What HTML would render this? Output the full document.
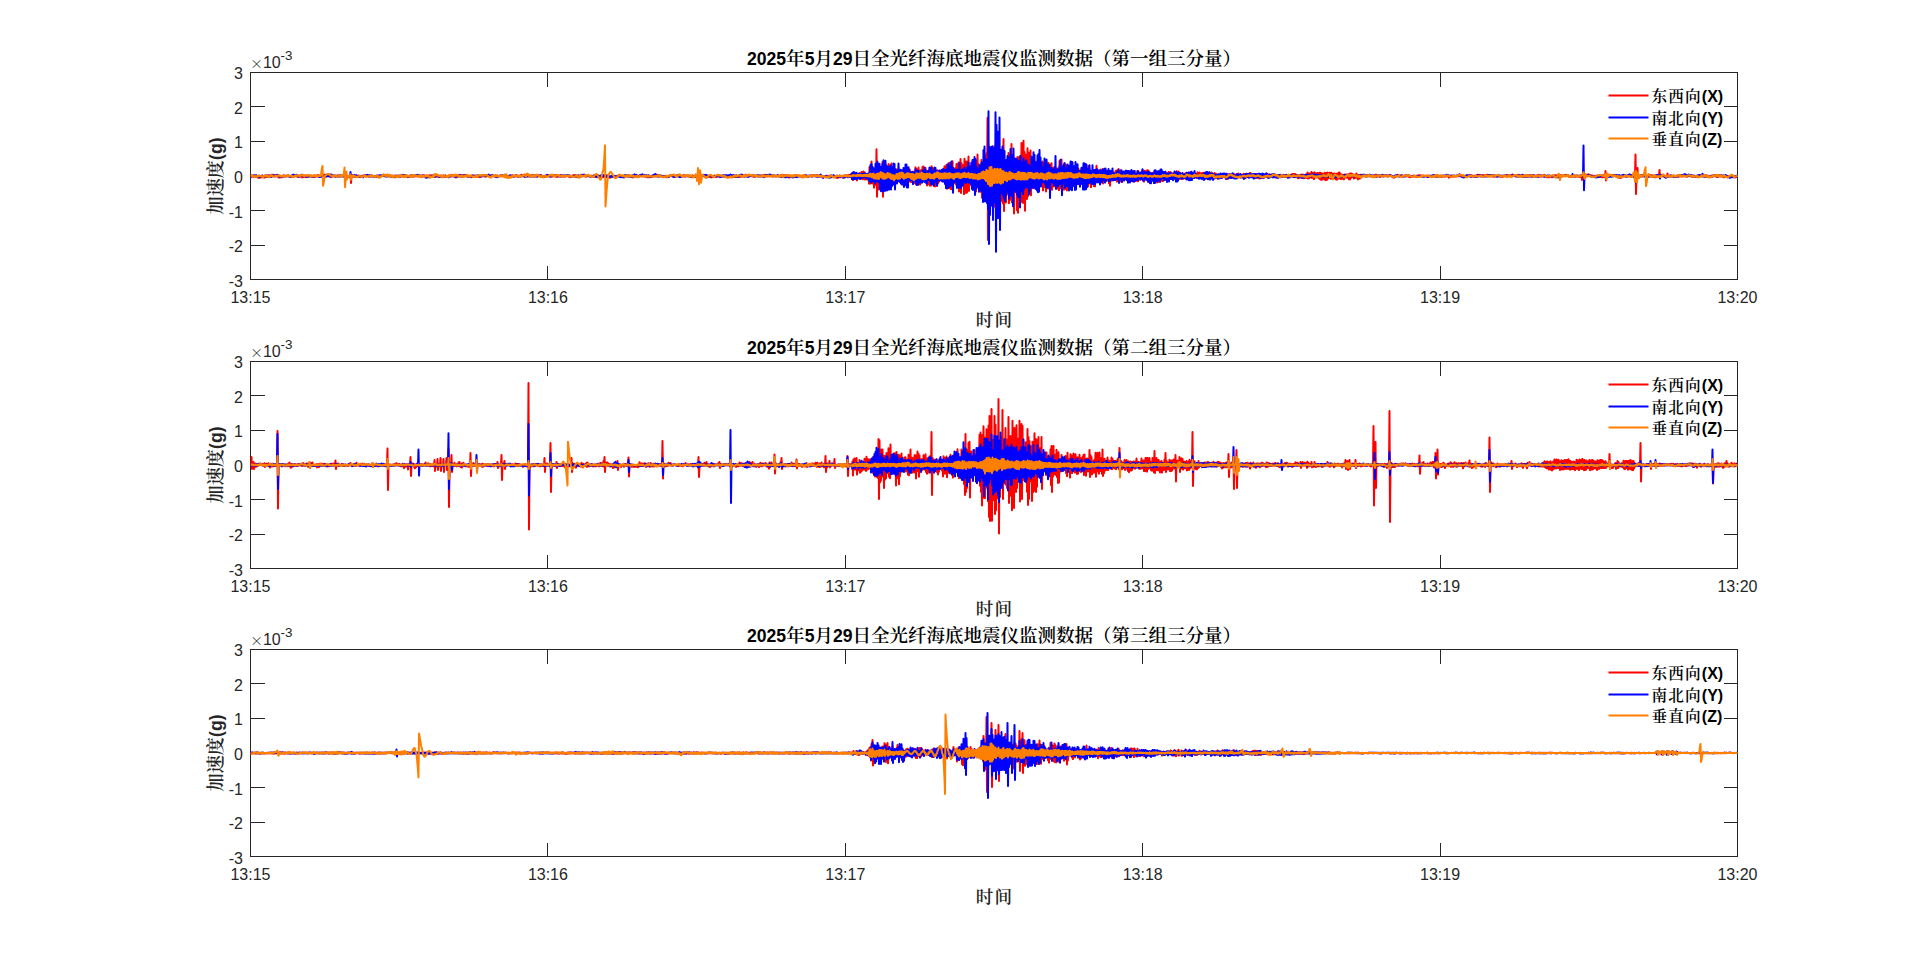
<!DOCTYPE html>
<html lang="zh-CN">
<head>
<meta charset="utf-8">
<title>全光纤海底地震仪监测数据</title>
<style>
html,body{margin:0;padding:0;background:#fff;overflow:hidden}
svg{display:block}
text{font-family:"Liberation Sans","Noto Serif CJK SC",sans-serif;fill:#262626}
.la{font-family:"Liberation Sans",sans-serif}
.cj{font-family:"Noto Serif CJK SC","Noto Sans CJK SC",serif;font-weight:600}
.b .la{font-weight:700}
.k{fill:#000}
.mx{font-family:"Noto Sans CJK SC","Liberation Sans",sans-serif;font-weight:300}
.w{fill:none;stroke-width:2;stroke-linejoin:round;stroke-linecap:butt}
.ax{fill:none;stroke:#262626;stroke-width:1;shape-rendering:crispEdges}
</style>
</head>
<body>
<svg width="1920" height="963" viewBox="0 0 1920 963">
<rect width="1920" height="963" fill="#fff"/>
<defs>
<clipPath id="c0"><rect x="250.5" y="72.5" width="1487.5" height="207.0"/></clipPath>
<clipPath id="c1"><rect x="250.5" y="361.5" width="1487.5" height="207.0"/></clipPath>
<clipPath id="c2"><rect x="250.5" y="649.5" width="1487.5" height="207.0"/></clipPath>
</defs>
<g id="plot1">
<path class="ax" d="M250.5,72.5H1737.5V279.5H250.5ZM547.5,279.5v-14M547.5,72.5v14M845.5,279.5v-14M845.5,72.5v14M1142.5,279.5v-14M1142.5,72.5v14M1440.5,279.5v-14M1440.5,72.5v14M250.5,106.5h14M1737.5,106.5h-14M250.5,141.5h14M1737.5,141.5h-14M250.5,176.5h14M1737.5,176.5h-14M250.5,210.5h14M1737.5,210.5h-14M250.5,245.5h14M1737.5,245.5h-14"/>
<g clip-path="url(#c0)">
<path class="w" stroke="#ff0000" d="M250.5,176.5l.5 .3l.5-.9l.5 .3l.5-.4l.5 .7l.5-.2l.5 .7l.5-.7l.5 .3l.5-.5l.5 .7l.5-.2l.5 .6l.5-.1l.5 .5l.5-.4l.5 .4l.5-.6l.5 .7l.5-1.2l.5 .7l.5-1.1l.5 1.3l.5-1.8l.5 1.3l.5-.5l.5 1.1l.5-1.2l.5 1.1l.5-1.4l.5 .7l.5-1.5l.5 1.1l.5-.5l.5 1.3l.5-1.5l.5 .7l.5-.9l.5 1.1l.5-.6l.5 1.1l.5-2.2l.5 1.3l.5-1.4l.5 1.4l.5-1.2l.5 1.2l.5-.8l.5 .7l.5-.6l.5 .3l.5-.4l.5 .8l.5-.3l.5 1l.5 .2l.5 .6l.5-.6l.5 .3l.5-.5l.5 .6l.5-.6l.5 .3l.5-.5l.5 0l.5-.8l.5 .2l.5-.5l.5 .3l.5-.1l.5 .6l.5-.3l.5 .2l.5-.2l.5 0l.5-.5l.5 .6l.5-.1l.5 .5l.5 .1l.5 .6l.5-.4l.5 .1l.5-.6l.5 .2l.5-.8l.5 .1l.5-.6l.5 .1l.5-.2l.5 .5l.5 .1l.5 .9l.5-.2l.5 .3l.5-.5l.5 0l.5-.5l.5 .4l.5 .1l.5 .5l.5-.3l.5 1l.5-.7l.5 .5l.5-.8l.5 .1l.5-.6l.5 .8l.5-.4l.5 .8l.5-.3l.5 .2l.5-.9l.5 .5l.5-1.1l.5 .7l.5-.4l.5 .3l.5-.4l.5 .9l.5-.6l.5 1l.5-.8l.5 .6l.5-.5l.5 .6l.5-.7l.5 .6l.5-1l.5 .7l.5-1l.5 .6l.5-.7l.5 .9l.5-1.1l.5 .9l.5-.5l.5 .6l.5-.6l.5 .6l.5-.3l.5 .2l.5-.5l.5-.1l.5-.7l.5 .3l.5-.5l.5 .9l.5-.4l.5 .8l.5-.9l.5 .8l.5-.3l.5 .6l.5-.4l.5 .5l.5-.1l.5 .5l.5-.1l.5 .5l.5-.3l.5 .2l.5-.7l.5 0l.5-.5l.5 .2l.5-.4l.5 .5l.5-.5l.5 .4l.5-.4l.5 .4l.5-.4l.5 .4l.5-.4l.5 .7l.5-.2l.5 .4l.5-.9l.5 .8l.5-.6l.5 .3l.5-.2l.5 .4l.5-.8l.5 1l.5-.3l.5 .4l.5-.5l.5 .9l.5-1.2l.5 1.3l.5-.8l.5 .7l.5-.6l.5 .6l.5-.6l.5 .8l.5-2.1l.5 8l.5-7.3l.5 .5l.5-.9l.5 .7l.5-.5l.5 .7l.5-.4l.5 1.2l.5-1.2l.5 .9l.5-.2l.5 .5l.5-.8l.5 .4l.5-1.1l.5 .8l.5-.6l.5 .6l.5-.5l.5 .7l.5-.7l.5 .7l.5-.7l.5 .7l.5-.9l.5 .4l.5-.3l.5 .7l.5-1.1l.5 .7l.5-.8l.5 .7l.5-.7l.5 .7l.5-.4l.5 .7l.5-.2l.5 .6l.5-.6l.5 .6l.5-1.1l.5 .4l.5-.3l.5 .6l.5-.1l.5 .9l.5-.5l.5 .6l.5-.9l.5 .8l.5-1l.5 .3l.5-.4l.5 .6l.5-.5l.5 .7l.5-.4l.5 .4l.5-.6l.5 .5l.5-.9l.5 .3l.5-.8l.5 .6l.5-.6l.5 .6l.5-.6l.5 .4l.5-.6l.5 .7l.5-.5l.5 1l.5-.6l.5 .6l.5-.3l.5 .4l.5-.6l.5 .8l.5-.6l.5 .6l.5-.7l.5 .6l.5-.6l.5 1.2l.5-1.2l.5 1.1l.5-.6l.5 .6l.5-1.3l.5 .8l.5-.9l.5 .6l.5-.2l.5 .4l.5-.3l.5 .2l.5-.4l.5 .6l.5-.4l.5 .5l.5-.8l.5 .6l.5-.8l.5 .9l.5-1.1l.5 .8l.5-.1l.5 .6l.5-.6l.5 .8l.5-.9l.5 .5l.5-.7l.5 .5l.5-.1l.5 .7l.5-.5l.5 .1l.5-.9l.5 .5l.5-.2l.5 .4l.5-.1l.5 .4l.5-.4l.5 .4l.5-.6l.5 .4l.5-.6l.5 .5l.5-1l.5 .5l.5-.4l.5 .7l.5-.2l.5 .5l.5-.2l.5 .4l.5-.4l.5 .3l.5-.4l.5 .1l.5-.4l.5 0l.5-.5l.5 .5l.5-.3l.5 .7l.5-.2l.5 .5l.5-.3l.5 .2l.5-.6l.5 .3l.5-.4l.5 .2l.5-.4l.5 .4l.5-.5l.5 .5l.5-.4l.5 .6l.5-.4l.5 .6l.5-.2l.5 1l.5-.6l.5 .4l.5-.8l.5 .5l.5-1l.5 .8l.5-.4l.5 .8l.5-.2l.5 .5l.5-.8l.5 .7l.5-1.1l.5 .4l.5-.6l.5 .7l.5-.6l.5 .4l.5-.3l.5 .4l.5-.5l.5 .6l.5-.9l.5 1.1l.5-.5l.5 .5l.5-.4l.5 .3l.5-.6l.5 .2l.5-.3l.5 .5l.5-.2l.5 .5l.5-.8l.5 .3l.5-.4l.5 .9l.5-1l.5 .7l.5-.4l.5 .7l.5-.2l.5 1.2l.5-1.1l.5 .2l.5-.9l.5 .7l.5-.9l.5 .6l.5-.4l.5 .5l.5-.7l.5 .8l.5-1.1l.5 .7l.5-.8l.5 .8l.5-.3l.5 .4l.5-.7l.5 .6l.5-1l.5 .9l.5-.7l.5 1.2l.5-.4l.5 .7l.5-.8l.5 .6l.5-.5l.5 .5l.5-.3l.5 .7l.5-.5l.5 .6l.5-1.1l.5 .6l.5-.8l.5 .2l.5-.3l.5 .4l.5-.3l.5 .8l.5-.7l.5 .8l.5-.6l.5 .7l.5-.5l.5 .9l.5-.5l.5 .4l.5-.4l.5 0l.5-.6l.5 .1l.5-.4l.5 .4l.5-.1l.5 .6l.5-.2l.5 .3l.5-.3l.5 .3l.5-.8l.5 .2l.5-.5l.5 .5l.5-.3l.5 .4l.5-.5l.5 .6l.5-.5l.5 .4l.5-.6l.5 .5l.5-1l.5 .8l.5 0l.5 .4l.5-.3l.5 .4l.5-.9l.5 .7l.5-.6l.5 .8l.5-.7l.5 .8l.5-.4l.5 .3l.5-.3l.5 .3l.5-.5l.5 .1l.5-.6l.5 .4l.5-.3l.5 .4l.5-.3l.5 .9l.5-.5l.5 .8l.5-.4l.5 .7l.5-.1l.5 .2l.5-.3l.5 .3l.5-.7l.5 .1l.5-.6l.5 .2l.5-.4l.5 .4l.5-.2l.5 .3l.5-.9l.5 1l.5-.8l.5 .7l.5-.6l.5 .4l.5-.7l.5 .4l.5-.6l.5 .9l.5-.2l.5 .6l.5-.5l.5 .5l.5-.6l.5 0l.5-.6l.5 .9l.5-1.2l.5 1.3l.5-.7l.5 .4l.5-.6l.5 .4l.5-1.1l.5 .8l.5-.6l.5 .7l.5-1l.5 1.4l.5-.6l.5 .8l.5-.7l.5 .7l.5-.6l.5 1.1l.5-1.5l.5 .9l.5-.8l.5 1.4l.5-1.3l.5 .5l.5-.4l.5 .8l.5-.5l.5 .4l.5-.9l.5 1l.5-.7l.5 .5l.5-.5l.5 .8l.5-.5l.5 .3l.5-.9l.5 .5l.5-.7l.5 1l.5-.6l.5 1.1l.5-.2l.5 .7l.5-.3l.5 .4l.5-1l.5 .2l.5-.6l.5 .3l.5-.5l.5 .3l.5-.4l.5 .3l.5-.4l.5 .6l.5-.4l.5 1l.5-.6l.5 .5l.5-.3l.5 .4l.5-.6l.5 .3l.5-.4l.5 .4l.5-.3l.5 .5l.5-.1l.5 .5l.5-.2l.5 .3l.5-.6l.5 .1l.5-.4l.5 0l.5-.4l.5 .2l.5-.7l.5 .8l.5-.3l.5 .5l.5-.6l.5 .9l.5-.3l.5 .5l.5-.4l.5 .4l.5-.3l.5 .1l.5-.7l.5 .2l.5-.9l.5 .8l.5-.1l.5 1l.5-.5l.5 1l.5-.8l.5 .3l.5-.6l.5 .2l.5-.8l.5 .7l.5-1.1l.5 .8l.5-.7l.5 .9l.5-1l.5 1.2l.5-1l.5 1.5l.5-.9l.5 .9l.5-1.1l.5 1l.5-.7l.5 .5l.5-1.1l.5 .7l.5-.9l.5 1l.5-1.1l.5 .8l.5-.8l.5 .7l.5-.5l.5 .9l.5-.7l.5 1.1l.5-.6l.5 .2l.5-.5l.5 .3l.5-.4l.5 .5l.5-.3l.5 .7l.5-.7l.5 .2l.5-.3l.5 .3l.5-.3l.5 .9l.5-.6l.5 .5l.5-.2l.5 .6l.5-.8l.5 .3l.5-.8l.5 .2l.5-.5l.5 .5l.5-.4l.5 .7l.5-.2l.5 .8l.5-.7l.5 .7l.5-.5l.5 1l.5-1l.5 1.1l.5-1.4l.5 .4l.5-.8l.5 .9l.5-.7l.5 .7l.5-1l.5 1.3l.5-1.3l.5 1l.5-.4l.5 .7l.5-.2l.5 1.3l.5-1l.5 .4l.5-.7l.5 .2l.5-.5l.5 .2l.5-.4l.5 .6l.5-.3l.5 .8l.5-.8l.5 .9l.5-1.1l.5 .7l.5-1l.5 .2l.5-.8l.5 .1l.5-.2l.5 .8l.5-.2l.5 .6l.5 0l.5 .4l.5-.1l.5 .2l.5-.5l.5 .3l.5-.8l.5 .3l.5-.3l.5 .2l.5-.3l.5 .1l.5-.4l.5 .7l.5-.6l.5 .4l.5-.4l.5 .7l.5-.5l.5 .8l.5-.7l.5 1.1l.5-.2l.5 .8l.5-.4l.5 0l.5-.6l.5 .3l.5-1l.5 .3l.5-.3l.5 .9l.5-.7l.5 .5l.5-.6l.5 .5l.5-1.1l.5 .1l.5-.5l.5 .5l.5-.4l.5 1.1l.5-.7l.5 .9l.5-1.1l.5 .9l.5-.4l.5 .6l.5-.6l.5 .8l.5-1.4l.5 1.6l.5-1l.5 1.7l.5-1l.5 .9l.5-.4l.5 .2l.5-.8l.5 .2l.5-.7l.5 .6l.5-.8l.5 .6l.5-.7l.5 .4l.5-.4l.5 .5l.5-.6l.5 .7l.5-.5l.5 .5l.5-.9l.5 .7l.5-.8l.5 .5l.5-.4l.5 .7l.5-.4l.5 .7l.5-.5l.5 .9l.5-.4l.5 .6l.5-.4l.5 .4l.5-.5l.5 .3l.5-.5l.5 .6l.5-.6l.5 1.2l.5-1.3l.5 1l.5-.8l.5 .7l.5-.8l.5 .1l.5-1.2l.5 .4l.5-.4l.5 .7l.5-.4l.5 .8l.5-.2l.5 .8l.5-.3l.5 .5l.5-.6l.5 .2l.5-.8l.5-.2l.5-.5l.5 .6l.5-.2l.5 .6l.5 0l.5 .4l.5-.4l.5 .5l.5-.5l.5 .4l.5-.3l.5 .2l.5-.4l.5 .4l.5-.2l.5 .1l.5-.1l.5 .2l.5-.4l.5 0l.5-.3l.5 .4l.5-.1l.5 .6l.5-.3l.5 .6l.5-.6l.5 .5l.5-.6l.5 .3l.5-1.1l.5 .9l.5-.4l.5 .6l.5-.4l.5 .7l.5-.7l.5 .4l.5-.4l.5 .5l.5-.5l.5 .4l.5-.7l.5 .4l.5-.6l.5 .3l.5-.4l.5 .4l.5-.5l.5 .4l.5-.7l.5 .8l.5-.9l.5 .5l.5-.1l.5 1l.5-.5l.5 1.3l.5-.7l.5 1l.5-.8l.5 .4l.5-1.1l.5 .8l.5-.4l.5 .7l.5-.8l.5 1.1l.5-1.1l.5 1.2l.5-1.1l.5 .3l.5-.3l.5 .2l.5-1l.5 1.2l.5-.4l.5 .6l.5-.6l.5 .4l.5-.5l.5 .2l.5-.7l.5 .4l.5-.5l.5 1.1l.5-1.2l.5 .8l.5-.5l.5 .7l.5-.3l.5 .3l.5-.5l.5 .5l.5-.3l.5 .4l.5-.5l.5 .4l.5-.4l.5 .6l.5-.2l.5 .4l.5-.7l.5 .8l.5-.6l.5 .3l.5-.9l.5 0l.5-.7l.5 .5l.5-.3l.5 .8l.5 0l.5 .7l.5-.2l.5 .4l.5-.3l.5 .3l.5-.5l.5 .4l.5-.9l.5 .6l.5-.3l.5 .6l.5-.5l.5 .4l.5-.6l.5 .5l.5-1.1l.5 .7l.5-.4l.5 .4l.5-.8l.5 .5l.5-.6l.5 .2l.5-1l.5 .9l.5-.2l.5 .8l.5-.5l.5 .8l.5-.3l.5 .3l.5-.4l.5 .2l.5-.5l.5 .2l.5-.3l.5 .6l.5-.5l.5 .7l.5-.1l.5 .4l.5-.4l.5 .6l.5-.6l.5 0l.5-.8l.5 .2l.5-.4l.5 .4l.5-.3l.5 .8l.5-.2l.5 .4l.5-.3l.5 .4l.5-.7l.5 .4l.5-.5l.5 .3l.5-.8l.5 .1l.5-.5l.5 .5l.5-.2l.5 .8l.5 .1l.5 .4l.5-.2l.5 .2l.5-.6l.5 .2l.5-.5l.5 .2l.5-.4l.5 .3l.5 0l.5 .6l.5-.1l.5 .6l.5-.6l.5 .1l.5-.2l.5 .3l.5-.4l.5 .3l.5-.4l.5 .2l.5-.6l.5 .8l.5-.7l.5 .5l.5-.3l.5 .4l.5-.4l.5 .5l.5-1.1l.5 1.1l.5-1.4l.5 1.2l.5-.8l.5 .6l.5-.6l.5 .7l.5-.8l.5 .3l.5-.3l.5 1.1l.5-.6l.5 1.4l.5-.4l.5 1.1l.5-1.1l.5 .5l.5-.9l.5 .8l.5-1.2l.5 1.1l.5-.4l.5 .6l.5-.9l.5 .8l.5-1.4l.5 .4l.5-.8l.5 1.4l.5-1.5l.5 1l.5-.4l.5 .6l.5-.8l.5 .7l.5-.4l.5 .4l.5-.3l.5 .4l.5-.5l.5 .8l.5-.9l.5 .5l.5-.7l.5 .3l.5-.5l.5 .6l.5-.9l.5 1.4l.5-.3l.5 .7l.5 0l.5 .4l.5-.6l.5 .1l.5-.7l.5 .3l.5-.8l.5 .3l.5-.4l.5 .5l.5-.7l.5 .8l.5-.8l.5 .6l.5-.5l.5 .8l.5-.4l.5 .3l.5-.9l.5 .8l.5-.9l.5 1l.5-.3l.5 .8l.5-.7l.5 .7l.5-.5l.5 .8l.5-.5l.5 .5l.5-.5l.5 .3l.5-.4l.5 .8l.5-.5l.5 .3l.5-.4l.5 .2l.5-.8l.5 .6l.5-.4l.5 .5l.5-.5l.5 .2l.5-.4l.5 .1l.5-.3l.5 .3l.5-.2l.5 .4l.5-.1l.5 .5l.5-.7l.5 .3l.5-.2l.5 .6l.5 .1l.5 .9l.5-.3l.5 .7l.5-.9l.5 .8l.5-.9l.5 .2l.5-.4l.5 .5l.5-.7l.5 .6l.5-.8l.5 .6l.5-.5l.5 .8l.5-.4l.5 .9l.5-1.2l.5 .7l.5-.8l.5 .3l.5-1.1l.5 .6l.5-.8l.5 .2l.5-.7l.5 .5l.5-.5l.5 .6l.5-.7l.5 1.2l.5-2.6l.5 5.6l.5-5.3l.5 6.4l.5-6.7l.5 5.7l.5-4.8l.5 3.8l.5-4l.5 4.8l.5-3.5l.5 5l.5-6l.5 3.4l.5-4.1l.5 3.1l.5-3.5l.5 3.7l.5-2.3l.5 4.2l.5-6.8l.5 6.3l.5-5.8l.5 6.6l.5-7.8l.5 7.3l.5-6.3l.5 7.2l.5-5.6l.5 4.4l.5-4.1l.5 5.2l.5-5.6l.5 4.7l.5-4.4l.5 9.4l.5-16.5l.5 16.7l.5-16.6l.5 15.8l.5-21.4l.5 21.7l.5-14.9l.5 15l.5-14.5l.5 18.8l.5-16.1l.5 12.9l.5-15.8l.5 16.4l.5-35.8l.5 47.4l.5-30l.5 23l.5-21l.5 13.2l.5-12.2l.5 11.9l.5-13.8l.5 15.2l.5-12.3l.5 14.6l.5-23.3l.5 34.7l.5-27.8l.5 15.9l.5-12l.5 9.7l.5-18.5l.5 20.3l.5-12.9l.5 8.2l.5-13.3l.5 14.4l.5-16.6l.5 17.5l.5-13.4l.5 13.5l.5-15.9l.5 15.4l.5-17.7l.5 21.9l.5-17.1l.5 15.5l.5-12.4l.5 12.3l.5-12.8l.5 14.2l.5-13.3l.5 10.4l.5-12.6l.5 13.2l.5-11.4l.5 8.7l.5-11.1l.5 10.4l.5-9.1l.5 9.5l.5-9l.5 10.2l.5-9.1l.5 12.7l.5-14.1l.5 9.1l.5-8l.5 8.1l.5-9.3l.5 12.9l.5-15.4l.5 11.8l.5-11.8l.5 11.4l.5-6.7l.5 7.6l.5-8.3l.5 8.9l.5-11.5l.5 12.1l.5-9.7l.5 10.4l.5-8.6l.5 7.7l.5-9.1l.5 6.9l.5-7.3l.5 8l.5-8.2l.5 11.8l.5-16l.5 17.2l.5-15.4l.5 15.4l.5-13.5l.5 13.6l.5-17l.5 16.3l.5-12l.5 12.7l.5-14.2l.5 12.1l.5-12.5l.5 10.5l.5-13.6l.5 12.2l.5-12.5l.5 14.7l.5-9.8l.5 6.7l.5-10.4l.5 15.2l.5-11.4l.5 13.9l.5-14.2l.5 13.1l.5-13.7l.5 12l.5-13.7l.5 16.7l.5-17.8l.5 17.6l.5-19.3l.5 16.5l.5-15l.5 14.2l.5-13.2l.5 17.4l.5-16.7l.5 17l.5-14l.5 8.9l.5-9.6l.5 14.2l.5-15.7l.5 13.3l.5-12.1l.5 10.3l.5-10.2l.5 7.6l.5-5.9l.5 7.1l.5-10.4l.5 9.1l.5-6.4l.5 7.2l.5-8.5l.5 8.6l.5-13.6l.5 16l.5-13.7l.5 17.3l.5-21.2l.5 24.1l.5-16.6l.5 14.2l.5-22.6l.5 24.5l.5-25.2l.5 21l.5-21.7l.5 26.8l.5-21.6l.5 21.5l.5-27.8l.5 19.6l.5-8.3l.5 7.8l.5-11.2l.5 13.1l.5-14.3l.5 16.5l.5-20.6l.5 17.7l.5-13.9l.5 12.7l.5-17.8l.5 28.8l.5-29l.5 21.4l.5-24.8l.5 34.1l.5-30.2l.5 23l.5-17.6l.5 14.1l.5-17.6l.5 29.4l.5-35.4l.5 23.9l.5-13.6l.5 23.8l.5-31.4l.5 31l.5-27.4l.5 21.3l.5-30l.5 34.6l.5-24.8l.5 18.3l.5-18.6l.5 18.4l.5-21.9l.5 21l.5-20.5l.5 19l.5-10.8l.5 16.1l.5-22.3l.5 20.7l.5-21.4l.5 27.2l.5-31l.5 21.9l.5-27.9l.5 33.4l.5-23.8l.5 27l.5-21.5l.5 19l.5-19.7l.5 23.3l.5-32l.5 37.7l.5-30.1l.5 32.1l.5-34.4l.5 24.1l.5-28.2l.5 33.7l.5-39.4l.5 38.5l.5-41.1l.5 39.9l.5-74.9l.5 122l.5-93.5l.5 41.9l.5-29.6l.5 54.1l.5-50.8l.5 22.5l.5-22.3l.5 34.5l.5-45.8l.5 43.7l.5-47.3l.5 48.2l.5-49l.5 60.1l.5-60.5l.5 54.3l.5-66.6l.5 81.3l.5-68.5l.5 50.4l.5-36.3l.5 31.3l.5-40l.5 54.4l.5-48.5l.5 42.9l.5-42.2l.5 42l.5-37l.5 39.9l.5-64.6l.5 72l.5-46.8l.5 22.4l.5-23.1l.5 38.9l.5-42.7l.5 34.7l.5-31.5l.5 27.9l.5-37.9l.5 50.4l.5-45.3l.5 42l.5-45.7l.5 40.3l.5-50.5l.5 58.5l.5-47.3l.5 43.5l.5-37.1l.5 51.9l.5-55.4l.5 29l.5-27.3l.5 28l.5-28.8l.5 51.1l.5-53.1l.5 55.6l.5-54.7l.5 33.4l.5-34.7l.5 46.2l.5-47.1l.5 43.2l.5-56l.5 59l.5-43l.5 44.1l.5-62.4l.5 49.2l.5-37.9l.5 58.7l.5-56.1l.5 34.8l.5-32.1l.5 41.6l.5-50.7l.5 47.7l.5-43.5l.5 34.5l.5-20l.5 19.6l.5-35.9l.5 44.7l.5-26.8l.5 17.6l.5-17.5l.5 19.3l.5-22.1l.5 15.3l.5-18.7l.5 26.1l.5-23.1l.5 21.8l.5-25l.5 23.2l.5-24.3l.5 24.9l.5-18.4l.5 18.9l.5-27.1l.5 22.4l.5-16.6l.5 16.1l.5-18.5l.5 22.4l.5-23.7l.5 29l.5-27.1l.5 23.9l.5-22.2l.5 19.1l.5-13.6l.5 20.8l.5-30l.5 20.9l.5-14.2l.5 20.4l.5-25.6l.5 23.8l.5-22.1l.5 25.4l.5-22.8l.5 19.9l.5-23.9l.5 26.5l.5-21.6l.5 18.1l.5-15.6l.5 15.8l.5-19.4l.5 16.2l.5-14.9l.5 11.8l.5-11.4l.5 11.3l.5-11.4l.5 20.1l.5-17.8l.5 19.4l.5-29.4l.5 23.4l.5-19.1l.5 23.2l.5-29l.5 31l.5-21l.5 13.7l.5-17l.5 23.7l.5-26l.5 25.1l.5-24.4l.5 21.4l.5-16.7l.5 21.3l.5-25.3l.5 23.6l.5-20.2l.5 12.5l.5-10.6l.5 9.9l.5-10.4l.5 9.7l.5-7.1l.5 12.3l.5-13.1l.5 6.9l.5-7.4l.5 11.3l.5-10.8l.5 9.6l.5-11.4l.5 11l.5-15.3l.5 17.6l.5-13.3l.5 14.3l.5-15.5l.5 14.2l.5-9.6l.5 7l.5-9.7l.5 12.3l.5-14.1l.5 13.1l.5-9.2l.5 10.7l.5-17l.5 14.4l.5-8.7l.5 12.1l.5-17.8l.5 17.6l.5-12.8l.5 9.1l.5-10l.5 16l.5-20.5l.5 15l.5-11.8l.5 14.6l.5-13.2l.5 16.8l.5-15.4l.5 10l.5-10.6l.5 12.5l.5-13l.5 15.3l.5-15.7l.5 16l.5-16.7l.5 10.6l.5-14.5l.5 13.9l.5-8.4l.5 7.3l.5-6.1l.5 6.8l.5-6.6l.5 7.5l.5-10.7l.5 9.3l.5-8.4l.5 11.1l.5-10.1l.5 12.1l.5-14.2l.5 9.9l.5-10.5l.5 12.3l.5-10.4l.5 9.8l.5-7.6l.5 7.8l.5-9l.5 9.1l.5-7.5l.5 9.9l.5-10.8l.5 13.3l.5-12.4l.5 7.6l.5-6.9l.5 6.2l.5-8.3l.5 8.6l.5-7.4l.5 6.8l.5-6l.5 6l.5-8.5l.5 8.4l.5-9.1l.5 11l.5-8.9l.5 6.3l.5-10l.5 11.4l.5-7.6l.5 8.7l.5-11.2l.5 10.9l.5-6.7l.5 7.5l.5-9.8l.5 7l.5-6.4l.5 7.6l.5-7.6l.5 6.5l.5-5.7l.5 4.4l.5-5.1l.5 7.2l.5-6.6l.5 4.9l.5-7.4l.5 8.9l.5-8.1l.5 5.1l.5-4.1l.5 6.9l.5-8.4l.5 9.8l.5-8.6l.5 5.2l.5-5l.5 9l.5-10.8l.5 8.5l.5-6.1l.5 5.6l.5-4.8l.5 6.9l.5-8.7l.5 9l.5-10l.5 7.4l.5-5.2l.5 6.3l.5-5.9l.5 4.4l.5-5.8l.5 6.4l.5-9l.5 10.2l.5-7.1l.5 8.6l.5-10.8l.5 6.2l.5-5.1l.5 6.1l.5-7.2l.5 7.7l.5-8.3l.5 9.6l.5-9.1l.5 11.2l.5-9.2l.5 7.7l.5-7.4l.5 5.6l.5-5.1l.5 6.4l.5-6.8l.5 7.4l.5-5.3l.5 4.5l.5-8.1l.5 9.9l.5-7.6l.5 5.7l.5-5.5l.5 8.3l.5-9.9l.5 9.6l.5-10.7l.5 9.5l.5-8l.5 6.2l.5-8.4l.5 9.1l.5-8.8l.5 9.9l.5-8.7l.5 8.9l.5-8.4l.5 7.4l.5-6.8l.5 6.6l.5-6.7l.5 4.4l.5-4.2l.5 3.7l.5-3.9l.5 5.2l.5-6.3l.5 6.7l.5-6l.5 5.3l.5-5.9l.5 6.2l.5-4.8l.5 4l.5-4.1l.5 3.7l.5-3.9l.5 5.4l.5-4.6l.5 3.2l.5-4.2l.5 5.1l.5-7l.5 8.5l.5-6.8l.5 7.3l.5-8.7l.5 6.3l.5-3.5l.5 4.6l.5-5.8l.5 5.6l.5-3.4l.5 3.6l.5-4l.5 3.9l.5-3.7l.5 3.2l.5-4.5l.5 4l.5-4.4l.5 5.8l.5-5l.5 3.9l.5-3.5l.5 2.6l.5-3.8l.5 3.7l.5-2.3l.5 4.1l.5-6.9l.5 7l.5-6.4l.5 6.4l.5-4.1l.5 2.5l.5-1.6l.5 2l.5-3.3l.5 2.7l.5-1.8l.5 2.2l.5-3.6l.5 3.9l.5-5.6l.5 5.8l.5-4.3l.5 2.5l.5-3.8l.5 5.4l.5-4.3l.5 3.5l.5-3.9l.5 3.9l.5-3.9l.5 3.4l.5-3.8l.5 5.3l.5-4.8l.5 3.6l.5-2.3l.5 2.5l.5-3.4l.5 3.7l.5-3.8l.5 5.2l.5-5l.5 4.8l.5-4.8l.5 3.4l.5-3.8l.5 5.2l.5-6.1l.5 5.5l.5-3.7l.5 3.8l.5-3l.5 2.5l.5-4.7l.5 5.3l.5-4.2l.5 2.9l.5-2.7l.5 3.7l.5-3l.5 3.9l.5-3.1l.5 2.4l.5-2.6l.5 2.3l.5-4.1l.5 3.7l.5-2.4l.5 2.3l.5-3l.5 2.6l.5-3l.5 3.1l.5-1.7l.5 2.2l.5-3.6l.5 5.2l.5-4.2l.5 3.1l.5-3.7l.5 4.6l.5-4.4l.5 3.3l.5-2.9l.5 2.5l.5-1.8l.5 2.4l.5-2.2l.5 1.5l.5-2.3l.5 1.6l.5-2.8l.5 2.7l.5-1.8l.5 1.9l.5-1.7l.5 2.4l.5-3.3l.5 3.1l.5-2.5l.5 1.6l.5-2.6l.5 3.1l.5-1.5l.5 1.5l.5-1.5l.5 2.6l.5-2.6l.5 2.1l.5-2.5l.5 2.4l.5-3.4l.5 4.2l.5-3.7l.5 3.6l.5-3l.5 2.9l.5-3.1l.5 2.3l.5-2.6l.5 2.7l.5-3.2l.5 2.4l.5-3l.5 2.9l.5-3.2l.5 4l.5-2.4l.5 2.3l.5-2.4l.5 1.7l.5-2.2l.5 2.8l.5-2l.5 2.5l.5-3.1l.5 3.8l.5-3.4l.5 2.8l.5-3.3l.5 3.3l.5-3.3l.5 4.2l.5-3.2l.5 3.5l.5-3.1l.5 2.4l.5-2.8l.5 2.6l.5-2.4l.5 2.1l.5-2.3l.5 1.9l.5-2l.5 1.3l.5-1.4l.5 1.8l.5-2.2l.5 1.8l.5-2.4l.5 2.9l.5-1.9l.5 1.2l.5-1.8l.5 2.2l.5-1.1l.5 1.5l.5-1.6l.5 1.5l.5-2.2l.5 2.6l.5-2.4l.5 1.5l.5-1.5l.5 1.7l.5-.9l.5 1.8l.5-1.2l.5 1.4l.5-2.4l.5 2.3l.5-2.5l.5 1.6l.5-1.7l.5 2l.5-1.9l.5 1.3l.5-1.4l.5 1.4l.5-1.3l.5 .9l.5-1.1l.5 2.1l.5-1.2l.5 1.3l.5-1.9l.5 1.6l.5-1.4l.5 1.4l.5-1.1l.5 1.2l.5-1.2l.5 1.3l.5-1.6l.5 1.2l.5-1.5l.5 1.5l.5-1.9l.5 1.7l.5-2.3l.5 2.1l.5-2.2l.5 2.3l.5-2.2l.5 3l.5-2.8l.5 2l.5-1l.5 2.2l.5-1.9l.5 2.8l.5-2.8l.5 2.4l.5-2.5l.5 2l.5-2.4l.5 2.5l.5-3.1l.5 3.4l.5-3.1l.5 2.5l.5-2.5l.5 3.5l.5-2.5l.5 2.4l.5-3.1l.5 2.8l.5-3.6l.5 3.9l.5-5.5l.5 5.8l.5-4.6l.5 4.5l.5-4.9l.5 4l.5-3.8l.5 3.1l.5-4.6l.5 5.9l.5-4.5l.5 3.3l.5-3.9l.5 6.2l.5-6.9l.5 4.8l.5-3.2l.5 3.5l.5-3.7l.5 3.9l.5-4.5l.5 3.6l.5-3.2l.5 5.1l.5-5.8l.5 6.3l.5-6.3l.5 7.1l.5-6.6l.5 6.5l.5-6l.5 4.1l.5-3.3l.5 4.7l.5-6.4l.5 6.9l.5-6.5l.5 7l.5-7l.5 6.5l.5-7.2l.5 5.9l.5-4l.5 3.8l.5-5.5l.5 4.7l.5-4.3l.5 5.7l.5-6l.5 3.5l.5-2.5l.5 3.7l.5-3.7l.5 4.4l.5-4.6l.5 4.8l.5-4.5l.5 5.4l.5-5.5l.5 5.9l.5-5.9l.5 4.9l.5-5.9l.5 5.5l.5-5.9l.5 6l.5-3.8l.5 4.5l.5-4.8l.5 4.3l.5-3.6l.5 3.7l.5-3.8l.5 4.5l.5-4.9l.5 3.1l.5-2.3l.5 2l.5-2.7l.5 3.2l.5-3.4l.5 3.4l.5-2.6l.5 4.1l.5-5.6l.5 5.8l.5-5.9l.5 4.3l.5-4.4l.5 3.7l.5-2.9l.5 2.4l.5-2.1l.5 4l.5-3.7l.5 2.9l.5-3.4l.5 3.3l.5-4.1l.5 4.1l.5-2.5l.5 4.2l.5-4.3l.5 2.5l.5-2.3l.5 3.4l.5-3.9l.5 1.8l.5-1.9l.5 1.8l.5-1.1l.5 .6l.5-.7l.5 .5l.5-.4l.5 .7l.5-.7l.5 .8l.5-.8l.5 .5l.5-.7l.5 .5l.5-.4l.5 .6l.5-.6l.5 .8l.5-.3l.5 .4l.5-.4l.5 .5l.5-.5l.5 .5l.5-.5l.5 .8l.5-1l.5 .1l.5-1l.5 .7l.5-.7l.5 .9l.5-.2l.5 .7l.5-.5l.5 .9l.5-.4l.5 .9l.5-.9l.5 .4l.5-.9l.5 .6l.5-.4l.5 .7l.5-.8l.5 .4l.5-.8l.5 .3l.5-.3l.5 .5l.5-.6l.5 .9l.5-.3l.5 .6l.5-.7l.5 .4l.5-.9l.5 .2l.5-.4l.5 .8l.5-.3l.5 .8l.5 .1l.5 1l.5-.4l.5 .7l.5-.6l.5 .1l.5-.8l.5 .1l.5-.8l.5 .2l.5-1.1l.5 .6l.5-.2l.5 .7l.5-.4l.5 .6l.5-.8l.5 .6l.5-.4l.5 1.1l.5-.5l.5 .7l.5-.5l.5 .1l.5-1l.5 .5l.5-.5l.5 .5l.5-.6l.5 1l.5-.6l.5 .6l.5-.8l.5 1.4l.5-.5l.5 .8l.5-.9l.5 .7l.5-.7l.5 .5l.5-.7l.5 .4l.5-1l.5 .8l.5-.4l.5 .7l.5-.4l.5 .3l.5-.5l.5 .1l.5-.6l.5 .3l.5-.5l.5 .4l.5-.4l.5 .5l.5-.5l.5 .7l.5-.5l.5 .4l.5-.2l.5 .4l.5-.5l.5 .7l.5-.4l.5 .2l.5-.3l.5 .3l.5-.4l.5 .8l.5-.3l.5 .3l.5-.5l.5 .4l.5-.7l.5 .5l.5-.3l.5 .6l.5-.1l.5 .5l.5-.6l.5 .2l.5-1.1l.5 .8l.5-.5l.5 .4l.5-.5l.5 .7l.5-.8l.5 .8l.5-.9l.5 .7l.5-.4l.5 .5l.5-.7l.5 1.3l.5-1.2l.5 .6l.5-.4l.5 1l.5-1.1l.5 .7l.5-.7l.5 .8l.5-.4l.5 .4l.5-.6l.5 .3l.5-.8l.5 .9l.5-1.1l.5 1.3l.5-.1l.5 1.3l.5-1l.5 .3l.5-.4l.5 .3l.5-.5l.5 .2l.5-.7l.5 .3l.5-.4l.5 .9l.5-.7l.5 .3l.5-.4l.5 .3l.5-.5l.5 .6l.5-.6l.5 .6l.5-.6l.5 .4l.5-.6l.5 .7l.5-.3l.5 .3l.5-.5l.5 .3l.5-.5l.5 .4l.5-.4l.5 .7l.5-.5l.5 .5l.5-.4l.5 .1l.5-.4l.5 .5l.5-.7l.5 .7l.5-.2l.5 .5l.5-.4l.5 .5l.5-1l.5 1.3l.5-1.5l.5 1l.5-.5l.5 1.3l.5-1.2l.5 .6l.5-.7l.5 .6l.5-.7l.5 .5l.5-.7l.5 .9l.5-1.5l.5 1l.5-.8l.5 .6l.5-.7l.5 1l.5-.8l.5 .8l.5-.6l.5 1l.5-1l.5 .6l.5-.6l.5 .1l.5-.4l.5 .7l.5-.5l.5 .6l.5-.9l.5 .9l.5-1.1l.5 1.3l.5-.7l.5 .7l.5-.4l.5 .5l.5-.5l.5 .4l.5-.6l.5 .8l.5-.6l.5 .9l.5-.5l.5 .8l.5-.7l.5 .2l.5-.6l.5 .5l.5-.5l.5 .2l.5-.2l.5 .2l.5-.4l.5 .5l.5-.3l.5 .9l.5-.3l.5 .5l.5-.3l.5 .5l.5-.4l.5 .2l.5-.3l.5 0l.5-.7l.5 .4l.5-.9l.5 .4l.5-.2l.5 .3l.5-.5l.5 .2l.5-.4l.5 .2l.5-.2l.5 .8l.5-.2l.5 .4l.5-.6l.5 .1l.5-1.1l.5 .8l.5-.4l.5 .3l.5-.1l.5 .7l.5-.5l.5 .5l.5-.5l.5 .6l.5-1l.5 1.1l.5-1.1l.5 1.2l.5-.7l.5 1.1l.5-1.1l.5 1l.5-.7l.5 .9l.5-.9l.5 1.3l.5-.7l.5 .5l.5-.8l.5 .3l.5-.6l.5 .4l.5-.9l.5 1.1l.5-.4l.5 .4l.5-.9l.5 .6l.5-.8l.5 .6l.5-.7l.5 .9l.5-.5l.5 .3l.5-.8l.5 .7l.5-.6l.5 .8l.5-.4l.5 .7l.5-.3l.5 .4l.5-.5l.5 .6l.5-.9l.5 .7l.5-1.4l.5 1.2l.5-.5l.5 1l.5-.9l.5 1l.5-.6l.5 .6l.5-.8l.5 .1l.5-.9l.5 .3l.5-.4l.5 .6l.5-.3l.5 1.3l.5-.6l.5 1.4l.5-.7l.5 .7l.5-.6l.5 .4l.5-.7l.5 .4l.5-.5l.5 .3l.5-.2l.5 .8l.5-.8l.5 .2l.5-.9l.5 .4l.5-.9l.5 .6l.5-.4l.5 .4l.5-.4l.5 .8l.5-.3l.5 .5l.5-.9l.5 .8l.5-.7l.5 .3l.5-.6l.5 .4l.5-.2l.5 .5l.5-.5l.5 .7l.5-.6l.5 0l.5-.6l.5 .4l.5-.4l.5 .3l.5-.4l.5 .8l.5-.5l.5 .9l.5-.2l.5 .9l.5-.6l.5 .7l.5-.5l.5 .1l.5-.5l.5 .5l.5-.6l.5 .4l.5-.4l.5 .6l.5-.5l.5 .5l.5-.6l.5 .3l.5-.6l.5 .5l.5-.6l.5 .5l.5-.3l.5 .7l.5-.4l.5 .9l.5-.6l.5 .1l.5-1.4l.5 5l.5-4.5l.5 .6l.5-.5l.5 .9l.5-.3l.5 .4l.5-.6l.5 .1l.5-.7l.5 .1l.5-.9l.5 .5l.5-.8l.5 .7l.5-.2l.5 .7l.5-.3l.5 .7l.5-.5l.5 .7l.5-.3l.5 .4l.5-.4l.5 .9l.5-.8l.5 .5l.5-.6l.5 .3l.5-.5l.5 .5l.5-.3l.5 .6l.5-.1l.5 .7l.5-.2l.5 .3l.5-.4l.5 .4l.5-.3l.5 .6l.5-.6l.5 .2l.5-.2l.5 .3l.5-.6l.5 .3l.5-5.8l.5 9.5l.5-4.4l.5 .2l.5-.5l.5 .3l.5-1l.5 .1l.5-.4l.5 .4l.5-.1l.5 .6l.5-.4l.5 .3l.5-.4l.5 .3l.5-.5l.5 .5l.5-.5l.5 .6l.5-.4l.5 .5l.5-.4l.5 1.2l.5-.5l.5 1.4l.5-.3l.5 .7l.5-.1l.5 .2l.5-1.1l.5 .9l.5-.9l.5 .1l.5-1l.5 .1l.5-.9l.5 1.2l.5-1l.5 .5l.5-.7l.5 .9l.5-.2l.5 .6l.5-.6l.5 .2l.5-1.1l.5 .7l.5-.5l.5 1l.5-.6l.5 .6l.5-.3l.5 .3l.5-.3l.5 .3l.5-.2l.5 .4l.5-.3l.5 .2l.5-21.7l.5 39.5l.5-18.2l.5 .3l.5-8.1l.5 10l.5-2l.5 .2l.5-.4l.5 .4l.5-.5l.5 .6l.5-.5l.5 .5l.5-1.1l.5 1l.5-.8l.5 .3l.5-1.2l.5 1.1l.5-.4l.5 1.8l.5-.7l.5 .7l.5-1l.5 .7l.5-1l.5 .3l.5-1l.5 .8l.5-.6l.5 .4l.5-.4l.5 .8l.5-.7l.5 1.2l.5-.5l.5 1l.5-.9l.5 1.3l.5-1.1l.5 .8l.5-.8l.5 .2l.5-.7l.5 .2l.5-.5l.5 .4l.5-5.9l.5 7l.5-1.5l.5 .6l.5-.2l.5 .4l.5-.4l.5 .4l.5-.6l.5 .8l.5-.2l.5 .5l.5-.5l.5 .4l.5-.6l.5 .6l.5-3.2l.5 3.5l.5-1l.5 .5l.5-.8l.5 .4l.5-.3l.5 .3l.5-.4l.5 .5l.5-.1l.5 .5l.5-.1l.5 .4l.5-.5l.5 .5l.5-.6l.5 .2l.5-.5l.5 .6l.5-.6l.5 .6l.5-.7l.5 .7l.5-.7l.5 .1l.5-.5l.5 .7l.5-.6l.5 .6l.5-.6l.5 .5l.5-.7l.5 .3l.5-.4l.5 .5l.5-.2l.5 .5l.5-.3l.5 1.1l.5-1.1l.5 .4l.5-.6l.5 .2l.5-.6l.5 .5l.5-.2l.5 1l.5-.6l.5 .9l.5-.8l.5 .8l.5-.7l.5 .6l.5-.9l.5 .8l.5-.3l.5 .5l.5-.8l.5 .3l.5-.3l.5 .6l.5-.6l.5 .4l.5-.9l.5 .2l.5-.6l.5 .2l.5-.4l.5 .3l.5-.2l.5 .7l.5-.4l.5 .4l.5-.3l.5 .2l.5-.3l.5 .5l.5-.5l.5 .9l.5-.3l.5 .7l.5-.7l.5 .6l.5-.6l.5 .6l.5-.5l.5 .9l.5-1.3l.5 1l.5-.9l.5 .2l.5-.6l.5 .7l.5-.9l.5 .7l.5-.3l.5 1.2l.5-.5l.5 .4l.5-1.2l.5 1.4l.5-1.7l.5 .6l.5-.4l.5 1l.5-.6l.5 .7l.5-.6l.5 .7l.5-.5l.5 .8l.5-.4l.5 1l.5-1.4l.5 .6l.5-.6l.5 .6l.5-.4l.5 .6l.5-.3l.5 .1l.5-.4l.5 .5l.5-.7l.5 .4l.5-.3l.5 .4l.5-.3l.5 .4l.5-.1l.5 .8l.5-.5l.5 .4l.5-.3l.5 .5l.5-.6l.5 .2l.5-.6l.5 0l.5-.7"/>
<path class="w" stroke="#0000ff" d="M250.5,176.5l.5 .3l.5-.5l.5 .1l.5-.6l.5 .3l.5-.9l.5 .7l.5-.7l.5 .7l.5-.6l.5 .4l.5-.5l.5 1.2l.5 0l.5 .5l.5-.2l.5 .5l.5-.8l.5 .6l.5-.8l.5 .1l.5-.6l.5 .6l.5-.7l.5 .5l.5-.2l.5 .2l.5-.3l.5 .4l.5-.6l.5 .8l.5-.4l.5 .5l.5-.7l.5 .1l.5-.6l.5 .6l.5-.2l.5 1.4l.5-.3l.5 .2l.5-.9l.5 .3l.5-.9l.5 .4l.5-.5l.5 .7l.5-.6l.5 .9l.5-.9l.5 .3l.5-.5l.5 0l.5-.5l.5 .9l.5-.1l.5 .9l.5-.7l.5 .7l.5-.2l.5 .4l.5-.7l.5 .7l.5-.7l.5 .5l.5-1l.5 .7l.5-.2l.5 .6l.5-.6l.5 .5l.5-.7l.5 .2l.5-.3l.5 .4l.5-.5l.5 .9l.5-.5l.5 .9l.5-.8l.5 .3l.5-.8l.5 .3l.5-.8l.5 .3l.5-.9l.5 .8l.5-.1l.5 .5l.5-.5l.5 .8l.5-1.2l.5 1l.5-.8l.5 1.5l.5-.4l.5 .8l.5-.9l.5 .2l.5-.8l.5 .2l.5-.9l.5 1l.5-.8l.5 .8l.5-.3l.5 .8l.5-.5l.5 .4l.5-.4l.5 .5l.5-.4l.5 .7l.5-.3l.5 .5l.5-.3l.5 .2l.5-.5l.5 .3l.5-.5l.5 .2l.5-.4l.5 .4l.5-.2l.5 .5l.5-.4l.5 .4l.5-.3l.5 .1l.5-.3l.5 .3l.5-.3l.5 .4l.5-.5l.5 .5l.5 0l.5 .6l.5-.3l.5 .3l.5-.8l.5 .6l.5-.7l.5 .3l.5-.5l.5 .4l.5-.7l.5 1.1l.5-1l.5 1.2l.5-.8l.5 .5l.5-.8l.5 .8l.5-1l.5 .5l.5-.7l.5 .9l.5-.8l.5 1l.5-2l.5 .8l.5-.6l.5 .9l.5-.3l.5 .7l.5-.5l.5 .8l.5-.4l.5 .9l.5-.9l.5 1.2l.5-1l.5 .6l.5-.8l.5 .8l.5-.8l.5 .6l.5-1.4l.5 1l.5-.5l.5 .8l.5-.5l.5 .6l.5-.5l.5 .6l.5-.8l.5 .3l.5-.7l.5 .4l.5-.4l.5 .8l.5-.4l.5 .9l.5-.4l.5 .6l.5-.6l.5 .3l.5-.4l.5 .5l.5-4.6l.5 5l.5-1.5l.5 .4l.5-.2l.5 .7l.5-.6l.5 .6l.5-1.4l.5 1.3l.5-.9l.5 .8l.5-.9l.5 1.3l.5-.7l.5 1l.5-.6l.5 .6l.5-.9l.5 .6l.5-.6l.5 .9l.5-.6l.5 .7l.5-.5l.5 .8l.5-1.6l.5 .3l.5-.8l.5 .7l.5-.6l.5 .8l.5-.7l.5 .6l.5-1.1l.5 1.1l.5-.5l.5 1.1l.5-1.3l.5 .5l.5-.3l.5 .6l.5-.3l.5 .5l.5-.2l.5 .6l.5-.5l.5 .3l.5-.8l.5 1l.5-.4l.5 .4l.5-1l.5 .6l.5-1l.5 .8l.5-.6l.5 .6l.5-.7l.5 .5l.5-.6l.5 .5l.5-.6l.5 .4l.5-.2l.5 .3l.5-.6l.5 .7l.5-.4l.5 1l.5-.5l.5 .6l.5-.7l.5 .6l.5-.7l.5 .5l.5-1.1l.5 .7l.5-.6l.5 .8l.5-.4l.5 1.1l.5-.7l.5 .5l.5-.8l.5 .7l.5-.3l.5 .7l.5-1.1l.5 1.5l.5-1.2l.5 1.1l.5-1l.5 .5l.5-.9l.5 .9l.5-1.1l.5 1.1l.5-.6l.5 .6l.5-.9l.5 .4l.5-.9l.5 .6l.5-1.1l.5 1.1l.5-.6l.5 .6l.5-.8l.5 .6l.5-.5l.5 1l.5-.4l.5 1.3l.5-.4l.5 .5l.5-.8l.5 .6l.5-.9l.5 .2l.5-.8l.5 .2l.5-.4l.5 .7l.5-.5l.5 .9l.5-.9l.5 .5l.5-.8l.5 .9l.5-.5l.5 .2l.5-.6l.5 .4l.5-.6l.5 .3l.5-.4l.5 .6l.5-.4l.5 .9l.5-.4l.5 1l.5-.7l.5 .4l.5-.8l.5 .6l.5-.2l.5 .7l.5-.3l.5 .6l.5 0l.5 .8l.5-.5l.5 .5l.5-1l.5 .7l.5-.8l.5 .8l.5-.6l.5 .5l.5-.9l.5 .3l.5-.8l.5 .4l.5-.6l.5 .5l.5-.8l.5 1.3l.5-.8l.5 .8l.5-1.4l.5 1.1l.5-1l.5 .9l.5-.4l.5 .6l.5-.5l.5 .7l.5-.4l.5 .7l.5-.7l.5 .6l.5-.7l.5 .5l.5-.4l.5 .6l.5-1.2l.5 1l.5-.8l.5 .8l.5-.3l.5 .5l.5-.3l.5 .5l.5-.4l.5 .6l.5-.4l.5 .3l.5-.6l.5 .1l.5-.7l.5 .4l.5-1.2l.5 .4l.5-.3l.5 .7l.5-.2l.5 .7l.5-.6l.5 .9l.5-.8l.5 .7l.5-1.1l.5 1l.5-1.1l.5 .7l.5-1.1l.5 1.1l.5-1.2l.5 .8l.5-.5l.5 1.1l.5-.2l.5 .7l.5-.6l.5 .3l.5-1.2l.5 .9l.5-1l.5 .8l.5-.5l.5 .8l.5-.6l.5 .7l.5-.3l.5 .5l.5-.3l.5 .6l.5-.3l.5 .4l.5-.2l.5 .3l.5-.8l.5 0l.5-.9l.5 .7l.5-.4l.5 .6l.5-.3l.5 .4l.5-.6l.5 .3l.5-.5l.5 .5l.5-.5l.5 .2l.5-.5l.5 .6l.5-.4l.5 .7l.5-.4l.5 .6l.5-.7l.5 .7l.5-1.2l.5 .6l.5-.4l.5 .3l.5-.5l.5 .7l.5-.7l.5 .6l.5-.4l.5 .3l.5-.5l.5 .6l.5-1.2l.5 1.1l.5-.3l.5 .8l.5-.6l.5 .6l.5-.7l.5 .7l.5-1.1l.5 .9l.5-.4l.5 .6l.5-.2l.5 .6l.5-.2l.5 .7l.5-.2l.5 .3l.5-.8l.5 .3l.5-.6l.5 0l.5-.4l.5 .3l.5-.8l.5 .7l.5-.4l.5 .2l.5-.4l.5 .1l.5-.4l.5 .2l.5-.5l.5 .3l.5 0l.5 .5l.5 0l.5 .7l.5-.1l.5 .4l.5-.5l.5 .1l.5-.6l.5 .2l.5-.4l.5 .6l.5-.4l.5 .6l.5-.3l.5 .7l.5-.4l.5 .7l.5-.7l.5 .3l.5-.7l.5 .6l.5-.7l.5 .6l.5-.2l.5 .8l.5-.9l.5 .5l.5-.4l.5 .5l.5-.7l.5 .3l.5-.5l.5 .5l.5-.4l.5 .5l.5-.4l.5 .6l.5-.2l.5 .8l.5-.6l.5 .6l.5-.7l.5 .2l.5-.9l.5 .5l.5-.4l.5 .5l.5-.3l.5 .5l.5-.8l.5 .7l.5-.7l.5 .2l.5-.6l.5 1.3l.5-.9l.5 .8l.5-.9l.5 .7l.5-.1l.5 .5l.5-.7l.5 .7l.5-.9l.5 .4l.5-.5l.5 .3l.5-.6l.5 .3l.5-.4l.5 .5l.5-.2l.5 .7l.5-.2l.5 .3l.5-.3l.5 .3l.5-.4l.5 .4l.5-.6l.5 .4l.5-.8l.5 .1l.5-.5l.5 .5l.5 0l.5 .8l.5-.1l.5 .5l.5-.7l.5 .3l.5-.3l.5 .4l.5-.5l.5 .2l.5-.4l.5 .1l.5-.4l.5 .5l.5-.8l.5 .3l.5-.4l.5 .3l.5 0l.5 .5l.5-.3l.5 1.1l.5-.4l.5 .4l.5-.9l.5 1l.5-1.1l.5 .6l.5-.3l.5 .4l.5-.8l.5 .5l.5-.6l.5 .4l.5-.3l.5 .3l.5-.5l.5 .5l.5-.5l.5 .4l.5-.3l.5 .7l.5-.7l.5 .5l.5 0l.5 .6l.5-.1l.5 .3l.5-.6l.5 .3l.5-.6l.5 .9l.5-.4l.5 .6l.5-.3l.5 .3l.5-.5l.5 .5l.5-.9l.5 .6l.5-1.2l.5 1.1l.5-.7l.5 .9l.5-.8l.5 .3l.5-1.2l.5 .8l.5-.8l.5 .6l.5-.8l.5 .9l.5-1l.5 1.4l.5-.3l.5 .6l.5-.6l.5 .6l.5-1l.5 .6l.5-.2l.5 .6l.5-.3l.5 .6l.5-.5l.5 .8l.5-.8l.5 .5l.5-.5l.5 .2l.5-.7l.5 .1l.5-.4l.5 .5l.5-.2l.5 .9l.5-.3l.5 .9l.5-1l.5 .6l.5-1l.5 .7l.5-.4l.5 .9l.5-1.4l.5 .8l.5-.9l.5 .4l.5-1.1l.5 1l.5-.3l.5 .6l.5-.4l.5 .9l.5-.7l.5 .6l.5-.3l.5 1l.5-.7l.5 .4l.5-.8l.5 .5l.5-.2l.5 .6l.5-.6l.5 .5l.5-.7l.5 .6l.5-.6l.5 .4l.5-.4l.5 .7l.5-.9l.5 1l.5-.6l.5 .6l.5-.7l.5 .7l.5-.6l.5 .2l.5-.1l.5 .3l.5-.1l.5 .4l.5-.3l.5 .6l.5-.8l.5 .4l.5-.2l.5 .6l.5-.8l.5 .9l.5-2.1l.5 1.1l.5-1.1l.5 .9l.5-1l.5 .6l.5-.5l.5 1.3l.5-1.3l.5 1.1l.5-.7l.5 1l.5-.4l.5 .6l.5-.8l.5 .7l.5-1.4l.5 1.5l.5-1.8l.5 .6l.5-1.3l.5 1.3l.5-.7l.5 1l.5-1.1l.5 1.2l.5-.4l.5 .6l.5-.3l.5 .4l.5-.6l.5 .4l.5-.8l.5 .3l.5-.8l.5 .4l.5-1l.5 1.2l.5-.6l.5 .6l.5-.3l.5 1.3l.5-.9l.5 .6l.5-.5l.5 .5l.5-.5l.5 .2l.5-.7l.5 .7l.5-.2l.5 .9l.5-.6l.5 1.2l.5-.8l.5 .3l.5-.8l.5 .2l.5-1.2l.5 .1l.5-.6l.5 .3l.5-.6l.5 .7l.5-.1l.5 .8l.5-.1l.5 1.1l.5-.3l.5 .6l.5-.8l.5 .2l.5-.5l.5 .3l.5-.2l.5 .5l.5-.3l.5 .5l.5-.5l.5 .2l.5-.3l.5 .4l.5-.4l.5 .5l.5-.4l.5 .8l.5-.3l.5 .4l.5-.5l.5 .2l.5-.9l.5 .3l.5-.6l.5 .5l.5-.7l.5 1.1l.5-.1l.5 .4l.5-.4l.5 .7l.5-1.1l.5 .4l.5-.5l.5 .4l.5-.4l.5 .4l.5-.2l.5 .6l.5-.2l.5 .6l.5-.4l.5 .6l.5-.8l.5 .6l.5-.6l.5 .2l.5-.6l.5 .1l.5-1l.5 .9l.5-.4l.5 .9l.5-.6l.5 .4l.5-.4l.5 .5l.5-.5l.5 .5l.5-.4l.5 .2l.5-.4l.5 .3l.5-.3l.5 1.2l.5-.6l.5 .9l.5-.6l.5 .6l.5-.7l.5 .5l.5-.6l.5 .3l.5-.8l.5 .3l.5-.9l.5 .3l.5-.2l.5 .3l.5 0l.5 .6l.5-.4l.5 .1l.5-.5l.5 0l.5-.3l.5 .7l.5-.2l.5 .4l.5-.4l.5 .3l.5-.9l.5 0l.5-.3l.5 .3l.5 0l.5 .6l.5-.1l.5 .5l.5-.2l.5 .2l.5-.5l.5 0l.5-.4l.5 .7l.5 .1l.5 .8l.5-.3l.5 .3l.5-.5l.5 .4l.5-.6l.5 .4l.5-.4l.5 .3l.5-.4l.5 .2l.5-.7l.5 .7l.5-.5l.5 .6l.5-.5l.5 1.2l.5-.6l.5 .6l.5-.7l.5 0l.5-.6l.5 .4l.5-1.1l.5 1.2l.5-.9l.5 .6l.5-.5l.5 .3l.5-.6l.5 .9l.5-.5l.5 .5l.5-.7l.5 .4l.5-.7l.5 .5l.5-1l.5 1.5l.5-.4l.5 .6l.5-.7l.5 1l.5-1.4l.5 .8l.5-.4l.5 1.1l.5-1.1l.5 .7l.5-1l.5 1.7l.5-.6l.5 .6l.5-1l.5 .3l.5-1.2l.5 1.2l.5-1.4l.5 1.2l.5-1.4l.5 1l.5-.7l.5 .9l.5 0l.5 .5l.5 0l.5 .4l.5-.6l.5 .2l.5-.2l.5 .6l.5-.4l.5 .5l.5-.5l.5 .1l.5-.8l.5 .2l.5-.5l.5 .4l.5 0l.5 .5l.5-.5l.5 .1l.5-.6l.5 .5l.5-.2l.5 .5l.5-.2l.5 .2l.5-.4l.5 .5l.5-.5l.5 1l.5-1.4l.5 1.1l.5-.8l.5 .4l.5-.3l.5 .7l.5-1l.5 .9l.5-.6l.5 1l.5-.5l.5 1.1l.5-.6l.5 0l.5-.9l.5 .1l.5-.9l.5 .6l.5-.5l.5 .4l.5-.6l.5 .5l.5-.8l.5 .4l.5-.1l.5 .6l.5-.2l.5 .3l.5-.2l.5 .4l.5-.4l.5 .2l.5-.1l.5 .4l.5-.1l.5 .8l.5-.8l.5 .1l.5-.6l.5 .3l.5-.2l.5 .7l.5 0l.5 .5l.5-.2l.5 .7l.5-.5l.5 .4l.5-.3l.5 .6l.5-.6l.5 .3l.5-1.1l.5 1.3l.5-.6l.5 .8l.5-1.5l.5 .8l.5-.8l.5 1l.5-1l.5 .7l.5-1.2l.5 1.8l.5-.8l.5 .8l.5-.8l.5 .7l.5-1l.5 1.5l.5-1.1l.5 .8l.5-1.3l.5 .6l.5-.5l.5 1l.5-.7l.5 .8l.5-.9l.5 .2l.5-.4l.5 .4l.5-.5l.5 .4l.5-.2l.5 .2l.5-.3l.5 .6l.5-.5l.5 .3l.5-.4l.5 .3l.5-.4l.5 .3l.5-.5l.5 .1l.5-.4l.5 .5l.5-.2l.5 .4l.5-.4l.5 .1l.5-.3l.5 .4l.5-.2l.5 .6l.5-.1l.5 .5l.5-.5l.5 0l.5-.4l.5 .2l.5-.4l.5 .7l.5-.3l.5 .5l.5-.6l.5 .9l.5-.7l.5 .6l.5-.7l.5 .5l.5-1.3l.5 .3l.5-.9l.5 1.8l.5-1l.5 1.4l.5-.6l.5 1.8l.5-1.4l.5 .4l.5-.5l.5 .3l.5-.7l.5 .5l.5-.7l.5 .7l.5-.9l.5 1.4l.5-.8l.5 1.3l.5-.9l.5 .7l.5-1.1l.5 1.1l.5-1.9l.5 1.4l.5-.9l.5 .5l.5-1.4l.5 1.6l.5-.5l.5 .8l.5-.9l.5 .5l.5-.7l.5 .5l.5-.7l.5 .9l.5-.6l.5 .5l.5-.9l.5 .9l.5-.7l.5 1.2l.5-.7l.5 .5l.5-.6l.5 1.4l.5-1.2l.5 1l.5-1.2l.5 1.1l.5-1.8l.5 .8l.5-.4l.5 .4l.5-.2l.5 1.2l.5-1.1l.5 .8l.5-.9l.5 .9l.5-1.4l.5 .5l.5-2.2l.5 5.2l.5-6.1l.5 4.4l.5-5.4l.5 7.3l.5-6.8l.5 6.4l.5-5.3l.5 4.9l.5-5.8l.5 6.3l.5-4.8l.5 3.7l.5-4l.5 4.5l.5-4.8l.5 5.4l.5-4.9l.5 3.5l.5-3.4l.5 3.9l.5-4l.5 2.6l.5-2.4l.5 2.6l.5-3.7l.5 3.4l.5-3.2l.5 5.2l.5-4l.5 2.8l.5-3.7l.5 4.9l.5-4.8l.5 6.8l.5-7.7l.5 8.5l.5-16.3l.5 17.3l.5-18.3l.5 17.4l.5-14.7l.5 14.4l.5-13l.5 12.6l.5-10.5l.5 13.1l.5-19.7l.5 17.1l.5-10.8l.5 10.9l.5-19.2l.5 20.4l.5-13.4l.5 9.2l.5-14.1l.5 25.7l.5-21.8l.5 23.6l.5-24.9l.5 23.3l.5-25.7l.5 27.5l.5-31.2l.5 25.1l.5-22.2l.5 27.9l.5-30.4l.5 27.1l.5-22.1l.5 24.8l.5-23.4l.5 18.7l.5-19.1l.5 23.1l.5-22.5l.5 19.5l.5-21.5l.5 24.3l.5-22.5l.5 18.9l.5-18.4l.5 15.2l.5-19.4l.5 21.4l.5-20.8l.5 25.5l.5-20.5l.5 13.3l.5-10.4l.5 11.6l.5-12.7l.5 10.7l.5-18l.5 15.9l.5-8.5l.5 11.3l.5-12.4l.5 13.9l.5-13.4l.5 11.4l.5-11.2l.5 14.1l.5-16.7l.5 19l.5-16.9l.5 15.6l.5-21.2l.5 18.8l.5-18.6l.5 23l.5-17.6l.5 17.4l.5-20.2l.5 13.3l.5-9.9l.5 9l.5-7.1l.5 7.7l.5-7.8l.5 6.9l.5-7.6l.5 12.4l.5-11l.5 4.8l.5-5.2l.5 8l.5-11.4l.5 13.7l.5-9.1l.5 11l.5-14.1l.5 13.9l.5-14l.5 10.3l.5-8.1l.5 9.7l.5-9.8l.5 9.3l.5-8.8l.5 9.4l.5-12.1l.5 8.9l.5-7.1l.5 9l.5-13.6l.5 14.5l.5-12.3l.5 10.9l.5-9.1l.5 11.9l.5-12.3l.5 8.8l.5-9.3l.5 8.8l.5-12.3l.5 13.7l.5-13.2l.5 16.1l.5-16l.5 13.3l.5-10.6l.5 14.1l.5-11.8l.5 12.2l.5-17.7l.5 14.1l.5-13.6l.5 14.3l.5-11.8l.5 15l.5-11.4l.5 6.7l.5-9.2l.5 7.5l.5-8.5l.5 9.8l.5-9.3l.5 8.3l.5-9l.5 10.9l.5-11.8l.5 12.2l.5-12.7l.5 11.3l.5-10.2l.5 13.8l.5-13.9l.5 18.1l.5-18.3l.5 18.3l.5-23l.5 22.8l.5-24.3l.5 20.2l.5-14.4l.5 17.2l.5-20.7l.5 19.6l.5-24l.5 20.6l.5-13l.5 23.6l.5-24.7l.5 14.9l.5-12.3l.5 11.2l.5-12.1l.5 10.2l.5-9.3l.5 17.4l.5-18.6l.5 12.2l.5-11.8l.5 17.9l.5-24.7l.5 23.3l.5-14.9l.5 16.6l.5-17.8l.5 12.5l.5-13.4l.5 16.2l.5-15.7l.5 12.4l.5-14.6l.5 14.7l.5-12.5l.5 13.1l.5-13.5l.5 12.5l.5-15l.5 13.1l.5-17.4l.5 20.1l.5-15.7l.5 15l.5-13.1l.5 15.7l.5-21.9l.5 26.3l.5-29l.5 30l.5-30.2l.5 26.4l.5-29.1l.5 37.9l.5-36l.5 30l.5-22.7l.5 20.6l.5-18.4l.5 17.7l.5-16.4l.5 22l.5-26.8l.5 21.9l.5-20.6l.5 24.4l.5-28.2l.5 22l.5-19.9l.5 37.4l.5-52l.5 49l.5-52.4l.5 54.8l.5-42.5l.5 33l.5-32.1l.5 43.1l.5-41.3l.5 47.3l.5-97.6l.5 132.7l.5-97.4l.5 68.4l.5-62.9l.5 51.3l.5-56.3l.5 58.7l.5-59.5l.5 73.6l.5-72l.5 45.1l.5-33.6l.5 43l.5-90.2l.5 139.6l.5-127.1l.5 61.8l.5-54.9l.5 86.7l.5-64.6l.5 41.6l.5-77.8l.5 112.5l.5-80.6l.5 39.7l.5-39.2l.5 43l.5-46.4l.5 48.7l.5-44.7l.5 48.1l.5-47.6l.5 50.1l.5-32.9l.5 27.2l.5-35.4l.5 32.2l.5-36.2l.5 34.9l.5-33.5l.5 41.4l.5-35.7l.5 31l.5-45.1l.5 46.8l.5-40.7l.5 37l.5-26.4l.5 40.5l.5-57.8l.5 42.4l.5-27.5l.5 19.7l.5-24.2l.5 33.5l.5-33.5l.5 35.7l.5-34l.5 36.7l.5-36.4l.5 31.8l.5-31.9l.5 46.9l.5-51.7l.5 30.4l.5-24l.5 28.5l.5-26.8l.5 30.3l.5-36.1l.5 31.1l.5-25.6l.5 20.4l.5-22.6l.5 26.1l.5-27.3l.5 25.7l.5-21l.5 22.8l.5-23.2l.5 30l.5-28.3l.5 24.5l.5-24.6l.5 21.2l.5-30.6l.5 31l.5-25.2l.5 22.7l.5-33l.5 35.6l.5-33.1l.5 31.3l.5-20.4l.5 23.4l.5-27l.5 28.3l.5-34.9l.5 36.8l.5-38.4l.5 37.8l.5-41.6l.5 36.2l.5-28.7l.5 28.8l.5-23.8l.5 20.1l.5-15.3l.5 12.7l.5-12.2l.5 14.1l.5-23.4l.5 25.2l.5-14.1l.5 17.5l.5-27.8l.5 27.8l.5-23.3l.5 23.5l.5-19.7l.5 14.8l.5-17.5l.5 33l.5-27.1l.5 10.7l.5-13.7l.5 13.8l.5-11.4l.5 12.7l.5-13.6l.5 15.7l.5-17.9l.5 18l.5-29.2l.5 33l.5-19l.5 12.4l.5-12.8l.5 16.6l.5-15.2l.5 10.6l.5-15.2l.5 17.9l.5-24.6l.5 22.9l.5-13.8l.5 26.5l.5-28.3l.5 13.6l.5-15.5l.5 18.6l.5-20.7l.5 24.7l.5-19.8l.5 17.8l.5-17.8l.5 17.8l.5-21.1l.5 21.6l.5-18.7l.5 23l.5-24.9l.5 20.3l.5-24.5l.5 28l.5-27.6l.5 28.4l.5-28l.5 24.1l.5-17.5l.5 15.9l.5-18.8l.5 24l.5-27.9l.5 27.6l.5-21.5l.5 15.5l.5-19.4l.5 19.8l.5-13.6l.5 11.9l.5-10.2l.5 14.7l.5-15.9l.5 13.1l.5-16.2l.5 15.7l.5-15.4l.5 21.3l.5-26.2l.5 26.3l.5-25.9l.5 25.8l.5-25.5l.5 25.4l.5-24.6l.5 22.5l.5-18.6l.5 14.5l.5-14.2l.5 14.1l.5-17.8l.5 15.6l.5-10l.5 11.7l.5-11.7l.5 13.4l.5-19l.5 16.7l.5-10.3l.5 12.6l.5-14.3l.5 14.2l.5-13.5l.5 8.9l.5-10.2l.5 13.2l.5-13.1l.5 9.9l.5-7.8l.5 10.9l.5-11.9l.5 14l.5-13.7l.5 10.1l.5-7.6l.5 9.1l.5-13.2l.5 10.7l.5-9l.5 7.5l.5-9.1l.5 13.3l.5-14.1l.5 12.5l.5-10.1l.5 8.1l.5-8.2l.5 8.3l.5-10l.5 12.1l.5-8.4l.5 8.1l.5-10.1l.5 8.3l.5-6.5l.5 7.2l.5-11.2l.5 11.6l.5-6.6l.5 6.2l.5-6.3l.5 6.6l.5-6.5l.5 5.3l.5-6.5l.5 6.8l.5-7.4l.5 7.7l.5-9.7l.5 13.2l.5-10.3l.5 6.5l.5-5.9l.5 4.7l.5-7.8l.5 11.6l.5-9l.5 5.2l.5-6.4l.5 8.9l.5-7.3l.5 6.1l.5-8.5l.5 8.4l.5-8.5l.5 9.6l.5-9.2l.5 11.6l.5-11.6l.5 10.1l.5-9.9l.5 11.1l.5-11.1l.5 8.3l.5-9.6l.5 10.8l.5-9l.5 9.6l.5-10.1l.5 9.9l.5-10.1l.5 10l.5-6.8l.5 5.7l.5-5.9l.5 5.9l.5-8.9l.5 8.9l.5-7.7l.5 6.5l.5-4.9l.5 4.5l.5-5.6l.5 6.6l.5-7.3l.5 6.1l.5-8.9l.5 11.5l.5-7.3l.5 5.3l.5-6.7l.5 7.7l.5-7.2l.5 6.6l.5-4.9l.5 5.9l.5-8.1l.5 9.7l.5-9.8l.5 8.2l.5-8l.5 11.1l.5-9.5l.5 9.4l.5-9.7l.5 5.8l.5-6.1l.5 7.6l.5-6.6l.5 8.9l.5-12.5l.5 12.3l.5-12.6l.5 9.8l.5-8.5l.5 9.7l.5-9.8l.5 9.1l.5-9.4l.5 8.4l.5-7.6l.5 9.9l.5-12.5l.5 9.9l.5-9.7l.5 8.2l.5-6.3l.5 6.4l.5-5.9l.5 8.1l.5-8.1l.5 6.9l.5-7.1l.5 8l.5-5.8l.5 8l.5-8.2l.5 6l.5-6.3l.5 7.9l.5-8.1l.5 5.2l.5-5.9l.5 6.5l.5-5.6l.5 5.5l.5-4.1l.5 5.3l.5-5.6l.5 4.1l.5-7.1l.5 6.7l.5-4.5l.5 7.8l.5-9.5l.5 9.5l.5-8.3l.5 7.5l.5-7.8l.5 5.6l.5-5.8l.5 4.9l.5-3.6l.5 3.1l.5-2.8l.5 4.1l.5-5.5l.5 5.5l.5-3.8l.5 3.3l.5-3.1l.5 3l.5-3.4l.5 2.7l.5-4.5l.5 6.9l.5-6.7l.5 5l.5-5.5l.5 7.9l.5-6.7l.5 6.6l.5-7.7l.5 7.4l.5-8.2l.5 8.2l.5-7l.5 4.4l.5-2.8l.5 3.6l.5-7l.5 6.2l.5-3.7l.5 3.7l.5-2.2l.5 2.8l.5-2.7l.5 1.9l.5-1.8l.5 3.5l.5-2.8l.5 2.5l.5-2.8l.5 2.2l.5-3.1l.5 4.4l.5-3.6l.5 3.2l.5-4.5l.5 5.6l.5-7l.5 5.9l.5-6.3l.5 5.5l.5-5.9l.5 6.5l.5-6.6l.5 7.3l.5-6.2l.5 5.7l.5-6.5l.5 7.3l.5-4.8l.5 3.5l.5-4.3l.5 4.3l.5-4.7l.5 6.3l.5-6l.5 4.9l.5-3.4l.5 2.8l.5-3.1l.5 2.9l.5-2.3l.5 2.6l.5-3.8l.5 3.1l.5-3.3l.5 4.1l.5-3.4l.5 3.2l.5-4.8l.5 4.1l.5-2.6l.5 3.2l.5-4.3l.5 3.1l.5-3.5l.5 3l.5-2.8l.5 3.3l.5-2.6l.5 4.3l.5-4.9l.5 5l.5-3.8l.5 2.4l.5-2.5l.5 3.2l.5-4l.5 3.2l.5-2.8l.5 3.4l.5-3.6l.5 3.8l.5-4.7l.5 4.3l.5-3.4l.5 4.1l.5-3.1l.5 3.2l.5-2.4l.5 2.6l.5-3.1l.5 2.8l.5-4.3l.5 3.2l.5-2.2l.5 2.1l.5-2.4l.5 2.7l.5-3.5l.5 3.2l.5-2.1l.5 1.8l.5-1.6l.5 2.5l.5-2.1l.5 3.4l.5-4.1l.5 3.3l.5-4.1l.5 2.6l.5-3l.5 2.9l.5-2.5l.5 2.5l.5-2.5l.5 3.7l.5-4.1l.5 3.7l.5-2.8l.5 1.7l.5-1.9l.5 2.9l.5-3l.5 3.4l.5-3.2l.5 4.2l.5-4.6l.5 3.5l.5-3.5l.5 3.5l.5-3l.5 2.7l.5-3.1l.5 3.1l.5-3.5l.5 3.6l.5-3.7l.5 3.8l.5-3.5l.5 3.5l.5-3.1l.5 3l.5-3.8l.5 4.3l.5-3.8l.5 3.8l.5-2.8l.5 1.7l.5-3.1l.5 3.2l.5-3.7l.5 2.9l.5-1.3l.5 3l.5-3.1l.5 3.2l.5-2.5l.5 1.8l.5-2.2l.5 1.8l.5-2.4l.5 1.9l.5-1.9l.5 3l.5-3.2l.5 2.6l.5-2.6l.5 3.1l.5-2.6l.5 2.6l.5-1.9l.5 2l.5-1.9l.5 2.4l.5-2.6l.5 2l.5-2.3l.5 1.5l.5-1.6l.5 2.3l.5-1.8l.5 1.4l.5-1.6l.5 1.4l.5-1.3l.5 .8l.5-.8l.5 1l.5-1.3l.5 1.5l.5-1.7l.5 2.1l.5-1.1l.5 2.1l.5-1.8l.5 1.1l.5-1.4l.5 1.6l.5-2.3l.5 2.2l.5-1.5l.5 1.2l.5-2l.5 2l.5-1l.5 1l.5-1.2l.5 1.5l.5-1.6l.5 1.3l.5-1.5l.5 1.4l.5-1.7l.5 1.4l.5-.9l.5 .8l.5-1l.5 1.5l.5-1.5l.5 2.1l.5-1.5l.5 1.6l.5-2.2l.5 2.3l.5-2.1l.5 1.9l.5-2.1l.5 1.5l.5-2.2l.5 2l.5-1.8l.5 1.5l.5-1.7l.5 1.5l.5-1.2l.5 1.3l.5-1.2l.5 1l.5-.8l.5 1l.5-1.7l.5 1.1l.5-1.6l.5 1.6l.5-1.2l.5 1.5l.5-1.4l.5 1.6l.5-1.1l.5 .9l.5-1.4l.5 1.8l.5-1.4l.5 1.2l.5-1.2l.5 1.4l.5-1.1l.5 1.3l.5-1l.5 1l.5-1.2l.5 1.1l.5-1.3l.5 1.2l.5-.9l.5 .7l.5-.7l.5 .7l.5-.9l.5 .9l.5-.6l.5 1l.5-.6l.5 .6l.5-1.1l.5 .6l.5-.9l.5 .8l.5-.7l.5 1l.5-1.4l.5 1l.5-.5l.5 1.1l.5-1l.5 1.7l.5-1l.5 .8l.5-1l.5 1l.5-1.2l.5 .6l.5-.4l.5 .7l.5-.5l.5 .8l.5-.7l.5 .7l.5-.7l.5 .6l.5-.6l.5 .2l.5-.8l.5 .3l.5-.6l.5 .4l.5-.4l.5 .3l.5-1.1l.5 .6l.5-.5l.5 .7l.5-.5l.5 .5l.5-.7l.5 1l.5-.6l.5 .7l.5-.7l.5 .8l.5-.1l.5 .2l.5-.4l.5 .5l.5-.8l.5 .7l.5-.4l.5 .4l.5-.4l.5 .6l.5-.6l.5 .4l.5-.1l.5 .2l.5-.5l.5 .3l.5-.5l.5 .4l.5-.6l.5 .7l.5-.7l.5 .4l.5-.5l.5 .1l.5-.8l.5 .8l.5-.5l.5 1.4l.5-.7l.5 1.2l.5-1.2l.5 1l.5-1l.5 .7l.5-1l.5 .6l.5-1.2l.5 1.5l.5-1l.5 1.2l.5-.9l.5 .7l.5-.6l.5 .5l.5-.6l.5 .7l.5-.5l.5 1.1l.5-.4l.5 .5l.5-.6l.5 .5l.5-.8l.5 .1l.5-.6l.5 .4l.5-.4l.5 .4l.5-.6l.5 .5l.5-.7l.5 .8l.5-.9l.5 1.4l.5-1.1l.5 .9l.5-.5l.5 .6l.5-1l.5 1.1l.5-.7l.5 .4l.5-.5l.5 .4l.5-.4l.5 .4l.5-.4l.5 .3l.5-.4l.5 .6l.5 0l.5 .5l.5-.1l.5 .6l.5-.6l.5 .1l.5-.6l.5-.1l.5-.4l.5 .4l.5-.6l.5 .5l.5 0l.5 .6l.5-.1l.5 .4l.5-.4l.5 .3l.5-.5l.5 .1l.5-.6l.5 .2l.5-.4l.5 .6l.5 0l.5 .5l.5-.1l.5 .2l.5-.6l.5 .3l.5-.6l.5 .3l.5-.3l.5 .3l.5-.5l.5 .5l.5-.4l.5 .6l.5-.2l.5 .4l.5-.3l.5 .5l.5-.5l.5 .3l.5-.3l.5 .1l.5-.4l.5 .2l.5 0l.5 .5l.5 0l.5 .4l.5-.6l.5 .4l.5-.4l.5 .2l.5-.3l.5 .1l.5-.3l.5 .4l.5-.1l.5 .4l.5-.2l.5 .4l.5-.6l.5 .5l.5-.4l.5 .1l.5-.5l.5 .6l.5-.3l.5 .4l.5-.5l.5 .8l.5-.9l.5 .3l.5-.5l.5 .3l.5-.3l.5 .4l.5-.4l.5 .7l.5-1.2l.5 .7l.5-.9l.5 .4l.5-.2l.5 .6l.5-.1l.5 .9l.5-.4l.5 .3l.5-.4l.5 .7l.5-.7l.5 .5l.5-.7l.5 .4l.5-.4l.5 .4l.5-.4l.5 .1l.5-.3l.5 .2l.5-.5l.5 .7l.5-.6l.5 .5l.5-.6l.5 .5l.5-1.1l.5 .3l.5-.4l.5 .6l.5-.3l.5 .9l.5-.2l.5 .2l.5-.3l.5 .3l.5-.4l.5 .3l.5-.3l.5 .2l.5-.1l.5 .2l.5-.2l.5 .3l.5-.3l.5 .5l.5-.7l.5 .5l.5-.6l.5 .1l.5-.6l.5 .2l.5-1l.5 1.2l.5-.3l.5 1.1l.5-.1l.5 1l.5-.3l.5 .6l.5-.7l.5 .9l.5-.5l.5 .1l.5-1l.5-.1l.5-.7l.5 .7l.5-.4l.5 .3l.5-.5l.5 .7l.5-1l.5 .9l.5-.3l.5 1l.5-.8l.5 .6l.5-.7l.5 .8l.5-.6l.5 .4l.5-.6l.5 1l.5-.7l.5 .9l.5-.7l.5 .3l.5-1.4l.5 1.5l.5-1.3l.5 .7l.5-.5l.5 .6l.5-.6l.5 .9l.5-.6l.5 .3l.5-.7l.5 .8l.5-.6l.5 .7l.5-.4l.5 .6l.5-.6l.5 .5l.5-.5l.5 .6l.5-.9l.5 .2l.5-.6l.5 .2l.5-.5l.5 .5l.5-.5l.5 .6l.5-.4l.5 .4l.5-.6l.5 .3l.5-.3l.5 .9l.5-.4l.5 .6l.5-.3l.5 .7l.5-.5l.5 .8l.5-.8l.5 .5l.5-1.1l.5 .8l.5-.9l.5 1l.5-.7l.5 .5l.5-.4l.5 .4l.5-.5l.5 .2l.5-.3l.5 .3l.5-.3l.5 .3l.5-.4l.5 .2l.5-.3l.5 .5l.5-.2l.5 .5l.5-.2l.5 .4l.5-.5l.5 .3l.5-.4l.5 .2l.5-.5l.5 .6l.5-.8l.5 .8l.5-.5l.5 .4l.5-.5l.5 .8l.5-.3l.5 .6l.5-.2l.5 .3l.5-.4l.5 .4l.5-1.2l.5 1l.5-1.3l.5 .7l.5-.8l.5 .9l.5-.4l.5 .5l.5-1.3l.5 1.6l.5-1.2l.5 1l.5-.3l.5 .9l.5-.7l.5 .6l.5-.9l.5 .9l.5-1.3l.5 1.4l.5-.8l.5 1l.5-1l.5 .7l.5-.9l.5 .9l.5-1.2l.5 1.4l.5-1.4l.5 1.2l.5-.7l.5 .3l.5-.6l.5 .8l.5-.5l.5 .7l.5-.9l.5 .7l.5-.5l.5 1.1l.5-.8l.5 .2l.5-.7l.5 .1l.5-.5l.5 .7l.5-.5l.5 .6l.5-.1l.5 .3l.5 .1l.5 .4l.5-.2l.5 .2l.5-.4l.5 .1l.5-.6l.5 .2l.5-.5l.5 .1l.5-.3l.5 .4l.5-.3l.5 .5l.5-.1l.5 .4l.5-.5l.5 .4l.5-.4l.5 .5l.5-.5l.5 .7l.5-.3l.5 .5l.5-.4l.5 .7l.5-.1l.5 .4l.5-.2l.5 .3l.5-.4l.5 0l.5-.8l.5 .1l.5-.6l.5 .6l.5-.6l.5 .5l.5-.4l.5 .1l.5-.5l.5 .5l.5-.4l.5 .4l.5-.8l.5 .8l.5-.6l.5 .4l.5-.3l.5 .3l.5-.1l.5 .5l.5-.2l.5 .7l.5-.4l.5 .7l.5-.8l.5 .2l.5-2.3l.5 2.5l.5-.6l.5 .7l.5-.6l.5 .6l.5-.7l.5 .6l.5-.8l.5 .6l.5-.3l.5 .5l.5-.7l.5 .6l.5-.6l.5 .3l.5-.7l.5 .6l.5-.5l.5 .3l.5-.5l.5 .7l.5-30.6l.5 44.9l.5-14.6l.5 .4l.5-.1l.5 .2l.5-.7l.5 .5l.5-.8l.5 .1l.5-.3l.5 .6l.5 0l.5 .6l.5-.1l.5 .5l.5-.5l.5 .5l.5-.7l.5 .7l.5-.4l.5 .8l.5-.3l.5 .5l.5-.4l.5 .6l.5-.6l.5 .3l.5-1.3l.5 1.3l.5-.9l.5 .7l.5-1.6l.5 .9l.5-.7l.5 .5l.5-.8l.5 .8l.5-.6l.5 .5l.5-.7l.5 .6l.5-.8l.5 1.2l.5-.5l.5 .6l.5-.7l.5 .5l.5-.4l.5 .5l.5-.5l.5 1.3l.5-1.1l.5 .6l.5-.5l.5 .8l.5-.7l.5 .6l.5-.9l.5 .6l.5-.9l.5 .4l.5-.9l.5 .9l.5-.5l.5 .7l.5-.9l.5 1.2l.5-1.3l.5 1.9l.5-1.6l.5 1.2l.5-1.5l.5 1.3l.5-.5l.5 1.4l.5-1.8l.5 .8l.5-1.2l.5 .9l.5-1.1l.5 1.3l.5-.9l.5 .8l.5-.4l.5 1.1l.5-.9l.5 .8l.5-1.2l.5 .7l.5-.9l.5 .3l.5-1.2l.5 1l.5-.5l.5 .9l.5-.7l.5 .9l.5-.6l.5 1.2l.5-.7l.5 1.2l.5-1l.5 1.1l.5-3.2l.5 9l.5-7l.5 .7l.5-.6l.5 .9l.5-.8l.5 .4l.5-.7l.5 .6l.5-1l.5 .8l.5-1l.5 1l.5-.5l.5 .6l.5-.6l.5 .5l.5-.4l.5 .6l.5-1l.5 1.2l.5-.4l.5 .7l.5-.9l.5 .9l.5-.9l.5 .6l.5-.8l.5 .4l.5-.4l.5 .6l.5-.1l.5 .3l.5-.4l.5 .2l.5-.8l.5 .2l.5-.6l.5 .3l.5-.3l.5 .2l.5-.4l.5 .2l.5-.2l.5 .2l.5-.2l.5 .3l.5 .1l.5 3l.5-3.2l.5 .7l.5-.8l.5 0l.5-.4l.5 .8l.5-.4l.5 1.2l.5-.2l.5 1.1l.5-.4l.5 .9l.5-1l.5 .3l.5-.4l.5 .3l.5-.8l.5 .5l.5-.8l.5 .3l.5-.8l.5 1.3l.5-1.1l.5 .8l.5-.6l.5 .6l.5-.3l.5 1.1l.5-1l.5 .5l.5-.7l.5 .7l.5-.8l.5 .5l.5-.6l.5 .6l.5-1.1l.5 .6l.5-.9l.5 1l.5-.9l.5 .5l.5-.4l.5 .3l.5-.4l.5 1l.5-1.3l.5 .6l.5-1.3l.5 1.1l.5-.8l.5 .8l.5-.2l.5 .9l.5-.9l.5 .7l.5-1.2l.5 1.2l.5-.4l.5 .6l.5-1.1l.5 .9l.5-.5l.5 .8l.5-.6l.5 .8l.5-.7l.5 1l.5-.6l.5 .6l.5-.6l.5 .6l.5-.8l.5 .5l.5-.7l.5 .3l.5-.7l.5 .5l.5-.5l.5 .4l.5-.3l.5 .7l.5-.1l.5 .6l.5-2.6l.5 2.7l.5-.5l.5 .5l.5-.2l.5 .7l.5-.2l.5 .2l.5-.5l.5 .2l.5-.6l.5 .4l.5-.4l.5 .4l.5-.5l.5 .4l.5-.5l.5 .5l.5-.4l.5 .4l.5-.8l.5 .8l.5-1.1l.5 .4l.5-.7l.5 .5l.5-.4l.5 .8l.5-.5l.5 1.2l.5-.8l.5 .6l.5-.6l.5 .3l.5-.6l.5 .3l.5-.6l.5 .5l.5-.7l.5 .7l.5-.2l.5 .8l.5-.9l.5 1.1l.5-.8l.5 .6l.5-1.3l.5 1l.5-.5l.5 1l.5-.5l.5 1.4l.5-.9l.5 .7l.5-.6l.5 1.3l.5-1.4l.5 .8l.5-1.1l.5 1l.5-.9l.5 .6l.5-.5l.5 .5l.5-.9l.5 1.3l.5-1.1l.5 .8l.5-1.3l.5 .6l.5-.8"/>
<path class="w" stroke="#ff8000" d="M250.5,175.8l.5 .2l.5-1.1l.5 1.1l.5-.4l.5 .8l.5-.7l.5 1.3l.5-.6l.5 .4l.5-.7l.5 .6l.5-.4l.5 .4l.5-1l.5 1l.5-1.3l.5 .6l.5-.5l.5 .7l.5-.4l.5 .6l.5-.3l.5 .7l.5-.6l.5 1.1l.5-1.3l.5 .3l.5-.8l.5 .7l.5-.7l.5 .8l.5-.7l.5 .6l.5-.4l.5 .8l.5-1.1l.5 1.5l.5-.5l.5 .3l.5-.9l.5 .2l.5-.9l.5 .7l.5-.3l.5 .7l.5 0l.5 .6l.5-.7l.5 .1l.5-.6l.5 .6l.5-.3l.5 .6l.5-.8l.5 .4l.5-.9l.5 .2l.5-.4l.5 1l.5-.4l.5 .7l.5-.5l.5 .6l.5-.9l.5 .7l.5-.6l.5 .6l.5-.3l.5 .5l.5-.2l.5 .3l.5-1.1l.5 .4l.5-.9l.5 .9l.5-.7l.5 .9l.5-.3l.5 .5l.5-.6l.5 .8l.5-.5l.5 .7l.5-.7l.5 1l.5-.6l.5 .7l.5-1l.5 .4l.5-1.2l.5 1l.5-.9l.5 .3l.5-.5l.5 .6l.5-.1l.5 .5l.5-.8l.5 .8l.5-1.1l.5 .4l.5-.5l.5 .5l.5-.5l.5 .6l.5-.6l.5 1.1l.5-1l.5 .6l.5-.4l.5 .7l.5-.8l.5 .6l.5-.9l.5 .7l.5-.3l.5 .4l.5-.6l.5 .7l.5-.4l.5 1l.5-.8l.5 .7l.5-.6l.5 .3l.5-.6l.5 .5l.5-.8l.5 1l.5-.6l.5 .8l.5-.5l.5 .5l.5-.3l.5 .3l.5-.6l.5 .3l.5-.4l.5 .4l.5-.1l.5-.9l.5-3.8l.5-3.2l.5-2l.5 19.8l.5-1.9l.5-2.9l.5-3.6l.5-1.3l.5-.9l.5 0l.5-1l.5 .3l.5-.5l.5 .2l.5-.2l.5 .6l.5-.2l.5 .9l.5 .1l.5 .5l.5-.3l.5 .6l.5-.5l.5 .5l.5-.8l.5 .5l.5-.3l.5 .8l.5-.3l.5 .3l.5-.3l.5 .8l.5-.7l.5 .4l.5-.8l.5 .1l.5-.8l.5 .6l.5-.4l.5 .8l.5-.4l.5 .8l.5-1l.5 .3l.5-.4l.5-3.1l.5-4.8l.5 19.6l.5-5.8l.5-4.8l.5-4.8l.5 7.8l.5-2.1l.5-1.3l.5-.4l.5 .9l.5-.2l.5-.5l.5-1.5l.5 5.4l.5-1.9l.5-.7l.5-1.3l.5 .6l.5-.9l.5 1l.5-.8l.5 .9l.5-.4l.5 1l.5-.4l.5 .4l.5-.5l.5 .2l.5-1.1l.5 .3l.5-.5l.5 .5l.5-.2l.5 .8l.5-.5l.5 .8l.5-.6l.5 0l.5-.7l.5 .2l.5-.8l.5 1.1l.5-.4l.5 .7l.5-.3l.5 .4l.5-.5l.5 .4l.5-.5l.5 .3l.5-.6l.5 .2l.5-.5l.5 .4l.5-.4l.5 .5l.5-.4l.5 .5l.5-.1l.5 .5l.5-.5l.5 1.1l.5-.8l.5 .3l.5-.7l.5 .4l.5-.7l.5 1.1l.5-.3l.5 1.4l.5-1.2l.5 1.1l.5-1.1l.5 .1l.5-1l.5 .6l.5-1.3l.5 .8l.5-1.5l.5 1l.5-.4l.5 .8l.5-.4l.5 1.1l.5-1.3l.5 .9l.5-1.6l.5 1.3l.5-.7l.5 1.5l.5-1.8l.5 2l.5-1.5l.5 1l.5-.6l.5 1.1l.5-.9l.5 1.6l.5-1.6l.5 .8l.5-.8l.5 .9l.5-.5l.5 .7l.5-.8l.5 .8l.5-.9l.5 1.3l.5-1.2l.5 .7l.5-1.5l.5 .7l.5-1.1l.5 1.1l.5-.8l.5 .7l.5-.4l.5 1.4l.5-1l.5 1.2l.5-1.5l.5 .5l.5-.9l.5 1.9l.5-1.7l.5 .8l.5-.7l.5 1l.5-.8l.5 .8l.5-.3l.5 .5l.5-1.5l.5 2.1l.5-1.7l.5 1.1l.5-1.5l.5 .9l.5-1.1l.5 .7l.5-.7l.5 .9l.5-.7l.5 1.3l.5-.6l.5 .4l.5-.7l.5 1.4l.5-1.5l.5 .8l.5-.9l.5 .6l.5-.6l.5 1.3l.5-.7l.5 1.1l.5-1.2l.5 1l.5-1.1l.5 .6l.5-.6l.5 .7l.5-.7l.5 .6l.5-1.3l.5 1.1l.5-.7l.5 1l.5-.6l.5 .9l.5-.5l.5 1.4l.5-1.2l.5 .8l.5-.7l.5 .4l.5-1l.5 1.2l.5-1.9l.5 1.2l.5-2.2l.5 1.3l.5-1.6l.5 1.3l.5-1.1l.5 1.2l.5-.6l.5 1l.5-.6l.5 .8l.5-.5l.5 .8l.5-1l.5 1.4l.5-.9l.5 1.7l.5-1.7l.5 .7l.5-1l.5 1.1l.5-.6l.5 .6l.5-.4l.5 .6l.5-.7l.5 .8l.5-1l.5 1l.5-1.1l.5 1l.5-2l.5 .9l.5-.8l.5 .9l.5-.4l.5 .5l.5-.7l.5 .8l.5-1.3l.5 1.3l.5-1.1l.5 .9l.5-1.2l.5 1.3l.5-1l.5 .7l.5-.8l.5 1l.5-.5l.5 1.1l.5-.7l.5 1.1l.5-.7l.5 .4l.5-.6l.5 1l.5-1.1l.5 1l.5-.8l.5 .9l.5-.9l.5 .4l.5-1l.5 .8l.5-.9l.5 .8l.5-1.3l.5 1.5l.5-.8l.5 1.2l.5-1l.5 1l.5-1.4l.5 1l.5-1.1l.5 1.3l.5-.3l.5 1l.5-.6l.5 .6l.5-.8l.5 .4l.5-.8l.5 1.1l.5-1.2l.5 .7l.5-.7l.5 .6l.5-1.1l.5 .4l.5-.5l.5 .3l.5-.4l.5 .6l.5-.6l.5 .5l.5-.4l.5 .4l.5-.9l.5 .9l.5-.6l.5 .4l.5-.4l.5 .4l.5-.6l.5 .8l.5-.4l.5 .9l.5-.1l.5 .8l.5-.2l.5 .5l.5-.4l.5 .8l.5-1.2l.5 .3l.5-.9l.5 .2l.5-.9l.5 1l.5-.8l.5 1l.5-.8l.5 .8l.5-.5l.5 .6l.5-1l.5 .9l.5-.6l.5 .6l.5-.3l.5 .5l.5-.6l.5 .6l.5-1.5l.5 1.7l.5-1l.5 .5l.5-1.1l.5 .6l.5-1l.5 1.9l.5 .8l.5-1l.5-2.1l.5 2.3l.5 1.5l.5 0l.5-1.9l.5 .6l.5-.1l.5 1.2l.5-1.3l.5 1l.5-1.2l.5 .2l.5-.9l.5 .7l.5-.9l.5 .6l.5-.6l.5 1.2l.5-1.2l.5 .7l.5-.7l.5 1l.5-.9l.5 .9l.5-.5l.5 .5l.5-.4l.5 1l.5-1.4l.5 .7l.5-.4l.5 .1l.5-.9l.5 .5l.5-.7l.5 .5l.5-1.1l.5 1.4l.5-.8l.5 1.7l.5-1.8l.5 .6l.5-1.9l.5 1.3l.5-.6l.5 1.8l.5-1.1l.5 1.1l.5-1l.5 1.6l.5-1.3l.5 .9l.5-1.2l.5 .8l.5-.5l.5 .6l.5-.6l.5 1.4l.5-1.8l.5 1.1l.5-1.5l.5 .6l.5-.3l.5 .6l.5-.3l.5 1l.5-.9l.5 1.8l.5-1.2l.5 1.3l.5-1l.5 .7l.5-.8l.5 1.3l.5-1.7l.5 .9l.5-.7l.5 .7l.5-.9l.5 1.3l.5-.6l.5 .5l.5-.5l.5 .2l.5-1.1l.5 .3l.5-.7l.5 .5l.5-.5l.5 .5l.5-1l.5 .8l.5-.8l.5 1.3l.5-.8l.5 1.2l.5-.6l.5 .5l.5-.9l.5 .6l.5-.8l.5 .4l.5-.7l.5 .5l.5-.2l.5 1.1l.5-.7l.5 .5l.5-.2l.5 .6l.5-.6l.5 .6l.5-.8l.5 .8l.5-.7l.5 .5l.5-.5l.5 .3l.5-.4l.5 .3l.5-.3l.5 .6l.5-.6l.5 .3l.5-.4l.5 .6l.5-.5l.5 .7l.5-.5l.5 .6l.5-.6l.5 .9l.5-.6l.5 .5l.5-.2l.5 .5l.5-.4l.5 .3l.5-.8l.5 .2l.5-.6l.5 .9l.5-.7l.5 1.6l.5-1.2l.5 1.7l.5-2l.5 1l.5-2.4l.5 2.1l.5-.9l.5 .8l.5-.7l.5 .7l.5-.5l.5 .2l.5-1l.5 1l.5-.7l.5 .7l.5-.8l.5 .5l.5-.8l.5 .4l.5-.9l.5 1.3l.5-.1l.5 .5l.5-.4l.5 .9l.5-.7l.5 .7l.5-.5l.5 .4l.5-.3l.5 0l.5-1l.5-.4l.5-.7l.5 .1l.5-.5l.5 .9l.5-.1l.5 1.5l.5 .4l.5 1.5l.5 .2l.5 1.5l.5-.7l.5 .4l.5-2.8l.5-1.9l.5-3l.5-.1l.5-3.9l.5-5.2l.5-8.8l.5-8.5l.5 61.1l.5-6.9l.5-7.5l.5-5.4l.5-6.1l.5-2.9l.5-3l.5-.1l.5-1.5l.5-.5l.5-.8l.5 .7l.5 .2l.5 1l.5 .5l.5 1l.5 .6l.5 1.1l.5 .2l.5 1.2l.5-.7l.5 .4l.5-.4l.5-.2l.5-1.1l.5-.1l.5-.8l.5 .2l.5-1l.5 1l.5-.3l.5 .5l.5-.4l.5 .3l.5-.5l.5 1.3l.5-.8l.5 .6l.5-.4l.5 .9l.5-.4l.5 .7l.5-1.6l.5 .7l.5-1l.5 1.4l.5-1.2l.5 1.2l.5-.7l.5 .7l.5-1.1l.5 1l.5-.8l.5 .6l.5-.3l.5 .9l.5-1.3l.5 1.4l.5-.7l.5 .6l.5-.6l.5 .2l.5-.7l.5 .7l.5-.4l.5 .7l.5-.4l.5 1l.5-1.3l.5 .3l.5-.3l.5 .7l.5-.5l.5 .3l.5-.4l.5 .4l.5-1l.5 .8l.5-.6l.5 .7l.5-.5l.5 .3l.5-.3l.5 .4l.5-.4l.5 .5l.5-.3l.5 .3l.5-.4l.5 .2l.5-.2l.5 .6l.5-.1l.5 .3l.5-.5l.5 .3l.5-.4l.5 .6l.5-.8l.5 .7l.5-.7l.5 .6l.5-.9l.5 1l.5-1.2l.5 .8l.5-1l.5 .5l.5-.1l.5 .9l.5-.6l.5 .7l.5-.4l.5 .5l.5-.3l.5 .8l.5-.7l.5 .5l.5-.8l.5 .6l.5-.8l.5 .6l.5-.8l.5 .9l.5-1.2l.5 1l.5-.8l.5 .3l.5-.6l.5 .3l.5-.6l.5 .8l.5-1.2l.5 .7l.5-.4l.5 .2l.5-.9l.5 .7l.5-.3l.5 .8l.5-.1l.5 1l.5-.4l.5 .5l.5-.6l.5 0l.5-1.4l.5 .5l.5-.7l.5 .9l.5-.7l.5 1.1l.5-.2l.5 1.3l.5-.8l.5 .6l.5-1.3l.5 1.2l.5-1.1l.5 .6l.5-1l.5 1.1l.5-1l.5 .9l.5-.8l.5 1.1l.5-1.3l.5 2.1l.5-1.3l.5 .4l.5-.9l.5 1l.5-.8l.5 1.3l.5-1.1l.5 1.4l.5-.8l.5 .9l.5-1.3l.5-.1l.5-1.5l.5 .9l.5 2l.5 3.7l.5-4.8l.5-8l.5 9.9l.5 6.3l.5-9.4l.5-4.6l.5 4l.5 8.5l.5-2.9l.5-3l.5-2.2l.5 .7l.5-.1l.5 .7l.5 .2l.5 1.2l.5-.3l.5 .7l.5-.7l.5 0l.5-.7l.5-.1l.5-.7l.5-.1l.5-.4l.5 .1l.5-.5l.5 .7l.5 0l.5 .7l.5-.4l.5 1.1l.5-.3l.5 .5l.5-.6l.5 .2l.5-.9l.5 0l.5-.7l.5 .1l.5-.4l.5 .9l.5-.7l.5 .7l.5-.2l.5 .3l.5-.4l.5 .6l.5-.4l.5 .5l.5-.6l.5 .4l.5-.2l.5 .4l.5-.1l.5 .8l.5-.2l.5 .8l.5-.8l.5 1.1l.5-.2l.5 .4l.5-.5l.5 .1l.5-.7l.5 .4l.5-.7l.5 .8l.5-.4l.5 .8l.5-1.2l.5 .4l.5-.7l.5 .6l.5-.8l.5 .6l.5-1.1l.5 .6l.5-.6l.5 1.2l.5-1.1l.5 .4l.5-.8l.5 .5l.5-.4l.5 .6l.5-.4l.5 .7l.5-.1l.5 .7l.5-1l.5 1.5l.5-1.5l.5 .4l.5-.6l.5 .5l.5-.9l.5 1.1l.5-.5l.5 .5l.5-1l.5 .6l.5-1.2l.5 .6l.5-.6l.5 .8l.5-.3l.5 .6l.5-.5l.5 .6l.5-1l.5 1.1l.5-.7l.5 .5l.5-.3l.5 .6l.5-.4l.5 .6l.5-.7l.5 .6l.5-.6l.5 .7l.5-.4l.5 .7l.5-.3l.5 .6l.5-.5l.5 .2l.5-1.1l.5 .8l.5-.8l.5 .5l.5-.3l.5 .8l.5-.6l.5 .6l.5-.4l.5 .6l.5-.9l.5 .6l.5-.8l.5 .7l.5-.9l.5 1.1l.5-.3l.5 .4l.5-.5l.5 .7l.5-1.1l.5 .5l.5-.8l.5 .4l.5-.7l.5 1l.5-.8l.5 1.1l.5-.7l.5 1.1l.5-.5l.5 .2l.5-.4l.5 .4l.5-1l.5 1.7l.5-1.8l.5 .9l.5-.9l.5 1.1l.5-.8l.5 .7l.5-1.4l.5 2.2l.5-1.6l.5 .8l.5-.8l.5 .7l.5-1l.5 .6l.5-.8l.5 .8l.5-.7l.5 .9l.5-1.1l.5 1l.5-.6l.5 .9l.5-.4l.5 .8l.5-1l.5 .9l.5-1l.5 1.1l.5-1.6l.5 1.4l.5-.6l.5 .4l.5-.9l.5 .4l.5-.6l.5 .6l.5-.5l.5 .8l.5-.7l.5 .9l.5-.6l.5 .6l.5-.8l.5 1.2l.5-.5l.5 .7l.5-.7l.5 1.6l.5-2.7l.5 2l.5-1.5l.5 1.1l.5-.8l.5 .8l.5-.1l.5 .5l.5-.9l.5 .4l.5-.6l.5 .4l.5-.5l.5 .3l.5-.5l.5 .4l.5-.4l.5 .6l.5-.5l.5 .2l.5-.5l.5 .8l.5-.8l.5 .9l.5-.9l.5 .8l.5-.9l.5 .9l.5-.6l.5 .4l.5-.6l.5 .7l.5-.4l.5 .7l.5-.5l.5 .6l.5-.6l.5 .8l.5-.6l.5 .7l.5-.7l.5 .7l.5-.6l.5 1.1l.5-.5l.5 .8l.5-.9l.5 .8l.5-1l.5 .8l.5-.9l.5 .7l.5-.7l.5 .3l.5-.8l.5 .5l.5-.9l.5 .7l.5 .1l.5 .9l.5-.5l.5 1l.5-.9l.5 .5l.5-1.2l.5 .4l.5-.8l.5 .5l.5-.6l.5 .5l.5-.2l.5 .3l.5-.6l.5 .6l.5-.4l.5 .7l.5-.7l.5 .6l.5-.7l.5 .8l.5-1l.5 .4l.5-.9l.5 1.1l.5-.4l.5 .6l.5-1.1l.5 .7l.5-.5l.5 1l.5-.8l.5 .8l.5-.5l.5 .3l.5-.2l.5 .3l.5-.6l.5 .5l.5-.9l.5 .4l.5-.7l.5 .8l.5-.4l.5 .4l.5-.3l.5 .4l.5-.7l.5 .9l.5-1l.5 .6l.5-.9l.5 .9l.5-.8l.5 1l.5-1l.5 1l.5-.9l.5 1l.5-.9l.5 .9l.5-.9l.5 .8l.5-1l.5 .9l.5-1l.5 1.3l.5-1.2l.5 1.3l.5-1.4l.5 1.6l.5-1.2l.5 1.3l.5-2.5l.5 2.5l.5-2.7l.5 2.8l.5-2.7l.5 3.5l.5-3.3l.5 3.1l.5-3.6l.5 4.9l.5-3.8l.5 3.6l.5-3.6l.5 4l.5-4.4l.5 4.2l.5-4.8l.5 5l.5-5.2l.5 5.4l.5-5.4l.5 3.9l.5-5.1l.5 4.5l.5-4.3l.5 5.3l.5-4.6l.5 5.4l.5-5.2l.5 5.3l.5-4.8l.5 4.7l.5-3.6l.5 3.4l.5-4.2l.5 3.5l.5-4.7l.5 3.5l.5-3.1l.5 3.8l.5-3.4l.5 4.1l.5-3.7l.5 4.5l.5-3.3l.5 3.7l.5-4.1l.5 3.8l.5-3.5l.5 5.2l.5-4.3l.5 2.8l.5-3.6l.5 3l.5-4.4l.5 4l.5-3.7l.5 4.6l.5-4.8l.5 4.3l.5-5.3l.5 5.3l.5-5.1l.5 3.8l.5-4.5l.5 4.6l.5-4.2l.5 4.8l.5-4.3l.5 5.3l.5-3.9l.5 3.2l.5-3.3l.5 3l.5-4.1l.5 3.7l.5-4.1l.5 3.8l.5-3.5l.5 3.6l.5-3.5l.5 3.7l.5-2.8l.5 3.8l.5-4.4l.5 5.1l.5-5l.5 5.3l.5-5l.5 5.8l.5-5.3l.5 4.1l.5-4.6l.5 4.3l.5-5.4l.5 4.8l.5-4.4l.5 3.8l.5-3.6l.5 3.9l.5-4.3l.5 4.2l.5-4.3l.5 4.3l.5-4.9l.5 5.9l.5-5.1l.5 5.5l.5-5.3l.5 5.7l.5-5.2l.5 4.5l.5-4.3l.5 4.5l.5-5.3l.5 4.2l.5-4.2l.5 3.6l.5-2.8l.5 2.6l.5-3.5l.5 4.5l.5-3.5l.5 3.6l.5-3.3l.5 3.4l.5-3.2l.5 2.7l.5-3.6l.5 4.5l.5-5.3l.5 4.4l.5-3.9l.5 3.4l.5-4.8l.5 4.3l.5-4.3l.5 4.4l.5-4.2l.5 5.7l.5-4.6l.5 4.4l.5-4.6l.5 4.8l.5-4.2l.5 4l.5-4.4l.5 4.6l.5-4.7l.5 4.6l.5-5.1l.5 4.7l.5-4.3l.5 4.8l.5-5l.5 4.1l.5-3.7l.5 4.2l.5-4.1l.5 4.4l.5-5.4l.5 4.4l.5-3.5l.5 3.6l.5-3.1l.5 3.3l.5-3.3l.5 4l.5-3.7l.5 4.3l.5-4.7l.5 3.4l.5-3.8l.5 3.2l.5-3.6l.5 3.8l.5-3.8l.5 3l.5-3.1l.5 4.3l.5-3.9l.5 4.3l.5-3.7l.5 3.6l.5-3.7l.5 3l.5-3.6l.5 3.6l.5-3.5l.5 2.9l.5-3.9l.5 4.2l.5-3.2l.5 3.6l.5-3.4l.5 2.8l.5-3.3l.5 3.5l.5-3.9l.5 4.3l.5-3.3l.5 4.1l.5-3.9l.5 3.5l.5-3.9l.5 3.6l.5-3.1l.5 4.3l.5-4l.5 2.7l.5-3.1l.5 4.4l.5-3.8l.5 3.8l.5-3.7l.5 3.7l.5-3.3l.5 4.2l.5-5.6l.5 4.7l.5-4.8l.5 5.1l.5-4.6l.5 3.3l.5-5l.5 5.3l.5-6l.5 6.3l.5-6.7l.5 6.5l.5-6l.5 7.5l.5-7.4l.5 8.9l.5-11.2l.5 11.5l.5-10.4l.5 13.1l.5-13.3l.5 13.5l.5-16.6l.5 18.3l.5-18.6l.5 18.5l.5-18.8l.5 18.6l.5-14.7l.5 10.7l.5-11.9l.5 13.6l.5-14.5l.5 13.9l.5-13.1l.5 11.9l.5-11.9l.5 13.3l.5-14.2l.5 13.5l.5-11.6l.5 11.8l.5-12.9l.5 13.5l.5-14l.5 14.8l.5-13.3l.5 11.9l.5-10.8l.5 11.1l.5-11.5l.5 7.7l.5-6.5l.5 7.5l.5-6.9l.5 7.1l.5-7.6l.5 8.7l.5-7.8l.5 6.1l.5-6.1l.5 5.7l.5-7.1l.5 7.6l.5-6.9l.5 6l.5-5.8l.5 5.4l.5-4.3l.5 3.4l.5-3.7l.5 4.3l.5-3.6l.5 3.9l.5-4.4l.5 5l.5-5l.5 5.6l.5-6.5l.5 5.5l.5-6.6l.5 7.2l.5-6.8l.5 5.7l.5-4l.5 5.8l.5-6.9l.5 6.1l.5-6.2l.5 6.4l.5-6.3l.5 6.7l.5-6.6l.5 5.3l.5-4.8l.5 5.8l.5-5.4l.5 5.6l.5-6l.5 4.9l.5-5.6l.5 4.7l.5-4.4l.5 4.3l.5-4.6l.5 4.5l.5-4.3l.5 4.8l.5-4.2l.5 4.7l.5-3.8l.5 4l.5-4.6l.5 4.6l.5-5.2l.5 4.4l.5-4l.5 3.7l.5-4.3l.5 4.8l.5-3.3l.5 4l.5-4.3l.5 3.2l.5-4.1l.5 4.6l.5-4.5l.5 4.3l.5-4.1l.5 4.9l.5-4.7l.5 5.5l.5-4.7l.5 4.2l.5-4.1l.5 3.5l.5-4.9l.5 6l.5-5.8l.5 4.3l.5-5.3l.5 5.7l.5-5.4l.5 5.5l.5-4.8l.5 3.9l.5-3.7l.5 4.2l.5-3.2l.5 3.6l.5-4.2l.5 4.5l.5-4l.5 3.4l.5-3.8l.5 3.8l.5-3.5l.5 4.1l.5-4.4l.5 4.7l.5-5.7l.5 5.5l.5-4.9l.5 4.8l.5-5.7l.5 5.6l.5-5.7l.5 5.2l.5-5l.5 4.5l.5-4l.5 4.6l.5-4.5l.5 4.1l.5-4.5l.5 4.1l.5-3.9l.5 4.3l.5-5.1l.5 4.4l.5-4.1l.5 3.7l.5-3.4l.5 3.5l.5-3.8l.5 3.7l.5-3.1l.5 3.6l.5-2.9l.5 3.1l.5-2.8l.5 3.3l.5-3.5l.5 2.6l.5-2.6l.5 3.2l.5-3.4l.5 3.4l.5-3.4l.5 3.1l.5-3.9l.5 2.8l.5-3l.5 3.1l.5-1.8l.5 2.2l.5-2.1l.5 2.4l.5-2.4l.5 2.6l.5-2.7l.5 3.2l.5-3l.5 3.4l.5-3.5l.5 3.4l.5-3.6l.5 3.3l.5-2.9l.5 2.9l.5-3l.5 3.1l.5-2.7l.5 2.5l.5-2.1l.5 1.6l.5-1.9l.5 1.8l.5-2.4l.5 1.8l.5-2l.5 2l.5-1.8l.5 1.9l.5-1.3l.5 2l.5-1.9l.5 1.7l.5-2.1l.5 1.9l.5-1.8l.5 1.7l.5-2.1l.5 2.3l.5-2l.5 2l.5-1.7l.5 1.9l.5-2.1l.5 2.2l.5-2.1l.5 1.8l.5-1.8l.5 2.4l.5-2l.5 2.3l.5-2l.5 2.3l.5-1.9l.5 1.4l.5-1.7l.5 1.5l.5-1.7l.5 1.8l.5-1.7l.5 1.2l.5-1.5l.5 1.5l.5-2l.5 1.4l.5-1.2l.5 1.4l.5-1.3l.5 1.6l.5-2.3l.5 2.1l.5-1.6l.5 1.1l.5-2.3l.5 1.9l.5-1.2l.5 1.5l.5-1.5l.5 1.9l.5-1.2l.5 1.3l.5-1l.5 1l.5-.9l.5 .9l.5-1.2l.5 1l.5-.9l.5 .9l.5-.9l.5 .9l.5-1l.5 .9l.5-1.2l.5 1.4l.5-1.2l.5 1.2l.5-.8l.5 1l.5-1.1l.5 1.1l.5-1l.5 .9l.5-.9l.5 .9l.5-1l.5 .7l.5-.7l.5 1.3l.5-1l.5 .9l.5-.9l.5 .5l.5-.9l.5 .6l.5-.7l.5 .9l.5-.6l.5 .8l.5-.9l.5 .5l.5-.9l.5 .9l.5-.4l.5 .9l.5-.8l.5 .5l.5-.9l.5 .3l.5-.5l.5 .8l.5-.6l.5 1l.5-.2l.5 .7l.5-.6l.5 .4l.5-1l.5 .3l.5-.3l.5 .7l.5-.1l.5 .7l.5-.6l.5 .3l.5-1l.5 .5l.5-1l.5 .8l.5-.3l.5 1l.5-.8l.5 .5l.5-.6l.5 .9l.5-.7l.5 .7l.5-.4l.5 .6l.5-.9l.5 .7l.5-.7l.5 .4l.5-1.3l.5 1l.5-.6l.5 .5l.5-1l.5 1.2l.5-.6l.5 .9l.5-.7l.5 .9l.5-1.1l.5 .9l.5-.8l.5 .3l.5-.6l.5 .6l.5-1.1l.5 .3l.5-.6l.5 .8l.5-.4l.5 .6l.5-.6l.5 .5l.5-.9l.5 1l.5-.6l.5 1.3l.5-.7l.5 .8l.5-.4l.5 .5l.5-.5l.5 1l.5-1.5l.5 .9l.5-.9l.5 1l.5-1.5l.5 1l.5-.3l.5 .7l.5-.2l.5 .9l.5-.9l.5 .5l.5-.9l.5 .4l.5-1.6l.5 .6l.5-.7l.5 .8l.5-.1l.5 1.3l.5-1.4l.5 1.5l.5-1l.5 .7l.5-.6l.5 .5l.5-.3l.5 1.1l.5-1.4l.5 .7l.5-1.8l.5 1.6l.5-.9l.5 1l.5-.9l.5 .8l.5-.7l.5 .8l.5-.7l.5 .4l.5-.8l.5 .6l.5-1l.5 1.3l.5-.8l.5 .7l.5-.8l.5 .5l.5-.8l.5 1.1l.5-.6l.5 1.8l.5-1.6l.5 1.5l.5-1.1l.5 .9l.5-.9l.5 1l.5-1.2l.5 .6l.5-1.3l.5 1.3l.5-1.2l.5 .5l.5-.8l.5 .8l.5-.6l.5 1l.5-1.1l.5 2.6l.5-1.3l.5 1.2l.5-.6l.5 1l.5-1.4l.5 .8l.5-.9l.5 .4l.5-.5l.5 1l.5-1l.5 1l.5-1.1l.5 .7l.5-.7l.5 .7l.5-.8l.5 .9l.5-.9l.5 .5l.5-.5l.5 .9l.5-.3l.5 .9l.5-.6l.5 .3l.5-1l.5 0l.5-1.5l.5 .9l.5-1l.5 .6l.5-.5l.5 .5l.5-.6l.5 .9l.5-.3l.5 1l.5-.5l.5 .8l.5-.4l.5 1l.5-.4l.5 .3l.5-.3l.5 .5l.5-.3l.5 .6l.5-.7l.5 .6l.5-.8l.5 .6l.5-.9l.5 .7l.5-.4l.5 .2l.5-.8l.5 .2l.5-.3l.5 .3l.5-.3l.5 .7l.5-.5l.5 .5l.5-.8l.5 .4l.5-.7l.5 .3l.5-.5l.5 .6l.5-.5l.5 1l.5-.9l.5 .4l.5-.6l.5 .6l.5-.5l.5 .2l.5-.4l.5 1.1l.5-.7l.5 .8l.5-.4l.5 .5l.5-.5l.5 .1l.5-.6l.5 .2l.5-.3l.5 .6l.5-.2l.5 .9l.5-.4l.5 .6l.5-.3l.5 .6l.5-.5l.5 .5l.5-.6l.5 .7l.5-1l.5 .8l.5-1.2l.5 .7l.5-.7l.5 .2l.5-.6l.5 1l.5-.8l.5 .9l.5-.3l.5 .4l.5-.6l.5 .4l.5-.7l.5 .1l.5-.8l.5 0l.5-.5l.5 .4l.5-.4l.5 .7l.5-.5l.5 .9l.5-.6l.5 .7l.5-.4l.5 1.2l.5-.6l.5 1.2l.5-.7l.5 .8l.5-.9l.5 .4l.5-2l.5 1.8l.5-1.1l.5 .7l.5-.7l.5 1.1l.5-1.1l.5 1.2l.5-.9l.5 .7l.5-.7l.5 .7l.5-1.2l.5 .8l.5-1.5l.5 1.2l.5-.8l.5 1.3l.5-.6l.5 1.2l.5-.4l.5 .4l.5-1.4l.5 .5l.5-.6l.5 .6l.5-.4l.5 .6l.5-.1l.5 .4l.5-.6l.5 .6l.5-1l.5 .3l.5-.5l.5 .7l.5-.5l.5 .8l.5-.3l.5 .5l.5-.4l.5 .2l.5-.3l.5 .4l.5-.5l.5 .8l.5-.4l.5 .5l.5-.4l.5 .8l.5-.4l.5 .4l.5-1.1l.5 .7l.5-.9l.5 .4l.5-.4l.5 .3l.5-.7l.5 .4l.5-.5l.5 .3l.5-.4l.5 .9l.5-.4l.5 .9l.5-.4l.5 .6l.5-.6l.5 1.1l.5-1.1l.5 .8l.5-.7l.5 .3l.5-.7l.5 .8l.5-.8l.5 .9l.5-.9l.5 .6l.5-.6l.5 .1l.5-.7l.5 .1l.5-.5l.5 1l.5-.7l.5 .7l.5-.7l.5 1.1l.5-.5l.5 .5l.5-1.1l.5 .2l.5-1.5l.5 .6l.5 .3l.5 2.4l.5-.3l.5-.5l.5-1.8l.5 3l.5 .8l.5 .9l.5-2.5l.5-.8l.5-1.5l.5 .5l.5-.6l.5 .9l.5-.2l.5 .9l.5-.1l.5 1.4l.5-1.1l.5 .8l.5-.8l.5 .4l.5-.9l.5 .6l.5-1.2l.5 1.2l.5-.6l.5 .7l.5-.3l.5 1.1l.5-.6l.5 .4l.5-.8l.5 .3l.5-1.3l.5 .4l.5-.9l.5 .9l.5-.5l.5 .9l.5-1l.5 .8l.5-.9l.5 .9l.5-1l.5 .9l.5-.9l.5 1l.5-.7l.5 .6l.5-1l.5 1.2l.5-.7l.5 1l.5-.9l.5 1.3l.5-1.1l.5 1.1l.5-.8l.5 1.1l.5-1.2l.5 1.2l.5-.8l.5 1.7l.5-1.6l.5 .7l.5-.9l.5 .2l.5-.9l.5 .9l.5-1l.5 1l.5-.8l.5 1.3l.5-1.3l.5 1.1l.5-.7l.5 .5l.5-1.3l.5 1l.5-1.4l.5 1.5l.5-.4l.5 .5l.5-.5l.5 1l.5-1l.5 1.6l.5-1.3l.5 .6l.5-.7l.5 1.1l.5-1.2l.5 .6l.5-.6l.5 .4l.5-.4l.5 .4l.5-.5l.5 .4l.5-.8l.5 .3l.5-.6l.5 .6l.5 0l.5 .6l.5-.4l.5 .5l.5-.9l.5 .6l.5-.6l.5 .6l.5-.7l.5 .6l.5-.2l.5 .5l.5-.4l.5 1l.5-1l.5 .4l.5-.4l.5 .3l.5-.3l.5 .4l.5-.3l.5 .7l.5 .1l.5 .4l.5-.4l.5 .2l.5-.6l.5 0l.5-.3l.5 .4l.5-.4l.5 .3l.5-.4l.5 .3l.5-.5l.5 .4l.5-.2l.5 .5l.5 0l.5 .4l.5-.3l.5 .1l.5-.8l.5 .5l.5-.4l.5 .1l.5-.5l.5 .2l.5-.5l.5 .5l.5-.4l.5 .6l.5-.4l.5 .4l.5-.6l.5 .4l.5-.6l.5 .9l.5-.2l.5 .8l.5-.1l.5 .4l.5-.6l.5 .2l.5-.6l.5 .2l.5-.3l.5 .4l.5-.5l.5 .7l.5 0l.5 .6l.5-.4l.5 .3l.5-.2l.5 .2l.5-.3l.5 .3l.5-.7l.5 .4l.5-1l.5 .5l.5-.4l.5 .5l.5-.8l.5 .2l.5-.1l.5 .6l.5-.4l.5 .4l.5-.5l.5 .3l.5-.7l.5 .4l.5-.4l.5 .8l.5-.3l.5 1.1l.5-.3l.5 .5l.5-.8l.5 1l.5-1.1l.5 .7l.5-.8l.5 .8l.5-1.3l.5 1l.5-1.4l.5 .9l.5-1.3l.5 1.2l.5-.8l.5 1.6l.5-.9l.5 1.2l.5-1l.5 1l.5-1.4l.5 .8l.5-1l.5 .7l.5-.6l.5 .8l.5-.4l.5 .3l.5-.4l.5 .2l.5-.3l.5 .5l.5-.8l.5 .4l.5-.6l.5 .4l.5-.1l.5 .6l.5-.1l.5 .7l.5-.3l.5 .7l.5-.7l.5 .3l.5-.9l.5 .2l.5-.8l.5 .7l.5-.2l.5 .4l.5-.3l.5 .6l.5-.7l.5 .4l.5-.6l.5 .4l.5-.9l.5 .4l.5-1l.5 .9l.5-.4l.5 .3l.5-.1l.5 .4l.5-.4l.5 1l.5-.8l.5 .6l.5-.2l.5 .7l.5 .1l.5 .7l.5-.3l.5 .4l.5-.7l.5-.1l.5-.5l.5 0l.5-.4l.5 .4l.5-.3l.5 .3l.5-.3l.5 .6l.5-.3l.5 .8l.5-.9l.5 .4l.5-.4l.5 .3l.5-.3l.5 .3l.5-.5l.5 .7l.5-.4l.5 .5l.5-.4l.5 .1l.5-.5l.5 .5l.5-.6l.5 .6l.5-.3l.5 .8l.5-.3l.5 .5l.5-.8l.5 0l.5-.8l.5 .4l.5-.6l.5 1.1l.5-.7l.5 .7l.5-.4l.5 .6l.5-.8l.5 1.1l.5-1.1l.5 1.2l.5-1.1l.5 .4l.5-.8l.5 1.1l.5-.9l.5 .2l.5-.5l.5 .6l.5-.5l.5 .8l.5-.6l.5 .2l.5-.5l.5 .1l.5-.7l.5 .6l.5-.4l.5 .9l.5-.4l.5 .8l.5-.2l.5 .8l.5-.5l.5 .3l.5-.7l.5 .4l.5-.4l.5 .1l.5-.5l.5 .6l.5-.8l.5 1.4l.5-.4l.5 .8l.5-.9l.5 .3l.5-1.1l.5 1.1l.5-.9l.5 1l.5-.6l.5 1.1l.5-.9l.5 .8l.5-.7l.5-.1l.5-.7l.5 .4l.5-1l.5 .6l.5-.2l.5 .5l.5-.5l.5 .7l.5-.8l.5 1.2l.5-.5l.5 .7l.5-.8l.5 .8l.5-1.2l.5 1l.5-.4l.5 .5l.5-.7l.5 .9l.5-1.1l.5 .7l.5-.6l.5 .4l.5-1.2l.5 1.2l.5-.9l.5 .7l.5-.9l.5 1.7l.5-1.2l.5 1.3l.5-.9l.5 .9l.5-1.3l.5 .3l.5-.6l.5 .7l.5-.3l.5 1.1l.5-1l.5 1.3l.5-.8l.5 .4l.5-.9l.5 .6l.5-.9l.5 1.2l.5-.8l.5 .4l.5-.6l.5 .4l.5-.6l.5 .8l.5-.5l.5 .4l.5-.2l.5 .5l.5-.4l.5 .1l.5-.6l.5 0l.5-.3l.5 .5l.5 .1l.5 .6l.5 0l.5 .3l.5-.7l.5 .2l.5-.4l.5 .3l.5-.4l.5 .5l.5-.4l.5 .1l.5-.2l.5 .1l.5-.6l.5 .5l.5-.5l.5 .7l.5 0l.5 1l.5 .1l.5 .8l.5-.9l.5 .2l.5-1.1l.5-.9l.5-1.4l.5 .4l.5 2.5l.5 3.5l.5-2.9l.5-1.8l.5 .1l.5 1.3l.5-1l.5 .5l.5-1.4l.5 1.2l.5-.9l.5 1.3l.5-.7l.5 .7l.5-.9l.5 .7l.5-1.4l.5 .9l.5-.5l.5 1.1l.5-.8l.5 1.7l.5-.8l.5 .4l.5-.9l.5 .7l.5-1l.5 .8l.5-.7l.5 1.3l.5-2.1l.5 1l.5-.8l.5 1l.5-.5l.5 .9l.5-.2l.5 .6l.5-.9l.5 .6l.5-.9l.5 .3l.5-.6l.5 .5l.5-.4l.5 0l.5-1.5l.5-.7l.5-1.1l.5 3.8l.5 2.6l.5-2l.5-2.8l.5 1.9l.5 1l.5-.2l.5-.7l.5 .2l.5-.4l.5 .5l.5-.1l.5 .3l.5-.2l.5 .5l.5-.2l.5 .4l.5-.4l.5 .6l.5-.7l.5 .4l.5-.2l.5 .3l.5-.4l.5 .2l.5-.8l.5 0l.5-.5l.5 .2l.5-.4l.5 .3l.5-.2l.5 .1l.5-.6l.5 .3l.5-.2l.5 .8l.5-.4l.5 .7l.5 0l.5 .2l.5-1.2l.5-.5l.5-.6l.5 3.3l.5 2.3l.5-2.4l.5-3.5l.5 1.8l.5 .5l.5 0l.5-1.1l.5 .2l.5-.3l.5 .6l.5 .1l.5 .6l.5-.2l.5 .6l.5-1l.5 .9l.5-.9l.5 .6l.5-.3l.5 1.2l.5-.6l.5 .6l.5-1.1l.5 1.6l.5-1.1l.5 .8l.5-.8l.5 .8l.5-.8l.5 .4l.5-.5l.5 .8l.5-.5l.5 .2l.5-.2l.5 .2l.5-.8l.5 .3l.5-.8l.5 .8l.5-.3l.5 .7l.5-.4l.5 .4l.5-.6l.5 .3l.5-.4l.5 1l.5-.4l.5 .4l.5-.3l.5 .3l.5-1.6l.5-.4l.5-2.3l.5 0l.5 4.1l.5 5.2l.5-6.1l.5-4.9l.5 5.4l.5 6.3l.5-5.5l.5-4.7l.5 2.3l.5 3.6l.5-1.2l.5-.7l.5-1l.5 1l.5-.9l.5 .8l.5-.4l.5 .2l.5-.7l.5-.7l.5-3.3l.5-2.2l.5-1.9l.5 18.8l.5-2.3l.5-3.3l.5-4.5l.5-.9l.5-1.1l.5 1.2l.5-.1l.5 1.1l.5-.4l.5 1.1l.5-.3l.5 .5l.5-1l.5 .4l.5-.5l.5 .8l.5-1.5l.5 1.3l.5-1.2l.5 1.5l.5-.5l.5 .3l.5-.5l.5 .4l.5-.6l.5 1.1l.5-.9l.5 .8l.5-.7l.5 .3l.5-1l.5 .2l.5-.7l.5 .5l.5-1.2l.5 1l.5 0l.5 .8l.5-.1l.5 .7l.5-.6l.5 .4l.5-.7l.5 .5l.5-.9l.5 1.3l.5-1l.5 .6l.5-.2l.5 .8l.5-1.2l.5 .7l.5-.7l.5 .3l.5-1l.5 1l.5-.4l.5 1.1l.5-.8l.5 .2l.5-.7l.5 .5l.5-.8l.5 .4l.5-.4l.5 .5l.5-.9l.5 1.4l.5-.9l.5 1.3l.5-.7l.5 .9l.5-.9l.5 .6l.5-1l.5 .8l.5-.6l.5 .9l.5-.3l.5 .3l.5-.5l.5 0l.5-.7l.5 .1l.5-.2l.5 .5l.5-.5l.5 .5l.5-.3l.5 .5l.5-.2l.5 .5l.5-.4l.5 .6l.5-.4l.5 .8l.5-.6l.5 .2l.5-.7l.5 .5l.5-.5l.5 1l.5-.5l.5 .8l.5-.8l.5 1.1l.5-.6l.5 .2l.5-.8l.5 .6l.5-1.6l.5 1.1l.5-.7l.5 .5l.5-.4l.5 .4l.5-1.3l.5 1.3l.5-.6l.5 1.3l.5-.9l.5 .7l.5-.6l.5 .9l.5-.8l.5 1.7l.5-1.6l.5 1.1l.5-.7l.5 .5l.5-.8l.5 .3l.5-.8l.5 .6l.5-1.3l.5 1.3l.5-.8l.5 .3l.5-.9l.5 .6l.5-.9l.5 1.4l.5-1.2l.5 1.2l.5-1.1l.5 1.6l.5-1.2l.5 1.3l.5-1.2l.5 .6l.5-.8l.5 1.1l.5-.5l.5 .8l.5-1.1l.5 1.1l.5-1.2l.5 1l.5-.5l.5 1l.5-.2l.5 .6l.5-.5l.5 .3l.5-.9l.5 .4l.5-.8l.5 .3l.5-.7l.5-.1l.5-.9l.5 .9l.5-.4l.5 .9l.5-.1l.5 1.2l.5-.5l.5 .4l.5-.5l.5 .1l.5-.6l.5 0l.5-.5"/>
</g>
<g font-size="16">
<text x="242.9" y="78.9" text-anchor="end">3</text>
<text x="242.9" y="113.6" text-anchor="end">2</text>
<text x="242.9" y="148.2" text-anchor="end">1</text>
<text x="242.9" y="182.9" text-anchor="end">0</text>
<text x="242.9" y="217.6" text-anchor="end">-1</text>
<text x="242.9" y="252.2" text-anchor="end">-2</text>
<text x="242.9" y="286.9" text-anchor="end">-3</text>
<text x="250.5" y="303.2" text-anchor="middle">13:15</text>
<text x="547.9" y="303.2" text-anchor="middle">13:16</text>
<text x="845.3" y="303.2" text-anchor="middle">13:17</text>
<text x="1142.7" y="303.2" text-anchor="middle">13:18</text>
<text x="1440.1" y="303.2" text-anchor="middle">13:19</text>
<text x="1737.5" y="303.2" text-anchor="middle">13:20</text>
<text class="mx" x="250.2" y="67.8" font-size="12.6">×</text><text x="262.9" y="68">10</text><text x="280.6" y="60.1" font-size="13.4">-3</text>
</g>
<text class="b k" x="994" y="65" text-anchor="middle"><tspan class="la" font-size="17.6">2025</tspan><tspan class="cj" font-size="18.5">年</tspan><tspan class="la" font-size="17.6">5</tspan><tspan class="cj" font-size="18.5">月</tspan><tspan class="la" font-size="17.6">29</tspan><tspan class="cj" font-size="18.5">日全光纤海底地震仪监测数据（第一组三分量）</tspan></text>
<text class="b" x="994.6" y="325.7" text-anchor="middle"><tspan class="cj" font-size="17.6" letter-spacing="1.2">时间</tspan></text>
<text class="b" transform="translate(221.5,176) rotate(-90)" text-anchor="middle"><tspan class="cj" font-size="18.2">加速度</tspan><tspan class="la" font-size="17.6">(g)</tspan></text>
<path d="M1608.5,95.5h40" stroke="#ff0000" stroke-width="2" fill="none"/>
<text class="b k" x="1651.6" y="101.5"><tspan class="cj" font-size="15.6" letter-spacing="1.15">东西向</tspan><tspan class="la" font-size="16">(X)</tspan></text>
<path d="M1608.5,117.5h40" stroke="#0000ff" stroke-width="2" fill="none"/>
<text class="b k" x="1651.6" y="123.5"><tspan class="cj" font-size="15.6" letter-spacing="1.15">南北向</tspan><tspan class="la" font-size="16">(Y)</tspan></text>
<path d="M1608.5,138.5h40" stroke="#ff8000" stroke-width="2" fill="none"/>
<text class="b k" x="1651.6" y="144.5"><tspan class="cj" font-size="15.6" letter-spacing="1.15">垂直向</tspan><tspan class="la" font-size="16">(Z)</tspan></text>
</g>
<g id="plot2">
<path class="ax" d="M250.5,361.5H1737.5V568.5H250.5ZM547.5,568.5v-14M547.5,361.5v14M845.5,568.5v-14M845.5,361.5v14M1142.5,568.5v-14M1142.5,361.5v14M1440.5,568.5v-14M1440.5,361.5v14M250.5,395.5h14M1737.5,395.5h-14M250.5,430.5h14M1737.5,430.5h-14M250.5,465.5h14M1737.5,465.5h-14M250.5,499.5h14M1737.5,499.5h-14M250.5,534.5h14M1737.5,534.5h-14"/>
<g clip-path="url(#c1)">
<path class="w" stroke="#ff0000" d="M250.5,463.8l.5 .8l.5-7.6l.5 12l.5-5.3l.5 2l.5-3.7l.5 7l.5-4.6l.5 1.3l.5-2.3l.5 3.4l.5-1.9l.5 1.3l.5-.8l.5 .3l.5-2.1l.5 1.5l.5-1.4l.5 1.2l.5-1.4l.5 1.6l.5-.8l.5 .7l.5-1l.5 1.4l.5-1.2l.5 1.1l.5-2.1l.5 3.8l.5-2.9l.5 1.3l.5-1.6l.5 1.7l.5-1.6l.5 .9l.5-1.5l.5 2.8l.5-1.3l.5 2.8l.5-2.4l.5 1.3l.5-2l.5 1.8l.5-1.9l.5 2l.5-1.8l.5 1.3l.5-1.4l.5 1.4l.5-1.2l.5 1.2l.5-1.3l.5 .9l.5-34.5l.5 77.6l.5-44.3l.5 1.6l.5-1.1l.5 .9l.5-1.4l.5 1l.5-1l.5 2.1l.5-2.3l.5 1.1l.5-.9l.5 1.2l.5-1.2l.5 1.3l.5-.9l.5 1.4l.5-1.6l.5 1.8l.5-1.7l.5 1l.5-2l.5 2.1l.5-3.3l.5 4.3l.5-1.8l.5 2.8l.5-3.8l.5 2l.5-.9l.5 1.6l.5-2.1l.5 1l.5-1.3l.5 1.3l.5-1.1l.5 1.5l.5-1.1l.5 1.1l.5-1.7l.5 1.6l.5-1.5l.5 .9l.5-1.2l.5 1.5l.5-1.6l.5 1.6l.5-.5l.5 1l.5-2.7l.5 2.2l.5-2.2l.5 2l.5-.7l.5 1l.5-1l.5 1.1l.5-2.3l.5 2.2l.5-1.9l.5 3.1l.5-2.7l.5 1l.5-3.1l.5 6l.5-3.3l.5 1.2l.5-2.8l.5 2.8l.5-3.3l.5 3.4l.5-1.2l.5 .9l.5-.5l.5 .7l.5-.9l.5 .9l.5-1.6l.5 3.1l.5-3.2l.5 2.4l.5-2.4l.5 3l.5-3.5l.5 .8l.5-.7l.5 2l.5-2.4l.5 1.7l.5-1.1l.5 2.1l.5-1.6l.5 1.1l.5-1.9l.5 2.3l.5-1.6l.5 1.5l.5-1.5l.5 2.1l.5-2l.5 1.9l.5-1.6l.5 1.4l.5-1.5l.5 1l.5-.8l.5 .7l.5-1.8l.5 1.5l.5-.9l.5 .7l.5-1.7l.5 1.8l.5-1.2l.5 1.8l.5-5.3l.5 8.5l.5-4.9l.5 .5l.5-.7l.5 2.2l.5-2.7l.5 1.7l.5-.2l.5 1l.5-.8l.5 .6l.5-1.3l.5 .9l.5-1.2l.5 1.7l.5-1.2l.5 1l.5-.3l.5 .7l.5-1l.5 .5l.5-.7l.5 .7l.5-.6l.5 .9l.5-1.2l.5 .7l.5-1.4l.5 1.3l.5-2.3l.5 2.4l.5-1l.5 .6l.5-.7l.5 1.2l.5-1l.5 .9l.5-.7l.5 1.1l.5-1.9l.5 1.5l.5-2.6l.5 2.5l.5-1.2l.5 1.1l.5-1.1l.5 1.9l.5-1.5l.5 .7l.5-1.3l.5 2l.5-1.5l.5 .9l.5-1.7l.5 1.5l.5-.8l.5 1.1l.5-1.3l.5 1.9l.5-.5l.5 .9l.5-1.5l.5 1.2l.5-1.5l.5 .4l.5-.4l.5 1.1l.5-.6l.5 1l.5-.7l.5 .6l.5-.7l.5 .2l.5-2.4l.5 4l.5-1.9l.5 .7l.5-1l.5 1.3l.5-.6l.5 .1l.5-1.3l.5 1.5l.5-1l.5 1.7l.5-1.5l.5 .5l.5-.7l.5 .7l.5-.7l.5 .8l.5-.5l.5 .5l.5-.9l.5 1l.5-1.5l.5 1.4l.5-1.4l.5 .7l.5-.6l.5 .7l.5-1l.5 1.4l.5-16.8l.5 41.4l.5-26l.5 1.8l.5-.9l.5 .9l.5-1.2l.5 1l.5-.8l.5 .4l.5-.5l.5 .8l.5-.6l.5 .8l.5-1.1l.5 .9l.5-1.6l.5 .9l.5-1.7l.5 1.5l.5-.5l.5 .6l.5-.6l.5 .9l.5-1l.5 1.8l.5-.4l.5 1l.5-1.3l.5 1l.5-2.4l.5 2.4l.5-1.3l.5 3.4l.5-3l.5 1.5l.5-1.8l.5 1.2l.5-1.4l.5 1.9l.5-2.7l.5 5.6l.5-5.3l.5 .9l.5-1.2l.5 2.4l.5-9.3l.5 19l.5-12.3l.5 1.5l.5-1.8l.5 1.9l.5-1.6l.5 3.1l.5-1.8l.5 3.3l.5-3.4l.5 2.3l.5-2.8l.5 1.7l.5-3.2l.5 3.2l.5-2.1l.5 2.1l.5-1.6l.5 1l.5-1.1l.5 .8l.5-1l.5 1.4l.5-.9l.5 1.2l.5-1.3l.5 .7l.5-1l.5 1l.5-2.7l.5 3l.5-1.3l.5 .9l.5-1.8l.5 2.2l.5-2.1l.5 1.9l.5-1.4l.5 2.4l.5-1.6l.5 .9l.5-.7l.5 .9l.5-1.2l.5 1.2l.5-.7l.5 1l.5-6.2l.5 11l.5-6.6l.5 2.2l.5-2.5l.5 1.4l.5-6.5l.5 11l.5-4.9l.5 1.3l.5-2.5l.5 1.4l.5-7.3l.5 13l.5-7.3l.5 1.3l.5-1.2l.5 1.6l.5-6.4l.5 13l.5-8l.5 1.2l.5-1.1l.5 .8l.5-6.9l.5 12l.5-6l.5 1.5l.5-16.5l.5 58l.5-44.3l.5 2.8l.5-2.2l.5 2.5l.5-10.8l.5 17l.5-8.1l.5 2.1l.5-1.4l.5 1.2l.5-3l.5 3.1l.5-1.3l.5 .9l.5-1.2l.5 2.1l.5-2.2l.5 1.9l.5-3.5l.5 3.4l.5-4l.5 4l.5-1.7l.5 2.9l.5-3.8l.5 4.2l.5-3.9l.5 2.4l.5-3.4l.5 3l.5-.9l.5 .7l.5-.8l.5 1.7l.5-1.6l.5 1.2l.5-.9l.5 1.7l.5-1.4l.5 1l.5-1.4l.5 1.8l.5-13.8l.5 23l.5-12.1l.5 .9l.5-.9l.5 1l.5-1.8l.5 2.8l.5-1.3l.5 .7l.5-1.2l.5 1.5l.5-2.1l.5 2.1l.5-.9l.5 .7l.5-.8l.5 .7l.5-1.2l.5 1.5l.5-1.1l.5 .9l.5-1.1l.5 2.4l.5-3l.5 3l.5-2.4l.5 1.2l.5-.8l.5 1l.5-1.3l.5 1.1l.5-.6l.5 1l.5-1.4l.5 1.7l.5-1.5l.5 .7l.5-1.1l.5 1l.5-1l.5 2l.5-1.8l.5 1.4l.5-1.1l.5 1.3l.5-1.3l.5 1.6l.5-2.3l.5 1.2l.5-1.3l.5 1.3l.5-1.1l.5 1.4l.5-3.6l.5 6l.5-3.6l.5 1.3l.5-.6l.5 .3l.5-.9l.5 .9l.5-10.4l.5 25l.5-15.1l.5 .7l.5-2.4l.5 2.5l.5-4.7l.5 8l.5-4.3l.5 .8l.5-1l.5 .7l.5-1.4l.5 1.1l.5-.5l.5 .9l.5-1.1l.5 1.9l.5-1.1l.5 .9l.5-.9l.5 .8l.5-1.3l.5 1l.5-1.1l.5 1.1l.5-1l.5 .6l.5-1.7l.5 2.3l.5-1.8l.5 1.5l.5-1.4l.5 2l.5-1.6l.5 1l.5-1.2l.5 1.2l.5-.5l.5 .7l.5-.3l.5 .3l.5-.3l.5 1.6l.5-1.8l.5 .6l.5-1.1l.5 1.1l.5-1.4l.5 1.5l.5-1.2l.5 1.9l.5-1.9l.5 1.1l.5-82.7l.5 146.5l.5-65.4l.5 1.9l.5-.9l.5 1.3l.5-1.1l.5 1.1l.5-1.7l.5 1.3l.5-2l.5 1.7l.5-1.1l.5 1.2l.5-1.7l.5 1l.5-.9l.5 1l.5-1.5l.5 2.3l.5-1.5l.5 .8l.5-.4l.5 1.5l.5-1.9l.5 1l.5-1l.5 1.2l.5-1l.5 1.3l.5-1.4l.5 1.1l.5-7.7l.5 14l.5-8.3l.5 1.5l.5-1.8l.5 1.8l.5-1.4l.5 1.7l.5-.9l.5 .5l.5-.6l.5 1l.5-22.5l.5 49l.5-27.7l.5 2.5l.5-1.7l.5 .9l.5-1.2l.5 .7l.5-.9l.5 1.6l.5-1.8l.5 1.2l.5-3.6l.5 6l.5-4.3l.5 2.2l.5-1.6l.5 1.4l.5-1.1l.5 1.7l.5-2l.5 1.8l.5-1.3l.5 .9l.5-1.3l.5 1.8l.5-2.6l.5 2.2l.5-1.5l.5 3l.5-3l.5 1.8l.5-1.3l.5 1.1l.5-1.6l.5 2.2l.5-1.7l.5 1.6l.5-1.7l.5 1l.5-1.2l.5 .6l.5-7.1l.5 14l.5-8.9l.5 3.3l.5-2.2l.5 1l.5-1.3l.5 2.7l.5-2l.5 3.1l.5-3.3l.5 1.3l.5-2.1l.5 1.8l.5-1.4l.5 1.7l.5-1.3l.5 1.9l.5-1.3l.5 1.6l.5-3.8l.5 3.1l.5-1.3l.5 2.8l.5-3.7l.5 1.6l.5-.6l.5 .8l.5-1.2l.5 1.5l.5-2.8l.5 4l.5-4.4l.5 3.7l.5-1.2l.5 1.1l.5-1l.5 1l.5-1.7l.5 1.4l.5-1.2l.5 .9l.5-1.5l.5 2.3l.5-1.2l.5 1.1l.5-1.3l.5 .8l.5-1l.5 1.6l.5-1l.5 .4l.5-1l.5 .5l.5-1.4l.5 2.5l.5-2.8l.5 2l.5-2.5l.5 2.7l.5-2.6l.5 2.5l.5-1.6l.5 2.3l.5-5.5l.5 4.2l.5-8.1l.5 15l.5-9.5l.5 2.5l.5-2.2l.5 2.5l.5-2.7l.5 3.5l.5-2.3l.5 1.6l.5-1.2l.5 2.2l.5-2.2l.5 2.2l.5-1.7l.5 1l.5-.7l.5 3l.5-3.7l.5 3.1l.5-2.5l.5 .6l.5-.7l.5 1.3l.5-1.5l.5 .9l.5-4.5l.5 9l.5-6.1l.5 1l.5-.3l.5 .9l.5-.7l.5 2.3l.5-2.4l.5 1l.5-1l.5 .5l.5-1.3l.5 2.9l.5-2.7l.5 1.4l.5-1.2l.5 1.3l.5-1.8l.5 1.9l.5-1.3l.5 1.5l.5-8.4l.5 19l.5-12.4l.5 1.6l.5-1.2l.5 1.4l.5-1.1l.5 2.1l.5-1.8l.5 1.1l.5-.9l.5 1.8l.5-2.3l.5 1.2l.5-.5l.5 1.4l.5-1.9l.5 1.3l.5-1.3l.5 2.3l.5-2.9l.5 2.1l.5-4.3l.5 3.4l.5-1.6l.5 2l.5-2.5l.5 2.4l.5-2.4l.5 2.5l.5-2.2l.5 1.4l.5-2l.5 2.7l.5-1.9l.5 3.1l.5-2.4l.5 1.7l.5-2.7l.5 1.6l.5-2l.5 2.4l.5-.9l.5 2.1l.5-4l.5 3l.5-1.5l.5 2.1l.5-2.4l.5 1.8l.5-2.2l.5 3l.5-3l.5 1.8l.5-1.9l.5 1.6l.5-1l.5 1.9l.5-2.4l.5 1.7l.5-1l.5 1.5l.5-1.2l.5 .6l.5-1.3l.5 1.9l.5-1.5l.5 1.9l.5-25.3l.5 37.6l.5-15.6l.5 3l.5-2l.5 1.8l.5-.6l.5 1.2l.5-1.3l.5 .2l.5-1.4l.5 2l.5-3.1l.5 2.3l.5-1.6l.5 1.9l.5-2.3l.5 2.1l.5-.8l.5 1l.5-.8l.5 .9l.5-.7l.5 .4l.5-.6l.5 .3l.5-.5l.5 .8l.5-.5l.5 .9l.5-.9l.5 .9l.5-.8l.5 1.1l.5-1.5l.5 1l.5-.7l.5 1.1l.5-1l.5 1l.5-.8l.5 1.3l.5-1.8l.5 .9l.5-1.1l.5 1l.5-2.4l.5 2.2l.5-.6l.5 .9l.5-.8l.5 1.3l.5-1.5l.5 .5l.5-.6l.5 .5l.5-.7l.5 .8l.5-.8l.5 1.4l.5-1.3l.5 2l.5-1.9l.5 1.3l.5-1.1l.5 1.8l.5-2.3l.5 1.5l.5-.9l.5 1.1l.5-1.9l.5 1.9l.5-8.7l.5 20l.5-12.1l.5 1.8l.5-2.8l.5 1.6l.5-.7l.5 .8l.5-1l.5 .6l.5-1.3l.5 1.2l.5-2.3l.5 2.3l.5-.9l.5 1.6l.5-3.7l.5 3.7l.5-1.8l.5 1.8l.5-.6l.5 1.3l.5-.8l.5 1.3l.5-2.3l.5 1.6l.5-2.4l.5 1.5l.5-1.6l.5 1.4l.5-1.4l.5 2.8l.5-1.8l.5 .8l.5-1.1l.5 .8l.5-.6l.5 .3l.5-.8l.5 .7l.5-1.9l.5 2.1l.5-3.1l.5 6l.5-3.4l.5 1.5l.5-1.8l.5 1.7l.5-1.5l.5 1.1l.5-.9l.5 .9l.5-1.6l.5 1.1l.5-.8l.5 .5l.5-.6l.5 .7l.5-.8l.5 1.2l.5-.7l.5 .9l.5-.7l.5 1.1l.5-1.3l.5 1.1l.5-1.1l.5 1.9l.5-1.8l.5 .6l.5-.4l.5 .9l.5-.8l.5 1.1l.5-1.7l.5 2.5l.5-2.1l.5 .9l.5-1.6l.5 2.2l.5-1.4l.5 .9l.5-3.4l.5 3.4l.5-1.8l.5 1.4l.5-2.3l.5 2.5l.5-1.4l.5 2l.5-1.7l.5 2l.5-2.3l.5 2.6l.5-3.4l.5 3.6l.5-4l.5 4l.5-4l.5 3.7l.5-4l.5 3.9l.5-4.6l.5 3.5l.5-2.6l.5 2.7l.5-2.3l.5 1.6l.5-2.9l.5 3.2l.5-1.4l.5 2.6l.5-2.6l.5 2.4l.5-1.4l.5 1.9l.5-2l.5 1.4l.5-1.4l.5 1.2l.5-1.7l.5 3l.5-3.4l.5 2.4l.5-3.5l.5 2.4l.5-.9l.5 2.2l.5-3l.5 2.3l.5-2.1l.5 1.7l.5-.9l.5 1l.5-2.4l.5 2.5l.5-1.7l.5 2.9l.5-2.2l.5 1.6l.5-.8l.5 3.4l.5-6.1l.5 4.6l.5-2.8l.5 1.8l.5-3.8l.5 3.2l.5-1.1l.5 1l.5-.8l.5 1.5l.5-11.8l.5 19.1l.5-9.4l.5 2l.5-1.4l.5 .8l.5-.8l.5 1.3l.5-1.3l.5 1.8l.5-2.4l.5 2.2l.5-4.3l.5 4.1l.5-8.1l.5 11l.5-5l.5 1.8l.5-1.3l.5 1.4l.5-1.9l.5 2.6l.5-1.7l.5 1.1l.5-1.6l.5 1.7l.5-2.1l.5 2.4l.5-2.5l.5 2.2l.5-2.2l.5 1.5l.5-1.2l.5 1.7l.5-3.3l.5 3.4l.5-2.4l.5 2.6l.5-2.1l.5 1.3l.5-1.7l.5 2.5l.5-1.6l.5 1.3l.5-6.4l.5 9l.5-4l.5 .5l.5-1.3l.5 2l.5-1.6l.5 2l.5-1.1l.5 .8l.5-.7l.5 1.8l.5-1.6l.5 .8l.5-1.1l.5 .7l.5-.5l.5 1.4l.5-1.4l.5 .7l.5-2.9l.5 4l.5-1.9l.5 .9l.5-1l.5 .3l.5-1.4l.5 1.2l.5-1.4l.5 1.2l.5-1.2l.5 1.1l.5-1.4l.5 2.1l.5-1.6l.5 1.2l.5-.6l.5 1.7l.5-3.4l.5 2.9l.5-2.7l.5 4l.5-4.2l.5 3.7l.5-2.1l.5 2.3l.5-3.3l.5 3.7l.5-2.4l.5 1.4l.5-3.6l.5 3.7l.5-2.4l.5 2l.5-1.9l.5 3.4l.5-3.4l.5 2.3l.5-10.2l.5 16l.5-7.6l.5 3.2l.5-4.1l.5 2.1l.5-1.2l.5 1.9l.5-5.4l.5 6.5l.5-2.3l.5 1l.5-1.6l.5 .9l.5-1.6l.5 1.6l.5-.8l.5 .7l.5-6.3l.5 9l.5-3.5l.5 1.3l.5-1l.5 1.3l.5-1.2l.5 1.1l.5-1l.5 .5l.5-1l.5 1.1l.5-1.3l.5 1.1l.5-.9l.5 .9l.5-.8l.5 .4l.5-.9l.5 2l.5-1.1l.5 .6l.5-.8l.5 1.8l.5-2.4l.5 .9l.5-9.1l.5 20l.5-11.5l.5 .8l.5-1.2l.5 1.1l.5-1l.5 2l.5-2.2l.5 4.6l.5-7.2l.5 14l.5-16l.5 9.3l.5-10.3l.5 11.2l.5-8.4l.5 6.7l.5-10l.5 16.7l.5-11.2l.5 7l.5-7.2l.5 3.6l.5-6.7l.5 12.7l.5-10.6l.5 9.6l.5-10l.5 8.8l.5-8.9l.5 5.7l.5-4.8l.5 7.1l.5-10.9l.5 8.5l.5-5l.5 8.6l.5-14.2l.5 13.1l.5-10.9l.5 10.3l.5-9.8l.5 9l.5-9l.5 7.8l.5-5.8l.5 8.2l.5-10.7l.5 11.4l.5-12.6l.5 15.2l.5-13.3l.5 14.3l.5-13.3l.5 15.9l.5-21.9l.5 18.2l.5-18.6l.5 22.9l.5-23l.5 23.8l.5-38.9l.5 60l.5-58.8l.5 42.3l.5-32.2l.5 30.1l.5-30.8l.5 23.9l.5-23.9l.5 26.9l.5-20.5l.5 32.1l.5-32.4l.5 23.8l.5-23.1l.5 21.9l.5-25.3l.5 18.2l.5-17.2l.5 18.7l.5-24.4l.5 28.5l.5-27.7l.5 29.2l.5-33.9l.5 28.4l.5-14.7l.5 14.7l.5-14.4l.5 14.8l.5-18.9l.5 15.4l.5-16.4l.5 21.3l.5-21.2l.5 32l.5-33.4l.5 26.2l.5-23.4l.5 18.7l.5-18.7l.5 29.4l.5-28.7l.5 20.8l.5-19l.5 13.9l.5-17.6l.5 17.9l.5-11.6l.5 11.2l.5-9.5l.5 8l.5-12l.5 12.9l.5-13.2l.5 14.2l.5-11.9l.5 10.2l.5-8.2l.5 13.1l.5-19.9l.5 20.5l.5-19l.5 16.1l.5-22.9l.5 22.5l.5-14.6l.5 15.2l.5-14.6l.5 14.4l.5-11.9l.5 8.8l.5-14l.5 17.2l.5-17.3l.5 23.3l.5-18.6l.5 8l.5-16.3l.5 19.6l.5-17.4l.5 23l.5-21.4l.5 14.1l.5-7.8l.5 8.4l.5-10.9l.5 11l.5-9.4l.5 8.3l.5-13.9l.5 14l.5-6.7l.5 6.9l.5-15.1l.5 17.7l.5-10.5l.5 12.3l.5-15.2l.5 12.6l.5-13.3l.5 14.7l.5-16.1l.5 15l.5-15.6l.5 16.5l.5-40.4l.5 63l.5-37.2l.5 11.7l.5-9.9l.5 8.6l.5-5.9l.5 9.1l.5-11.4l.5 9l.5-9.7l.5 12.6l.5-9.8l.5 12.3l.5-13.4l.5 10.7l.5-13l.5 9.5l.5-9.3l.5 9l.5-6.1l.5 8.7l.5-9.2l.5 15.2l.5-20.2l.5 14.6l.5-12.8l.5 15.7l.5-16l.5 10.6l.5-11.9l.5 20.7l.5-16.4l.5 10.7l.5-13.4l.5 14.7l.5-11.9l.5 12.6l.5-18.8l.5 15.3l.5-8.4l.5 10.8l.5-12.6l.5 17.8l.5-21.5l.5 18.6l.5-17.2l.5 13.3l.5-11l.5 9.8l.5-10.6l.5 11.9l.5-21.6l.5 22.3l.5-12.6l.5 19.2l.5-18.9l.5 9.8l.5-10.6l.5 9.6l.5-18.7l.5 26l.5-20.4l.5 25l.5-22.5l.5 26.5l.5-28.4l.5 39.4l.5-61l.5 58l.5-41.8l.5 37.9l.5-38.7l.5 30.6l.5-37.1l.5 38.6l.5-39.7l.5 55.6l.5-43.5l.5 19.8l.5-22.1l.5 22.3l.5-18.7l.5 18.8l.5-17.2l.5 17.7l.5-24.5l.5 23.5l.5-15.9l.5 11.9l.5-10.7l.5 24.5l.5-27.2l.5 17.6l.5-17.9l.5 23.2l.5-44.2l.5 51l.5-53.4l.5 59.4l.5-50.5l.5 64.3l.5-70.9l.5 59.5l.5-67.9l.5 71.8l.5-56l.5 56.2l.5-60.8l.5 48.9l.5-57.2l.5 58.5l.5-58l.5 71.6l.5-75.7l.5 91.3l.5-100.9l.5 105l.5-75.2l.5 64.1l.5-100.8l.5 111.7l.5-81l.5 60.4l.5-44.7l.5 41.1l.5-80.6l.5 98l.5-89.4l.5 85.6l.5-58.4l.5 46.7l.5-45.8l.5 24.2l.5-77.9l.5 134.6l.5-86.9l.5 50.3l.5-53.2l.5 38.2l.5-44.5l.5 42.5l.5-70l.5 89l.5-51.4l.5 31l.5-38.7l.5 43.7l.5-55.7l.5 56.9l.5-45.3l.5 48.6l.5-48.8l.5 35.4l.5-57.7l.5 86l.5-51.9l.5 44.7l.5-59.8l.5 43.8l.5-37.5l.5 68l.5-89.5l.5 86.5l.5-71.5l.5 72.1l.5-80l.5 56.1l.5-43l.5 50.9l.5-66.6l.5 62.7l.5-45.5l.5 37.3l.5-41.4l.5 42.4l.5-60l.5 80.8l.5-66.9l.5 60.4l.5-71.1l.5 75l.5-73.3l.5 54.6l.5-24.7l.5 22.3l.5-27.7l.5 31.1l.5-39l.5 38.8l.5-37.8l.5 48.4l.5-62.7l.5 76l.5-67.9l.5 62l.5-58.1l.5 40.6l.5-34.4l.5 28.6l.5-29.8l.5 55l.5-59.2l.5 50.4l.5-49.4l.5 32.2l.5-41.8l.5 57.8l.5-52l.5 53l.5-52.5l.5 47.3l.5-46.5l.5 32.3l.5-35.6l.5 36.1l.5-25.1l.5 29.6l.5-17.2l.5 12.2l.5-35.6l.5 52l.5-33.6l.5 15.5l.5-10.3l.5 10.9l.5-12.9l.5 9.8l.5-15.9l.5 22.5l.5-22.4l.5 22l.5-18l.5 15.7l.5-15.7l.5 13.9l.5-13.1l.5 15.6l.5-23.7l.5 35.6l.5-38.9l.5 46l.5-45.4l.5 30l.5-30.6l.5 28.4l.5-16.6l.5 16.3l.5-19.6l.5 20.6l.5-25.4l.5 27.4l.5-24.2l.5 30l.5-30.6l.5 30.3l.5-22.7l.5 11.8l.5-10.5l.5 7l.5-13.3l.5 12.1l.5-4.5l.5 8.2l.5-8.6l.5 7.1l.5-8.9l.5 9.1l.5-13.3l.5 16.9l.5-16.6l.5 19.9l.5-23.5l.5 17.6l.5-11l.5 10l.5-10.7l.5 18.9l.5-23.4l.5 15.2l.5-14l.5 17.7l.5-13.5l.5 9.4l.5-15.5l.5 16.1l.5-14.1l.5 17.1l.5-18.4l.5 15.2l.5-12l.5 16.5l.5-16.7l.5 16.5l.5-13.2l.5 7.9l.5-13.6l.5 16.5l.5-13.2l.5 13.8l.5-11.8l.5 9.2l.5-12.3l.5 12.9l.5-15l.5 20.2l.5-20.5l.5 14.4l.5-6.9l.5 13.7l.5-17.1l.5 12.1l.5-12.4l.5 13.1l.5-9.7l.5 7.7l.5-19.5l.5 27l.5-22l.5 14.3l.5-12.3l.5 17.5l.5-12.7l.5 6.9l.5-7.6l.5 11.6l.5-13.1l.5 9.6l.5-16.5l.5 24.1l.5-15.9l.5 10.7l.5-18.9l.5 18.4l.5-16.5l.5 19.1l.5-21.1l.5 18.4l.5-13.3l.5 13.2l.5-8.5l.5 11.4l.5-24.3l.5 26.5l.5-16l.5 13.1l.5-14.3l.5 11.8l.5-8.1l.5 7.4l.5-9.1l.5 7.4l.5-10.7l.5 12.8l.5-10l.5 5.9l.5-4.3l.5 4.8l.5-5.8l.5 7.9l.5-11.2l.5 11.7l.5-10.2l.5 8.4l.5-6.6l.5 7.1l.5-7l.5 7.4l.5-7.5l.5 8.4l.5-6.7l.5 4.5l.5-7.9l.5 8.1l.5-9.5l.5 11.5l.5-21.3l.5 24l.5-8.5l.5 4.2l.5-6.5l.5 8.1l.5-5.2l.5 3.7l.5-5.1l.5 5.4l.5-8l.5 9.9l.5-7.4l.5 6.2l.5-8.8l.5 7.7l.5-5.5l.5 8.7l.5-9.6l.5 11l.5-10.2l.5 7l.5-7.5l.5 9.2l.5-8.6l.5 7.8l.5-7.2l.5 5.3l.5-6.6l.5 5.5l.5-5.2l.5 6.9l.5-7.1l.5 5.6l.5-8.6l.5 8.7l.5-5.9l.5 5.3l.5-4.6l.5 6.7l.5-6l.5 6.2l.5-7l.5 5.1l.5-8.6l.5 9.9l.5-7.5l.5 7.2l.5-7.6l.5 10.6l.5-9.3l.5 9.4l.5-13.2l.5 9.3l.5-9.3l.5 13.6l.5-13.7l.5 11.2l.5-8.5l.5 7.3l.5-9.8l.5 9.9l.5-6.2l.5 8.5l.5-7.7l.5 8.1l.5-12.6l.5 12.3l.5-8.9l.5 11l.5-21.5l.5 22l.5-11.7l.5 8.9l.5-12.2l.5 10.4l.5-7.2l.5 9.3l.5-10.7l.5 9.6l.5-8l.5 11l.5-9.1l.5 6.5l.5-8.7l.5 11.5l.5-9.8l.5 7.5l.5-6.9l.5 6.2l.5-10l.5 10.3l.5-16.9l.5 19l.5-10.9l.5 7.1l.5-5.8l.5 7.1l.5-7.3l.5 6.1l.5-8.5l.5 11.1l.5-9.4l.5 9.7l.5-10.8l.5 10.1l.5-8l.5 4.9l.5-7.8l.5 8.9l.5-6.1l.5 4.9l.5-12.3l.5 26.6l.5-20.6l.5 5.9l.5-6.3l.5 5.4l.5-5l.5 5.4l.5-9.4l.5 15l.5-9.9l.5 3.8l.5-7.6l.5 10.2l.5-9.6l.5 10.7l.5-8.1l.5 4.4l.5-4.2l.5 6.6l.5-5.1l.5 4.9l.5-7l.5 9.3l.5-7l.5 3.9l.5-5.8l.5 8.5l.5-10.3l.5 8.9l.5-7.7l.5 6.3l.5-4.5l.5 4.3l.5-35l.5 54l.5-23.9l.5 5.2l.5-6l.5 6.9l.5-4l.5 5l.5-5.7l.5 5.8l.5-5.9l.5 4.5l.5-6.8l.5 6.3l.5-4l.5 2.6l.5-2.7l.5 1.6l.5-2l.5 2.3l.5-1.7l.5 2.5l.5-2.8l.5 3l.5-3.6l.5 3.2l.5-3.1l.5 4.3l.5-3.7l.5 2.1l.5-3.5l.5 3.6l.5-3.3l.5 3.5l.5-2.8l.5 3.1l.5-2.7l.5 3.1l.5-3.7l.5 3.3l.5-2.6l.5 2.2l.5-3.8l.5 4.3l.5-3.2l.5 3.4l.5-2.1l.5 2.2l.5-3l.5 3.1l.5-4.5l.5 3.5l.5-3.7l.5 3.5l.5-2.9l.5 3.7l.5-3.4l.5 4.2l.5-3l.5 4.5l.5-4.9l.5 4.1l.5-4.5l.5 4.2l.5-3.6l.5 3.1l.5-3.7l.5 4.3l.5-5l.5 4.4l.5-3.1l.5 2.7l.5-12.4l.5 23l.5-12.7l.5 3.4l.5-4l.5 3.8l.5-4.9l.5 4l.5-3l.5 2.8l.5-8.4l.5 31l.5-25.5l.5 3.2l.5-2.2l.5 1.9l.5-16.4l.5 38l.5-23.8l.5 1.7l.5-.9l.5 1.2l.5-1.6l.5 1.9l.5-2l.5 1.4l.5-1.6l.5 1.8l.5-2.6l.5 3.4l.5-2.5l.5 1.6l.5-1.4l.5 1.9l.5-3.5l.5 3.7l.5-3.7l.5 3.6l.5-3.8l.5 2.8l.5-2.1l.5 2.9l.5-2.5l.5 4.7l.5-5.8l.5 3.8l.5-2.1l.5 1.9l.5-2.4l.5 2l.5-3.5l.5 4.4l.5-2.6l.5 1.5l.5-1.5l.5 3.5l.5-4.3l.5 2.3l.5-2.4l.5 2.2l.5-2.1l.5 2.7l.5-1.8l.5 2.9l.5-3.1l.5 2l.5-3.5l.5 3.2l.5-3.2l.5 2.9l.5-2.1l.5 2.2l.5-1.7l.5 1.8l.5-1.6l.5 2.9l.5-4.6l.5 4.5l.5-4.3l.5 4.1l.5-3.2l.5 2.3l.5-2.7l.5 2.5l.5-1.7l.5 1.7l.5-1.8l.5 1.8l.5-2.1l.5 1.8l.5-1.3l.5 1.9l.5-2.8l.5 2.4l.5-2.5l.5 2.4l.5-1.6l.5 1.6l.5-2.3l.5 2.6l.5-2.2l.5 3.2l.5-2.4l.5 2.9l.5-2.7l.5 1.5l.5-2.3l.5 2.3l.5-1.8l.5 1.4l.5-1.9l.5 1.3l.5-1.9l.5 1.7l.5-1.8l.5 2.4l.5-2.8l.5 2.6l.5-2l.5 3.4l.5-2.7l.5 2.1l.5-2.4l.5 2.3l.5-2.3l.5 2.3l.5-2.1l.5 3l.5-2.7l.5 2.4l.5-2.6l.5 1.1l.5-1.4l.5 1.1l.5-2.6l.5 3.4l.5-2.5l.5 1.8l.5-2.2l.5 2.9l.5-2l.5 2.2l.5-2l.5 2.1l.5-3.9l.5 6l.5-4l.5 .7l.5-2.8l.5 3.8l.5-2.8l.5 2.6l.5-2.7l.5 2.8l.5-2.5l.5 2.5l.5-2.9l.5 5.1l.5-6.1l.5 3.6l.5-2.4l.5 3.7l.5-2.8l.5 2.2l.5-2.3l.5 2.4l.5-4.2l.5 5.4l.5-2.5l.5 1.9l.5-2l.5 1.8l.5-4.5l.5 4.5l.5-2.4l.5 3l.5-2.5l.5 1.4l.5-2.1l.5 2.5l.5-1.5l.5 .9l.5-1.1l.5 1.4l.5-1.6l.5 .9l.5-1.6l.5 3.3l.5-3.1l.5 2.7l.5-2.5l.5 1.3l.5-1.5l.5 1.4l.5-1.1l.5 1l.5-1.6l.5 2.1l.5-3.7l.5 3.3l.5-.9l.5 1.8l.5-1.8l.5 2.2l.5-2.2l.5 1.5l.5-2.4l.5 2l.5-1.4l.5 .8l.5-.9l.5 3.2l.5-3.8l.5 2.8l.5-2.3l.5 2.1l.5-2.1l.5 1.2l.5-1.3l.5 1l.5-1.2l.5 1.5l.5-.5l.5 .9l.5-1.1l.5 1.5l.5-1.1l.5 2.5l.5-3.1l.5 1.7l.5-2.6l.5 2.4l.5-1.3l.5 .5l.5-5l.5 9l.5-4.3l.5 .8l.5-4.5l.5 9l.5-5.8l.5 1.4l.5-5.6l.5 9l.5-4.9l.5 .8l.5-1.1l.5 1.7l.5-2.1l.5 2.1l.5-1.8l.5 1.5l.5-1.1l.5 2.2l.5-6.3l.5 8l.5-3.9l.5 1.5l.5-1.6l.5 2.1l.5-1.9l.5 1.7l.5-2.3l.5 1.9l.5-.4l.5 1.4l.5-2.2l.5 1.8l.5-1.7l.5 1.2l.5-1l.5 1.1l.5-.9l.5 .8l.5-.7l.5 .4l.5-1.2l.5 1.5l.5-1l.5 .9l.5-.9l.5 .7l.5-.3l.5 .9l.5-1l.5 1.7l.5-1.5l.5 .5l.5-1.1l.5 .8l.5-39.3l.5 79.6l.5-41.1l.5 1l.5-23.5l.5 46l.5-24.6l.5 2l.5-.5l.5 1l.5-1.6l.5 1.2l.5-1.3l.5 1.1l.5-1.3l.5 1.5l.5-1.2l.5 1.5l.5-1.8l.5 2.4l.5-2.2l.5 2.6l.5-3l.5 3l.5-2.5l.5 2.1l.5-2.1l.5 3.6l.5-3.4l.5 1.1l.5-2.3l.5 3.1l.5-55.4l.5 111l.5-58l.5 1.6l.5-2.6l.5 4l.5-2.8l.5 2.8l.5-2.4l.5 2.5l.5-3.2l.5 3.2l.5-2.9l.5 1.6l.5-1.3l.5 1.2l.5-1.4l.5 1.3l.5-1.5l.5 1.3l.5-1.3l.5 1.5l.5-1.8l.5 1.3l.5-1.5l.5 1.4l.5-1.4l.5 1l.5-1.1l.5 1.4l.5-.9l.5 1.2l.5-1.9l.5 1.6l.5-.6l.5 .5l.5-.5l.5 1.4l.5-1.1l.5 .8l.5-1.3l.5 2.2l.5-2.1l.5 1.2l.5-1.4l.5 1l.5-1.5l.5 1.8l.5-.9l.5 1.2l.5-1.7l.5 2.4l.5-1.7l.5 .9l.5-1.1l.5 1.8l.5-1.7l.5 1.8l.5-3.1l.5 2.9l.5-10.7l.5 18.3l.5-9.7l.5 2.2l.5-2.6l.5 2.2l.5-2.7l.5 2.2l.5-3.4l.5 3.9l.5-1.1l.5 1.1l.5-1.5l.5 1.9l.5-1.5l.5 .4l.5-1.6l.5 1.8l.5-1.2l.5 1.2l.5-1.4l.5 1.4l.5-2.8l.5 2.6l.5-1.3l.5 1.1l.5-2.8l.5 3.3l.5-3.4l.5 5.5l.5-2.9l.5 2.7l.5-14.3l.5 25.5l.5-13.6l.5 .8l.5-16.1l.5 25l.5-10.7l.5 2.1l.5-2.2l.5 2.3l.5-2l.5 2.8l.5-2.2l.5 2.3l.5-3.5l.5 1.7l.5-2.5l.5 2.9l.5-1.8l.5 4.3l.5-3.4l.5 1.3l.5-.9l.5 .8l.5-2.1l.5 2.6l.5-3l.5 2.1l.5-1.3l.5 1.7l.5-3.6l.5 4.6l.5-3.9l.5 2.6l.5-1.5l.5 2.8l.5-3.5l.5 2.9l.5-4.1l.5 3.4l.5-1.1l.5 2l.5-3.3l.5 3.6l.5-3l.5 2.3l.5-2.8l.5 2l.5-1.8l.5 2.2l.5-2.2l.5 2.6l.5-3.1l.5 3.1l.5-2.4l.5 4.6l.5-5.3l.5 3.6l.5-2.9l.5 2l.5-3.2l.5 2.2l.5-1l.5 1.1l.5-.8l.5 2.2l.5-3.2l.5 3.4l.5-6l.5 6.4l.5-2.4l.5 1.4l.5-2.1l.5 4.4l.5-3l.5 1.9l.5-2.1l.5 1.9l.5-2.7l.5 1.5l.5-.9l.5 .8l.5-2l.5 2.4l.5-1.7l.5 1.3l.5-1.7l.5 1.8l.5-.8l.5 .9l.5-.8l.5 1.6l.5-1.7l.5 1.9l.5-2.3l.5 1.2l.5-1.4l.5 1.6l.5-1.3l.5 2.6l.5-4.2l.5 2.7l.5-2.1l.5 2.3l.5-.9l.5 1.2l.5-2.5l.5 2l.5-28.2l.5 54.6l.5-27.6l.5 1.2l.5-3.2l.5 3.3l.5-.9l.5 1.5l.5-2.8l.5 2.4l.5-1.5l.5 1.9l.5-1.6l.5 2.5l.5-2.2l.5 1.9l.5-3.5l.5 2.8l.5-1.5l.5 .5l.5-.8l.5 2.3l.5-2.1l.5 .7l.5-.9l.5 .8l.5-.6l.5 .7l.5-.8l.5 .7l.5-.8l.5 1.6l.5-1.7l.5 .9l.5-.5l.5 .9l.5-.9l.5 .6l.5-.5l.5 1.1l.5-1.3l.5 .5l.5-.8l.5 .9l.5-4.2l.5 8l.5-4l.5 .6l.5-1.2l.5 .5l.5-.6l.5 .4l.5-1.2l.5 1.9l.5-.8l.5 2.7l.5-2.3l.5 .8l.5-1.2l.5 1.6l.5-1l.5 1.1l.5-2l.5 1.7l.5-2.7l.5 3.1l.5-2.4l.5 4l.5-4.1l.5 1.1l.5-1.2l.5 1.2l.5-1.2l.5 2.9l.5-2.1l.5 3.7l.5-5.2l.5 2.9l.5-1.8l.5 .8l.5-3.1l.5 3.2l.5-1.1l.5 1.3l.5-1.7l.5 2.7l.5-1.9l.5 1.3l.5-1.1l.5 1.2l.5-1.2l.5 .5l.5-1.1l.5 1.6l.5-.8l.5 1.1l.5-1.3l.5 .8l.5-1l.5 2.1l.5-1.7l.5 1.4l.5-1.5l.5 1.5l.5-2.4l.5 2.8l.5-3.1l.5 3.2l.5-3.9l.5 3.2l.5-4.8l.5 5.9l.5-5.2l.5 6l.5-6.1l.5 6.6l.5-6.9l.5 6.5l.5-5.7l.5 7.3l.5-7.4l.5 6.9l.5-7.8l.5 8.4l.5-6.8l.5 7.5l.5-8.2l.5 7l.5-8l.5 7.4l.5-9l.5 8.9l.5-7.7l.5 7.6l.5-8.8l.5 7.9l.5-7.2l.5 7.8l.5-8.3l.5 8.2l.5-6.4l.5 8.3l.5-8.6l.5 8l.5-9.1l.5 9l.5-8.3l.5 8.5l.5-8.5l.5 8.3l.5-9.1l.5 8.1l.5-7.6l.5 8.3l.5-9l.5 8.7l.5-8.5l.5 8.8l.5-9.7l.5 9.3l.5-7.4l.5 8.7l.5-8.7l.5 7.8l.5-7l.5 7.2l.5-7.2l.5 7l.5-7.4l.5 7.8l.5-7.4l.5 8.4l.5-7.8l.5 6.5l.5-9.3l.5 8.7l.5-7.9l.5 8.5l.5-8.1l.5 9.2l.5-10.6l.5 9.1l.5-7.1l.5 6.7l.5-8.5l.5 9.4l.5-10l.5 8.9l.5-6.9l.5 9.1l.5-10.3l.5 10.1l.5-8.6l.5 8.4l.5-9.2l.5 7.7l.5-6.9l.5 6.4l.5-6.5l.5 7l.5-8.2l.5 10.1l.5-8.2l.5 6.5l.5-8.2l.5 9.4l.5-9.6l.5 9l.5-8.2l.5 7.1l.5-6.4l.5 6.8l.5-6.8l.5 6.8l.5-6.6l.5 8.1l.5-9.6l.5 8.5l.5-7.2l.5 7.3l.5-8.4l.5 7.1l.5-7.7l.5 8.4l.5-8.2l.5 7.3l.5-7l.5 7.7l.5-6.7l.5 6.6l.5-5.8l.5 5.8l.5-6.8l.5 6.6l.5-5.1l.5 3.7l.5-2l.5 1.2l.5-1.1l.5 1.6l.5-12.1l.5 15l.5-4.7l.5 1.4l.5-.5l.5 2.9l.5-2.9l.5 2.7l.5-2.9l.5 .9l.5-2l.5 2.3l.5-3.3l.5 5.9l.5-4.3l.5 1.8l.5-5.3l.5 7.1l.5-6l.5 4.2l.5-1.7l.5 2l.5-2.6l.5 2l.5-2.8l.5 3.7l.5-2.9l.5 3.3l.5-6.6l.5 8.1l.5-7.4l.5 7.8l.5-8.1l.5 6.8l.5-6.8l.5 6.8l.5-6.3l.5 8.2l.5-8.9l.5 7.3l.5-7.5l.5 8.2l.5-8.8l.5 9.2l.5-6.9l.5 7.5l.5-9l.5 9.3l.5-9.1l.5 7.5l.5-5.9l.5 3.8l.5-2.3l.5 .9l.5-.8l.5 1l.5-1.1l.5 1.1l.5-2.3l.5 2.7l.5-1.8l.5 1.8l.5-22.7l.5 38.5l.5-17.3l.5 .9l.5-.5l.5 1.2l.5-1l.5 .6l.5-.6l.5 1.6l.5-1.9l.5 1.2l.5-1.3l.5 .6l.5-.9l.5 1.2l.5-1l.5 1.3l.5-1.6l.5 1.6l.5-1.6l.5 5l.5-4.6l.5 1.1l.5-1.2l.5 .9l.5-1.1l.5 1.3l.5-.9l.5 1.6l.5-2.7l.5 1.9l.5-1.4l.5 1.3l.5-1.2l.5 1.1l.5-.9l.5 1.6l.5-2.4l.5 2.5l.5-1.8l.5 .9l.5-.9l.5 1.9l.5-1.9l.5 .8l.5-.7l.5 1.2l.5-.9l.5 .6l.5-.9l.5 .9l.5-1.1l.5 1.3l.5-.7l.5 .7l.5-.7l.5 .4l.5-.9l.5 .6l.5-.4l.5 .6l.5-1.2l.5 .9l.5-.7l.5 1.3l.5-1.3l.5 1.7l.5-1l.5 1.7l.5-2.1l.5 1.9l.5-1.7l.5 .8l.5-1.1l.5 1.4l.5-.9l.5 .9l.5-1.4l.5 1.8l.5-1.1l.5 1.5l.5-1.8l.5 1.9l.5-1.8l.5 1l.5-.7l.5 .5l.5-.4l.5 .9l.5-1.3l.5 1.4l.5-1.5l.5 1.2l.5-1.6l.5 1.1l.5-1.3l.5 1.4l.5-2.1l.5 1.8l.5-1.8l.5 2.1l.5-1.2l.5 1.4l.5-2.1l.5 3.7l.5-3l.5 1.5l.5-1.9l.5 2.7l.5-2.6l.5 2l.5-1.4l.5 3.3l.5-2.8l.5 .7l.5-.9l.5 1.5l.5-2l.5 1.3l.5-1.7l.5 2.9l.5-1.9l.5 .5l.5-.4l.5 .8l.5-.7l.5 1.3l.5-2.6l.5 2.3l.5-.9l.5 .9l.5-1.4l.5 1.8l.5-2.2l.5 1.4l.5-1.3l.5 2l.5-1.1l.5 .9l.5-1.4l.5 1.1l.5-.9l.5 1.2l.5-3.1l.5 20.5l.5-18.5l.5 .8l.5-1.4l.5 2.5l.5-2.6l.5 1.2l.5-1.1l.5 2.3l.5-3.1l.5 3l.5-3.3l.5 3.2l.5-2.8l.5 2.9l.5-2.4l.5 1.3l.5-2l.5 3l.5-1.6l.5 3l.5-3.3l.5 2.6l.5-3.8l.5 3.2l.5-3.6l.5 2.4l.5-4.5l.5 4.8l.5-2.2l.5 2.9l.5-1.5l.5 1.9l.5-2.4l.5 1.9l.5-2.1l.5 1l.5-2.5l.5 2.1l.5-.9l.5 2.3l.5-1.8l.5 1l.5-2.1l.5 3.1l.5-2.3l.5 1.7l.5-2.1l.5 1.9l.5-1"/>
<path class="w" stroke="#0000ff" d="M250.5,465l.5 .6l.5-.7l.5 .3l.5-.7l.5 .7l.5-.6l.5 .8l.5-.7l.5 .8l.5-.4l.5 .7l.5-1.4l.5 .9l.5-.9l.5 .8l.5-.8l.5 .6l.5-.6l.5 .2l.5-.4l.5 .8l.5-.3l.5 .5l.5-.5l.5 1l.5-.6l.5 .5l.5-.6l.5 .1l.5-.5l.5 .4l.5-.4l.5 1l.5-.6l.5 .7l.5-.4l.5 .6l.5-.8l.5 .5l.5-1.8l.5 1.9l.5-1.3l.5 .7l.5-1.3l.5 1.2l.5-1l.5 1.4l.5-1l.5 1l.5-1.1l.5 .8l.5-.7l.5 .5l.5-30.9l.5 55l.5-25.2l.5 1.5l.5-.9l.5 .8l.5-.9l.5 1.3l.5-.6l.5 1.1l.5-2.1l.5 1.6l.5-.9l.5 .5l.5-.5l.5 1.5l.5-1.6l.5 1.2l.5-1l.5 .7l.5-.9l.5 1.1l.5-.7l.5 .5l.5-.6l.5 .6l.5-.9l.5 1l.5-1.1l.5 .9l.5-1l.5 1.2l.5-1l.5 1.3l.5-1.1l.5 .4l.5-.6l.5 1.1l.5-.9l.5 .9l.5-.8l.5 .5l.5-1l.5 .5l.5-.6l.5 .6l.5-.8l.5 .7l.5-.6l.5 .5l.5-.4l.5 .6l.5-.5l.5 1.1l.5-.6l.5 .6l.5-.6l.5 .5l.5-1l.5 .9l.5-.6l.5 .8l.5-1l.5 1.6l.5-1.5l.5 1l.5-.8l.5 .3l.5-.5l.5 .8l.5-.6l.5 1.2l.5-1.1l.5 .6l.5-.4l.5 .4l.5-.8l.5 .9l.5-.4l.5 .8l.5-.7l.5 .7l.5-1.1l.5 .7l.5-.7l.5 .4l.5-.4l.5 .7l.5-.2l.5 .5l.5-1l.5 .7l.5-.9l.5 .8l.5-1.1l.5 1.2l.5-.8l.5 1.3l.5-.9l.5 .5l.5-1.1l.5 1l.5-.7l.5 1.1l.5-1.5l.5 .8l.5-1.4l.5 2.1l.5-1.1l.5 .7l.5-.5l.5 .6l.5-.6l.5 .6l.5-.7l.5 .3l.5-1.1l.5 1l.5-1l.5 1.3l.5-1.2l.5 1.4l.5-1.2l.5 1.2l.5-.9l.5 1.2l.5-.9l.5 .7l.5-1.6l.5 1.7l.5-.9l.5 .6l.5-1.1l.5 .9l.5-.8l.5 .8l.5-.8l.5 1.3l.5-1l.5 .8l.5-.8l.5 .7l.5-1.2l.5 .9l.5-.9l.5 .6l.5-.4l.5 .7l.5-.9l.5 1.8l.5-1.3l.5 1.1l.5-.8l.5 .4l.5-1.4l.5 1.5l.5-1.3l.5 1.3l.5-1.6l.5 1l.5-1.1l.5 .8l.5-.5l.5 .9l.5-.7l.5 1.1l.5-.8l.5 .8l.5-.9l.5 1.1l.5-1.1l.5 1.3l.5-.9l.5 .8l.5-.5l.5 .6l.5-1.2l.5 1.7l.5-1.8l.5 .8l.5-.9l.5 .8l.5-1l.5 1.4l.5-1.2l.5 1l.5-.4l.5 1.1l.5-1l.5 .7l.5-1.1l.5 .7l.5-.7l.5 .7l.5-.8l.5 .8l.5-.9l.5 .7l.5-1.8l.5 2.1l.5-.9l.5 .9l.5-1.6l.5 1.9l.5-1.6l.5 1.4l.5-1.6l.5 1.5l.5-2.3l.5 2.3l.5-1.5l.5 1.4l.5-1.8l.5 1.9l.5-.6l.5 1.1l.5-1.2l.5 1.3l.5-1.1l.5 .5l.5-.7l.5 .8l.5-1.5l.5 1.5l.5-.8l.5 .6l.5-.3l.5 .6l.5-.8l.5 .9l.5-1.1l.5 .5l.5-.9l.5 .9l.5-.8l.5 .9l.5-.5l.5 .4l.5-.5l.5 .4l.5-.4l.5 .7l.5-.8l.5 .6l.5-.6l.5 1.1l.5-1.2l.5 .8l.5-.7l.5 .6l.5-.6l.5 .1l.5-.7l.5 .2l.5-.5l.5 .6l.5-.1l.5 .8l.5-.7l.5 1.2l.5-.7l.5 .3l.5-1.3l.5 1.4l.5-.7l.5 .8l.5-3.5l.5 5l.5-2.1l.5 .9l.5-1l.5 .5l.5-.7l.5 .5l.5-.5l.5 .4l.5-.3l.5 .6l.5-1.1l.5 1.3l.5-.6l.5 .6l.5-15.9l.5 26l.5-10.9l.5 .9l.5-.8l.5 .8l.5-.9l.5 .7l.5-.9l.5 1.3l.5-1.1l.5 .7l.5-1.1l.5 .9l.5-.8l.5 1.3l.5-1.4l.5 1.1l.5-.9l.5 1.3l.5-1.1l.5 .8l.5-1.1l.5 1.1l.5-1.1l.5 1.1l.5-.9l.5 .9l.5-1.1l.5 .9l.5-.6l.5 .7l.5-.6l.5 .7l.5-.6l.5 1l.5-1.1l.5 .5l.5-.7l.5 .8l.5-1l.5 1.2l.5-.9l.5 .8l.5-.8l.5 .9l.5-.9l.5 1.1l.5-1.5l.5 1.1l.5-.6l.5 .8l.5-1.2l.5 .6l.5-.4l.5 .6l.5-.4l.5 .6l.5-1l.5 .5l.5-31.6l.5 55.7l.5-24.8l.5 .6l.5-.2l.5 1l.5-2.6l.5 7l.5-4.9l.5 .4l.5-.5l.5 .4l.5-.4l.5 .6l.5-.6l.5 .2l.5-.6l.5 .5l.5-.6l.5 .5l.5-.8l.5 2.1l.5-1.1l.5 .9l.5-.7l.5 .6l.5-1.3l.5 1l.5-1.2l.5 1.2l.5-1l.5 .7l.5-.5l.5 .8l.5-1.2l.5 1.4l.5-1.1l.5 .7l.5-1l.5 .7l.5-1.3l.5 1.1l.5-.8l.5 1l.5-.6l.5 1.2l.5-.8l.5 .4l.5-.5l.5 .6l.5-1.2l.5 .8l.5-.5l.5 .3l.5-.4l.5 .3l.5-9.8l.5 17l.5-7.5l.5 .5l.5-.4l.5 .6l.5-.4l.5 .5l.5-.4l.5 .8l.5-.5l.5 .5l.5-.6l.5 .3l.5-.8l.5 .8l.5-.7l.5 .6l.5-.6l.5 .6l.5-.7l.5 .9l.5-1.1l.5 1.3l.5-1.5l.5 1.6l.5-1l.5 1.4l.5-1.2l.5 1.1l.5-1l.5 .3l.5-1l.5 .8l.5-.8l.5 1.3l.5-1l.5 .5l.5-.9l.5 .6l.5-.7l.5 1.6l.5-1.3l.5 .7l.5-1l.5 1.1l.5-.6l.5 1.5l.5-1.1l.5 .5l.5-.9l.5 .9l.5-1.1l.5 .7l.5-.5l.5 .8l.5-1.5l.5 2l.5-1.7l.5 1.6l.5-1.6l.5 1.2l.5-.9l.5 .6l.5-1.4l.5 1.4l.5-1.5l.5 1.6l.5-1.6l.5 2.9l.5-2.1l.5 1.3l.5-1.2l.5 1.8l.5-1.2l.5 .9l.5-1.1l.5 1.1l.5-1.1l.5 .6l.5-1l.5 1.3l.5-1.3l.5 .6l.5-.8l.5 1l.5-.7l.5 .7l.5-.7l.5 .8l.5-.4l.5 .7l.5-.3l.5 .5l.5-.9l.5 .7l.5-.8l.5 1.1l.5-1.1l.5 1l.5-1l.5 .4l.5-.5l.5 .5l.5-41.4l.5 71.6l.5-30.6l.5 .4l.5-.6l.5 .2l.5-.7l.5 .6l.5-.3l.5 .8l.5-.2l.5 1.1l.5-1.6l.5 1.1l.5-1.2l.5 .6l.5-.8l.5 .7l.5-.8l.5 .7l.5-1l.5 1l.5-.5l.5 .6l.5-.6l.5 .7l.5-.6l.5 .8l.5-.4l.5 .5l.5-.6l.5 .7l.5-.7l.5 1.2l.5-1.5l.5 .8l.5-.4l.5 .4l.5-.6l.5 1l.5-1.1l.5 .6l.5-.5l.5 1.4l.5-13.2l.5 23l.5-12.4l.5 2.3l.5-1.5l.5 .8l.5-1.1l.5 1.2l.5-.9l.5 1.2l.5-1l.5 1.6l.5-1.9l.5 2.2l.5-2l.5 1.5l.5-1.5l.5 1.3l.5-1.4l.5 1.3l.5-1.3l.5 1l.5-1.3l.5 1.2l.5-1.2l.5 .6l.5-1.1l.5 1.3l.5-.7l.5 1.3l.5-1.1l.5 1.2l.5-.9l.5 .5l.5-.8l.5 1.1l.5-.6l.5 .6l.5-.7l.5 .6l.5-.6l.5 .5l.5-.5l.5 .5l.5-.8l.5 1.1l.5-1.1l.5 .9l.5-1.1l.5 1l.5-.6l.5 .9l.5-1l.5 1l.5-.6l.5 .5l.5-.9l.5 1l.5-.8l.5 .8l.5-.8l.5 .7l.5-.7l.5 .6l.5-.5l.5 1.2l.5-.8l.5 .5l.5-.8l.5 .9l.5-1.6l.5 1l.5-1.1l.5 .6l.5-.8l.5 .7l.5-.6l.5 1.2l.5-.8l.5 1l.5-.9l.5 .8l.5-1.2l.5 1.4l.5-.7l.5 .9l.5-.8l.5 .6l.5-1l.5 .9l.5-1l.5 .8l.5-1.1l.5 .6l.5-1l.5 1.3l.5-.7l.5 1.4l.5-1.2l.5 .8l.5-1.7l.5 1.7l.5-.7l.5 .7l.5-.9l.5 .7l.5-.6l.5 .6l.5-1.1l.5 1.1l.5-1.1l.5 1.1l.5-.7l.5 .8l.5-.1l.5 .3l.5-.7l.5 .7l.5-.3l.5 .9l.5-.9l.5 .7l.5-1.1l.5 .4l.5-.8l.5 .6l.5-1.1l.5 1.8l.5-3l.5 3.6l.5-4.6l.5 5.5l.5-4.1l.5 3.8l.5-3.4l.5 2.5l.5-2l.5 1.2l.5-.7l.5 .4l.5-.4l.5 .7l.5-.3l.5 .4l.5-.2l.5 .3l.5-.6l.5 .3l.5-.6l.5 .6l.5-.6l.5 .7l.5-.9l.5 1l.5-.9l.5 .5l.5-4.9l.5 12l.5-8l.5 .9l.5-.5l.5 .9l.5-.7l.5 .5l.5-.5l.5 .6l.5-.4l.5 .4l.5-.2l.5 .5l.5-.5l.5 .2l.5-.3l.5 .2l.5-.3l.5 .6l.5-.4l.5 .3l.5-.4l.5 .7l.5-.5l.5 .6l.5-.6l.5 .6l.5-.8l.5 .5l.5-.4l.5 .8l.5-1l.5 .3l.5-1.5l.5 1.5l.5-.5l.5 1l.5-1l.5 1.1l.5-.8l.5 .8l.5-1l.5 1l.5-1.6l.5 .9l.5-.7l.5 .8l.5-1l.5 1.2l.5-.9l.5 .7l.5-.7l.5 .6l.5-1.3l.5 1.8l.5-1.1l.5 .9l.5-1l.5 .9l.5-.8l.5 .5l.5-.7l.5 1.1l.5-.7l.5 1l.5-.8l.5 .8l.5-7.6l.5 17l.5-10.5l.5 .5l.5-.8l.5 1l.5-.5l.5 .6l.5-.8l.5 .5l.5-.7l.5 .6l.5-.9l.5 .7l.5-.6l.5 .8l.5-.5l.5 .8l.5-.1l.5 .4l.5-.6l.5 .6l.5-1.2l.5 .6l.5-.4l.5 .6l.5-.2l.5 .6l.5-.4l.5 .6l.5-.7l.5 .5l.5-.8l.5 .5l.5-.6l.5 .5l.5-.4l.5 .4l.5-1.2l.5 1.4l.5-.9l.5 .6l.5-.5l.5 .3l.5-.4l.5 .2l.5-.4l.5 .5l.5-.3l.5 1.5l.5-1.3l.5 1.3l.5-.8l.5 .7l.5-.5l.5 .3l.5-.7l.5 .7l.5-.9l.5 1l.5-1.8l.5 2.7l.5-2.2l.5 1.2l.5-1.8l.5 2.1l.5-1.2l.5 1.4l.5-2.5l.5 2.3l.5-2.5l.5 4l.5-5.5l.5 5.2l.5-5l.5 4l.5-3.4l.5 3l.5-1.8l.5 1.5l.5-1.1l.5 1.2l.5-.8l.5 1.3l.5-1.4l.5 1.1l.5-1l.5 1l.5-1.1l.5 1.1l.5-.9l.5 1.4l.5-1.7l.5 1.3l.5-1.3l.5 .8l.5-1.5l.5 1.5l.5-2.4l.5 2.9l.5-1.8l.5 2.1l.5-1.4l.5 1.2l.5-1.3l.5 1l.5-1.1l.5 .5l.5-.6l.5 1l.5-1.3l.5 1.1l.5-.7l.5 .9l.5-.8l.5 .7l.5-1l.5 1l.5-.6l.5 .9l.5-.6l.5 1.2l.5-2.2l.5 1.4l.5-.7l.5 .6l.5-1l.5 1.1l.5-.8l.5 .6l.5-.8l.5 .7l.5-1.1l.5 1l.5-.8l.5 2.1l.5-36.3l.5 73l.5-38.7l.5 1.5l.5-1.2l.5 .9l.5-1.6l.5 1.6l.5-1.2l.5 .5l.5-.7l.5 1l.5-.9l.5 .9l.5-1l.5 1.2l.5-.9l.5 .9l.5-.8l.5 .5l.5-.6l.5 .3l.5-.7l.5 1.1l.5-1.3l.5 1.6l.5-1.6l.5 2.1l.5-2.2l.5 3.5l.5-3.9l.5 3.6l.5-3.6l.5 4.4l.5-6.1l.5 5.4l.5-4.5l.5 4l.5-3.1l.5 3.3l.5-2.5l.5 2l.5-1.7l.5 1.3l.5-1l.5 1.3l.5-1.3l.5 .8l.5-1l.5 1.1l.5-.9l.5 1.5l.5-1.4l.5 1.1l.5-1.7l.5 1.1l.5-.7l.5 .6l.5-.8l.5 .8l.5-.8l.5 .9l.5-1.1l.5 .7l.5-1l.5 1.3l.5-1.3l.5 .9l.5-.6l.5 .7l.5-.6l.5 1l.5-1l.5 .9l.5-.2l.5 .9l.5-.8l.5 .3l.5-2l.5 3l.5-2.3l.5 .4l.5-.3l.5 1.2l.5-.7l.5 1.2l.5-1.6l.5 1.4l.5-1.2l.5 .8l.5-2.3l.5 2l.5-.9l.5 1l.5-.8l.5 1.4l.5-1.2l.5 2.5l.5-2.8l.5 1.4l.5-1.2l.5 1.2l.5-2.7l.5 4l.5-2.7l.5 2.2l.5-1.8l.5 1l.5-1.5l.5 1.2l.5-1.3l.5 2.1l.5-1.5l.5 .9l.5-1.3l.5 2l.5-2.1l.5 .9l.5-1l.5 .9l.5-.5l.5 .9l.5-1.2l.5 1.5l.5-1l.5 1l.5-.6l.5 .5l.5-1.2l.5 1.1l.5-1.2l.5 1l.5-1l.5 1l.5-.6l.5 .8l.5-.7l.5 1.1l.5-1.3l.5 1.1l.5-1.2l.5 .9l.5-1.1l.5 1.3l.5-1.2l.5 1l.5-1l.5 .7l.5-1.3l.5 1.1l.5-1l.5 1.3l.5-.9l.5 1.5l.5-.7l.5 1.2l.5-.8l.5 .8l.5-.8l.5 .9l.5-.8l.5 .5l.5-.9l.5 .8l.5-1.1l.5 .8l.5-1.1l.5 .7l.5-.3l.5 .7l.5-.3l.5 .4l.5-.4l.5 .3l.5-.6l.5 .2l.5-.5l.5 1.2l.5-1l.5 .5l.5-.4l.5 .2l.5-.7l.5 .8l.5-1.1l.5 .9l.5-.7l.5 1.3l.5-1l.5 1.2l.5-1.6l.5 1l.5-.9l.5 1.5l.5-1.3l.5 .7l.5-1.3l.5 1.3l.5-1.1l.5 1.1l.5-1.1l.5 1.1l.5-2l.5 1.7l.5-1.3l.5 1.5l.5-.7l.5 .8l.5-.4l.5 .9l.5-.6l.5 .5l.5-.8l.5 .7l.5-.8l.5 .6l.5-1.2l.5 1.3l.5-.7l.5 .9l.5-.6l.5 .5l.5-1.3l.5 1.2l.5-.9l.5 .2l.5-.5l.5 .8l.5-.8l.5 .5l.5-.3l.5 .6l.5-.3l.5 .6l.5-8.5l.5 12l.5-3.9l.5 .9l.5-.7l.5 .7l.5-1l.5 .5l.5-.6l.5 1.8l.5-2.2l.5 4.1l.5-6l.5 4.2l.5-2.5l.5 3.5l.5-3.7l.5 3.1l.5-4l.5 3.4l.5-3.3l.5 5.5l.5-5.1l.5 3.5l.5-3.4l.5 3.3l.5-5.3l.5 5l.5-6l.5 7l.5-4.3l.5 3.9l.5-5.3l.5 5.4l.5-4.6l.5 4.8l.5-5.1l.5 4.8l.5-4.2l.5 2.8l.5-2.7l.5 2.7l.5-3.8l.5 4.1l.5-3.3l.5 3.2l.5-4.5l.5 10.8l.5-13.8l.5 12.6l.5-11.8l.5 10.8l.5-13.9l.5 18.6l.5-21l.5 18.4l.5-20.7l.5 24.2l.5-28.1l.5 21.5l.5-12.2l.5 18.5l.5-26.7l.5 24l.5-16l.5 15.9l.5-14.3l.5 13.6l.5-17.8l.5 20.7l.5-17l.5 10.6l.5-10.7l.5 11.9l.5-9.9l.5 10.3l.5-9.6l.5 10.8l.5-15.1l.5 16.5l.5-16.2l.5 14.5l.5-10.1l.5 9.9l.5-9.8l.5 9.1l.5-11.3l.5 15.4l.5-19.3l.5 19l.5-19.3l.5 17.7l.5-18.7l.5 20l.5-17.7l.5 17l.5-13.7l.5 16.4l.5-20.9l.5 14.3l.5-12.1l.5 17.5l.5-13.5l.5 6.7l.5-7.3l.5 10.9l.5-12.5l.5 11.1l.5-7.6l.5 9.1l.5-13.3l.5 10.9l.5-7.7l.5 10.6l.5-11.6l.5 8.3l.5-8.1l.5 6.8l.5-4.2l.5 5.4l.5-8.4l.5 9.7l.5-9l.5 10.6l.5-11.4l.5 12.8l.5-11.1l.5 11l.5-12.2l.5 8.1l.5-5.8l.5 4.4l.5-4.4l.5 7.5l.5-9l.5 6.4l.5-5.3l.5 5.3l.5-7.5l.5 7.6l.5-6.8l.5 6.1l.5-7.7l.5 8.7l.5-7.3l.5 6.2l.5-6.3l.5 11.2l.5-11.4l.5 8l.5-6.2l.5 5.2l.5-7.6l.5 9.3l.5-7l.5 6.5l.5-7.2l.5 5.8l.5-5.9l.5 6.7l.5-5.8l.5 6.2l.5-10.2l.5 10.9l.5-11.9l.5 15.2l.5-15.3l.5 11.5l.5-10.1l.5 11.6l.5-9l.5 9l.5-8.2l.5 10.8l.5-12.2l.5 10.4l.5-10l.5 7.7l.5-9.4l.5 9.4l.5-6.2l.5 6.9l.5-7.1l.5 6.4l.5-8.9l.5 9.3l.5-12.2l.5 10.1l.5-5.8l.5 6.6l.5-7.7l.5 7.7l.5-8.6l.5 8.5l.5-6.8l.5 8.9l.5-7.4l.5 6.9l.5-11.4l.5 10.8l.5-6.1l.5 6.8l.5-9.3l.5 11.2l.5-14.1l.5 15.3l.5-16l.5 15l.5-12.9l.5 16.2l.5-18.9l.5 16.1l.5-16.7l.5 17.6l.5-21.5l.5 25.2l.5-20.1l.5 15.5l.5-20.1l.5 20.4l.5-16.2l.5 19.8l.5-22.1l.5 20.3l.5-17l.5 19.8l.5-17.8l.5 19.2l.5-21.8l.5 23.6l.5-28.8l.5 24.5l.5-33.5l.5 37.6l.5-31.1l.5 28.9l.5-29.5l.5 25.9l.5-20.8l.5 32.6l.5-32.9l.5 29l.5-25.1l.5 24.8l.5-27.8l.5 23.7l.5-23.5l.5 21.7l.5-19.3l.5 21.2l.5-19.3l.5 22.5l.5-30.9l.5 25.2l.5-18.6l.5 15.9l.5-17.6l.5 26.9l.5-33.9l.5 35.2l.5-30.5l.5 28.1l.5-33.1l.5 28.7l.5-19.8l.5 25.2l.5-37.3l.5 33.5l.5-26.7l.5 25.4l.5-29.3l.5 33.2l.5-32.2l.5 47.8l.5-57l.5 41.2l.5-40.9l.5 46.1l.5-46.4l.5 42.1l.5-42.4l.5 60.8l.5-58l.5 41.1l.5-40.1l.5 36.2l.5-34.2l.5 33.3l.5-43.4l.5 50.6l.5-31.5l.5 40.9l.5-44.5l.5 42.7l.5-56.9l.5 56l.5-51.7l.5 40.3l.5-44.1l.5 54.5l.5-54.6l.5 58.9l.5-45.4l.5 52.6l.5-62l.5 48.7l.5-56.6l.5 54.9l.5-37.3l.5 38l.5-37.3l.5 24.2l.5-22.2l.5 29.7l.5-43.4l.5 39.8l.5-25.8l.5 26l.5-30.9l.5 29.9l.5-32.3l.5 44.9l.5-42.8l.5 30.2l.5-30.5l.5 31.6l.5-27.5l.5 33.5l.5-40l.5 39.4l.5-29.2l.5 22.4l.5-30.1l.5 30.5l.5-29.8l.5 30.1l.5-23.7l.5 23.7l.5-31.6l.5 26.8l.5-17.4l.5 20.4l.5-24l.5 29.3l.5-31.1l.5 22.8l.5-20.4l.5 29.5l.5-35.5l.5 30.4l.5-24.6l.5 24.2l.5-37.7l.5 32.8l.5-22.8l.5 31.7l.5-33.9l.5 34.8l.5-26.9l.5 24.1l.5-27.4l.5 23.2l.5-29.5l.5 30.8l.5-31.1l.5 27l.5-18.5l.5 24.6l.5-22.7l.5 16.6l.5-14.3l.5 18.4l.5-31.2l.5 30.5l.5-23.5l.5 18.6l.5-17l.5 19.8l.5-14.3l.5 14.3l.5-28.3l.5 31.8l.5-20.3l.5 19.1l.5-26.2l.5 28.2l.5-25l.5 29.3l.5-28l.5 20.3l.5-18.7l.5 19.5l.5-25.4l.5 20.8l.5-18.5l.5 18.5l.5-11.9l.5 14.8l.5-14.4l.5 11l.5-9.4l.5 18.4l.5-23.7l.5 21l.5-18.9l.5 11.8l.5-10.8l.5 12.9l.5-11.3l.5 11.3l.5-16.1l.5 12.4l.5-7.1l.5 10.3l.5-10.7l.5 10.2l.5-10.2l.5 10.4l.5-8.3l.5 5.9l.5-7l.5 6.1l.5-7.7l.5 8.5l.5-9l.5 8.4l.5-7.7l.5 10.6l.5-11.7l.5 12.3l.5-14.1l.5 13.7l.5-12.6l.5 12l.5-13l.5 11.4l.5-8.7l.5 8.3l.5-5.8l.5 4.2l.5-5.9l.5 11.4l.5-10.2l.5 6.3l.5-5.7l.5 5.8l.5-8.2l.5 7.7l.5-9.3l.5 11.7l.5-11.1l.5 12.4l.5-9.2l.5 7.6l.5-8.8l.5 8.3l.5-9l.5 7.6l.5-6.8l.5 10.1l.5-12.5l.5 11.8l.5-8.9l.5 8.5l.5-8.4l.5 6.7l.5-7.4l.5 8.3l.5-9.3l.5 11.3l.5-8.9l.5 6.2l.5-5.9l.5 8l.5-8.5l.5 6.6l.5-8.8l.5 6.6l.5-6.1l.5 8.1l.5-8.9l.5 6.8l.5-6.8l.5 8.6l.5-7.5l.5 8.4l.5-7.4l.5 5.3l.5-4.4l.5 4.3l.5-3.7l.5 3.9l.5-4.6l.5 4.1l.5-3.4l.5 2.9l.5-3.9l.5 5.3l.5-5.2l.5 5.2l.5-3.1l.5 3.4l.5-6.1l.5 6.1l.5-3.9l.5 3.2l.5-3.4l.5 4.2l.5-4.4l.5 3.6l.5-4.4l.5 5.4l.5-5.2l.5 3.7l.5-4.5l.5 5.3l.5-4.5l.5 4.3l.5-6.2l.5 7l.5-5.6l.5 5.5l.5-5.1l.5 5.2l.5-5l.5 3.6l.5-3.6l.5 5l.5-4.2l.5 2.5l.5-2.7l.5 2.2l.5-4.3l.5 5l.5-3.8l.5 3.1l.5-4.1l.5 4.3l.5-3.3l.5 4.7l.5-5.4l.5 5.1l.5-4l.5 4.3l.5-14.5l.5 15l.5-4.8l.5 5.2l.5-6l.5 3.6l.5-1.9l.5 2.3l.5-2.4l.5 3.2l.5-3.3l.5 2.7l.5-3.7l.5 3.4l.5-2.7l.5 2.9l.5-4.6l.5 5.1l.5-3.5l.5 1.8l.5-1.7l.5 3l.5-2.4l.5 3.1l.5-3.4l.5 3.8l.5-5.1l.5 4.3l.5-3.9l.5 3.1l.5-2.9l.5 3.1l.5-2.4l.5 3.6l.5-4.2l.5 4.4l.5-4l.5 3l.5-4l.5 5l.5-3.4l.5 2.3l.5-3.4l.5 2.6l.5-2l.5 2.7l.5-3.2l.5 3.2l.5-2.1l.5 1.8l.5-2.6l.5 2.9l.5-2.4l.5 2.1l.5-2.2l.5 2.6l.5-3.1l.5 3l.5-2.6l.5 2.5l.5-2.1l.5 2l.5-2.8l.5 3.1l.5-2.5l.5 3.5l.5-4.4l.5 4.4l.5-4.5l.5 3.2l.5-3.4l.5 3.3l.5-2.6l.5 3.3l.5-3.4l.5 3.8l.5-4l.5 2.6l.5-2.2l.5 2.1l.5-1.8l.5 1.5l.5-2.4l.5 2.9l.5-2.5l.5 1.6l.5-1.9l.5 2.1l.5-1.3l.5 1.4l.5-1.8l.5 2.3l.5-1.4l.5 1.8l.5-2.2l.5 2.2l.5-2.2l.5 1.8l.5-2.4l.5 2.3l.5-2.5l.5 2.4l.5-1.9l.5 1.6l.5-2.6l.5 3.2l.5-1.8l.5 1.7l.5-1.6l.5 1.4l.5-1.2l.5 2.3l.5-2.2l.5 2.3l.5-3.2l.5 3.4l.5-2.9l.5 1.4l.5-2.2l.5 2.6l.5-2.7l.5 3.9l.5-3.8l.5 3.9l.5-3l.5 2.6l.5-3.2l.5 2.9l.5-3.3l.5 3.2l.5-2.4l.5 2.4l.5-3.1l.5 2.5l.5-2l.5 2l.5-1.4l.5 2.4l.5-2.1l.5 1.5l.5-2.2l.5 2.1l.5-2.6l.5 3l.5-3.5l.5 4.1l.5-11.2l.5 16l.5-8l.5 1.6l.5-2.2l.5 2.6l.5-2l.5 2.6l.5-3.6l.5 2.7l.5-2.8l.5 3l.5-2.2l.5 1.8l.5-1.9l.5 1.7l.5-2l.5 2.7l.5-2.8l.5 4l.5-4l.5 3.8l.5-3.7l.5 3.8l.5-3.8l.5 3.8l.5-2.9l.5 2.5l.5-2.7l.5 2.4l.5-3.1l.5 3.2l.5-3.4l.5 3.4l.5-3.3l.5 2.1l.5-1.7l.5 2.5l.5-2.8l.5 3.4l.5-3.5l.5 2.5l.5-2l.5 2.9l.5-3.7l.5 3.5l.5-3.3l.5 3.2l.5-3.1l.5 3.2l.5-2.4l.5 1.9l.5-2l.5 1.6l.5-1.5l.5 1.4l.5-1l.5 1.3l.5-1l.5 1.7l.5-1.6l.5 1.9l.5-2.6l.5 1.5l.5-1.4l.5 1.5l.5-1.9l.5 2.3l.5-2.8l.5 2.3l.5-1.7l.5 2.2l.5-1.9l.5 2l.5-2l.5 1.8l.5-1.9l.5 1.7l.5-1.8l.5 2l.5-1.9l.5 1.7l.5-18.8l.5 26l.5-9l.5 1.6l.5-2l.5 2.4l.5-2.4l.5 2.2l.5-1.7l.5 2.6l.5-2.2l.5 1.7l.5-2l.5 1.6l.5-2.4l.5 2.9l.5-3l.5 3l.5-3l.5 3l.5-2.6l.5 2.2l.5-2l.5 2.3l.5-2l.5 2.1l.5-1l.5 1.1l.5-1.9l.5 1.9l.5-1.7l.5 1.1l.5-1.6l.5 2.1l.5-1.9l.5 1l.5-1.8l.5 1.8l.5-1.7l.5 1.6l.5-.8l.5 1.3l.5-1.6l.5 2.3l.5-2.1l.5 1.8l.5-2l.5 1.7l.5-1.3l.5 1.9l.5-1.9l.5 1.3l.5-1.4l.5 .6l.5-.9l.5 1.2l.5-1.3l.5 1.3l.5-1.4l.5 1.4l.5-.8l.5 .7l.5-1l.5 1.1l.5-.9l.5 1.1l.5-1.1l.5 1.1l.5-1.2l.5 .9l.5-1l.5 .9l.5-1l.5 1.1l.5-1.1l.5 1.4l.5-.7l.5 .6l.5-.7l.5 .8l.5-1.1l.5 .7l.5-.7l.5 .7l.5-1.2l.5 1.3l.5-.6l.5 1.1l.5-1.4l.5 1.1l.5-1.8l.5 1.7l.5-1.1l.5 1.5l.5-.8l.5 1.1l.5-6.1l.5 10l.5-5.1l.5 1.1l.5-1l.5 1.4l.5-1.5l.5 .5l.5-1.2l.5 .9l.5-1l.5 1.1l.5-.7l.5 1.1l.5-.7l.5 .8l.5-.8l.5 1l.5-1.3l.5 1.1l.5-.9l.5 .6l.5-.5l.5 1l.5-.7l.5 .6l.5-.9l.5 .8l.5-.8l.5 .7l.5-.8l.5 .8l.5-1l.5 1l.5-1.2l.5 .6l.5-.7l.5 .9l.5-1.3l.5 1.5l.5-1.4l.5 .8l.5-.4l.5 .5l.5-.7l.5 .9l.5-.7l.5 .6l.5-.7l.5 .9l.5-.5l.5 1l.5-.7l.5 .5l.5-.6l.5 .5l.5-.7l.5 .5l.5-.5l.5 .7l.5-.4l.5 .4l.5-.9l.5 .7l.5-.6l.5 .8l.5-.7l.5 .3l.5-.7l.5 .7l.5-.5l.5 .6l.5-.9l.5 1.6l.5-1.8l.5 1.3l.5-.9l.5 .6l.5-1l.5 1.1l.5-.6l.5 1.2l.5-1.5l.5 1.8l.5-1.3l.5 1l.5-1.7l.5 1.8l.5-1.4l.5 .9l.5-1l.5 .7l.5-.8l.5 .8l.5-1.4l.5 1.1l.5-1.1l.5 .8l.5-1.1l.5 1.4l.5-.7l.5 .7l.5-.8l.5 1.3l.5-.4l.5 .9l.5-.5l.5 .4l.5-.5l.5 .5l.5-.6l.5 .6l.5-1.1l.5 .7l.5-.8l.5 .9l.5-.6l.5 .8l.5-1.1l.5 1.1l.5-1.1l.5 .8l.5-.7l.5 .7l.5-1.1l.5 1l.5-.9l.5 1.3l.5-1.2l.5 1.2l.5-1.1l.5 .9l.5-1.1l.5 .7l.5-.3l.5 .6l.5-.6l.5 1.1l.5-1.2l.5 .6l.5-.5l.5 .8l.5-1.1l.5 .5l.5-.5l.5 1.2l.5-.6l.5 .7l.5-.6l.5 .5l.5-.5l.5 1.1l.5-1.2l.5 .7l.5-.7l.5 .8l.5-.7l.5 .6l.5-1.4l.5 .7l.5-.8l.5 .4l.5-.8l.5 .8l.5-1l.5 1.5l.5-.5l.5 .8l.5-.6l.5 .9l.5-.5l.5 .7l.5-1.6l.5 1l.5-.8l.5 .5l.5-.4l.5 .5l.5-.5l.5 .6l.5-.6l.5 .4l.5-.9l.5 .9l.5-.7l.5 .6l.5-11.8l.5 26l.5-14.6l.5 1.6l.5-1.5l.5 1.1l.5-1.4l.5 1.2l.5-1.2l.5 .8l.5-.8l.5 .7l.5-.4l.5 .9l.5-.9l.5 1.1l.5-.9l.5 1.4l.5-.6l.5 .9l.5-1.2l.5 .7l.5-1.2l.5 .8l.5-.7l.5 1.3l.5-1.7l.5 1.1l.5-1l.5 .9l.5-13.4l.5 23l.5-10.7l.5 1l.5-.9l.5 1.2l.5-1.1l.5 1.3l.5-.8l.5 1.2l.5-1.3l.5 .6l.5-1.7l.5 1.2l.5-.4l.5 .5l.5-.6l.5 .7l.5-.7l.5 .8l.5-1.1l.5 1.3l.5-.9l.5 .7l.5-.5l.5 1l.5-1.9l.5 1.8l.5-1.3l.5 .8l.5-.6l.5 .5l.5-.5l.5 .5l.5-.4l.5 .5l.5-.7l.5 .9l.5-.8l.5 1l.5-1.1l.5 .9l.5-1l.5 .9l.5-.3l.5 .7l.5-.5l.5 .8l.5-.9l.5 .9l.5-1.1l.5 1.3l.5-1.5l.5 .7l.5-.8l.5 .6l.5-.8l.5 .8l.5-1.2l.5 1.5l.5-2.5l.5 3l.5-1.4l.5 1.5l.5-1.3l.5 .7l.5-.7l.5 .6l.5-.8l.5 .6l.5-.7l.5 .9l.5-.9l.5 .9l.5-.7l.5 .7l.5-.7l.5 1.3l.5-1.4l.5 1.5l.5-1.3l.5 1l.5-.8l.5 .4l.5-.8l.5 1.1l.5-.8l.5 .4l.5-.8l.5 .9l.5-.5l.5 .3l.5-8.2l.5 14l.5-6.3l.5 .3l.5-3l.5 11l.5-8.4l.5 .6l.5-.2l.5 .5l.5-.5l.5 .5l.5-.5l.5 .3l.5-.3l.5 .4l.5-.4l.5 .7l.5-.6l.5 .5l.5-.4l.5 .3l.5-.5l.5 .2l.5-.4l.5 .4l.5-.6l.5 .9l.5-.9l.5 .2l.5-.6l.5 .5l.5-.2l.5 .6l.5-.3l.5 .7l.5-.7l.5 .6l.5-.4l.5 .5l.5-.7l.5 .6l.5-1.1l.5 1.7l.5-1.1l.5 .8l.5-.6l.5 .5l.5-.8l.5 .4l.5-.8l.5 .6l.5-.6l.5 .9l.5-1l.5 .6l.5-.6l.5 1.2l.5-1.2l.5 1.2l.5-.5l.5 .4l.5-.9l.5 .9l.5-.5l.5 .8l.5-.9l.5 .9l.5-.6l.5 .8l.5-.5l.5 .5l.5-.9l.5 .2l.5-1.1l.5 .5l.5-.3l.5 .4l.5-.4l.5 1l.5-1.1l.5 .8l.5-.8l.5 .9l.5-.7l.5 .8l.5-.8l.5 .8l.5-1.5l.5 1.6l.5-.9l.5 .8l.5-.3l.5 .6l.5-.7l.5 .6l.5-.9l.5 1l.5-.7l.5 .6l.5-1.3l.5 1.2l.5-.6l.5 .5l.5-.9l.5 1l.5-.5l.5 .4l.5-15.2l.5 32l.5-17.5l.5 .2l.5-.7l.5 .9l.5-.7l.5 1l.5-.5l.5 .9l.5-.4l.5 .4l.5-.7l.5 .8l.5-1l.5 .9l.5-.8l.5 .6l.5-.2l.5 .9l.5-1l.5 .7l.5-.8l.5 .6l.5-.5l.5 .8l.5-.8l.5 .6l.5-.5l.5 .9l.5-1l.5 .7l.5-1l.5 .9l.5-1.8l.5 2.5l.5-1.9l.5 1.3l.5-2.2l.5 1.9l.5-1.5l.5 1.8l.5-1.7l.5 1.4l.5-.6l.5 .8l.5-1.6l.5 1.1l.5-1.3l.5 1.8l.5-.9l.5 .5l.5-.7l.5 .7l.5-.6l.5 .4l.5-.6l.5 1.1l.5-1.1l.5 .5l.5-.6l.5 .7l.5-.6l.5 1.2l.5-1.1l.5 .4l.5-.4l.5 .5l.5-.8l.5 1l.5-.7l.5 .6l.5-.7l.5 .4l.5-.7l.5 .6l.5-1.1l.5 1.2l.5-.7l.5 1l.5-1.4l.5 1.6l.5-.8l.5 1l.5-1.2l.5 1.5l.5-1.8l.5 1.3l.5-1.2l.5 1.3l.5-1.4l.5 2.3l.5-1.8l.5 1.5l.5-1.1l.5 .8l.5-.8l.5 1.2l.5-2.7l.5 2.2l.5-1.2l.5 1.1l.5-1.4l.5 1.1l.5-1.6l.5 1.1l.5-1.6l.5 2l.5-1.1l.5 1.1l.5-.7l.5 1.1l.5-1.1l.5 .8l.5-1.2l.5 1l.5-.6l.5 1.3l.5-1.2l.5 .7l.5-.9l.5 .9l.5-.8l.5 .7l.5-.2l.5 .7l.5-.4l.5 .5l.5-.4l.5 .9l.5-1l.5 .6l.5-.7l.5 .5l.5-.7l.5 .7l.5-.7l.5 .6l.5-1l.5 .8l.5-1.4l.5 1.1l.5-.4l.5 .9l.5-1.3l.5 .8l.5-1l.5 1.1l.5-1.4l.5 2.1l.5-1.9l.5 1.7l.5-1.2l.5 2.5l.5-2l.5 .8l.5-1l.5 1.3l.5-1l.5 1.2l.5-1.2l.5 1.2l.5-1.9l.5 1.9l.5-1.6l.5 1.2l.5-1.1l.5 .7l.5-1l.5 1l.5-1.1l.5 1.1l.5-.6l.5 .9l.5-1l.5 .8l.5-1.5l.5 1.3l.5-.7l.5 .5l.5-.9l.5 .6l.5-.4l.5 .6l.5-.8l.5 .3l.5-.4l.5 .4l.5-.9l.5 1.3l.5-.5l.5 .9l.5-.9l.5 .7l.5-.8l.5 .8l.5-.5l.5 1.1l.5-1.2l.5 .8l.5-1.6l.5 2.5l.5-1.9l.5 .8l.5-.6l.5 .6l.5-1.1l.5 1.3l.5-.7l.5 .7l.5-.8l.5 1.4l.5-1.1l.5 1.4l.5-1.8l.5 1.3l.5-1.1l.5 1.3l.5-1.1l.5 1.1l.5-.7l.5 .5l.5-.5l.5 .4l.5-.7l.5 .6l.5-1l.5 .6l.5-.7l.5 .7l.5-1l.5 .7l.5-.7l.5 .7l.5-.3l.5 .6l.5-.9l.5 .9l.5-.7l.5 .7l.5-.7l.5 .9l.5-.9l.5 .9l.5-.9l.5 .6l.5-.4l.5 .9l.5-.6l.5 .7l.5-.9l.5 .6l.5-1l.5 .6l.5-.5l.5 .6l.5-.7l.5 1l.5-.7l.5 .6l.5-1.6l.5 2l.5-1.5l.5 .5l.5-.3l.5 1.2l.5-1l.5 1.1l.5-.7l.5 .5l.5-.6l.5 .4l.5-.4l.5 .6l.5-.7l.5 1.3l.5-1.6l.5 .7l.5-.2l.5 .3l.5-.4l.5 .6l.5-.6l.5 1l.5-1.5l.5 .9l.5-.5l.5 .4l.5-1l.5 .8l.5-1.3l.5 1.3l.5-.8l.5 .9l.5-.3l.5 .9l.5-.6l.5 .9l.5-1.1l.5 .5l.5-.7l.5 .9l.5-4.6l.5 7l.5-3.1l.5 .5l.5-.8l.5 .8l.5-1.1l.5 1.1l.5-.6l.5 1.2l.5-.7l.5 .8l.5-1.8l.5 1.8l.5-1.4l.5 1.4l.5-2.1l.5 1.2l.5-.7l.5 1.3l.5-4.8l.5 5l.5-1.2l.5 .7l.5-.6l.5 .6l.5-.9l.5 .8l.5-.8l.5 1.1l.5-5.7l.5 6l.5-.9l.5 1l.5-1.1l.5 .8l.5-1l.5 .3l.5-.5l.5 .2l.5-.6l.5 .7l.5-.5l.5 .6l.5-.6l.5 .8l.5-.6l.5 .9l.5-1.1l.5 1.1l.5-.7l.5 .5l.5-.6l.5 .6l.5-.7l.5 .7l.5-.7l.5 .7l.5-.5l.5 .6l.5-.8l.5 .9l.5-.9l.5 .6l.5-.4l.5 .9l.5-.9l.5 1.1l.5-1l.5 .4l.5-.8l.5 .7l.5-.6l.5 1.4l.5-1.6l.5 1.2l.5-1l.5 .7l.5-.7l.5 .6l.5-1.2l.5 1l.5-.7l.5 1l.5-1.4l.5 1.8l.5-1.1l.5 .7l.5-1l.5 .7l.5-1.1l.5 .7l.5-.6l.5 1.4l.5-1.5l.5 1.3l.5-.8l.5 1l.5-1l.5 .7l.5-.8l.5 .8l.5-1.4l.5 1.7l.5-.8l.5 1.7l.5-1.5l.5 2.1l.5-1.9l.5 .9l.5-.8l.5 .9l.5-1.7l.5 1.4l.5-1.2l.5 1.1l.5-1.1l.5 1.2l.5-2l.5 2l.5-.7l.5 .7l.5-.5l.5 .6l.5-.9l.5 .8l.5-1.3l.5 1.4l.5-1l.5 .9l.5-.8l.5 .9l.5-.9l.5 1.1l.5-1.1l.5 1.1l.5-1.2l.5 1.6l.5-1l.5 .3l.5-1l.5 .8l.5-1.4l.5 1.5l.5-16l.5 33.4l.5-17.7l.5 .6l.5-.8l.5 .9l.5-1.1l.5 1.4l.5-1.7l.5 .6l.5-.9l.5 .8l.5-.9l.5 1.1l.5-.4l.5 .5l.5-.7l.5 1l.5-.6l.5 .5l.5-.9l.5 .7l.5-.9l.5 .6l.5-.4l.5 .6l.5-.8l.5 .9l.5-.6l.5 .9l.5-1.2l.5 .8l.5-.8l.5 1.3l.5-.9l.5 1.2l.5-.6l.5 .4l.5-.4l.5 .6l.5-.8l.5 .7l.5-.8l.5 1l.5-.9l.5 .5l.5-1l.5 .5l.5-1.1l.5 .9l.5-.7"/>
<path class="w" stroke="#ff8000" d="M250.5,464.8l.5 .1l.5-.4l.5 .2l.5-.2l.5 .4l.5-.3l.5 .6l.5-.3l.5 .2l.5-.5l.5 .6l.5-.3l.5 .2l.5-.4l.5 .4l.5-.5l.5 .7l.5-.9l.5 .7l.5-1l.5 .9l.5-.6l.5 .6l.5-.4l.5 .8l.5-.5l.5 .7l.5-.8l.5 .9l.5-1l.5 1.1l.5-.9l.5 1l.5-1l.5 .3l.5-.5l.5 .2l.5-.7l.5 .7l.5-.8l.5 .6l.5-.1l.5 .9l.5-1.4l.5 .8l.5-.2l.5 .4l.5-.4l.5 .4l.5-.3l.5 .4l.5-.3l.5 .4l.5-9.3l.5 19l.5-10l.5 .3l.5-.3l.5 .5l.5-.8l.5 .6l.5-.5l.5 .5l.5-.6l.5 .6l.5-.4l.5 .5l.5-.4l.5 .7l.5-.4l.5 .4l.5-.5l.5 .3l.5-.9l.5 .6l.5-.4l.5 .4l.5-.6l.5 .7l.5-.6l.5 .6l.5-.4l.5 .2l.5-.6l.5 .5l.5-.3l.5 .6l.5-.2l.5 .2l.5-.4l.5 .5l.5-.5l.5 .4l.5-.4l.5 .2l.5-.4l.5 .2l.5-.4l.5 .2l.5-.7l.5 .7l.5-.6l.5 .2l.5-.1l.5 .5l.5-.3l.5 .4l.5 0l.5 .5l.5-.2l.5 .3l.5-.2l.5 .4l.5-.3l.5-.1l.5-.5l.5 .2l.5-2.9l.5 6l.5-3.1l.5 .4l.5-.2l.5 .3l.5-.6l.5 .3l.5-.5l.5 .5l.5-.6l.5 .5l.5-.5l.5 .6l.5-.4l.5 .5l.5-.2l.5 .4l.5-.6l.5 .1l.5-.6l.5 .7l.5-.8l.5 .5l.5-.4l.5 .9l.5-.4l.5 .8l.5-.5l.5 .5l.5-.2l.5 .2l.5-.6l.5 .1l.5-.6l.5 .1l.5-.5l.5 .5l.5-.4l.5 1.2l.5-.7l.5 .6l.5-.5l.5 .7l.5-.2l.5 .2l.5-.5l.5 .6l.5-.8l.5 .6l.5-.4l.5 .4l.5-.3l.5 .4l.5-.6l.5 .7l.5-.7l.5 .5l.5-.8l.5 .7l.5-1.1l.5 1.5l.5-.8l.5 1.1l.5-1.1l.5 .9l.5-.8l.5 .6l.5-.9l.5 .5l.5-.5l.5 .4l.5-.5l.5 1.3l.5-1.1l.5 .6l.5-.7l.5 .8l.5-.3l.5 .5l.5-.8l.5 .3l.5-.9l.5 .6l.5-.8l.5 .4l.5-.5l.5 .9l.5-.2l.5 .9l.5-.5l.5 .5l.5-.5l.5 .5l.5-.5l.5 .2l.5-1.2l.5 1.3l.5-1.6l.5 .8l.5-.5l.5 .4l.5-.2l.5 .4l.5-.3l.5 .6l.5-.7l.5 .7l.5-.4l.5 .4l.5-.4l.5 .3l.5-.3l.5 .2l.5-.3l.5 .3l.5-.8l.5 .7l.5-.3l.5 .6l.5-.3l.5 .2l.5-.3l.5 .4l.5-.4l.5 .6l.5-2.2l.5 4l.5-2.3l.5 .3l.5-.7l.5 .5l.5-.4l.5 .3l.5-.5l.5 .3l.5 0l.5 .4l.5-.1l.5 .3l.5-.3l.5 .3l.5-.1l.5 .4l.5-.1l.5 .3l.5-.5l.5 .2l.5-.4l.5 .4l.5-.5l.5 .4l.5-.2l.5 .3l.5-.5l.5 .3l.5-6.1l.5 10l.5-4.4l.5 .5l.5-.4l.5 .6l.5-.6l.5 .6l.5-.6l.5 .5l.5-.7l.5 .8l.5-.4l.5 .5l.5-.5l.5 .4l.5-.5l.5 .2l.5-.5l.5 .3l.5-.2l.5 .5l.5-.3l.5 .7l.5-.8l.5 .5l.5-.4l.5 .4l.5-.2l.5 .2l.5-.3l.5 .2l.5-.5l.5 .4l.5-.4l.5 .5l.5-.5l.5 .5l.5-.4l.5 .1l.5-.4l.5 .3l.5-.2l.5 .4l.5-.2l.5 .3l.5-.3l.5 .4l.5-.1l.5 .4l.5-.1l.5 .5l.5-.4l.5 .1l.5-.5l.5 .3l.5-.5l.5 .4l.5-.3l.5 .3l.5-.4l.5 .5l.5-.7l.5 .8l.5-.4l.5 .6l.5-.6l.5 .4l.5-.6l.5 .5l.5-.4l.5 .5l.5-1.1l.5 1.2l.5-.4l.5 .2l.5-.5l.5 .5l.5-.9l.5 .4l.5-.4l.5 1l.5-.7l.5 .8l.5-1.3l.5 .8l.5-.6l.5 .6l.5-1l.5 1.2l.5-1.2l.5 .9l.5-.6l.5 .4l.5-.7l.5 .6l.5-.6l.5 .8l.5-.4l.5 .7l.5-.5l.5 .4l.5-.5l.5 .8l.5-.6l.5 .7l.5-.5l.5 .4l.5-.7l.5 .3l.5-.7l.5 .5l.5-.5l.5 .5l.5-.3l.5 .8l.5-.8l.5 .4l.5-.5l.5 .5l.5-.3l.5 .5l.5-7l.5 21l.5-14.2l.5 .1l.5-.5l.5 .4l.5-.5l.5 .7l.5-.4l.5 .4l.5-.5l.5 .7l.5-.4l.5 .5l.5-.4l.5 .4l.5-.7l.5 .4l.5-.3l.5 .8l.5-.9l.5 .8l.5-.4l.5 .5l.5-.6l.5 .4l.5-.6l.5 .6l.5-.4l.5 .6l.5-1.1l.5 .4l.5-.4l.5 .4l.5-.3l.5 .7l.5-.2l.5 .6l.5-.6l.5 .2l.5-.5l.5 .5l.5-.7l.5 .5l.5-4l.5 8l.5-4.3l.5 .8l.5-1l.5 .7l.5-.4l.5 .3l.5-.3l.5 .8l.5-.6l.5 .6l.5-5.6l.5 13l.5-7.8l.5 .4l.5-.5l.5 .5l.5-.6l.5 1l.5-.9l.5 .6l.5-.2l.5 .2l.5-.6l.5 .3l.5-.8l.5 .5l.5-.4l.5 .2l.5-.5l.5 .4l.5-.6l.5 .5l.5-.4l.5 .8l.5-.8l.5 .5l.5-.8l.5 .7l.5-.3l.5 .7l.5-.2l.5 .4l.5-.2l.5 .5l.5-.4l.5 .2l.5-.5l.5 .3l.5-.3l.5 .3l.5-.4l.5 .4l.5-.7l.5 .4l.5-.4l.5 .7l.5-.4l.5 .6l.5-.8l.5 .6l.5-.8l.5 1l.5-.5l.5 .8l.5-.4l.5 .5l.5-.3l.5 .3l.5-1l.5 .4l.5-.6l.5 .2l.5-.4l.5 .5l.5-.3l.5 .5l.5-.5l.5 .4l.5-.1l.5 .2l.5-.8l.5 .6l.5-.3l.5 .5l.5-.3l.5 .3l.5-.2l.5 .5l.5-.4l.5 .6l.5-.4l.5 .5l.5-.6l.5 .3l.5-.4l.5 .3l.5-.4l.5 .4l.5-.5l.5 .3l.5-.6l.5 .2l.5-.6l.5 .6l.5-.7l.5 .4l.5-.4l.5 .7l.5-.2l.5 .4l.5-.5l.5 .6l.5-.4l.5 .4l.5-4l.5 8l.5-4.4l.5 .5l.5 0l.5 .3l.5-.1l.5 .4l.5-.4l.5 .1l.5-.5l.5 0l.5-.4l.5 .3l.5-.1l.5 .6l.5-.2l.5 .5l.5-.3l.5 .2l.5-.6l.5 .2l.5-.6l.5 .6l.5-.5l.5 .5l.5-.5l.5 .4l.5-.7l.5 .4l.5-.4l.5 .5l.5-.4l.5 .6l.5-.4l.5 .4l.5-.4l.5 .4l.5-.3l.5 .6l.5-.6l.5 .3l.5-.6l.5 .3l.5-2.7l.5 6l.5-3l.5 .8l.5-1l.5 .3l.5-.4l.5 .4l.5-.3l.5 .5l.5-.7l.5 .8l.5-.8l.5 .9l.5-.4l.5 .3l.5-.6l.5 .1l.5-.5l.5 .4l.5-.4l.5 .4l.5-1.3l.5 0l.5-1.2l.5-.1l.5-.7l.5 1.2l.5 .8l.5 1.5l.5 1.2l.5 4.1l.5 3.9l.5 5.8l.5 5.6l.5-43.8l.5 4.4l.5 5l.5 3.7l.5 4.2l.5 3l.5 3.4l.5 1.7l.5 2.1l.5-.7l.5 .1l.5-1.2l.5-.2l.5-1.4l.5-.5l.5-1.4l.5 .3l.5-1.2l.5 .1l.5-.6l.5 .8l.5 0l.5 .8l.5-.1l.5 1.2l.5 0l.5 1l.5-.2l.5 .7l.5-.4l.5 .5l.5-.9l.5 .4l.5-.9l.5 .4l.5-1l.5 .3l.5-.8l.5 .2l.5-.7l.5 .1l.5-.3l.5 .7l.5-.1l.5 .9l.5-.1l.5 .4l.5-.5l.5 .2l.5-.6l.5 .3l.5-.6l.5 .9l.5-.6l.5 .6l.5-.4l.5 .2l.5-.7l.5 .9l.5-.7l.5 .8l.5-.6l.5 .6l.5-1.1l.5 1l.5-.7l.5 .5l.5-.5l.5 .5l.5-.7l.5 .5l.5-.9l.5 1.1l.5-.8l.5 .5l.5-.6l.5 1.3l.5-.9l.5 1.1l.5-1l.5 .8l.5-.3l.5 .4l.5-.8l.5 .5l.5-.6l.5 .4l.5-.4l.5 .5l.5-.6l.5 .8l.5-.6l.5 .5l.5-.7l.5 .5l.5-.5l.5 1.1l.5-.7l.5 1l.5-.9l.5 1.2l.5-.7l.5 .6l.5-1l.5 .6l.5-.7l.5 .7l.5-1l.5 .7l.5-.8l.5 .7l.5-1.3l.5 1.4l.5-.6l.5 .7l.5-.8l.5 .6l.5-1.1l.5 1.1l.5-.7l.5 .7l.5-.7l.5 .8l.5-.4l.5 .7l.5-.5l.5 .3l.5-.6l.5 .4l.5-.7l.5 .4l.5-.3l.5 .4l.5-.4l.5 .4l.5-.2l.5 .5l.5-.6l.5 .2l.5-.5l.5 .2l.5-.3l.5 .6l.5-.2l.5 .2l.5-.2l.5 .3l.5-.2l.5 .2l.5-.5l.5 .6l.5-.1l.5 .4l.5-.1l.5 .5l.5-.6l.5 .3l.5-.7l.5 .4l.5-.9l.5 .6l.5-.6l.5 .6l.5-.9l.5 .7l.5-.3l.5 .9l.5-.9l.5 .3l.5-.5l.5 .9l.5-.9l.5 1.2l.5-.9l.5 1.2l.5-1.1l.5 .9l.5-.6l.5 1.7l.5-1l.5 .5l.5-.8l.5 .4l.5-.8l.5 .4l.5-.8l.5 .6l.5-.5l.5 .5l.5-2.2l.5 4l.5-2.5l.5 .3l.5-.3l.5 .6l.5-.3l.5 .3l.5-.2l.5 .1l.5-.5l.5 .3l.5-.3l.5 .5l.5-.1l.5 .4l.5 0l.5 .4l.5-.3l.5 .1l.5-.7l.5 .5l.5-.6l.5 .4l.5-.3l.5 .3l.5-.4l.5 .4l.5-.5l.5 .3l.5-.8l.5 .6l.5-.6l.5 .7l.5-.2l.5 .4l.5 0l.5 .7l.5-.4l.5 .2l.5-.4l.5 .4l.5-.5l.5 .4l.5-.7l.5 .3l.5-.3l.5 .2l.5-.3l.5 .4l.5-.2l.5 .7l.5-.3l.5 .3l.5-.2l.5 .3l.5-.6l.5 .4l.5-.3l.5 .2l.5-.3l.5 .4l.5-.5l.5 .5l.5-.4l.5 .7l.5-.6l.5 .4l.5-.9l.5 .3l.5-.7l.5 .9l.5-.8l.5 .4l.5-.5l.5 .7l.5-.4l.5 .4l.5-.5l.5 .5l.5-.3l.5 .6l.5-.4l.5 .7l.5-.5l.5 .8l.5-.6l.5 .8l.5-.8l.5 .5l.5-.5l.5 .2l.5-.5l.5 .6l.5-.6l.5 .3l.5-.4l.5 .5l.5-.3l.5 .5l.5-.3l.5 .6l.5-.5l.5 .3l.5-.4l.5 .4l.5-.7l.5 .4l.5-1l.5 .4l.5-.3l.5 .5l.5-.4l.5 .6l.5-.5l.5 .7l.5-.5l.5 .8l.5-.8l.5 .1l.5-.5l.5 .6l.5-.7l.5 .4l.5-.2l.5 .5l.5-.3l.5 .3l.5-.3l.5 .4l.5-.7l.5 .4l.5-.1l.5 .4l.5-.3l.5 .5l.5-5.3l.5 10l.5-5.2l.5 .6l.5-.4l.5 .5l.5 0l.5 .4l.5-.4l.5 0l.5-.5l.5-.1l.5-.5l.5 .3l.5-.6l.5 .9l.5-.4l.5 .6l.5-.2l.5 .2l.5-.4l.5 .3l.5-.5l.5 .3l.5-.2l.5 .5l.5-.3l.5 .6l.5-.7l.5 .4l.5-.6l.5 .2l.5-.3l.5 .8l.5-.9l.5 .7l.5-.3l.5 .4l.5-.2l.5 .7l.5-.4l.5 1.1l.5-.9l.5 .2l.5-.7l.5 .3l.5-.9l.5 .7l.5-.5l.5 .8l.5-.6l.5 .4l.5-.5l.5 .9l.5-.8l.5 .5l.5-.7l.5 .9l.5-.8l.5 .6l.5-.5l.5 .4l.5-.4l.5 .5l.5-.6l.5 .7l.5-.7l.5 .3l.5-.4l.5 .4l.5-.3l.5 .3l.5-.4l.5 .4l.5-.6l.5 .4l.5-.1l.5 .5l.5-.4l.5 .6l.5-.6l.5 .5l.5-.5l.5 .3l.5-.4l.5 .2l.5-.7l.5 1l.5-8.2l.5 12l.5-4.1l.5 .2l.5-.8l.5 .7l.5-.7l.5 .9l.5-.5l.5 .6l.5-.5l.5 .4l.5-.8l.5 .8l.5-1l.5 .6l.5-.6l.5 .6l.5-.9l.5 .9l.5-.5l.5 1l.5-.8l.5 .8l.5-.7l.5 1.3l.5-.8l.5 .8l.5-1l.5 .6l.5-.4l.5 .3l.5-.7l.5 .7l.5-1l.5 .6l.5-.3l.5 .3l.5-.1l.5 .4l.5-.6l.5 .4l.5-.9l.5 .8l.5-4l.5 5l.5-1.4l.5 1.3l.5-1.1l.5 1l.5-.8l.5 .9l.5-1.8l.5 1.3l.5-.8l.5 1.1l.5-.6l.5 .7l.5-.5l.5 1l.5-.9l.5 .5l.5-1.1l.5 .8l.5-.7l.5 .4l.5-1.3l.5 2.1l.5-1.5l.5 1.2l.5-1.6l.5 .9l.5-1.1l.5 1.3l.5-1l.5 .8l.5-.9l.5 .9l.5-.3l.5 .6l.5-.1l.5 .6l.5-.3l.5 .4l.5-.5l.5 .1l.5-.7l.5 .2l.5-.7l.5 .6l.5-.1l.5 .5l.5-.5l.5 .1l.5-.5l.5 .2l.5-.4l.5 .5l.5-.2l.5 .3l.5-.2l.5 .6l.5-.4l.5 .4l.5-.4l.5 .2l.5-.5l.5 .6l.5-.7l.5 .7l.5-.6l.5 .5l.5-.4l.5 .2l.5-.4l.5 .7l.5-.5l.5 .5l.5-.4l.5 .5l.5-.3l.5 .4l.5-.4l.5 .7l.5-.6l.5 .3l.5-.6l.5 .6l.5-.8l.5 .6l.5-.7l.5 1.2l.5-1.2l.5 2.1l.5-2.7l.5 2.9l.5-2.7l.5 3.2l.5-3.4l.5 2.8l.5-2.4l.5 1.5l.5-.9l.5 .5l.5-.4l.5 .5l.5-5.5l.5 7l.5-2.1l.5 .5l.5-.2l.5 .6l.5-.6l.5 .4l.5-.4l.5 .7l.5-1.1l.5 1.6l.5-2.2l.5 1.7l.5-2l.5 1.9l.5-2.1l.5 2.2l.5-1.7l.5 2.4l.5-2.3l.5 1.7l.5-1.8l.5 1.9l.5-2.4l.5 2.1l.5-1.9l.5 2.4l.5-2.4l.5 2.1l.5-2.5l.5 2.3l.5-1.9l.5 2.4l.5-2.5l.5 2.9l.5-2.8l.5 2.2l.5-2.5l.5 2.7l.5-2.2l.5 2.3l.5-1.9l.5 2.2l.5-2.1l.5 2.1l.5-2l.5 1.9l.5-2.1l.5 2.1l.5-2.1l.5 2l.5-2.3l.5 1.7l.5-2.3l.5 2.2l.5-2.4l.5 2.8l.5-2.2l.5 3.1l.5-2.8l.5 2.7l.5-3.2l.5 2.6l.5-2.1l.5 1.7l.5-1.8l.5 2.1l.5-2.1l.5 2l.5-2.1l.5 1.6l.5-2.1l.5 2.4l.5-2.2l.5 2.4l.5-2.1l.5 2.2l.5-2l.5 1.6l.5-2.3l.5 2.1l.5-1.6l.5 1.5l.5-1.6l.5 2.6l.5-2.7l.5 2.2l.5-2.1l.5 1.8l.5-1.5l.5 1.4l.5-1.9l.5 2l.5-1.9l.5 2.4l.5-2.1l.5 2.5l.5-2.2l.5 2.3l.5-2.7l.5 2l.5-2.4l.5 2.2l.5-2.2l.5 2l.5-1.8l.5 2.1l.5-2.2l.5 2.6l.5-3l.5 2.7l.5-2.8l.5 3l.5-3l.5 2.9l.5-3l.5 3.2l.5-3.2l.5 2.3l.5-2.9l.5 2.4l.5-2.1l.5 2.9l.5-2.3l.5 2.8l.5-1.9l.5 1.7l.5-1.7l.5 1.8l.5-2l.5 2.2l.5-2.3l.5 2l.5-2.1l.5 1.7l.5-2.4l.5 2.5l.5-2.1l.5 2.1l.5-1.4l.5 1.9l.5-2.2l.5 2.2l.5-2.1l.5 2.1l.5-2.3l.5 2.8l.5-2.7l.5 2.5l.5-2.9l.5 2.8l.5-2.2l.5 2l.5-2.7l.5 2.3l.5-2.2l.5 2.4l.5-2.8l.5 2.5l.5-2.3l.5 2l.5-2.3l.5 2.9l.5-2.7l.5 2.6l.5-2.2l.5 3l.5-2.7l.5 2.7l.5-3l.5 2.4l.5-2.5l.5 2.8l.5-2.5l.5 2l.5-2.1l.5 2.1l.5-2.4l.5 3.1l.5-2.8l.5 2.4l.5-2.8l.5 2.4l.5-1.7l.5 2.2l.5-1.9l.5 2l.5-2.2l.5 2.6l.5-2.9l.5 2.1l.5-2.6l.5 2.6l.5-2.7l.5 2.7l.5-2.6l.5 2.6l.5-2.2l.5 2.7l.5-3.1l.5 2.1l.5-1.6l.5 1.7l.5-1.8l.5 2.1l.5-1.9l.5 1.8l.5-2l.5 2.5l.5-2.2l.5 2.5l.5-3.1l.5 3l.5-3.8l.5 4.9l.5-5.5l.5 5l.5-5l.5 6.3l.5-6.4l.5 5.2l.5-5.7l.5 6.5l.5-6.2l.5 6.3l.5-5.8l.5 5.7l.5-5.7l.5 6.1l.5-7.6l.5 7.6l.5-5.8l.5 4.6l.5-5.7l.5 6.4l.5-5.4l.5 6.3l.5-6.2l.5 4.7l.5-4.9l.5 4.2l.5-4.4l.5 5.6l.5-6.1l.5 5.1l.5-3.9l.5 4.8l.5-5.8l.5 4.6l.5-4.3l.5 3.9l.5-4.3l.5 4.8l.5-4.4l.5 3.6l.5-3.4l.5 4.2l.5-4.1l.5 5.3l.5-4.6l.5 4.4l.5-4l.5 3.5l.5-4.6l.5 5.2l.5-5.5l.5 5l.5-5.3l.5 6.3l.5-5.9l.5 4.7l.5-5.9l.5 9.3l.5-10.1l.5 13l.5-13.4l.5 10.5l.5-12.4l.5 13.2l.5-10.3l.5 9.8l.5-13.4l.5 14l.5-13.1l.5 13.1l.5-11.9l.5 11.8l.5-11.4l.5 13.2l.5-15.5l.5 13.2l.5-11.5l.5 10.2l.5-9.9l.5 9.7l.5-10.5l.5 11.2l.5-10.4l.5 11.1l.5-10.8l.5 9.4l.5-8.5l.5 7.8l.5-7.9l.5 7l.5-6.7l.5 6.7l.5-8.4l.5 10.9l.5-10.9l.5 9.2l.5-9.7l.5 9.7l.5-8.1l.5 8l.5-6.9l.5 6.7l.5-5.8l.5 5.3l.5-7.3l.5 7l.5-6.2l.5 6.4l.5-5.7l.5 5.6l.5-5.3l.5 5.2l.5-6l.5 5.5l.5-4.7l.5 4.1l.5-3.7l.5 4.6l.5-4.8l.5 5.6l.5-6.1l.5 6.7l.5-7.5l.5 7.9l.5-7.4l.5 5l.5-5.2l.5 7.8l.5-6.4l.5 4.3l.5-4.6l.5 4.8l.5-5.2l.5 5.4l.5-5.6l.5 5.8l.5-6.8l.5 6.7l.5-6.2l.5 5.6l.5-5.2l.5 4.7l.5-4.4l.5 5.9l.5-7.5l.5 7.4l.5-6.3l.5 6.9l.5-7.4l.5 7.7l.5-6.3l.5 5.5l.5-6.7l.5 7.1l.5-6.3l.5 6.8l.5-6.3l.5 5.5l.5-5.9l.5 7.1l.5-7.4l.5 6.6l.5-7l.5 6.4l.5-6l.5 5.7l.5-5.8l.5 5.8l.5-6.6l.5 7.5l.5-6.5l.5 6.1l.5-5.7l.5 4.9l.5-4.7l.5 5.5l.5-5l.5 3.2l.5-3.2l.5 4l.5-4l.5 3.3l.5-3.5l.5 3.9l.5-3l.5 3.1l.5-3.8l.5 3.7l.5-4l.5 3.9l.5-3.7l.5 3.8l.5-3.1l.5 3.3l.5-3.3l.5 3.4l.5-3.5l.5 3.4l.5-2.9l.5 2.2l.5-2.8l.5 4l.5-4l.5 4.1l.5-3.9l.5 3.4l.5-3.2l.5 3.1l.5-4l.5 4.1l.5-3.8l.5 3.4l.5-2.9l.5 2.7l.5-2.4l.5 2l.5-2.5l.5 2.8l.5-2.9l.5 2.9l.5-2.6l.5 1.9l.5-2.1l.5 2.7l.5-3.1l.5 3.3l.5-3.1l.5 2.8l.5-3l.5 3.6l.5-3.1l.5 3.5l.5-3.3l.5 3.5l.5-3.1l.5 2.6l.5-2.8l.5 2.2l.5-2.5l.5 2.7l.5-2.5l.5 2.2l.5-3l.5 3.6l.5-3.1l.5 2.5l.5-2.4l.5 2.6l.5-2.3l.5 3.3l.5-3.9l.5 3l.5-3.1l.5 2.7l.5-2.5l.5 2l.5-2.5l.5 2.8l.5-2.3l.5 2.8l.5-2.6l.5 2.9l.5-2.2l.5 2.2l.5-2.7l.5 3.3l.5-2.9l.5 2.2l.5-2.6l.5 3l.5-2.7l.5 2.5l.5-3.1l.5 2.6l.5-2.9l.5 3.2l.5-2.5l.5 2.4l.5-2l.5 2.1l.5-3.2l.5 2.8l.5-2.6l.5 2.2l.5-2.2l.5 1.8l.5-1.9l.5 2.2l.5-2.2l.5 2.5l.5-2l.5 2l.5-1.7l.5 2.1l.5-2.4l.5 2.3l.5-2.2l.5 2l.5-2.7l.5 2.7l.5-2.3l.5 2l.5-1.9l.5 2.2l.5-2.2l.5 2.7l.5-2.5l.5 1.8l.5-1.9l.5 1.6l.5-2l.5 2.3l.5-1.7l.5 1.9l.5-1.9l.5 1.2l.5-1.5l.5 2.1l.5-1.9l.5 2l.5-2.3l.5 2.1l.5-1.9l.5 1.9l.5-2.7l.5 2.4l.5-2.1l.5 2.2l.5-6.7l.5 18.5l.5-13.8l.5 1.5l.5-1.7l.5 2.1l.5-1.7l.5 1.7l.5-1.4l.5 1.4l.5-1.2l.5 1.8l.5-1.7l.5 1.8l.5-2.1l.5 1.8l.5-1.8l.5 1.6l.5-1.6l.5 1.5l.5-1.1l.5 1.6l.5-1.4l.5 1.3l.5-1.7l.5 1.3l.5-1.4l.5 1.2l.5-1.3l.5 1.7l.5-1.4l.5 1.8l.5-1.3l.5 1.5l.5-2l.5 2.1l.5-2.1l.5 1.6l.5-1.8l.5 1.8l.5-2.1l.5 2l.5-1.4l.5 1.4l.5-1.3l.5 1.4l.5-1.4l.5 1.1l.5-1.2l.5 1.1l.5-1.1l.5 1.2l.5-1.4l.5 1.3l.5-1.3l.5 1.5l.5-1.3l.5 1.6l.5-1.4l.5 1l.5-1.4l.5 1.3l.5-1.2l.5 1l.5-1.3l.5 1.7l.5-1.8l.5 1.2l.5-1.3l.5 1.3l.5-1.5l.5 1.6l.5-1.4l.5 1l.5-.9l.5 1.1l.5-1.2l.5 1.7l.5-1.6l.5 1.5l.5-1.2l.5 1.2l.5-1.8l.5 1.7l.5-1.2l.5 1.3l.5-1.5l.5 1.5l.5-1.6l.5 1.4l.5-1.4l.5 1.8l.5-2.1l.5 2l.5-1.8l.5 1.6l.5-1.5l.5 1.2l.5-1.3l.5 1.4l.5-1.3l.5 2.1l.5-1.8l.5 1.9l.5-1.5l.5 1.2l.5-1.3l.5 1.3l.5-2.1l.5 1.8l.5-1.3l.5 1.6l.5-1.4l.5 1.5l.5-1.6l.5 2.4l.5-2.9l.5 3.6l.5-5.1l.5 5.8l.5-6.1l.5 4.3l.5-3.3l.5 2.9l.5-2.2l.5 1.6l.5-1.6l.5 1.8l.5-1.3l.5 1.7l.5-1.7l.5 1.8l.5-1.6l.5 1.9l.5-1.9l.5 1.8l.5-1.8l.5 1.8l.5-1.7l.5 1.5l.5-1.6l.5 1.2l.5-1.6l.5 1.3l.5-1.2l.5 1.3l.5-5.5l.5 10l.5-5.4l.5 1.1l.5-1.3l.5 1l.5-1l.5 1.1l.5-1.3l.5 1.3l.5-1.2l.5 1.2l.5-1.1l.5 1l.5-.9l.5 .9l.5-1l.5 1.1l.5-1.2l.5 1.6l.5-.9l.5 1l.5-1.2l.5 1.2l.5-1.4l.5 1l.5-1l.5 1.2l.5-1.3l.5 .9l.5-.8l.5 1.1l.5-1.2l.5 .9l.5-1.2l.5 1l.5-1.2l.5 .9l.5-1.2l.5 1.5l.5-1.1l.5 1.2l.5-1.1l.5 1.2l.5-1.1l.5 .8l.5-1l.5 1.1l.5-.9l.5 1.1l.5-.9l.5 1l.5-.7l.5 .9l.5-.6l.5 .9l.5-.8l.5 .7l.5-.8l.5 .7l.5-1.1l.5 .6l.5-.8l.5 .9l.5-.6l.5 .8l.5-.7l.5 .9l.5-1l.5 .8l.5-1.2l.5 .8l.5-4.2l.5 8l.5-4.8l.5 1l.5-.9l.5 .9l.5-.8l.5 1l.5-.9l.5 .8l.5-8.3l.5 16l.5-8.7l.5 .5l.5-.7l.5 .7l.5-7.8l.5 18l.5-10.2l.5 .9l.5-6.7l.5 12l.5-6.3l.5 .4l.5-.8l.5 .6l.5-.5l.5 .7l.5-.6l.5 .8l.5-.6l.5 .7l.5-.5l.5 .5l.5-.6l.5 .5l.5-.7l.5 1l.5-1l.5 1l.5-.8l.5 .9l.5-.7l.5 .9l.5-.7l.5 .9l.5-.6l.5 .6l.5-.9l.5 .5l.5-1.1l.5 .6l.5-.7l.5 .7l.5-.7l.5 .7l.5-.6l.5 .5l.5-.6l.5 .6l.5-.6l.5 .7l.5-.5l.5 .6l.5-.5l.5 .4l.5-.6l.5 .3l.5-.5l.5 .4l.5-.3l.5 .4l.5-.4l.5 .8l.5-.8l.5 .5l.5-.6l.5 .7l.5-.7l.5 .7l.5-.4l.5 .6l.5-.4l.5 .3l.5-.4l.5 .4l.5-.3l.5 .5l.5-.2l.5 .7l.5-.4l.5 .4l.5-.6l.5 .3l.5-.4l.5 .1l.5-.6l.5 .5l.5-.3l.5 .4l.5-.6l.5 .7l.5-.7l.5 .7l.5-.5l.5 .5l.5-.6l.5 .2l.5-.6l.5 .6l.5-.4l.5 .9l.5-.4l.5 .7l.5-.5l.5 .2l.5-.4l.5 .1l.5-.4l.5 .1l.5-.3l.5 .4l.5-.4l.5 .4l.5-.5l.5 .5l.5-.5l.5 .4l.5-.2l.5 .3l.5-.2l.5 .3l.5-.2l.5 .5l.5-.4l.5 .3l.5-.5l.5 .2l.5-.2l.5 .6l.5-.5l.5 .5l.5-.8l.5 .7l.5-.5l.5 .7l.5-.3l.5 .5l.5-.3l.5 .3l.5-.6l.5 .2l.5-.5l.5 .4l.5-.5l.5 .3l.5-.2l.5 .3l.5-.2l.5 .3l.5-.5l.5 .6l.5-.4l.5 .6l.5-.2l.5 .3l.5-.4l.5 .3l.5-.8l.5 .1l.5-.4l.5 .3l.5-.3l.5 .6l.5-.3l.5 .7l.5-.5l.5 .5l.5-.6l.5 .3l.5-.1l.5 .3l.5-.5l.5 .6l.5-.2l.5 .2l.5-.2l.5 .2l.5-.2l.5 .2l.5-.3l.5 .5l.5-.3l.5 .4l.5-.5l.5 .2l.5-.7l.5 .2l.5-.6l.5 .5l.5-.3l.5 .8l.5-.7l.5 .7l.5-.5l.5 .4l.5-.6l.5 .3l.5-.7l.5 .6l.5-.7l.5 1l.5-.6l.5 .9l.5-.9l.5 .9l.5-1l.5 1.9l.5-1.6l.5 1.1l.5-1.2l.5 .6l.5-.8l.5 1.2l.5-1.1l.5 1.1l.5-1l.5 .8l.5-.7l.5 .5l.5-.8l.5 1.1l.5-1l.5 1.1l.5-1.3l.5 2.2l.5-3.2l.5 3.9l.5-3.8l.5 4.5l.5-4.9l.5 4.9l.5-4.2l.5 2.8l.5-2.2l.5 1.2l.5-.9l.5 .5l.5-.3l.5 .4l.5-.3l.5 .2l.5-.3l.5 .3l.5-2.1l.5 4l.5-2.2l.5 .3l.5-.2l.5 .3l.5-.2l.5 .7l.5-.7l.5 .3l.5-.5l.5 .2l.5-.6l.5 .4l.5-.4l.5 .5l.5-.5l.5 .6l.5-.8l.5 .8l.5-.4l.5 .5l.5-.9l.5 .7l.5-.3l.5 .5l.5-.3l.5 .4l.5-.7l.5 .2l.5-.3l.5 .5l.5-.5l.5 .5l.5-.2l.5 .6l.5-.6l.5 .6l.5-3.3l.5 6l.5-3.2l.5 .6l.5-.5l.5 .4l.5-.4l.5 .1l.5-.3l.5 .2l.5-.4l.5 .1l.5-.1l.5 .3l.5-.2l.5 .5l.5-.4l.5 .2l.5-.3l.5 .4l.5 0l.5 .4l.5-.1l.5 .6l.5-.3l.5 .4l.5-.4l.5 0l.5-.4l.5 .2l.5-4.4l.5 8l.5-4.2l.5 .6l.5-.3l.5 .3l.5-.2l.5 .3l.5-.3l.5 .2l.5-.3l.5 .3l.5-.6l.5 .6l.5-.4l.5 .1l.5-.4l.5-.1l.5-.3l.5 .3l.5-.3l.5 .8l.5-.8l.5 .4l.5-.6l.5 .5l.5-.4l.5 .7l.5-.7l.5 .6l.5-.5l.5 .6l.5-.6l.5 .8l.5-.3l.5 .4l.5-.3l.5 .6l.5-.7l.5 .7l.5-.4l.5 .6l.5-.5l.5 .7l.5-.7l.5 .4l.5-.8l.5 .4l.5-.4l.5 .4l.5-.4l.5 .3l.5-.4l.5 .4l.5-.5l.5 .4l.5-.3l.5 .2l.5-.2l.5 .2l.5-.4l.5 .2l.5-.4l.5 .4l.5-.4l.5 .3l.5-.2l.5 .5l.5-.2l.5 .3l.5-.3l.5 .5l.5-.3l.5 .6l.5-.5l.5 .4l.5-.4l.5 .3l.5-.7l.5 .8l.5-.6l.5 .4l.5-.5l.5 .8l.5-.3l.5 .4l.5-.6l.5 .4l.5-.6l.5 .5l.5-1l.5 1.3l.5-2.8l.5 3.9l.5-4.5l.5 5.7l.5-5.8l.5 5.4l.5-4l.5 2.6l.5-1.5l.5 1l.5-.3l.5 .7l.5-1l.5 .5l.5-1l.5 .3l.5-.6l.5 .8l.5-.3l.5 .7l.5-.4l.5 .5l.5-.4l.5 .6l.5-.1l.5 .6l.5-.5l.5 .1l.5-.5l.5 0l.5-.4l.5 .5l.5-.5l.5 .3l.5-.3l.5 .3l.5-.3l.5 .3l.5-.3l.5 .6l.5-.4l.5 .4l.5-.2l.5 .3l.5-.2l.5 .1l.5-.3l.5 .2l.5-.3l.5 .1l.5-.3l.5 .5l.5-.3l.5 .2l.5-.2l.5 .3l.5-.5l.5 .3l.5-.5l.5 0l.5-.4l.5 .4l.5-.2l.5 .4l.5-.2l.5 .7l.5-.2l.5 .4l.5-.4l.5 .2l.5-.2l.5 .4l.5-.1l.5 .4l.5-.6l.5 .2l.5-.7l.5 .5l.5-.5l.5 .4l.5-3.7l.5 7l.5-3.7l.5 .5l.5-.2l.5 .4l.5-.4l.5 .2l.5-.5l.5 .2l.5-.3l.5 .3l.5-.3l.5 .1l.5 0l.5 .3l.5-.3l.5 .5l.5-.4l.5 .6l.5-.8l.5 .5l.5-.7l.5 .5l.5-.6l.5 .4l.5-.5l.5 .6l.5-3.9l.5 10l.5-6.3l.5 .5l.5-.5l.5 .7l.5-.6l.5 .5l.5-.4l.5 .5l.5-.6l.5 .8l.5-.7l.5 .3l.5-.6l.5 .5l.5-.7l.5 .6l.5-.3l.5 .4l.5-.9l.5 .7l.5-.5l.5 .4l.5-.4l.5 .7l.5-.7l.5 .4l.5-.4l.5 .7l.5-.9l.5 .9l.5-.5l.5 .9l.5-1.3l.5 .9l.5-.8l.5 .8l.5-.8l.5 1l.5-.4l.5 1l.5-.9l.5 .4l.5-.6l.5 .4l.5-.5l.5 .3l.5-.7l.5 .7l.5-.4l.5 .9l.5-.4l.5 .7l.5-.6l.5 .7l.5-.7l.5 .5l.5-.4l.5 .4l.5-.7l.5 .6l.5-.8l.5 .8l.5-.5l.5 .4l.5-.3l.5 .3l.5-.4l.5 .3l.5-.1l.5 .7l.5-.6l.5 .8l.5-.6l.5 .4l.5-1.1l.5 .4l.5-.7l.5 .4l.5-1.2l.5 1l.5-.6l.5 .9l.5-.6l.5 .6l.5-.3l.5 .2l.5-.5l.5 .1l.5-.4l.5 .3l.5-.7l.5 1l.5-.5l.5 .8l.5-.5l.5 .3l.5-.5l.5 .3l.5-.4l.5 .8l.5-.7l.5 .6l.5-.4l.5 .9l.5-.9l.5 .9l.5-.6l.5 .3l.5-.4l.5 .5l.5-.3l.5 .3l.5-.6l.5 .4l.5-.5l.5 .3l.5-.3l.5 .6l.5-.6l.5 .7l.5-.4l.5 .4l.5-.6l.5 0l.5-.5l.5 .4l.5-.2l.5 .6l.5-.1l.5 .4l.5-.7l.5 .9l.5-.3l.5 .4l.5-.5l.5 .3l.5-.8l.5 .5l.5-.8l.5 .6l.5-.7l.5 1l.5-.6l.5 .8l.5-.5l.5 .1l.5-.3l.5 .3l.5-.5l.5 .4l.5-.4l.5 .7l.5-.5l.5 .5l.5-.3l.5 .4l.5-.8l.5 .8l.5-.6l.5 .6l.5-.8l.5 1l.5-.7l.5 .5l.5-1l.5 .7l.5-.7l.5 .6l.5-.4l.5 .7l.5-.5l.5 1.2l.5-1.1l.5 .8l.5-.5l.5 .7l.5-1l.5 .6l.5-.5l.5 .5l.5-1.2l.5 .7l.5-.5l.5 .5l.5-.6l.5 1l.5-.7l.5 1l.5-.6l.5 .3l.5-.3l.5 0l.5-.5l.5 .4l.5-.3l.5 .6l.5-.2l.5 .9l.5-.8l.5 .5l.5-1l.5 .5l.5-.6l.5 .4l.5-.4l.5 1.1l.5-.4l.5 .5l.5-.7l.5 .9l.5-.6l.5 .3l.5-.5l.5 1.2l.5-1.2l.5 .7l.5-.6l.5 .3l.5-.5l.5 .6l.5-.9l.5 .5l.5-.7l.5 .8l.5-1.4l.5 1.4l.5-.6l.5 .6l.5-.8l.5 .9l.5-.8l.5 .6l.5-.9l.5 1l.5-.4l.5 .4l.5-.7l.5 .9l.5-4.5l.5 8l.5-4.3l.5 .4l.5-.5l.5 .9l.5-.4l.5 .5l.5-.6l.5 .3l.5-.4l.5 .5l.5-.4l.5 .6l.5-.6l.5 .5l.5-.5l.5 .2l.5-.7l.5 .2l.5-.3l.5 .3l.5-.1l.5 .5l.5-.4l.5 .3l.5-.1l.5 .5l.5-.4l.5 .7l.5-.4l.5 .3l.5-.6l.5 0l.5-.5l.5 .3l.5-.2l.5 .5l.5 0l.5 .5l.5-.1l.5 .2l.5-.4l.5 .4l.5-.3l.5 .4l.5-.3l.5 .5l.5-.5l.5 .1l.5-.4l.5 .3l.5-.4l.5 .2l.5-.8l.5 .9l.5-.8l.5 .3l.5-.7l.5 .2l.5-.4l.5 .4l.5-.1l.5 .6l.5-.3l.5 .9l.5-.5l.5 .1l.5-.2l.5 .5l.5-.4l.5 .3l.5-.5l.5 .2l.5-.3l.5 .4l.5-.1l.5 .3l.5-.1l.5 .3l.5-.6l.5 .3l.5-2.2l.5 4l.5-2.3l.5 .2l.5-.2l.5 .4l.5-.2l.5 .3l.5-.2l.5 .2l.5-3.2l.5 6l.5-3.5l.5 .2l.5-.2l.5 .5l.5 0l.5 .5l.5-.3l.5 .2l.5-.3l.5 .2l.5-.1l.5 .4l.5-.5l.5 .4l.5-.5l.5 .1l.5-.2l.5 .1l.5-.4l.5 .4l.5-.5l.5 .3l.5-.3l.5 .4l.5-.4l.5 .5l.5-.3l.5 .5l.5-.2l.5 .2l.5-.4l.5 .5l.5-.5l.5 1l.5-.6l.5 .6l.5-.1l.5 .5l.5-.6l.5 .5l.5-.6l.5 .2l.5-.8l.5 .4l.5-.9l.5 .6l.5-.6l.5 .7l.5-.5l.5 .5l.5-.6l.5 .5l.5-.1l.5 .5l.5-.3l.5 .2l.5-.5l.5 .2l.5-.7l.5 .5l.5-.5l.5 .5l.5-.2l.5 .2l.5-.5l.5 .5l.5-.4l.5 .4l.5-.5l.5 .9l.5-.3l.5 .6l.5-.2l.5 .3l.5-.3l.5 .3l.5-1l.5 .6l.5-.8l.5 .5l.5-.6l.5 .8l.5-.3l.5 .9l.5-1l.5 1.1l.5-1.2l.5 .5l.5-.4l.5 .3l.5-.4l.5 .7l.5-.5l.5 1l.5-.6l.5 .6l.5-.7l.5 .5l.5-.6l.5 .6l.5-.8l.5 .5l.5-.4l.5 .3l.5-.3l.5 .8l.5-.7l.5 .3l.5-.4l.5 .3l.5-.6l.5 .8l.5-6.4l.5 11l.5-4.9l.5 .5l.5-.9l.5 .4l.5-.5l.5 .7l.5-.6l.5 .3l.5-.6l.5 1l.5-1l.5 .9l.5-.8l.5 .5l.5-.8l.5 1.3l.5-1.2l.5 .8l.5-1.1l.5 1.2l.5-.7l.5 .6l.5-.4l.5 1l.5-.7l.5 1.2l.5-.7l.5 .9l.5-1.3l.5 1l.5-1.5l.5 .8l.5-1.3l.5 1.1l.5-.7l.5 .9l.5-.3l.5 .8l.5-.7l.5 1.2l.5-1.6l.5 .6l.5-.8l.5 .7l.5-.6l.5 .9l.5-.6l.5 .5l.5-.4"/>
</g>
<g font-size="16">
<text x="242.9" y="367.9" text-anchor="end">3</text>
<text x="242.9" y="402.6" text-anchor="end">2</text>
<text x="242.9" y="437.2" text-anchor="end">1</text>
<text x="242.9" y="471.9" text-anchor="end">0</text>
<text x="242.9" y="506.6" text-anchor="end">-1</text>
<text x="242.9" y="541.2" text-anchor="end">-2</text>
<text x="242.9" y="575.9" text-anchor="end">-3</text>
<text x="250.5" y="592.2" text-anchor="middle">13:15</text>
<text x="547.9" y="592.2" text-anchor="middle">13:16</text>
<text x="845.3" y="592.2" text-anchor="middle">13:17</text>
<text x="1142.7" y="592.2" text-anchor="middle">13:18</text>
<text x="1440.1" y="592.2" text-anchor="middle">13:19</text>
<text x="1737.5" y="592.2" text-anchor="middle">13:20</text>
<text class="mx" x="250.2" y="356.8" font-size="12.6">×</text><text x="262.9" y="357">10</text><text x="280.6" y="349.1" font-size="13.4">-3</text>
</g>
<text class="b k" x="994" y="354" text-anchor="middle"><tspan class="la" font-size="17.6">2025</tspan><tspan class="cj" font-size="18.5">年</tspan><tspan class="la" font-size="17.6">5</tspan><tspan class="cj" font-size="18.5">月</tspan><tspan class="la" font-size="17.6">29</tspan><tspan class="cj" font-size="18.5">日全光纤海底地震仪监测数据（第二组三分量）</tspan></text>
<text class="b" x="994.6" y="614.7" text-anchor="middle"><tspan class="cj" font-size="17.6" letter-spacing="1.2">时间</tspan></text>
<text class="b" transform="translate(221.5,465) rotate(-90)" text-anchor="middle"><tspan class="cj" font-size="18.2">加速度</tspan><tspan class="la" font-size="17.6">(g)</tspan></text>
<path d="M1608.5,384.5h40" stroke="#ff0000" stroke-width="2" fill="none"/>
<text class="b k" x="1651.6" y="390.5"><tspan class="cj" font-size="15.6" letter-spacing="1.15">东西向</tspan><tspan class="la" font-size="16">(X)</tspan></text>
<path d="M1608.5,406.5h40" stroke="#0000ff" stroke-width="2" fill="none"/>
<text class="b k" x="1651.6" y="412.5"><tspan class="cj" font-size="15.6" letter-spacing="1.15">南北向</tspan><tspan class="la" font-size="16">(Y)</tspan></text>
<path d="M1608.5,427.5h40" stroke="#ff8000" stroke-width="2" fill="none"/>
<text class="b k" x="1651.6" y="433.5"><tspan class="cj" font-size="15.6" letter-spacing="1.15">垂直向</tspan><tspan class="la" font-size="16">(Z)</tspan></text>
</g>
<g id="plot3">
<path class="ax" d="M250.5,649.5H1737.5V856.5H250.5ZM547.5,856.5v-14M547.5,649.5v14M845.5,856.5v-14M845.5,649.5v14M1142.5,856.5v-14M1142.5,649.5v14M1440.5,856.5v-14M1440.5,649.5v14M250.5,683.5h14M1737.5,683.5h-14M250.5,718.5h14M1737.5,718.5h-14M250.5,753.5h14M1737.5,753.5h-14M250.5,787.5h14M1737.5,787.5h-14M250.5,822.5h14M1737.5,822.5h-14"/>
<g clip-path="url(#c2)">
<path class="w" stroke="#ff0000" d="M250.5,752.8l.5 .8l.5-.8l.5 .5l.5-.4l.5 .4l.5-.6l.5 .5l.5-.5l.5 .7l.5-.7l.5 .7l.5-1l.5 .9l.5-.4l.5 .4l.5-.5l.5 .5l.5-.4l.5 .6l.5-.7l.5 .4l.5-.3l.5 .3l.5-.4l.5 .5l.5-.3l.5 .5l.5-.4l.5 .2l.5-.3l.5 .2l.5-.2l.5 .3l.5-.5l.5 .5l.5-.5l.5 .4l.5-.4l.5 .5l.5-.4l.5 .4l.5-.6l.5 .7l.5-.3l.5 .3l.5-.5l.5 .7l.5-1.1l.5 .9l.5-.7l.5 .5l.5-.6l.5 .5l.5-.5l.5 .5l.5-.3l.5 .4l.5-.6l.5 .9l.5-1.3l.5 1.2l.5-.9l.5 .9l.5-1l.5 .9l.5-.4l.5 .7l.5-.7l.5 .7l.5-1l.5 .5l.5-.3l.5 .6l.5-.7l.5 .7l.5-1l.5 .8l.5-.8l.5 .9l.5-.6l.5 .5l.5-.4l.5 .4l.5-.5l.5 .4l.5-.6l.5 .7l.5-.4l.5 .6l.5-.6l.5 .8l.5-.5l.5 .2l.5-.5l.5 .6l.5-.5l.5 .4l.5-.6l.5 .4l.5-.3l.5 .3l.5-.3l.5 .2l.5-.2l.5 .1l.5-.2l.5 .6l.5-.5l.5 .3l.5-.4l.5 .3l.5-.2l.5 .2l.5-.3l.5 .4l.5-.5l.5 .7l.5-.5l.5 .3l.5-.3l.5 .5l.5-.5l.5 .4l.5-.4l.5 .3l.5-.2l.5 .2l.5-.6l.5 .6l.5-.3l.5 .3l.5-.1l.5 .1l.5-.3l.5 .5l.5-.6l.5 .5l.5-.6l.5 .5l.5-.3l.5 .3l.5-.3l.5 .4l.5-.4l.5 .5l.5-.6l.5 .5l.5-.4l.5 .5l.5-.5l.5 .5l.5-.8l.5 .5l.5-.3l.5 .4l.5-.3l.5 .8l.5-.9l.5 .4l.5-.5l.5 .6l.5-.5l.5 .5l.5-.4l.5 1.1l.5-1.4l.5 .9l.5-.6l.5 .5l.5-.5l.5 .5l.5-.6l.5 .6l.5-.5l.5 .4l.5-.8l.5 .6l.5-.5l.5 .5l.5-.5l.5 .5l.5-.5l.5 .4l.5-.4l.5 .8l.5-.7l.5 .7l.5-.6l.5 .6l.5-.3l.5 .5l.5-.8l.5 .6l.5-.6l.5 .8l.5-.7l.5 .3l.5-.4l.5 .3l.5-.3l.5 .3l.5-.3l.5 .3l.5-.4l.5 .5l.5-.6l.5 .8l.5-.4l.5 .2l.5-.3l.5 .3l.5-.3l.5 .3l.5-.4l.5 .5l.5-.2l.5 .5l.5-.7l.5 .6l.5-.5l.5 .3l.5-.5l.5 .5l.5-.2l.5 .1l.5-.4l.5 .5l.5-.4l.5 .6l.5-.7l.5 .7l.5-.7l.5 .3l.5-.2l.5 .5l.5-.5l.5 .4l.5-.7l.5 .8l.5-.5l.5 .3l.5-.4l.5 .3l.5-.4l.5 .5l.5-.4l.5 .6l.5-.5l.5 .4l.5-.6l.5 1.2l.5-1l.5 .5l.5-.5l.5 .3l.5-.3l.5 .4l.5-.4l.5 .6l.5-.7l.5 .4l.5-.3l.5 .5l.5-.5l.5 .5l.5-.3l.5 .2l.5-.3l.5 .3l.5-.5l.5 .3l.5-.1l.5 .4l.5-.5l.5 .2l.5-.2l.5 .2l.5-.2l.5 .1l.5-.3l.5 .3l.5-.1l.5 .5l.5-.4l.5 .2l.5-.2l.5 .2l.5-.2l.5 .2l.5-.1l.5 .3l.5-.5l.5 .5l.5-.5l.5 .3l.5-.1l.5 .2l.5-.4l.5 .2l.5-.2l.5 .5l.5-.4l.5 .5l.5-.6l.5 .4l.5-.2l.5 .3l.5-.3l.5 .3l.5-.4l.5 .4l.5-.4l.5 .2l.5-.7l.5 .9l.5-.4l.5 .3l.5-.4l.5 .4l.5-.4l.5 .4l.5-.3l.5 .3l.5-.2l.5 .2l.5-.3l.5 .3l.5-.2l.5 .2l.5-.4l.5 .4l.5-.4l.5 .4l.5-.5l.5 .4l.5-.3l.5 .3l.5-.3l.5 .2l.5-.3l.5 .6l.5-.4l.5 .4l.5-.3l.5 .5l.5-.6l.5 .4l.5-.8l.5 .6l.5-.5l.5 .4l.5-.6l.5 .6l.5-.3l.5 .7l.5-.8l.5 .8l.5-.4l.5 .5l.5-.5l.5 .5l.5-.5l.5 .7l.5-.9l.5 .4l.5-.4l.5 .5l.5-.7l.5 .8l.5-1l.5 .9l.5-1.2l.5 1.5l.5-.7l.5 .8l.5-.9l.5 .5l.5-.4l.5 .4l.5-.9l.5 .9l.5-.7l.5 .8l.5-.4l.5 .5l.5-.5l.5 .4l.5-.6l.5 .4l.5-.6l.5 .6l.5-.4l.5 .7l.5-.7l.5 .3l.5-.2l.5 .1l.5-.2l.5 .4l.5-.3l.5 .1l.5-.2l.5 .3l.5-.4l.5 .3l.5-.4l.5 .3l.5-.2l.5 .3l.5-.2l.5 .3l.5-.2l.5 .2l.5-.3l.5 .4l.5-.4l.5 .4l.5-.5l.5 .7l.5-.6l.5 .5l.5-.5l.5 .5l.5-.8l.5 .7l.5-.6l.5 .6l.5-.3l.5 .6l.5-.9l.5 .7l.5-.5l.5 .3l.5-.4l.5 .5l.5-.5l.5 .9l.5-.7l.5 .3l.5-.4l.5 .2l.5-.2l.5 .4l.5-.4l.5 .3l.5-.2l.5 .3l.5-.3l.5 .6l.5-1l.5 .7l.5-.5l.5 .3l.5-.5l.5 .5l.5-.3l.5 .4l.5-.5l.5 .6l.5-.5l.5 .5l.5-.3l.5 .6l.5-.7l.5 .4l.5-.6l.5 .5l.5-.5l.5 .4l.5-.5l.5 .4l.5-.5l.5 .5l.5-.3l.5 .5l.5-.3l.5 .5l.5-.7l.5 .8l.5-.6l.5 .3l.5-.2l.5 .3l.5-.5l.5 .4l.5-1l.5 .9l.5-.6l.5 .6l.5-.3l.5 .6l.5-.8l.5 .7l.5-.4l.5 .4l.5-.4l.5 .5l.5-.3l.5 .2l.5-.6l.5 .5l.5-.3l.5 .2l.5-.3l.5 .2l.5-.2l.5 .4l.5-.2l.5 .2l.5-.2l.5 .2l.5-.2l.5 .2l.5-.1l.5 .2l.5-.4l.5 .4l.5-.2l.5 .3l.5-.4l.5 .2l.5-.3l.5 .3l.5-.4l.5 .3l.5-.2l.5 .3l.5-.3l.5 .3l.5-.3l.5 .3l.5-.5l.5 .6l.5-.5l.5 .5l.5-.6l.5 .6l.5-.7l.5 .4l.5-.1l.5 .5l.5-.5l.5 .4l.5-.4l.5 .5l.5-.4l.5 .2l.5-.4l.5 .7l.5-.4l.5 .5l.5-.4l.5 .3l.5-.4l.5 .4l.5-.5l.5 .3l.5-.4l.5 .3l.5-.4l.5 .4l.5-.3l.5 .3l.5-.2l.5 .2l.5-.2l.5 .2l.5-.2l.5 .4l.5-.8l.5 .7l.5-.4l.5 .5l.5-.3l.5 .3l.5-.3l.5 .2l.5-.4l.5 .4l.5-.4l.5 .3l.5-.1l.5 .3l.5-.3l.5 .3l.5-.8l.5 .7l.5-.4l.5 .2l.5-.5l.5 .2l.5-.1l.5 .2l.5-.2l.5 .4l.5-.1l.5 .2l.5-.1l.5 .1l.5-.2l.5 .2l.5-.4l.5 .3l.5-.2l.5 .3l.5-.4l.5 .4l.5-.2l.5 .3l.5-.2l.5 .4l.5-.3l.5 .2l.5-.1l.5 .3l.5-.3l.5 .5l.5-.6l.5 .2l.5-.4l.5 .5l.5-.6l.5 .7l.5-.8l.5 .7l.5-.3l.5 .3l.5-.4l.5 .5l.5-.5l.5 .9l.5-.7l.5 .2l.5-.6l.5 .4l.5-.5l.5 .5l.5-.4l.5 .5l.5-.5l.5 .7l.5-.9l.5 .5l.5-.5l.5 .6l.5-.2l.5 .3l.5-.7l.5 1l.5-.9l.5 1l.5-.8l.5 .4l.5-.6l.5 .5l.5-.5l.5 .6l.5-.7l.5 .6l.5-.3l.5 .4l.5-.4l.5 .5l.5-1l.5 .9l.5-.8l.5 .8l.5-.7l.5 .7l.5-.8l.5 .8l.5-.8l.5 .6l.5-.4l.5 .3l.5-.5l.5 .8l.5-.5l.5 .7l.5-.6l.5 .4l.5-.6l.5 .6l.5-.9l.5 1l.5-.7l.5 1.1l.5-1l.5 .5l.5-.5l.5 .4l.5-.4l.5 .5l.5-.4l.5 .5l.5-.5l.5 .5l.5-.5l.5 .5l.5-.5l.5 .5l.5-.6l.5 .4l.5-.4l.5 .6l.5-.7l.5 .5l.5-.7l.5 .6l.5-.7l.5 .6l.5-.5l.5 .8l.5-.8l.5 .7l.5-.5l.5 .4l.5-.4l.5 .6l.5-.4l.5 .5l.5-.4l.5 .4l.5-1l.5 1l.5-.4l.5 .7l.5-.9l.5 .6l.5-.8l.5 .7l.5-1l.5 .9l.5-.6l.5 .6l.5-.9l.5 .7l.5-.7l.5 .7l.5-.5l.5 .5l.5-.4l.5 .9l.5-.8l.5 .3l.5-.3l.5 .5l.5-.8l.5 .6l.5-.5l.5 .7l.5-.3l.5 .5l.5-.3l.5 .3l.5-.4l.5 .3l.5-.6l.5 .6l.5-.7l.5 .4l.5-.3l.5 .4l.5-.8l.5 .7l.5-.6l.5 .8l.5-.7l.5 .6l.5-.8l.5 .7l.5-.5l.5 .7l.5-.6l.5 .9l.5-.7l.5 .6l.5-.3l.5 .3l.5-.4l.5 .6l.5-.5l.5 .3l.5-.4l.5 .6l.5-.7l.5 .2l.5-.4l.5 .7l.5-.8l.5 .4l.5-.7l.5 1.1l.5-.9l.5 .6l.5-.7l.5 .9l.5-1l.5 1.2l.5-.5l.5 .5l.5-.8l.5 .6l.5-.7l.5 .6l.5-.5l.5 .7l.5-.5l.5 .3l.5-.6l.5 1.4l.5-1.2l.5 .7l.5-1.1l.5 1l.5-.6l.5 .5l.5-.5l.5 .7l.5-.9l.5 .8l.5-1l.5 .8l.5-.8l.5 .8l.5-1l.5 .8l.5-.7l.5 .9l.5-.7l.5 .7l.5-.4l.5 .8l.5-.7l.5 .4l.5-.5l.5 .6l.5-.6l.5 .3l.5-.4l.5 .3l.5-.3l.5 .3l.5-.3l.5 .5l.5-.6l.5 .5l.5-.3l.5 .5l.5-.5l.5 .6l.5-.6l.5 .5l.5-.4l.5 .5l.5-.4l.5 .4l.5-.6l.5 .4l.5-.4l.5 .4l.5-.4l.5 .3l.5-.3l.5 .4l.5-.4l.5 .6l.5-.6l.5 .5l.5-.4l.5 .5l.5-.6l.5 .4l.5-.4l.5 .4l.5-.3l.5 .7l.5-.7l.5 .5l.5-.4l.5 .3l.5-.6l.5 .4l.5-.5l.5 .3l.5-.5l.5 .7l.5-.3l.5 .5l.5-.7l.5 .6l.5-.8l.5 .7l.5-.4l.5 .3l.5-.5l.5 .6l.5-.3l.5 .3l.5-.2l.5 .2l.5-.5l.5 .5l.5-.5l.5 .7l.5-.5l.5 .2l.5-.2l.5 .3l.5-.3l.5 .4l.5-.4l.5 .4l.5-.4l.5 .2l.5-.5l.5 .5l.5-.6l.5 .6l.5-.2l.5 .4l.5-.3l.5 .4l.5-.4l.5 .4l.5-.3l.5 .1l.5-.3l.5 .5l.5-.6l.5 .8l.5-.5l.5 .2l.5-.3l.5 .5l.5-.5l.5 .3l.5-.3l.5 .5l.5-.5l.5 .8l.5-.8l.5 .4l.5-.4l.5 .3l.5-.4l.5 .4l.5-.3l.5 .3l.5-.2l.5 .3l.5-.3l.5 .3l.5-.4l.5 .6l.5-.4l.5 .4l.5-.5l.5 .3l.5-.6l.5 .5l.5-.3l.5 .5l.5-.9l.5 .7l.5-.2l.5 .5l.5-.6l.5 .7l.5-.7l.5 .3l.5-.2l.5 .4l.5-.6l.5 .2l.5-.4l.5 .6l.5-1l.5 1.1l.5-.4l.5 .3l.5-.4l.5 .6l.5-.7l.5 1.1l.5-1.3l.5 .8l.5-.4l.5 .2l.5-.4l.5 .5l.5-.9l.5 .9l.5-.7l.5 .7l.5-.5l.5 .8l.5-.7l.5 .7l.5-.8l.5 .6l.5-.6l.5 .6l.5-.5l.5 .7l.5-.6l.5 .5l.5-.7l.5 .7l.5-.8l.5 .4l.5-.8l.5 .9l.5-.6l.5 .7l.5-.4l.5 .6l.5-1.2l.5 1l.5-.4l.5 .3l.5-.3l.5 .6l.5-.7l.5 .4l.5-.5l.5 .6l.5-.4l.5 .3l.5-.2l.5 .3l.5-.2l.5 .4l.5-.8l.5 .6l.5-.6l.5 .6l.5-.5l.5 .4l.5-.5l.5 .5l.5-.3l.5 .7l.5-.6l.5 .5l.5-.7l.5 .6l.5-.6l.5 .5l.5-.3l.5 .5l.5-.5l.5 .2l.5-.3l.5 .4l.5-.4l.5 .9l.5-1l.5 .3l.5-.2l.5 .5l.5-.4l.5 .3l.5-.5l.5 .5l.5-.5l.5 .5l.5-.4l.5 .5l.5-1l.5 .9l.5-.5l.5 .6l.5-.6l.5 .7l.5-.7l.5 .8l.5-.8l.5 .9l.5-1l.5 .7l.5-.5l.5 .4l.5-.6l.5 .6l.5-.4l.5 .6l.5-.6l.5 .6l.5-.8l.5 .9l.5-.9l.5 .7l.5-.4l.5 .5l.5-.5l.5 .3l.5-.3l.5 .1l.5-.3l.5 .3l.5-.7l.5 .7l.5-.3l.5 .5l.5-.6l.5 1l.5-.7l.5 .6l.5-.5l.5 .3l.5-.8l.5 .6l.5-.3l.5 .4l.5-.6l.5 .8l.5-.6l.5 .4l.5-.4l.5 .4l.5-.6l.5 .3l.5-.4l.5 .2l.5-.3l.5 .4l.5-.4l.5 .3l.5-.2l.5 .4l.5-.4l.5 .3l.5-.1l.5 .3l.5-.3l.5 .3l.5-.2l.5 .3l.5-.2l.5 .3l.5-.2l.5 .1l.5-.2l.5 .3l.5-.5l.5 .4l.5-.5l.5 .4l.5-.2l.5 .1l.5-.1l.5 .1l.5-.1l.5 .2l.5-.5l.5 .5l.5-.2l.5 .5l.5-.5l.5 .2l.5-.3l.5 .5l.5-.3l.5 .1l.5-.2l.5 .2l.5-.2l.5 .4l.5-.3l.5 .4l.5-.3l.5 .2l.5-.5l.5 .5l.5-.2l.5 .2l.5-.2l.5 .1l.5-.3l.5 .4l.5-.3l.5 .4l.5-.8l.5 .9l.5-.4l.5 .3l.5-.4l.5 .4l.5-.5l.5 .5l.5-.6l.5 .6l.5-.6l.5 .5l.5-.9l.5 .5l.5-.2l.5 .3l.5-.4l.5 .8l.5-.8l.5 .5l.5-.8l.5 1.8l.5-3l.5 2.5l.5-1.6l.5 1.6l.5-1.6l.5 1.6l.5-2.2l.5 2.8l.5-2.6l.5 2.7l.5-2.5l.5 3.4l.5-3.4l.5 2.3l.5-2.1l.5 2.4l.5-1.6l.5 1l.5-1.2l.5 1.3l.5-1.6l.5 1.4l.5-1.7l.5 1.7l.5-1.7l.5 3.1l.5-3.4l.5 2.6l.5-3.5l.5 3.4l.5-4.6l.5 6.6l.5-8.4l.5 8.5l.5-8.9l.5 13.2l.5-16.6l.5 11.9l.5-15.8l.5 25.5l.5-17l.5 7.5l.5-8.1l.5 7.9l.5-4.7l.5 6.9l.5-6.5l.5 3.5l.5-3.4l.5 3.5l.5-3.9l.5 4.3l.5-7.2l.5 7.6l.5-6.3l.5 7.9l.5-7.4l.5 6.5l.5-10l.5 9.7l.5-8.2l.5 7.5l.5-12.3l.5 14.9l.5-13.6l.5 17.4l.5-16.5l.5 12.8l.5-15.3l.5 20.3l.5-14.2l.5 8.7l.5-10.7l.5 8.5l.5-5.6l.5 7.8l.5-6.9l.5 5l.5-9.7l.5 8.2l.5-2.7l.5 3l.5-5.2l.5 6.2l.5-5.6l.5 4.6l.5-6.6l.5 7.1l.5-10.1l.5 9.8l.5-7.9l.5 8.5l.5-5.5l.5 6.9l.5-6.9l.5 7.5l.5-6.3l.5 8.7l.5-10.7l.5 10.4l.5-9.2l.5 10.4l.5-9.1l.5 3.8l.5-5.3l.5 6.4l.5-7.4l.5 7l.5-7.5l.5 5.6l.5-4.7l.5 4.2l.5-2l.5 2.2l.5-2.2l.5 2.3l.5-2l.5 2.9l.5-5.6l.5 5.5l.5-6.4l.5 6.9l.5-4.9l.5 6l.5-7.5l.5 9.1l.5-7.4l.5 7.4l.5-7.8l.5 6l.5-7l.5 6.1l.5-7.4l.5 6.6l.5-6.5l.5 8.4l.5-8.3l.5 7.1l.5-5.3l.5 4.5l.5-2.7l.5 3.3l.5-3.4l.5 2.3l.5-4.3l.5 4.3l.5-1.8l.5 2.8l.5-3.3l.5 2.5l.5-2.1l.5 3l.5-3.5l.5 2.7l.5-2.8l.5 4.7l.5-4.8l.5 5.7l.5-7.1l.5 7.1l.5-8.5l.5 6.7l.5-4.8l.5 4.8l.5-4.3l.5 4.3l.5-6.4l.5 7.1l.5-7l.5 7.8l.5-5.6l.5 4.2l.5-4.4l.5 6.6l.5-7.8l.5 6.2l.5-4.4l.5 2.8l.5-5.8l.5 7l.5-6.5l.5 6.8l.5-5.8l.5 6.5l.5-5.6l.5 4.8l.5-5.1l.5 7.7l.5-8.8l.5 5.8l.5-5.4l.5 5.3l.5-5.5l.5 6.7l.5-4.9l.5 4l.5-4.1l.5 2.9l.5-2.7l.5 3.5l.5-8.2l.5 7.4l.5-3.4l.5 3.5l.5-3.4l.5 4.2l.5-4.7l.5 10.8l.5-12.1l.5 9l.5-10.8l.5 10.3l.5-6.9l.5 4l.5-6.2l.5 6.9l.5-4.8l.5 13.5l.5-14.5l.5 15.5l.5-16.8l.5 14.2l.5-13.5l.5 11.1l.5-14.8l.5 13.4l.5-9.2l.5 9.4l.5-9.6l.5 8.6l.5-8.5l.5 5.1l.5-4.8l.5 7.1l.5-10.1l.5 8.7l.5-6.7l.5 7.4l.5-5.5l.5 6.9l.5-6.3l.5 5l.5-6.7l.5 4.6l.5-4.4l.5 6.7l.5-6.3l.5 5.3l.5-4.8l.5 6l.5-8.1l.5 7.4l.5-7.5l.5 7.8l.5-8.6l.5 10.2l.5-12l.5 11.2l.5-15.6l.5 19.3l.5-24.9l.5 28l.5-21.6l.5 27.1l.5-19.1l.5 12.8l.5-46.2l.5 75l.5-46.7l.5 13.5l.5-12.6l.5 13.7l.5-13.2l.5 13.5l.5-18.3l.5 14.4l.5-33.3l.5 64l.5-40.8l.5 11.7l.5-12.6l.5 12.2l.5-8.5l.5 10.9l.5-29.9l.5 37l.5-23.5l.5 16.9l.5-17.5l.5 25.7l.5-43.6l.5 56l.5-35.7l.5 16l.5-19l.5 20.4l.5-19l.5 16.2l.5-9.1l.5 9.5l.5-15.5l.5 17l.5-11l.5 6.4l.5-23.2l.5 30l.5-15.5l.5 10.7l.5-10.6l.5 13.9l.5-17.5l.5 12.3l.5-8.9l.5 11.2l.5-9.8l.5 8l.5-10.5l.5 20.8l.5-23.1l.5 23.5l.5-24.2l.5 19.6l.5-20.2l.5 17l.5-17.3l.5 15.1l.5-13l.5 16.3l.5-12.9l.5 10.8l.5-11.3l.5 9.8l.5-27.2l.5 40l.5-31.6l.5 18l.5-9.4l.5 10l.5-25l.5 40l.5-31.2l.5 21.4l.5-22.9l.5 25.4l.5-20.9l.5 15.7l.5-15.2l.5 18.9l.5-20.2l.5 13l.5-5.6l.5 6.2l.5-7.1l.5 7.2l.5-7.9l.5 6.2l.5-5.9l.5 6.1l.5-6l.5 7.5l.5-7.3l.5 10.7l.5-12.8l.5 12.4l.5-15.2l.5 17.8l.5-17l.5 17.7l.5-19.7l.5 19.5l.5-19.2l.5 19.4l.5-23.5l.5 19.5l.5-12l.5 15.8l.5-19.1l.5 14.4l.5-14l.5 13.9l.5-13.3l.5 11.1l.5-7.5l.5 7.8l.5-7.6l.5 8.1l.5-6.9l.5 7l.5-7.7l.5 10.2l.5-9.7l.5 12.1l.5-15.2l.5 10.1l.5-14.7l.5 16.2l.5-11l.5 9.9l.5-12.5l.5 14.3l.5-12.4l.5 14.1l.5-18l.5 18.7l.5-16.8l.5 17.2l.5-13.6l.5 12.3l.5-12.4l.5 8.9l.5-9l.5 13.1l.5-15.2l.5 13.1l.5-13.2l.5 12.1l.5-10.8l.5 8.1l.5-9.9l.5 11.2l.5-12.5l.5 16l.5-12.2l.5 7.2l.5-6.6l.5 6l.5-11.1l.5 20.5l.5-15.3l.5 11.1l.5-10.7l.5 5.8l.5-6.7l.5 6.5l.5-4.4l.5 3.7l.5-5.4l.5 8.4l.5-8.4l.5 10l.5-9.5l.5 6.2l.5-7l.5 8.5l.5-6.5l.5 4.3l.5-6.1l.5 5.4l.5-4.2l.5 7.5l.5-8.1l.5 5.3l.5-4.3l.5 8.8l.5-9.2l.5 8.3l.5-7.8l.5 4.7l.5-3.7l.5 3.3l.5-3.7l.5 3.7l.5-3.7l.5 5.6l.5-6.5l.5 6.8l.5-11.7l.5 12.5l.5-8.1l.5 4.5l.5-3.2l.5 3.8l.5-4.1l.5 4l.5-3.9l.5 4.8l.5-5.7l.5 4.2l.5-2.5l.5 3.3l.5-3.5l.5 3.3l.5-4.7l.5 4.1l.5-3.1l.5 4.3l.5-5.8l.5 6.2l.5-5l.5 7.4l.5-10.4l.5 7.4l.5-5.6l.5 6.7l.5-5.1l.5 5.8l.5-5.8l.5 3.7l.5-4.1l.5 3.5l.5-3.4l.5 4.5l.5-4.4l.5 3.4l.5-3l.5 3.9l.5-4.7l.5 5.5l.5-5.4l.5 5.1l.5-7.7l.5 7l.5-5.9l.5 5.5l.5-4.8l.5 6l.5-7.9l.5 9.8l.5-8.1l.5 6.3l.5-6.4l.5 5.3l.5-3.7l.5 4.1l.5-3.4l.5 4.5l.5-5.9l.5 5.3l.5-5.4l.5 5.4l.5-7.2l.5 7.5l.5-5.8l.5 3.9l.5-2.3l.5 2.4l.5-3.3l.5 4l.5-4.9l.5 5.1l.5-4.2l.5 3.2l.5-2.1l.5 2.4l.5-3.3l.5 4.9l.5-5.4l.5 3.2l.5-3.2l.5 4.1l.5-3.1l.5 3l.5-4.9l.5 6l.5-7.3l.5 8.5l.5-8.5l.5 7l.5-6.7l.5 5.5l.5-5.7l.5 8.4l.5-8.7l.5 7l.5-4.1l.5 4.7l.5-4.4l.5 4.5l.5-7.4l.5 7.4l.5-5.2l.5 4.7l.5-4.8l.5 5.2l.5-4.9l.5 3.5l.5-4.4l.5 5.1l.5-3.4l.5 3.1l.5-4.5l.5 5.8l.5-5.1l.5 3.4l.5-3.7l.5 4.6l.5-3.6l.5 4.2l.5-4.8l.5 2.9l.5-2.7l.5 3.6l.5-4.1l.5 4.8l.5-3.9l.5 2.3l.5-2.2l.5 2.1l.5-1.9l.5 1.6l.5-1.9l.5 2.2l.5-1.8l.5 1.5l.5-2.1l.5 2.9l.5-3.1l.5 3l.5-3.3l.5 2.4l.5-2l.5 2.2l.5-2.3l.5 2.5l.5-2.5l.5 2.3l.5-2.1l.5 3.8l.5-3.6l.5 2.5l.5-1.9l.5 1.1l.5-1.3l.5 1.1l.5-1.5l.5 1.7l.5-1.6l.5 2.3l.5-3.1l.5 3.2l.5-2.5l.5 2l.5-1.6l.5 1.5l.5-3.4l.5 3.6l.5-3.1l.5 4.4l.5-3.2l.5 3.5l.5-3.7l.5 3.6l.5-5.4l.5 4.9l.5-3.4l.5 4.7l.5-4.4l.5 1.8l.5-2.7l.5 2.6l.5-3.9l.5 5.9l.5-3.9l.5 2.6l.5-2.5l.5 2.8l.5-4.1l.5 5.4l.5-4.2l.5 3.3l.5-3.7l.5 3.9l.5-4.2l.5 3.1l.5-3.1l.5 2.6l.5-3.4l.5 4.1l.5-2.2l.5 3l.5-2.7l.5 2.2l.5-3l.5 3.2l.5-3.2l.5 2.4l.5-2l.5 2.6l.5-2.5l.5 1.4l.5-2l.5 2.6l.5-1.5l.5 2.4l.5-2.6l.5 1.7l.5-2.1l.5 2.9l.5-2.3l.5 1.7l.5-2.6l.5 1.9l.5-2.8l.5 3l.5-2.2l.5 2.6l.5-2.3l.5 1.9l.5-1.4l.5 1.3l.5-1.6l.5 1.8l.5-1.3l.5 1.9l.5-2.2l.5 2.3l.5-2.2l.5 1.6l.5-1.8l.5 1.4l.5-1.5l.5 1.7l.5-1.5l.5 1.4l.5-1.6l.5 1.9l.5-2.3l.5 2.7l.5-2.7l.5 2.5l.5-2.3l.5 2.7l.5-2.8l.5 3.6l.5-3.6l.5 2.9l.5-3.1l.5 2.8l.5-3.8l.5 3.7l.5-2.1l.5 2.4l.5-2.6l.5 2.4l.5-3l.5 4l.5-3.7l.5 2.3l.5-3.8l.5 3.7l.5-2.4l.5 2.3l.5-1.6l.5 2.3l.5-2.1l.5 1.4l.5-1.6l.5 1.5l.5-3.1l.5 3.9l.5-2.6l.5 3l.5-3.9l.5 2.6l.5-1.5l.5 2.1l.5-2.9l.5 3.4l.5-4l.5 4.1l.5-4.2l.5 4.7l.5-4.7l.5 3.9l.5-2.4l.5 2.3l.5-1.6l.5 1.7l.5-2l.5 2l.5-1.9l.5 1.2l.5-1.3l.5 .9l.5-.9l.5 1.9l.5-1.9l.5 1.2l.5-.9l.5 1.1l.5-1.7l.5 2l.5-1.9l.5 1.4l.5-1.3l.5 1.7l.5-1.4l.5 1l.5-1.9l.5 1.6l.5-1.1l.5 1.4l.5-1.2l.5 1.7l.5-2.1l.5 1.9l.5-2l.5 2.7l.5-3.5l.5 2.8l.5-3.2l.5 3.2l.5-3.3l.5 4.1l.5-4.1l.5 4l.5-3.1l.5 3.1l.5-3.6l.5 3.3l.5-3.4l.5 3.6l.5-2.2l.5 2.5l.5-2.6l.5 2.6l.5-2.5l.5 .9l.5-.8l.5 1.4l.5-1.3l.5 1.1l.5-1.3l.5 1.6l.5-1.4l.5 1.3l.5-1.1l.5 1.5l.5-2.5l.5 1.9l.5-1l.5 1.5l.5-1.9l.5 1l.5-.7l.5 .9l.5-1.4l.5 1.5l.5-1l.5 2l.5-1.9l.5 .9l.5-1.2l.5 1.3l.5-1.1l.5 1.4l.5-1.4l.5 2l.5-2.8l.5 1.9l.5-2.4l.5 2.2l.5-.9l.5 .9l.5-1.1l.5 1.2l.5-1.1l.5 .8l.5-.9l.5 2.1l.5-2l.5 1.1l.5-1.6l.5 1.4l.5-.8l.5 1.4l.5-1.6l.5 1.3l.5-1l.5 .9l.5-.9l.5 1.2l.5-1.5l.5 1.3l.5-1.3l.5 1.7l.5-1.6l.5 1.3l.5-1.2l.5 .9l.5-1.8l.5 1.8l.5-1.3l.5 1.5l.5-1.7l.5 1.5l.5-1.7l.5 1.6l.5-1.4l.5 1.4l.5-.9l.5 1.1l.5-1.3l.5 1.6l.5-1.5l.5 1.1l.5-.8l.5 1.1l.5-1.6l.5 1.6l.5-1.1l.5 1.5l.5-1.7l.5 1.1l.5-1l.5 .8l.5-.8l.5 .6l.5-.7l.5 .9l.5-1.5l.5 1.4l.5-.8l.5 .6l.5-.7l.5 .9l.5-.8l.5 1.3l.5-1.2l.5 .6l.5-.8l.5 .8l.5-.8l.5 .7l.5-.6l.5 .7l.5-.7l.5 .8l.5-.5l.5 .4l.5-.6l.5 .6l.5-.7l.5 .6l.5-.5l.5 .5l.5-.5l.5 .6l.5-.5l.5 .5l.5-.5l.5 .7l.5-.7l.5 .4l.5-.6l.5 .5l.5-.4l.5 .4l.5-.3l.5 .5l.5-.8l.5 .6l.5-.4l.5 .5l.5-.2l.5 .3l.5-.3l.5 .4l.5-.3l.5 .2l.5-.4l.5 .5l.5-.6l.5 .4l.5-.4l.5 .3l.5-.1l.5 .2l.5-.4l.5 .4l.5-.3l.5 .2l.5-.4l.5 .5l.5-.3l.5 .3l.5-.1l.5 .1l.5-.1l.5 .1l.5-.1l.5 .2l.5-.3l.5 .3l.5-.2l.5 .2l.5-.3l.5 .3l.5-.2l.5 .3l.5-.3l.5 .2l.5-.2l.5 .2l.5-.4l.5 .3l.5-.5l.5 .6l.5-.4l.5 .4l.5-.3l.5 .1l.5-.2l.5 .3l.5-.5l.5 .6l.5-.5l.5 .5l.5-.4l.5 .2l.5-.2l.5 .3l.5-.2l.5 .1l.5-.1l.5 .5l.5-.4l.5 .2l.5-.1l.5 .3l.5-.4l.5 .2l.5-.2l.5 .1l.5-.2l.5 .2l.5-.1l.5 .1l.5-.1l.5 .4l.5-.7l.5 .5l.5-.6l.5 .4l.5-.1l.5 .1l.5-.1l.5 .3l.5-.3l.5 .3l.5-.3l.5 .3l.5-.3l.5 .2l.5-.2l.5 .2l.5-.1l.5 .2l.5-.2l.5 .1l.5-.2l.5 .3l.5-.3l.5 .3l.5-.2l.5 .2l.5-.4l.5 .5l.5-.4l.5 .2l.5-.1l.5 .1l.5-.3l.5 .3l.5-.2l.5 .3l.5-.3l.5 .2l.5-.2l.5 .2l.5-.4l.5 .4l.5-.1l.5 .3l.5-.3l.5 .2l.5-.3l.5 .3l.5-.3l.5 .3l.5-.4l.5 .6l.5-.5l.5 .1l.5-.2l.5 .2l.5-.3l.5 .4l.5-.3l.5 .3l.5-.1l.5 .4l.5-.5l.5 .5l.5-.4l.5 .3l.5-.5l.5 .5l.5-.5l.5 .3l.5-.4l.5 .4l.5-.2l.5 .3l.5-.3l.5 .3l.5-.3l.5 .3l.5-.4l.5 .3l.5-.2l.5 .3l.5-.3l.5 .5l.5-.5l.5 .3l.5-.2l.5 .3l.5-.3l.5 .2l.5-.2l.5 .2l.5-.3l.5 .5l.5-.6l.5 .4l.5-.4l.5 .6l.5-.5l.5 .4l.5-.4l.5 .2l.5-.3l.5 .3l.5-.3l.5 .4l.5-.4l.5 .3l.5-.2l.5 .2l.5-.2l.5 .4l.5-.4l.5 .3l.5-.3l.5 .2l.5-.3l.5 .5l.5-.7l.5 .8l.5-.4l.5 .1l.5-.1l.5 .3l.5-.3l.5 .3l.5-.4l.5 .2l.5-.2l.5 .2l.5-.1l.5 .2l.5-.2l.5 .3l.5-.2l.5 .2l.5-.3l.5 .1l.5-.1l.5 .2l.5-.3l.5 .4l.5-.3l.5 .3l.5-.4l.5 .2l.5-.2l.5 .1l.5 0l.5 .1l.5-.2l.5 .2l.5-.2l.5 .1l.5-.1l.5 .2l.5-.2l.5 .2l.5-.2l.5 .2l.5-.2l.5 .1l.5-.1l.5 .1l.5-.1l.5 .2l.5-.2l.5 .2l.5-.2l.5 .2l.5-.3l.5 .2l.5-.1l.5 .1l.5-.3l.5 .3l.5-.1l.5 .2l.5-.3l.5 .3l.5-.2l.5 .2l.5-.3l.5 .3l.5-.4l.5 .4l.5-.2l.5 .2l.5-.2l.5 .2l.5-.2l.5 .2l.5-.2l.5 .2l.5-.2l.5 .2l.5-.2l.5 .1l.5-.1l.5 .3l.5-.3l.5 .2l.5-.2l.5 .2l.5-.1l.5 .1l.5-.2l.5 .2l.5-.2l.5 .2l.5-.3l.5 .3l.5-.4l.5 .3l.5-.1l.5 .1l.5-.1l.5 .2l.5-.2l.5 .3l.5-.2l.5 .2l.5-.1l.5 .2l.5-.3l.5 .2l.5-.2l.5 .2l.5-.3l.5 .2l.5-.4l.5 .3l.5-.2l.5 .2l.5-.1l.5 .2l.5-.3l.5 .3l.5-.4l.5 .4l.5-.3l.5 .3l.5-.3l.5 .4l.5-.4l.5 .3l.5-.1l.5 .1l.5-.2l.5 .3l.5-.2l.5 .1l.5-.2l.5 .3l.5-.3l.5 .2l.5-.2l.5 0l.5-.2l.5 .3l.5-.2l.5 .3l.5-.2l.5 .2l.5-.2l.5 .2l.5-.2l.5 .2l.5-.2l.5 .2l.5-.2l.5 .2l.5-.2l.5 .2l.5-.2l.5 .2l.5-.1l.5 .2l.5-.3l.5 .3l.5-.2l.5 .1l.5 0l.5 .1l.5-.2l.5 .2l.5-.3l.5 .3l.5-.3l.5 .3l.5-.3l.5 .2l.5-.1l.5 .1l.5-.2l.5 .1l.5-.1l.5 .1l.5-.1l.5 .2l.5-.2l.5 .2l.5-.1l.5 .2l.5-.3l.5 .2l.5-.3l.5 .2l.5-.1l.5 .1l.5-.1l.5 .2l.5-.2l.5 .1l.5-.3l.5 .3l.5-.2l.5 .2l.5-.2l.5 .2l.5-.2l.5 .2l.5-.2l.5 .2l.5-.1l.5 .2l.5-.3l.5 .4l.5-.2l.5 .1l.5-.2l.5 .2l.5-.2l.5 .3l.5-.3l.5 .3l.5-.3l.5 .2l.5-.3l.5 .3l.5-.3l.5 .3l.5-.2l.5 .5l.5-.6l.5 .3l.5-.3l.5 .3l.5-.4l.5 .5l.5-.4l.5 .4l.5-.3l.5 .2l.5-.2l.5 .3l.5-.3l.5 .4l.5-.4l.5 .2l.5-.3l.5 .2l.5-.2l.5 .2l.5-.3l.5 .3l.5-.3l.5 .2l.5-.2l.5 .4l.5-.2l.5 .2l.5-.1l.5 .2l.5-.2l.5 .2l.5-.2l.5 .2l.5-.3l.5 .2l.5-.2l.5 .2l.5-.3l.5 .3l.5-.3l.5 .4l.5-.3l.5 .2l.5-.2l.5 .3l.5-.2l.5 .1l.5-.2l.5 .2l.5-.2l.5 .1l.5-.1l.5 .2l.5-.1l.5 .1l.5-.2l.5 .3l.5-.3l.5 .2l.5-.1l.5 .2l.5-.2l.5 .1l.5-.1l.5 .2l.5-.2l.5 .2l.5-.2l.5 .2l.5-.2l.5 .2l.5-.3l.5 .1l.5-.1l.5 .1l.5-.1l.5 .1l.5-.1l.5 .2l.5-.1l.5 .2l.5-.2l.5 .2l.5-.3l.5 .2l.5-.2l.5 .3l.5-.3l.5 .2l.5-.2l.5 .3l.5-.3l.5 .3l.5-.1l.5 .2l.5-.2l.5 .1l.5-.2l.5 .3l.5-.5l.5 .3l.5-.3l.5 .4l.5-.3l.5 .1l.5-.1l.5 .1l.5-.1l.5 .2l.5-.2l.5 .2l.5-.2l.5 .2l.5-.2l.5 .2l.5-.2l.5 .2l.5-.2l.5 .1l.5-.2l.5 .4l.5-.3l.5 .2l.5-.2l.5 .1l.5-.2l.5 .2l.5-.1l.5 .2l.5-.3l.5 .3l.5-.2l.5 .3l.5-.2l.5 .1l.5-.1l.5 .1l.5-.2l.5 .2l.5-.3l.5 .3l.5-.3l.5 .4l.5-.3l.5 .2l.5-.5l.5 .5l.5-.3l.5 .3l.5-.3l.5 .6l.5-.5l.5 .2l.5-.4l.5 .4l.5-.2l.5 .3l.5-.2l.5 .2l.5-.2l.5 .2l.5-.3l.5 .3l.5-.2l.5 .4l.5-.5l.5 .4l.5-.4l.5 .3l.5-.5l.5 .5l.5-.4l.5 .3l.5-.3l.5 .3l.5-.1l.5 .3l.5-.4l.5 .3l.5-.4l.5 .4l.5-.4l.5 .5l.5-.5l.5 .3l.5-.2l.5 .3l.5-.4l.5 .4l.5-.3l.5 .2l.5-.3l.5 .3l.5-.2l.5 .2l.5-.1l.5 .2l.5-.3l.5 .3l.5-.3l.5 .3l.5-.3l.5 .2l.5-.2l.5 .2l.5-.2l.5 .2l.5-.1l.5 .2l.5-.3l.5 .3l.5-.3l.5 .2l.5-.2l.5 .2l.5-.3l.5 .2l.5-.2l.5 .3l.5-.2l.5 .2l.5-.2l.5 .2l.5-.2l.5 .2l.5-.1l.5 .1l.5-.1l.5 .1l.5-.2l.5 .4l.5-1.2l.5 2.1l.5-2.4l.5 2.3l.5-1.8l.5 1l.5-.4l.5 .4l.5-.5l.5 .6l.5-1.1l.5 2.2l.5-3.3l.5 3.1l.5-2.3l.5 1.5l.5-.6l.5 .4l.5-.5l.5 .6l.5-1.1l.5 1.9l.5-2.8l.5 3.1l.5-2.5l.5 1.2l.5-.3l.5 .3l.5-.4l.5 .6l.5-1l.5 1.8l.5-3.1l.5 3l.5-1.8l.5 1.2l.5-.5l.5 .2l.5-.4l.5 .9l.5-1.8l.5 2.5l.5-2.2l.5 1l.5-.3l.5 .1l.5-.2l.5 .4l.5-.5l.5 .3l.5-.2l.5 .2l.5-.1l.5 .2l.5-.2l.5 .2l.5-.2l.5 .2l.5-.2l.5 .3l.5-.2l.5 .1l.5-.3l.5 .2l.5-.1l.5 .1l.5-.1l.5 .2l.5-.1l.5 .2l.5-.2l.5 .1l.5-.3l.5 .1l.5-.1l.5 .3l.5-.2l.5 .2l.5-.2l.5 .1l.5-.1l.5 .1l.5-.1l.5 .3l.5-.1l.5 .1l.5-.2l.5 .1l.5-.1l.5 .1l.5-.1l.5 .1l.5-.1l.5 .2l.5-.2l.5 .2l.5-.3l.5 .2l.5-.2l.5 .3l.5-.3l.5 .3l.5-.4l.5 .3l.5-.3l.5 .2l.5-.1l.5 .1l.5-.1l.5 .2l.5-.2l.5 .3l.5-.2l.5 .2l.5-.4l.5 .2l.5-.2l.5 .3l.5-.2l.5 .2l.5-.4l.5 .4l.5-.3l.5 .4l.5-.3l.5 .3l.5-.3l.5 .2l.5-.1l.5 .2l.5-.2l.5 .2l.5-.3l.5 .2l.5-.2l.5 .1l.5-.3l.5 .2l.5-.1l.5 .1l.5-.1l.5 .2l.5-.1l.5 .2l.5-.3l.5 .2l.5-.2l.5 .2l.5-.2l.5 .3l.5-.3l.5 .1l.5 0l.5 .1l.5-.1l.5 .2l.5-.1l.5 .1l.5-.2l.5 .1l.5-.1l.5 .1l.5-.2"/>
<path class="w" stroke="#0000ff" d="M250.5,752.5l.5 .4l.5-.4l.5 .5l.5-.4l.5 .7l.5-.5l.5 .3l.5-.3l.5 .3l.5-.4l.5 .4l.5-.4l.5 .6l.5-.7l.5 .7l.5-.4l.5 .5l.5-.5l.5 .7l.5-.6l.5 .4l.5-.7l.5 .6l.5-.8l.5 .5l.5-.2l.5 .4l.5-.2l.5 .2l.5-.3l.5 .2l.5-.2l.5 .2l.5-.2l.5 .2l.5-.3l.5 .3l.5-.4l.5 .3l.5-.2l.5 .3l.5-.5l.5 .3l.5-.3l.5 .3l.5-.2l.5 .2l.5-.1l.5 .3l.5-.4l.5 .4l.5-.2l.5 .2l.5-.3l.5 .4l.5-.2l.5 .1l.5-.5l.5 .4l.5-.3l.5 .3l.5-.3l.5 .4l.5-.5l.5 .3l.5-.3l.5 .3l.5-.2l.5 .4l.5-.3l.5 .3l.5-.3l.5 .3l.5-.3l.5 .5l.5-.4l.5 .5l.5-.3l.5 .5l.5-.6l.5 .4l.5-.4l.5 .3l.5-.3l.5 .4l.5-.3l.5 .2l.5-.2l.5 .5l.5-.6l.5 .3l.5-.7l.5 .6l.5-.3l.5 .5l.5-.5l.5 .4l.5-.8l.5 .7l.5-.5l.5 .6l.5-.3l.5 .3l.5-.7l.5 .8l.5-.5l.5 .3l.5-.5l.5 .5l.5-.2l.5 .3l.5-.4l.5 .6l.5-.5l.5 .2l.5-.5l.5 .4l.5-.6l.5 .5l.5-.4l.5 .6l.5-.5l.5 .6l.5-.5l.5 .7l.5-.4l.5 .8l.5-.9l.5 .4l.5-.5l.5 .6l.5-.9l.5 .5l.5-.6l.5 .6l.5-.2l.5 .4l.5-.4l.5 .5l.5-.6l.5 .7l.5-1l.5 .6l.5-.4l.5 .7l.5-.7l.5 .7l.5-.9l.5 .8l.5-.9l.5 .8l.5-.5l.5 .6l.5-.7l.5 .6l.5-.4l.5 .4l.5-.4l.5 .5l.5-.6l.5 .3l.5-.5l.5 .7l.5-.4l.5 .4l.5-.3l.5 .5l.5-.2l.5 .6l.5-.6l.5 .3l.5-.6l.5 .3l.5-.5l.5 .5l.5-.6l.5 .6l.5-.7l.5 .4l.5-.2l.5 .6l.5-.6l.5 .8l.5-.7l.5 .5l.5-.4l.5 .6l.5-.8l.5 1l.5-.9l.5 .8l.5-.7l.5 .5l.5-.4l.5 .3l.5-.8l.5 .7l.5-.5l.5 .5l.5-.8l.5 1.1l.5-1.5l.5 1.8l.5-1.1l.5 .7l.5-.3l.5 .4l.5-.5l.5 .8l.5-.9l.5 .4l.5-.5l.5 .3l.5-.4l.5 .4l.5-.3l.5 .4l.5-.5l.5 .6l.5-.4l.5 .5l.5-.7l.5 .5l.5-.3l.5 .4l.5-.5l.5 .5l.5-.6l.5 .9l.5-.8l.5 .5l.5-.4l.5 .6l.5-.6l.5 .6l.5-.6l.5 .6l.5-.5l.5 .5l.5-.5l.5 .6l.5-.8l.5 .7l.5-.8l.5 .9l.5-.6l.5 .7l.5-1.2l.5 .9l.5-.4l.5 .3l.5-.4l.5 .3l.5-.4l.5 .4l.5-.6l.5 .7l.5-.8l.5 .9l.5-.6l.5 .5l.5-.6l.5 .4l.5-.4l.5 .4l.5-.4l.5 .4l.5-.4l.5 .5l.5-.6l.5 .4l.5-.3l.5 .2l.5-.2l.5 .4l.5-.3l.5 .2l.5-.3l.5 .3l.5-.6l.5 .5l.5-.3l.5 .4l.5-.4l.5 .4l.5-.5l.5 .7l.5-.3l.5 .4l.5-.2l.5 .3l.5-3.9l.5 7l.5-3.3l.5 .1l.5-.4l.5 .2l.5-.3l.5 .3l.5-.3l.5 .3l.5-.5l.5 .4l.5-.6l.5 .6l.5-.4l.5 .6l.5-.7l.5 .8l.5-.6l.5 .4l.5-.7l.5 .9l.5-.6l.5 1l.5-1.2l.5 .8l.5-.5l.5 .6l.5-.7l.5 .8l.5-1.1l.5 .9l.5-.9l.5 1.1l.5-1l.5 .6l.5-.6l.5 1.1l.5-1.2l.5 .8l.5-.4l.5 .6l.5-.8l.5 .7l.5-.5l.5 .6l.5-.4l.5 .3l.5-.4l.5 .3l.5-.3l.5 .3l.5-.3l.5 .8l.5-.9l.5 .5l.5-.5l.5 .7l.5-.4l.5 .3l.5-.4l.5 .6l.5-.5l.5 .3l.5-.3l.5 .7l.5-1l.5 .6l.5-.4l.5 .4l.5-.7l.5 .5l.5-.4l.5 .3l.5-.4l.5 .7l.5-.8l.5 .5l.5-.3l.5 .6l.5-.8l.5 .7l.5-.5l.5 .4l.5-.5l.5 .8l.5-.7l.5 .4l.5-.3l.5 .5l.5-.4l.5 .9l.5-.9l.5 .4l.5-.4l.5 .2l.5-.4l.5 .6l.5-.7l.5 .6l.5-.5l.5 .5l.5-.6l.5 .5l.5-.6l.5 .8l.5-.5l.5 .3l.5-.5l.5 .5l.5-1.1l.5 1.2l.5-.5l.5 .5l.5-.4l.5 .5l.5-.6l.5 .6l.5-.5l.5 .3l.5-.4l.5 .5l.5-.8l.5 .8l.5-.5l.5 .7l.5-.7l.5 .5l.5-.6l.5 .5l.5-.5l.5 .7l.5-.4l.5 .8l.5-1.1l.5 .8l.5-.8l.5 .7l.5-.9l.5 1.2l.5-1l.5 .9l.5-.9l.5 .9l.5-1l.5 .6l.5-.8l.5 .8l.5-.8l.5 1l.5-.6l.5 .4l.5-.9l.5 1.2l.5-.8l.5 .6l.5-1.4l.5 1.4l.5-.6l.5 .7l.5-.6l.5 1.1l.5-1.3l.5 .9l.5-.9l.5 .6l.5-.3l.5 .4l.5-.8l.5 .8l.5-.4l.5 .4l.5-.5l.5 .4l.5-.3l.5 .5l.5-.4l.5 .4l.5-.6l.5 .5l.5-.4l.5 .4l.5-.4l.5 .3l.5-.3l.5 .2l.5-.1l.5 .3l.5-.2l.5 .3l.5-.4l.5 .3l.5-.4l.5 .4l.5-.4l.5 .2l.5-.3l.5 .2l.5-.3l.5 .3l.5-.5l.5 .4l.5-.5l.5 .5l.5-.3l.5 .3l.5-.1l.5 .4l.5-.5l.5 .6l.5-.4l.5 .4l.5-.4l.5 .2l.5-.6l.5 .8l.5-.6l.5 .4l.5-.3l.5 .2l.5-.2l.5 .5l.5-.3l.5 .2l.5-.3l.5 .5l.5-.6l.5 .5l.5-.4l.5 .2l.5-.3l.5 .6l.5-.6l.5 .3l.5-.3l.5 .3l.5-.1l.5 .2l.5-.2l.5 .3l.5-.3l.5 .2l.5-.4l.5 .3l.5-.4l.5 .3l.5-.1l.5 .3l.5-.3l.5 .3l.5-.3l.5 .2l.5-.2l.5 .3l.5-.4l.5 .4l.5-.4l.5 .2l.5-.4l.5 .2l.5-.3l.5 .1l.5-.4l.5 .5l.5-.3l.5 .4l.5-.1l.5 .3l.5-.1l.5 .3l.5-.2l.5 .3l.5-.5l.5 .6l.5-.6l.5 .3l.5-.3l.5 .3l.5-.3l.5 .3l.5-.3l.5 .3l.5-.5l.5 .4l.5-.4l.5 .6l.5-.4l.5 .9l.5-1l.5 .6l.5-1l.5 1.5l.5-1.3l.5 1l.5-1l.5 .8l.5-.5l.5 .4l.5-.4l.5 .6l.5-.5l.5 .4l.5-.8l.5 .7l.5-.7l.5 .9l.5-.9l.5 1l.5-.4l.5 .4l.5-.4l.5 .6l.5-.6l.5 .4l.5-.5l.5 .4l.5-.5l.5 .3l.5-.4l.5 .3l.5-.4l.5 .5l.5-.3l.5 .2l.5-.3l.5 .3l.5-.3l.5 .3l.5-.2l.5 .3l.5-.4l.5 0l.5-.4l.5 .5l.5-.1l.5 .3l.5-.2l.5 .5l.5-.4l.5 .3l.5-.4l.5 .4l.5-.5l.5 .4l.5-.7l.5 .7l.5-.4l.5 .3l.5-.6l.5 .5l.5-.3l.5 .3l.5-.1l.5 .3l.5-.7l.5 .5l.5-.5l.5 .5l.5-.9l.5 .9l.5-.9l.5 .9l.5-.2l.5 .5l.5-.9l.5 .7l.5-.4l.5 .7l.5-.8l.5 .6l.5-.6l.5 .8l.5-.8l.5 .5l.5-.3l.5 .5l.5-.4l.5 .4l.5-.4l.5 .2l.5-.4l.5 .4l.5-.3l.5 .4l.5-.3l.5 .4l.5-.5l.5 .5l.5-.5l.5 .9l.5-1.1l.5 .8l.5-1l.5 .8l.5-.7l.5 .6l.5-.5l.5 .6l.5-.8l.5 .6l.5-.5l.5 1l.5-1l.5 .6l.5-.5l.5 .7l.5-.6l.5 .5l.5-.5l.5 .8l.5-.7l.5 1.1l.5-1l.5 .5l.5-.6l.5 .7l.5-.7l.5 .4l.5-.9l.5 1.1l.5-.5l.5 .3l.5-.3l.5 .6l.5-.7l.5 .5l.5-.3l.5 .4l.5-.5l.5 .5l.5-.7l.5 .4l.5-.4l.5 1.2l.5-1.2l.5 1l.5-1.7l.5 1.1l.5-.6l.5 .7l.5-.9l.5 .7l.5-.8l.5 1.2l.5-.9l.5 .5l.5-.5l.5 1.3l.5-1.5l.5 .8l.5-.4l.5 .7l.5-.7l.5 .5l.5-.8l.5 .7l.5-1.2l.5 1.1l.5-.5l.5 .5l.5-.3l.5 .4l.5-.5l.5 .4l.5-.5l.5 .4l.5-.5l.5 .7l.5-.4l.5 .4l.5-.3l.5 .4l.5-.4l.5 .5l.5-.5l.5 .5l.5-.9l.5 .8l.5-.6l.5 .8l.5-.7l.5 .3l.5-.3l.5 .5l.5-.7l.5 .4l.5-.7l.5 1.1l.5-1l.5 .5l.5-.4l.5 .6l.5-.3l.5 .8l.5-.9l.5 1.5l.5-1.2l.5 .6l.5-.5l.5 .6l.5-.8l.5 .4l.5-.4l.5 .4l.5-.5l.5 .6l.5-.9l.5 1l.5-.9l.5 .7l.5-.6l.5 .7l.5-.6l.5 .5l.5-.6l.5 .9l.5-.9l.5 1.3l.5-1.6l.5 1.1l.5-.7l.5 .7l.5-.5l.5 .8l.5-1.1l.5 .6l.5-.7l.5 .9l.5-.6l.5 .7l.5-1.3l.5 .9l.5-.5l.5 .7l.5-.7l.5 .9l.5-.7l.5 .9l.5-.6l.5 .4l.5-.4l.5 .4l.5-.5l.5 .4l.5-.6l.5 .2l.5-.4l.5 .4l.5-.4l.5 .3l.5-.5l.5 .6l.5-.4l.5 .5l.5-.4l.5 .6l.5-.6l.5 .6l.5-.7l.5 .7l.5-.4l.5 .4l.5-.5l.5 .4l.5-.7l.5 .4l.5-.8l.5 1l.5-.4l.5 .3l.5-.2l.5 .5l.5-.4l.5 .4l.5-.9l.5 1.1l.5-.7l.5 .4l.5-1l.5 1.5l.5-1.3l.5 .8l.5-1l.5 1l.5-.4l.5 .5l.5-1l.5 .9l.5-.6l.5 .6l.5-.4l.5 .5l.5-.3l.5 .3l.5-.7l.5 .8l.5-.5l.5 .3l.5-.4l.5 .4l.5-.5l.5 .3l.5-.3l.5 .5l.5-.5l.5 .5l.5-.2l.5 .3l.5-.2l.5 .2l.5-.5l.5 .3l.5-.2l.5 .2l.5-.1l.5 .3l.5-.2l.5 .5l.5-.5l.5 .3l.5-.4l.5 .3l.5-.2l.5 .2l.5-.4l.5 .4l.5-.5l.5 .3l.5-.3l.5 .2l.5-.2l.5 .2l.5-.3l.5 .4l.5-.4l.5 .5l.5-.4l.5 .4l.5-.3l.5 .3l.5-.3l.5 .6l.5-.4l.5 .2l.5-.4l.5 .2l.5-.2l.5 .3l.5-.3l.5 .3l.5-.3l.5 .4l.5-.8l.5 .6l.5-.2l.5 .3l.5-.4l.5 .8l.5-.8l.5 .8l.5-.4l.5 .3l.5-.5l.5 .5l.5-.6l.5 .6l.5-.6l.5 .3l.5-.5l.5 .4l.5-.3l.5 .3l.5-.7l.5 .7l.5-.3l.5 .5l.5-.7l.5 .5l.5-.3l.5 .3l.5-.3l.5 .5l.5-.5l.5 .6l.5-.4l.5 .4l.5-.7l.5 .9l.5-.7l.5 .2l.5-.3l.5 .3l.5-.4l.5 .7l.5-.6l.5 .2l.5-.1l.5 .6l.5-.7l.5 .5l.5-.3l.5 .2l.5-.3l.5 .3l.5-.3l.5 .3l.5-.4l.5 .3l.5-.4l.5 .3l.5-.4l.5 .3l.5-.2l.5 .3l.5-.2l.5 .2l.5-.2l.5 .2l.5-.5l.5 .6l.5-.6l.5 .4l.5-.6l.5 .9l.5-.4l.5 .5l.5-.6l.5 .4l.5-.5l.5 .8l.5-.6l.5 .5l.5-.6l.5 .6l.5-.5l.5 .6l.5-1.2l.5 1l.5-.4l.5 .3l.5-.3l.5 .7l.5-.6l.5 .4l.5-.3l.5 .4l.5-.5l.5 .3l.5-.7l.5 .7l.5-.5l.5 .6l.5-.4l.5 .2l.5-.6l.5 .8l.5-.6l.5 .5l.5-.4l.5 .4l.5-.6l.5 .5l.5-.4l.5 .6l.5-.6l.5 .6l.5-.5l.5 .4l.5-.4l.5 .4l.5-.4l.5 .6l.5-.7l.5 .5l.5-.3l.5 .6l.5-.6l.5 .2l.5-.3l.5 .3l.5-.4l.5 .4l.5-.5l.5 .5l.5-.6l.5 .5l.5-.6l.5 .8l.5-.4l.5 .4l.5-.5l.5 .3l.5-.2l.5 .3l.5-.6l.5 .6l.5-.6l.5 .6l.5-.3l.5 .4l.5-1.1l.5 1.3l.5-.6l.5 .7l.5-1.1l.5 .7l.5-.5l.5 .5l.5-.7l.5 .9l.5-.5l.5 .5l.5-.4l.5 1l.5-1.2l.5 .5l.5-.4l.5 .8l.5-.9l.5 .5l.5-.8l.5 .7l.5-.5l.5 1.1l.5-.9l.5 .5l.5-.5l.5 .5l.5-.5l.5 .5l.5-.5l.5 .9l.5-.9l.5 .4l.5-.8l.5 .7l.5-.5l.5 .8l.5-.8l.5 .8l.5-1l.5 .7l.5-.7l.5 .6l.5-.4l.5 .5l.5-.1l.5 .5l.5-.8l.5 .8l.5-.8l.5 .5l.5-.6l.5 .8l.5-.7l.5 .6l.5-.7l.5 .7l.5-.5l.5 .7l.5-.9l.5 .6l.5-.4l.5 .5l.5-.5l.5 .5l.5-.8l.5 .8l.5-.9l.5 .8l.5-.5l.5 .5l.5-.3l.5 .5l.5-.4l.5 .4l.5-.7l.5 .7l.5-.6l.5 .4l.5-.8l.5 .7l.5-.4l.5 .6l.5-.4l.5 .3l.5-.2l.5 .1l.5-.1l.5 .1l.5-.2l.5 .3l.5-.2l.5 .4l.5-.6l.5 .4l.5-.5l.5 .3l.5-.3l.5 .3l.5-.3l.5 .4l.5-.3l.5 .4l.5-.6l.5 .7l.5-.4l.5 .5l.5-.5l.5 .3l.5-.3l.5 .4l.5-.6l.5 2.2l.5-2.5l.5 1l.5-1l.5 1.5l.5-2l.5 1.9l.5-2.5l.5 2.6l.5-1.9l.5 2.6l.5-3.2l.5 2.5l.5-3.3l.5 2.9l.5-2.9l.5 3l.5-2.4l.5 2.6l.5-1.6l.5 1.7l.5-1.8l.5 1.4l.5-1.2l.5 1.3l.5-1l.5 1.7l.5-2.2l.5 2.1l.5-2.5l.5 3.4l.5-3.7l.5 3.2l.5-4.4l.5 6.8l.5-8.3l.5 11.1l.5-13.3l.5 10.5l.5-14.6l.5 13.5l.5-8l.5 11.7l.5-14.4l.5 18.1l.5-17.6l.5 15.9l.5-13.8l.5 10.8l.5-15.6l.5 15.5l.5-13.3l.5 18.8l.5-16.6l.5 16l.5-15.6l.5 16.1l.5-16.3l.5 10.9l.5-10.3l.5 10.6l.5-9.1l.5 11.9l.5-15.2l.5 8.9l.5-9.3l.5 10.6l.5-6l.5 8.8l.5-7.4l.5 3.6l.5-8l.5 10.9l.5-11.1l.5 9.5l.5-7.6l.5 7.5l.5-5.9l.5 9.6l.5-18.5l.5 21l.5-12.8l.5 7.1l.5-8.2l.5 9.9l.5-8.2l.5 6.3l.5-8.3l.5 6.8l.5-7l.5 7.9l.5-9.4l.5 15.1l.5-18.1l.5 12.6l.5-10.4l.5 9.8l.5-11.8l.5 15.3l.5-11l.5 13.3l.5-10.9l.5 9.4l.5-9l.5 5.2l.5-5.9l.5 3.6l.5-3.8l.5 4.4l.5-4.4l.5 4.8l.5-5.4l.5 6l.5-4.8l.5 5.1l.5-8.6l.5 9l.5-6.1l.5 7l.5-9.2l.5 7.3l.5-5.3l.5 5.3l.5-6.6l.5 6.3l.5-5l.5 4.9l.5-4.1l.5 4.6l.5-8l.5 6.7l.5-3.5l.5 4.2l.5-3.1l.5 5.6l.5-6.9l.5 4.3l.5-6.6l.5 5.6l.5-2.6l.5 2.9l.5-2.1l.5 3.9l.5-3.9l.5 1.8l.5-3.5l.5 3.7l.5-3.1l.5 3.7l.5-4.8l.5 4.5l.5-4.1l.5 4.4l.5-3.8l.5 5l.5-4.4l.5 4.4l.5-6.3l.5 5.1l.5-4.4l.5 5.9l.5-6l.5 6.5l.5-8.4l.5 6.2l.5-5.3l.5 5.3l.5-3.8l.5 7.2l.5-9.9l.5 8.1l.5-6.3l.5 5.6l.5-7.7l.5 10.4l.5-7.4l.5 7l.5-7.1l.5 6.3l.5-6.6l.5 4.3l.5-5l.5 6.7l.5-7.7l.5 6.1l.5-5.8l.5 6.8l.5-6.1l.5 6.7l.5-7.8l.5 7.3l.5-6.7l.5 6.3l.5-4.8l.5 3.7l.5-4l.5 5.7l.5-4.7l.5 3.3l.5-3.1l.5 2.7l.5-5l.5 6.3l.5-4.5l.5 4l.5-4.5l.5 4.5l.5-5.3l.5 9.9l.5-8.5l.5 5.3l.5-7.4l.5 11l.5-13l.5 11.6l.5-8.4l.5 5.7l.5-11.7l.5 14.6l.5-9.9l.5 7.9l.5-18.1l.5 18.3l.5-10.9l.5 22.1l.5-35.3l.5 42l.5-36.9l.5 20.6l.5-11.6l.5 10.2l.5-7.1l.5 6.8l.5-5.8l.5 3.8l.5-4.5l.5 7.4l.5-6.3l.5 3.2l.5-4.5l.5 6.9l.5-6.8l.5 7.4l.5-8.7l.5 5.2l.5-2.6l.5 3.1l.5-2.8l.5 3.5l.5-5l.5 3.9l.5-3.1l.5 5.9l.5-7.6l.5 6.2l.5-8.8l.5 9.9l.5-16.2l.5 18.1l.5-9.5l.5 9.8l.5-20.1l.5 32l.5-24.6l.5 13.2l.5-15.9l.5 22l.5-21.7l.5 16l.5-47l.5 85l.5-61.9l.5 28.6l.5-28.9l.5 26.3l.5-21.1l.5 23.1l.5-35.1l.5 47l.5-41.3l.5 36.6l.5-28.3l.5 28.1l.5-31.9l.5 29.3l.5-32.5l.5 43l.5-43.3l.5 34.6l.5-33.7l.5 33.3l.5-35.9l.5 40l.5-38.1l.5 34.1l.5-27.1l.5 27.1l.5-38l.5 38l.5-28.6l.5 25.7l.5-29.7l.5 32.6l.5-33.3l.5 33.2l.5-29.9l.5 33l.5-31.2l.5 27.7l.5-46.5l.5 63l.5-43.6l.5 24.5l.5-24.3l.5 19.2l.5-17l.5 19.2l.5-28l.5 37l.5-24.9l.5 6.8l.5-8.6l.5 9.5l.5-30.8l.5 55l.5-31.3l.5 10.3l.5-10.9l.5 9.7l.5-7l.5 10.4l.5-14.4l.5 12.2l.5-18.1l.5 16.6l.5-9.3l.5 13.7l.5-14.6l.5 15l.5-23.4l.5 20.4l.5-13.9l.5 18.1l.5-14.2l.5 9.4l.5-12.8l.5 11.8l.5-10.3l.5 11.3l.5-17.7l.5 26l.5-27.2l.5 21.1l.5-21l.5 25.9l.5-18.6l.5 18.5l.5-20.9l.5 20.8l.5-20.1l.5 14.4l.5-19.2l.5 22.5l.5-22.2l.5 25l.5-20.2l.5 18l.5-19.4l.5 16.3l.5-12.2l.5 11.1l.5-11.7l.5 15.9l.5-14.6l.5 13.5l.5-18l.5 12.2l.5-9.9l.5 8.7l.5-8.3l.5 9.7l.5-14.1l.5 17.7l.5-14.1l.5 11.3l.5-9.7l.5 9.3l.5-6.1l.5 5.8l.5-7.8l.5 7.3l.5-8.4l.5 9.2l.5-7.6l.5 6.6l.5-5.5l.5 6.8l.5-15.3l.5 18.5l.5-11.1l.5 6.8l.5-6.8l.5 6.4l.5-6.8l.5 7.8l.5-8.4l.5 6.7l.5-6l.5 11.9l.5-15.2l.5 13.1l.5-16.3l.5 14.5l.5-9l.5 14l.5-15.3l.5 10l.5-7.9l.5 9.1l.5-13.4l.5 10.6l.5-8.6l.5 10.9l.5-13.9l.5 13.2l.5-13.1l.5 15l.5-10.2l.5 6.3l.5-7.9l.5 8.4l.5-5.8l.5 4.4l.5-7.6l.5 8.5l.5-5l.5 5.4l.5-6.2l.5 6.8l.5-8.9l.5 8l.5-6.8l.5 6.7l.5-7.8l.5 8.3l.5-6.4l.5 5.9l.5-5.8l.5 5l.5-7.6l.5 10l.5-9.4l.5 9.1l.5-6l.5 7l.5-7.5l.5 6.5l.5-4.9l.5 3.4l.5-6.6l.5 9l.5-11l.5 11.2l.5-11l.5 12.7l.5-10l.5 9l.5-7.6l.5 7.6l.5-9l.5 5.5l.5-5.6l.5 5.5l.5-8l.5 10.1l.5-6.9l.5 6.2l.5-8.2l.5 7l.5-6l.5 8.1l.5-5.6l.5 4.6l.5-7.4l.5 8l.5-6.8l.5 6.1l.5-5.6l.5 4.4l.5-3.5l.5 3.9l.5-4.4l.5 4l.5-4.1l.5 3.8l.5-7l.5 7.4l.5-5.9l.5 7.7l.5-9.4l.5 8.4l.5-7.3l.5 10.1l.5-9.7l.5 9.8l.5-7.8l.5 7.4l.5-7.1l.5 6.3l.5-6.6l.5 3.8l.5-5.3l.5 8.6l.5-10.3l.5 8.2l.5-4.8l.5 5.5l.5-6.1l.5 5.7l.5-7.7l.5 9.8l.5-8.3l.5 8.3l.5-6.7l.5 3.4l.5-5.2l.5 5.8l.5-4.6l.5 5.9l.5-8.3l.5 5.8l.5-3.2l.5 4.5l.5-5l.5 4.7l.5-3.7l.5 3.5l.5-4.1l.5 3.1l.5-2.8l.5 2.7l.5-2.3l.5 2.7l.5-4.6l.5 5.7l.5-7.5l.5 8.6l.5-5.6l.5 6.9l.5-9.9l.5 6.6l.5-4.2l.5 4.8l.5-5.7l.5 7.8l.5-7.4l.5 6l.5-3.8l.5 2.5l.5-2.9l.5 3.1l.5-2.7l.5 1.7l.5-2.8l.5 3.1l.5-3.5l.5 4.2l.5-3.8l.5 5.5l.5-4.7l.5 3.3l.5-3.1l.5 2.2l.5-3.9l.5 5.4l.5-4.6l.5 3.5l.5-4.6l.5 5.4l.5-4.9l.5 3.7l.5-4.1l.5 3.9l.5-3.6l.5 5.5l.5-5.9l.5 7.6l.5-6.9l.5 5.1l.5-4.8l.5 4.6l.5-3.7l.5 3.5l.5-4.1l.5 4.4l.5-3.8l.5 5.1l.5-6.1l.5 4l.5-4.8l.5 5.8l.5-5.6l.5 5.4l.5-5.6l.5 5.6l.5-5.3l.5 3.8l.5-3.7l.5 3.9l.5-4.2l.5 4.2l.5-3.5l.5 2.6l.5-2.2l.5 2l.5-1.5l.5 2.1l.5-1.6l.5 1.9l.5-1.7l.5 2.1l.5-3l.5 3.4l.5-3l.5 3.1l.5-3l.5 1.9l.5-2.4l.5 2.4l.5-2.3l.5 3.7l.5-4.1l.5 2.9l.5-2.5l.5 2.6l.5-2.3l.5 2.5l.5-2.5l.5 3l.5-3.1l.5 2.4l.5-3.1l.5 4.1l.5-4.5l.5 2.8l.5-2.7l.5 2.8l.5-1.6l.5 2.2l.5-2l.5 2.4l.5-2.8l.5 2l.5-2l.5 2.3l.5-2.2l.5 2.2l.5-2.5l.5 3l.5-3.2l.5 3.3l.5-2.5l.5 2.1l.5-3.4l.5 5.6l.5-7l.5 5.1l.5-2.9l.5 2.3l.5-2.4l.5 2.8l.5-3.7l.5 3.7l.5-4.7l.5 5.6l.5-4.6l.5 4.1l.5-3.4l.5 4.6l.5-5.5l.5 3.4l.5-3.6l.5 3.3l.5-3.6l.5 4.2l.5-2.6l.5 2.8l.5-2.7l.5 2.6l.5-2.4l.5 1.9l.5-1.7l.5 1.4l.5-1.5l.5 1.6l.5-1l.5 1.8l.5-2.7l.5 2.2l.5-2l.5 1.8l.5-3.3l.5 3.1l.5-1.6l.5 3.1l.5-3.9l.5 3.5l.5-3.4l.5 2.8l.5-2.3l.5 2.1l.5-1.5l.5 1.7l.5-2.2l.5 1.6l.5-1.6l.5 4l.5-4.6l.5 3.8l.5-4.2l.5 3.4l.5-2.9l.5 3.2l.5-2.9l.5 3.3l.5-3.2l.5 2.7l.5-3l.5 2.3l.5-2l.5 3l.5-3.6l.5 3.2l.5-2.8l.5 4.3l.5-3.8l.5 3.1l.5-2.6l.5 1.8l.5-3.2l.5 2.9l.5-2.5l.5 4.2l.5-5.6l.5 5.7l.5-5.1l.5 4.2l.5-4.7l.5 3.7l.5-3.6l.5 5.5l.5-4.5l.5 4.5l.5-5.5l.5 5.4l.5-4.4l.5 3.5l.5-2.6l.5 2.9l.5-3l.5 2.2l.5-4l.5 4.8l.5-3.3l.5 2.8l.5-3.2l.5 3.7l.5-4.6l.5 4l.5-2.9l.5 4l.5-3.9l.5 3l.5-3.9l.5 3.4l.5-3.3l.5 3.5l.5-3.7l.5 3.6l.5-2.1l.5 2.7l.5-3.2l.5 2.1l.5-2.3l.5 2.2l.5-2.6l.5 2.1l.5-2.1l.5 2.9l.5-2l.5 1.9l.5-1.9l.5 2.1l.5-1.7l.5 1.8l.5-1.8l.5 1.8l.5-2.2l.5 2.3l.5-2.2l.5 1.5l.5-1.4l.5 2.3l.5-2.1l.5 2.1l.5-2.2l.5 2.2l.5-3.1l.5 2.2l.5-1.9l.5 3.1l.5-3.5l.5 2.8l.5-3.2l.5 2.6l.5-2.8l.5 2.9l.5-2.1l.5 2.2l.5-1.6l.5 1.5l.5-1.4l.5 1.5l.5-1.4l.5 1.7l.5-1.6l.5 1l.5-1.7l.5 1.9l.5-2.2l.5 2l.5-1.3l.5 1.1l.5-1.5l.5 2l.5-1.8l.5 1.9l.5-2.1l.5 1.9l.5-2.1l.5 2.2l.5-2.2l.5 2l.5-1.1l.5 1.9l.5-1.7l.5 1.3l.5-2l.5 2.7l.5-3.1l.5 3.1l.5-3.1l.5 3.1l.5-3l.5 3.1l.5-3.4l.5 3.5l.5-2.7l.5 2.7l.5-2.5l.5 1.5l.5-1.7l.5 1.7l.5-1.4l.5 2l.5-2.2l.5 1.6l.5-2.6l.5 3.4l.5-2.3l.5 1.4l.5-2l.5 2.9l.5-2.5l.5 2.7l.5-2.8l.5 1.5l.5-2.4l.5 3.3l.5-3l.5 2.2l.5-1.8l.5 2.5l.5-2.3l.5 1.7l.5-1.6l.5 1.4l.5-1.6l.5 1.7l.5-1.4l.5 1.2l.5-1l.5 1l.5-.8l.5 .8l.5-.9l.5 .9l.5-.8l.5 1l.5-.9l.5 .9l.5-1.4l.5 1.3l.5-1.8l.5 1.4l.5-1.4l.5 1.5l.5-.6l.5 .6l.5-.7l.5 .7l.5-.5l.5 .7l.5-1.3l.5 1.2l.5-1l.5 1l.5-.7l.5 .5l.5-.5l.5 .6l.5-.9l.5 .9l.5-.5l.5 .7l.5-.8l.5 1.1l.5-1.7l.5 1.3l.5-1l.5 1.3l.5-1l.5 .9l.5-1l.5 .9l.5-.7l.5 .9l.5-1.1l.5 .9l.5-1.1l.5 .7l.5-.7l.5 .7l.5-.5l.5 .8l.5-.8l.5 .6l.5-.5l.5 .3l.5-.3l.5 .5l.5-.7l.5 .8l.5-.5l.5 .6l.5-.7l.5 .6l.5-.4l.5 .4l.5-.4l.5 .5l.5-.3l.5 .2l.5-.3l.5 .1l.5-.4l.5 .4l.5-.5l.5 .3l.5-.3l.5 .5l.5-.3l.5 .3l.5-.4l.5 .2l.5-.1l.5 .3l.5-.2l.5 .2l.5-.3l.5 .3l.5-.2l.5 .3l.5-.3l.5 .2l.5-.2l.5 .2l.5-.2l.5 .1l.5-.2l.5 .2l.5-.3l.5 .3l.5-.2l.5 .2l.5-.2l.5 .3l.5-.2l.5 .2l.5-.3l.5 .3l.5-.1l.5 .1l.5-.2l.5 .2l.5-.1l.5 .1l.5-.3l.5 .3l.5-.2l.5 .5l.5-.5l.5 .3l.5-.2l.5 .2l.5-.3l.5 .4l.5-.3l.5 .3l.5-.4l.5 .5l.5-.4l.5 .1l.5-.2l.5 .2l.5-.2l.5 .3l.5-.2l.5 .1l.5-.1l.5 .1l.5-.3l.5 .3l.5-.2l.5 .2l.5-.3l.5 .2l.5-.2l.5 .2l.5-.2l.5 .2l.5-.3l.5 .3l.5-.2l.5 .3l.5-.3l.5 .2l.5-.2l.5 .3l.5-.4l.5 .4l.5-.3l.5 .4l.5-.3l.5 .5l.5-.6l.5 .4l.5-.3l.5 .3l.5-.4l.5 .2l.5-.2l.5 .2l.5-.1l.5 .2l.5-.4l.5 .5l.5-.4l.5 .3l.5-.4l.5 .3l.5-.2l.5 .4l.5-.4l.5 .4l.5-.4l.5 .4l.5-.4l.5 .4l.5-.5l.5 .4l.5-.3l.5 .6l.5-.5l.5 .5l.5-.4l.5 .2l.5-.4l.5 .3l.5-.2l.5 .3l.5-.3l.5 .2l.5-.3l.5 .4l.5-.4l.5 .4l.5-.2l.5 .2l.5-.3l.5 .3l.5-.2l.5 .1l.5 0l.5 .2l.5-.3l.5 .2l.5-.2l.5 .2l.5-.4l.5 .4l.5-.3l.5 .2l.5-.1l.5 .2l.5-.2l.5 .2l.5-.2l.5 .1l.5-.1l.5 .1l.5-.1l.5 .2l.5-.2l.5 .1l.5-.2l.5 .2l.5-.1l.5 .1l.5-.1l.5 .2l.5-.2l.5 .2l.5-.1l.5 .2l.5-.2l.5 .1l.5-.1l.5 .1l.5-.2l.5 .1l.5-.2l.5 .2l.5-.1l.5 .1l.5-.1l.5 .1l.5-.1l.5 0l.5-.1l.5 .2l.5-.2l.5 .2l.5-.1l.5 .2l.5-.2l.5 .2l.5-.3l.5 .3l.5-.2l.5 .1l.5-.1l.5 .2l.5-.3l.5 .2l.5-.1l.5 0l.5-.2l.5 .2l.5-.3l.5 .4l.5-.4l.5 .3l.5-.1l.5 .3l.5-.4l.5 .3l.5-.2l.5 .2l.5-.3l.5 .3l.5-.4l.5 .3l.5-.2l.5 .2l.5-.2l.5 .4l.5-.4l.5 .4l.5-.5l.5 .5l.5-.2l.5 .3l.5-.3l.5 .1l.5-.2l.5 .2l.5-.3l.5 .3l.5-.2l.5 .2l.5-.2l.5 .1l.5-.1l.5 .1l.5-.2l.5 .2l.5-.2l.5 .1l.5-.1l.5 .3l.5-.1l.5 .2l.5-.2l.5 .1l.5-.2l.5 .1l.5-.3l.5 .3l.5-.2l.5 .2l.5-.1l.5 .2l.5-.2l.5 .2l.5-.3l.5 .5l.5-.5l.5 .4l.5-.4l.5 .3l.5-.4l.5 .4l.5-.2l.5 .2l.5-.3l.5 .3l.5-.3l.5 .3l.5-.2l.5 .2l.5-.6l.5 .5l.5-.3l.5 .6l.5-.5l.5 .3l.5-.2l.5 .3l.5-.2l.5 .1l.5-.1l.5 .2l.5-.3l.5 .2l.5-.3l.5 .2l.5 0l.5 .2l.5-.2l.5 .2l.5-.2l.5 .2l.5-.2l.5 .1l.5-.2l.5 .2l.5-.2l.5 .2l.5-.1l.5 .2l.5-.2l.5 .2l.5-.2l.5 .1l.5-.1l.5 .2l.5-.3l.5 .2l.5-.3l.5 .2l.5-.1l.5 .3l.5-.3l.5 .2l.5-.2l.5 .2l.5-.2l.5 .3l.5-.3l.5 .2l.5-.2l.5 .3l.5-.3l.5 .2l.5-.1l.5 .1l.5-.1l.5 .1l.5-.2l.5 .2l.5-.1l.5 .2l.5-.5l.5 .5l.5-.3l.5 .2l.5-.2l.5 .2l.5-.2l.5 .2l.5-.2l.5 .3l.5-.3l.5 .5l.5-.5l.5 .3l.5-.3l.5 .5l.5-.5l.5 .3l.5-.2l.5 .1l.5-.2l.5 .2l.5-.1l.5 .1l.5-.3l.5 .2l.5-.1l.5 .3l.5-.2l.5 .2l.5-.2l.5 .1l.5-.2l.5 .3l.5-.3l.5 .1l.5-.1l.5 .2l.5-.1l.5 0l.5-.1l.5 .2l.5-.2l.5 .1l.5-.1l.5 .1l.5-.2l.5 .2l.5-.2l.5 .3l.5-.3l.5 .3l.5-.1l.5 .3l.5-.5l.5 .5l.5-.6l.5 .6l.5-.4l.5 .3l.5-.3l.5 .4l.5-.3l.5 .2l.5-.2l.5 .3l.5-.3l.5 .1l.5-.1l.5 .2l.5-.5l.5 .5l.5-.2l.5 .3l.5-.4l.5 .3l.5-.2l.5 .3l.5-.3l.5 .2l.5-.3l.5 .5l.5-.6l.5 .4l.5-.4l.5 .3l.5-.2l.5 .2l.5-.2l.5 .2l.5-.1l.5 .2l.5-.2l.5 .2l.5-.2l.5 .2l.5-.3l.5 .2l.5-.2l.5 .1l.5-.1l.5 .2l.5-.2l.5 .3l.5-.3l.5 .3l.5-.2l.5 .2l.5-.3l.5 .2l.5-.2l.5 .2l.5-.2l.5 .2l.5-.2l.5 .3l.5-.2l.5 .1l.5-.1l.5 .1l.5-.1l.5 .2l.5-.2l.5 .2l.5-.3l.5 .3l.5-.4l.5 .3l.5-.1l.5 .2l.5-.2l.5 .3l.5-.3l.5 .1l.5-.2l.5 .3l.5-.3l.5 .3l.5-.3l.5 .3l.5-.3l.5 .3l.5-.5l.5 .3l.5-.1l.5 .1l.5-.1l.5 .2l.5-.2l.5 .3l.5-.3l.5 .5l.5-.4l.5 .2l.5-.2l.5 .2l.5-.2l.5 .4l.5-.4l.5 .1l.5-.1l.5 .2l.5-.3l.5 .1l.5-.1l.5 .2l.5-.2l.5 .2l.5-.5l.5 .5l.5-.2l.5 .1l.5-.5l.5 .7l.5-.4l.5 .2l.5-.2l.5 .4l.5-.6l.5 .5l.5-.2l.5 .3l.5-.3l.5 .3l.5-.3l.5 .1l.5-.3l.5 .5l.5-.3l.5 .2l.5-.2l.5 .3l.5-.4l.5 .3l.5-.4l.5 .3l.5-.2l.5 .2l.5-.2l.5 .4l.5-.3l.5 .3l.5-.2l.5 .2l.5-.3l.5 .4l.5-.4l.5 .2l.5-.2l.5 .3l.5-.4l.5 .4l.5-.3l.5 .3l.5-.3l.5 .4l.5-.4l.5 .2l.5-.2l.5 .2l.5-.2l.5 .2l.5-.2l.5 .2l.5-.3l.5 .2l.5-.2l.5 .4l.5-.6l.5 .5l.5-.5l.5 .5l.5-.4l.5 .6l.5-.6l.5 .5l.5-.4l.5 .4l.5-.2l.5 .2l.5-.2l.5 .3l.5-.4l.5 .2l.5-.2l.5 .2l.5-.2l.5 .2l.5-.2l.5 .2l.5-.2l.5 .2l.5-.1l.5 .1l.5-.1l.5 .3l.5-.4l.5 .2l.5-.1l.5 .3l.5-.3l.5 .2l.5-.2l.5 .1l.5-.1l.5 .1l.5-.2l.5 .2l.5-.3l.5 .2l.5-.2l.5 .3l.5-.2l.5 .1l.5-.1l.5 .3l.5-.3l.5 .2l.5-.3l.5 .3l.5-.3l.5 .3l.5-.2l.5 .2l.5-.2l.5 .2l.5-.1l.5 .1l.5-.1l.5 .2l.5-.3l.5 .2l.5-.2l.5 .1l.5-.1l.5 .1l.5-.1l.5 .2l.5-.2l.5 .2l.5-.2l.5 .2l.5-.3l.5 .4l.5-1.2l.5 2.4l.5-3l.5 2.6l.5-1.9l.5 1.3l.5-.4l.5 .1l.5-.2l.5 .5l.5-1.3l.5 2.3l.5-3l.5 2.9l.5-2.3l.5 1.2l.5-.4l.5 .1l.5-.1l.5 .5l.5-1.4l.5 2.9l.5-3.7l.5 3.5l.5-2.5l.5 1.4l.5-.6l.5 .2l.5-.2l.5 .5l.5-1.4l.5 2.1l.5-3.2l.5 3.3l.5-2.1l.5 1.1l.5-.6l.5 .5l.5-.4l.5 1.2l.5-2.3l.5 2.6l.5-1.7l.5 .7l.5-.3l.5 .1l.5-.1l.5 .1l.5-.2l.5 .3l.5-.2l.5 .2l.5-.1l.5 .1l.5-.3l.5 .3l.5-.3l.5 .2l.5-.2l.5 .3l.5-.3l.5 .2l.5-.2l.5 .2l.5-.1l.5 .3l.5-.2l.5 .3l.5-.2l.5 .1l.5-.2l.5 .3l.5-.3l.5 .1l.5-.2l.5 .3l.5-.2l.5 .2l.5-.1l.5 .1l.5-.2l.5 .1l.5-.2l.5 .2l.5-.2l.5 .2l.5-.2l.5 .2l.5-.1l.5 .2l.5-.2l.5 .2l.5-.2l.5 .1l.5-.2l.5 .1l.5-.3l.5 .2l.5-.1l.5 .2l.5-.2l.5 .2l.5-.4l.5 .6l.5-.3l.5 .4l.5-.3l.5 .2l.5-.3l.5 .1l.5-.1l.5 .3l.5-.3l.5 .3l.5-.2l.5 .2l.5-.2l.5 .2l.5-.3l.5 .2l.5-.2l.5 .1l.5-.1l.5 .2l.5-.2l.5 .1l.5-.1l.5 .2l.5-.2l.5 .2l.5-.2l.5 .2l.5-.2l.5 .1l.5-.1l.5 .1l.5-.2l.5 .2l.5-.1l.5 .2l.5-.3l.5 .3l.5-.1l.5 .1l.5-.2l.5 .1l.5-.2l.5 .1l.5-.2l.5 .3l.5-.1l.5 .2l.5-.2l.5 .2l.5-.3l.5 .4l.5-.3l.5 .2l.5-.3l.5 .3l.5-.3l.5 .3l.5-.2"/>
<path class="w" stroke="#ff8000" d="M250.5,753.2l.5 .6l.5-.6l.5 .5l.5-.5l.5 .2l.5-.4l.5 .4l.5-.9l.5 .4l.5-.5l.5 .4l.5-.3l.5 .6l.5-.5l.5 .4l.5-.3l.5 .5l.5-.4l.5 .9l.5-.8l.5 .7l.5-1l.5 .8l.5-.7l.5 .7l.5-.5l.5 .3l.5-.3l.5 .4l.5-.4l.5 .3l.5-.3l.5 .5l.5-.5l.5 .5l.5-.5l.5 .3l.5-.3l.5 .1l.5-.5l.5 .6l.5-.4l.5 .3l.5-.2l.5 .1l.5-.2l.5 .1l.5-.4l.5 .4l.5-.4l.5-.2l.5-1l.5-.2l.5-.5l.5 3l.5 2.2l.5-1.2l.5-2.1l.5 .5l.5-.2l.5 .6l.5-.1l.5 .3l.5-.4l.5 .5l.5-1l.5 .7l.5-.6l.5 .4l.5-.4l.5 .4l.5-.4l.5 .3l.5-.6l.5 .7l.5-1l.5 1l.5-.4l.5 .5l.5-.8l.5 .8l.5-.6l.5 .3l.5-.3l.5 .3l.5-.5l.5 .4l.5-.3l.5 .6l.5-.4l.5 .7l.5-.2l.5 .7l.5-.5l.5 .3l.5-.4l.5 .2l.5-.7l.5 .6l.5-.6l.5 .5l.5-.6l.5 .4l.5-.6l.5 .4l.5-.4l.5 .8l.5-.9l.5 .3l.5-.4l.5 1l.5-.7l.5 .6l.5-.5l.5 .8l.5-.6l.5 .4l.5-.4l.5 .3l.5-.4l.5 .5l.5-.6l.5 .6l.5-.5l.5 .4l.5-1.4l.5 1.3l.5-.6l.5 .7l.5-.5l.5 .4l.5-.4l.5 .7l.5-.6l.5 .8l.5-.7l.5 .7l.5-.4l.5 .3l.5-.6l.5 .2l.5-.8l.5 1.1l.5-1l.5 1l.5-.8l.5 .7l.5-.5l.5 .5l.5-.6l.5 .8l.5-.9l.5 .4l.5-.7l.5 .7l.5-.4l.5 .9l.5-1l.5 .7l.5-.6l.5 .8l.5-1.3l.5 2.1l.5-1.5l.5 .8l.5-1.1l.5 1l.5-1.4l.5 1.3l.5-.8l.5 1.1l.5-1.9l.5 2.1l.5-1.7l.5 1.6l.5-.9l.5 .5l.5-.7l.5 .6l.5-.5l.5 .5l.5-.7l.5 1l.5-.9l.5 .5l.5-.4l.5 .4l.5-.5l.5 .7l.5-.3l.5 .6l.5-.5l.5 .2l.5-.7l.5 .4l.5-.3l.5 .2l.5-.3l.5 .3l.5-.2l.5 .4l.5-.2l.5 .3l.5-.3l.5 .4l.5-.5l.5 .5l.5-.5l.5 .6l.5-.7l.5 .8l.5-.8l.5 .5l.5-.4l.5 .3l.5-.4l.5 .2l.5-.3l.5 .3l.5-.3l.5 .8l.5-.8l.5 .4l.5-.6l.5 .7l.5-.5l.5 1.3l.5-1l.5 .6l.5-.9l.5 .5l.5-.7l.5 .6l.5-.6l.5 .8l.5-.5l.5 .7l.5-.7l.5 .6l.5-.5l.5 .3l.5-.5l.5 .6l.5-.8l.5 .5l.5-.5l.5 .6l.5-.2l.5 .5l.5-.5l.5 .7l.5-.8l.5 1.3l.5-.8l.5 .5l.5-.8l.5 .7l.5-1.1l.5 .7l.5-.7l.5 1.2l.5-.9l.5 .4l.5-.5l.5 .7l.5-.8l.5 .4l.5-.5l.5 .9l.5-.8l.5 .9l.5-1l.5 1.1l.5-1.3l.5 .7l.5-.4l.5 .3l.5-.8l.5 1l.5-.9l.5 .6l.5-1l.5 1.2l.5-.5l.5 1.2l.5-.9l.5 1l.5-1.8l.5 3.1l.5-3l.5 2.1l.5-2.9l.5 2.6l.5-2.4l.5 2.5l.5-1.6l.5 1.6l.5-2.1l.5 2.4l.5-2.6l.5 2.9l.5-3l.5 2.6l.5-2.6l.5 2.3l.5-2.3l.5 2.4l.5-3.2l.5 3.1l.5-2.3l.5 1.8l.5-1.3l.5 .7l.5-.3l.5 .5l.5 0l.5 .9l.5-.3l.5 .4l.5-.3l.5-.1l.5-1.1l.5-.5l.5-1.4l.5-.5l.5-1.4l.5-.1l.5-.8l.5 1.4l.5 1.8l.5 1.6l.5 2.1l.5 4.5l.5 5l.5 6.5l.5 6.7l.5-43.8l.5 2.4l.5 3.6l.5 2.2l.5 3.4l.5 2l.5 2.5l.5 1.4l.5 2.4l.5 1.1l.5 1.7l.5 .2l.5 .2l.5-.8l.5-.6l.5-1.2l.5-.5l.5-1.4l.5-.5l.5-.8l.5 0l.5-.1l.5 .7l.5 .4l.5 .9l.5 .5l.5 .8l.5 .1l.5 .5l.5-.3l.5 .3l.5-.4l.5 .2l.5-.6l.5 .1l.5-.5l.5 .2l.5-.6l.5 0l.5-.5l.5 0l.5-.3l.5 .5l.5-.2l.5 .5l.5-.1l.5 .8l.5-.6l.5 .7l.5-.5l.5 .6l.5-1l.5 .9l.5-.6l.5 .3l.5-.8l.5 .2l.5-.4l.5 .4l.5-.3l.5 .6l.5-.6l.5 .4l.5-.6l.5 .6l.5-.4l.5 .4l.5-.1l.5 .5l.5-.5l.5 .3l.5-1l.5 1l.5-.7l.5 .5l.5-.4l.5 .7l.5-.4l.5 .3l.5-.5l.5 .4l.5-.5l.5 .5l.5-.8l.5 1.1l.5-.6l.5 .8l.5-.8l.5 .6l.5-.6l.5 .9l.5-.8l.5 .6l.5-.7l.5 .9l.5-.9l.5 .5l.5-.5l.5 .5l.5-.6l.5 .7l.5-1.1l.5 1.2l.5-1l.5 .6l.5-.8l.5 1l.5-.6l.5 .5l.5-.7l.5 1l.5-.6l.5 .8l.5-.9l.5 1.6l.5-2.2l.5 1.3l.5-1l.5 .5l.5-1.5l.5 1.6l.5-1.3l.5 1.2l.5-.7l.5 1.1l.5-1.1l.5 1.3l.5-.7l.5 1l.5-1.2l.5 .9l.5-1l.5 .7l.5-.6l.5 .5l.5-.5l.5 .8l.5-.8l.5 .5l.5-.4l.5 .3l.5-.3l.5 .5l.5-.4l.5 .4l.5-.5l.5 .5l.5-.8l.5 .4l.5-.4l.5 .7l.5-.5l.5 .4l.5-.3l.5 .3l.5-.3l.5 .3l.5-.3l.5 .3l.5-.3l.5 .4l.5-.3l.5 .5l.5-.5l.5 .3l.5-.5l.5 .5l.5-.2l.5 .4l.5-.7l.5 .3l.5-.7l.5 .4l.5-.3l.5 .5l.5-.4l.5 .5l.5-.3l.5 .5l.5-.4l.5 .8l.5-.7l.5 .4l.5-.5l.5 .5l.5-.9l.5 1l.5-1.8l.5 1.4l.5-.7l.5 .7l.5-.9l.5 1.4l.5-1.1l.5 2.2l.5-1.8l.5 .5l.5-.7l.5 .7l.5-.4l.5 .7l.5-.6l.5 .5l.5-.5l.5 1.2l.5-1.4l.5 .4l.5-.5l.5 .6l.5-.5l.5 .4l.5-.3l.5 .4l.5-.4l.5 .4l.5-.3l.5 .3l.5-.5l.5 .2l.5-.5l.5 .2l.5-.3l.5 .5l.5-.4l.5 .4l.5-.3l.5 .2l.5-.2l.5 .3l.5-.3l.5 .5l.5-.6l.5 .4l.5-.2l.5 .4l.5-.4l.5 .4l.5-.3l.5 .3l.5-.5l.5 .3l.5-.7l.5 .7l.5-.8l.5 .8l.5-.5l.5 .5l.5-.4l.5 .6l.5-.7l.5 .9l.5-.7l.5 .3l.5-.8l.5 .7l.5-.7l.5 .7l.5-.7l.5 .5l.5-.3l.5 .6l.5-.4l.5 .8l.5-.8l.5 .8l.5-.7l.5 .5l.5-.4l.5 .3l.5-.4l.5 .5l.5-.7l.5 .3l.5-.7l.5 .8l.5-.7l.5 .6l.5-.5l.5 .4l.5-.3l.5 .8l.5-.6l.5 .6l.5-.7l.5 .3l.5-.5l.5 .7l.5-.6l.5 .8l.5-.8l.5 .8l.5-.3l.5 .5l.5-.4l.5 .5l.5-.6l.5 .3l.5-.4l.5 .8l.5-1.1l.5 .7l.5-.4l.5 .3l.5-.6l.5 .7l.5-.5l.5 .5l.5-.3l.5 .3l.5-.4l.5 .3l.5-.4l.5 .5l.5-.2l.5 .1l.5-.5l.5 .7l.5-.3l.5 .4l.5-.5l.5 .3l.5-.4l.5 .8l.5-1l.5 1.1l.5-.8l.5 .4l.5-.3l.5 .3l.5-.4l.5 .5l.5-.6l.5 .5l.5-.5l.5 .3l.5-.6l.5 .5l.5-.3l.5 .3l.5-.3l.5 .5l.5-.5l.5 .3l.5-.3l.5 .5l.5-.4l.5 .6l.5-.3l.5 .1l.5-.4l.5 .1l.5-.6l.5 .6l.5-.2l.5 .6l.5-.3l.5 .8l.5-.5l.5 .2l.5-.4l.5 .4l.5-.7l.5 .6l.5-.7l.5 .5l.5-.5l.5 .9l.5-1.2l.5 1.1l.5-1.2l.5 1.4l.5-1.4l.5 .9l.5-1.2l.5 1.9l.5-1.4l.5 1.8l.5-1.5l.5 .9l.5-2.3l.5 2l.5-1.7l.5 1.5l.5-.8l.5 1.3l.5-1.4l.5 .6l.5-1.6l.5 2.2l.5-1.7l.5 1.5l.5-.6l.5 .9l.5-1l.5 1l.5-1.3l.5 2l.5-2l.5 1.4l.5-.9l.5 1.1l.5-1.1l.5 1l.5-.9l.5 1.1l.5-1.1l.5 .6l.5-1.5l.5 1.3l.5-.9l.5 .8l.5-.8l.5 .8l.5-.4l.5 .6l.5-1.3l.5 1.3l.5-1l.5 1.8l.5-1.7l.5 1.2l.5-1.2l.5 .7l.5-.5l.5 .7l.5-.5l.5 .6l.5-.7l.5 1.2l.5-.9l.5 .5l.5-1.1l.5 1.3l.5-1.1l.5 .7l.5-1.1l.5 .6l.5-.6l.5 .5l.5-.5l.5 .4l.5-.4l.5 .7l.5-.4l.5 .5l.5-.6l.5 .7l.5-.4l.5 .3l.5-.5l.5 .6l.5-.3l.5 .7l.5-.7l.5 .7l.5-.6l.5 .5l.5-.7l.5 .6l.5-.7l.5 .7l.5-1.1l.5 .7l.5-.3l.5 .6l.5-.5l.5 .2l.5-.6l.5 .6l.5-.4l.5 .6l.5-.6l.5 .4l.5-.3l.5 .2l.5-.3l.5 .7l.5-.7l.5 .6l.5-.6l.5 .7l.5-.6l.5 .5l.5-.5l.5 .6l.5-.4l.5 .4l.5-.5l.5 .4l.5-.9l.5 1l.5-.6l.5 .3l.5-.5l.5 .3l.5-.2l.5 .4l.5-.6l.5 .8l.5-.6l.5 .7l.5-.7l.5 1l.5-.6l.5 .5l.5-.7l.5 .8l.5-1.1l.5 .5l.5-.6l.5 .8l.5-.8l.5 .9l.5-.4l.5 .7l.5-1.2l.5 1.3l.5-1.2l.5 1.3l.5-.8l.5 .9l.5-.7l.5 1.1l.5-.8l.5 1.7l.5-.5l.5 0l.5-1.9l.5 .1l.5-.7l.5 1l.5-.4l.5 .2l.5-.7l.5 .4l.5-.8l.5 .7l.5-.2l.5 .9l.5-.6l.5 .3l.5-.3l.5 .8l.5-1l.5 .8l.5-.5l.5 .8l.5-.6l.5 1.1l.5-1l.5 .7l.5-1.3l.5 .7l.5-.5l.5 .9l.5-.6l.5 .9l.5-1l.5 .7l.5-1l.5 .8l.5-.7l.5 1.2l.5-1.3l.5 1.7l.5-1.3l.5 .7l.5-1l.5 .8l.5-.7l.5 .5l.5-.5l.5 1l.5-1.1l.5 .6l.5-.5l.5 .3l.5-.6l.5 .7l.5-.8l.5 .6l.5-.3l.5 .5l.5-1.1l.5 1.3l.5-.9l.5 .6l.5-.4l.5 .5l.5-.2l.5 .3l.5-.6l.5 .4l.5-.7l.5 .6l.5-.3l.5 .3l.5-.1l.5 .5l.5-.4l.5 .3l.5-.7l.5 .8l.5-.5l.5 .7l.5-.7l.5 .4l.5-.5l.5 .5l.5-.6l.5 .3l.5-.5l.5 .6l.5-.3l.5 .2l.5-.5l.5 .9l.5-.6l.5 .5l.5-.5l.5 .8l.5-1l.5 .9l.5-1l.5 .9l.5-1.1l.5 1.1l.5-.8l.5 .7l.5-1l.5 .9l.5-.6l.5 .8l.5-.7l.5 1.1l.5-1.4l.5 1.3l.5-1.2l.5 .8l.5-.3l.5 .5l.5-1.1l.5 1.6l.5-1.2l.5 .8l.5-.7l.5 1.5l.5-1.7l.5 .5l.5-.6l.5 .8l.5-.9l.5 1.2l.5-1.4l.5 1.1l.5-.6l.5 .5l.5-.3l.5 .5l.5-.5l.5 .7l.5-.5l.5 .4l.5-.4l.5 .9l.5-1l.5 .7l.5-.5l.5 .4l.5-.7l.5 .7l.5-.6l.5 .3l.5-.6l.5 .6l.5-1.4l.5 .7l.5-.4l.5 .5l.5-.2l.5 .5l.5-1.1l.5 1.6l.5-.9l.5 .7l.5-.6l.5 .3l.5-.6l.5 .8l.5-.9l.5 .9l.5-.7l.5 .7l.5-1l.5 1.2l.5-1.2l.5 1.2l.5-.7l.5 .7l.5-.6l.5 .4l.5-.7l.5 .8l.5-1.1l.5 .6l.5-.4l.5 1l.5-1.5l.5 1.3l.5-.7l.5 .8l.5-.9l.5 1.3l.5-1.3l.5 1.3l.5-1.1l.5 .6l.5-.6l.5 .7l.5-.6l.5 .7l.5-.3l.5 .3l.5-.5l.5 .1l.5-.3l.5 .2l.5-.2l.5 .5l.5-.4l.5 .6l.5-.4l.5 .1l.5-.9l.5 .8l.5-.9l.5 1l.5-.4l.5 .3l.5-.6l.5 .5l.5-.5l.5 .7l.5-.6l.5 .6l.5-.6l.5 .6l.5-.4l.5 .9l.5-.7l.5 .7l.5-.9l.5 .8l.5-.7l.5 .2l.5-.5l.5 .7l.5-.9l.5 1.2l.5-1.1l.5 1.2l.5-1.2l.5 1.8l.5-1.6l.5 .7l.5-.5l.5 .9l.5-1.1l.5 .4l.5-.7l.5 .7l.5-.7l.5 .9l.5-.8l.5 .8l.5-.6l.5 .6l.5-.7l.5 .7l.5-.3l.5 .3l.5-.4l.5 .6l.5-.6l.5 .6l.5-.8l.5 .4l.5-.5l.5 .3l.5-.5l.5 1l.5-.7l.5 .5l.5-.4l.5 .4l.5-.6l.5 .8l.5-.5l.5 .6l.5-.9l.5 .7l.5-.5l.5 .2l.5-.6l.5 .6l.5-.8l.5 1l.5-1.5l.5 1.5l.5-.5l.5 .3l.5-1l.5 1.4l.5-.9l.5 .9l.5-.5l.5 .6l.5-.7l.5 .9l.5-2.1l.5 1.9l.5-1.2l.5 .7l.5-.5l.5 .9l.5-.7l.5 .7l.5-.5l.5 .5l.5-.6l.5 .6l.5-.5l.5 .5l.5-.7l.5 .9l.5-.6l.5 .8l.5-.8l.5 .5l.5-.8l.5 .8l.5-.8l.5 1.2l.5-1.2l.5 .8l.5-.9l.5 .9l.5-.5l.5 1l.5-1.6l.5 .8l.5-.4l.5 .6l.5-.6l.5 .8l.5-.6l.5 .8l.5-.7l.5 .5l.5-.7l.5 .5l.5-.4l.5 .5l.5-.5l.5 1.5l.5-1.8l.5 .8l.5-1.3l.5 1.4l.5-1.1l.5 .9l.5-1l.5 .8l.5-1.5l.5 1.7l.5-.8l.5 2.3l.5-2.1l.5 .6l.5-.8l.5 1.2l.5-.9l.5 .6l.5-1l.5 1.6l.5-1.3l.5 .8l.5-1.2l.5 1.1l.5-.8l.5 .9l.5-1.5l.5 1.2l.5-1.2l.5 1.4l.5-.8l.5 1.2l.5-1l.5 1l.5-2l.5 3.8l.5-6l.5 7.1l.5-7.5l.5 7.3l.5-6.4l.5 6.9l.5-8.5l.5 7.7l.5-5.9l.5 5.1l.5-4l.5 5.5l.5-5.4l.5 5.2l.5-6l.5 4.1l.5-3.8l.5 4.4l.5-5.1l.5 5.8l.5-6.1l.5 5.7l.5-5.3l.5 5.2l.5-5.6l.5 6l.5-5.5l.5 4.7l.5-4.6l.5 4l.5-5.2l.5 6.4l.5-4.5l.5 2.8l.5-2.8l.5 3l.5-3.3l.5 4.7l.5-4.1l.5 3l.5-4.1l.5 4.1l.5-3l.5 2.9l.5-2.6l.5 2.2l.5-2.1l.5 2.8l.5-2.8l.5 2.8l.5-2.5l.5 1.9l.5-2.4l.5 1.7l.5-2l.5 2.3l.5-2l.5 2.6l.5-2.8l.5 2.3l.5-2.4l.5 2.4l.5-2.4l.5 2.5l.5-2.7l.5 3.6l.5-3.6l.5 3.6l.5-2.7l.5 1.6l.5-2.2l.5 1.1l.5-1.2l.5 .1l.5-.9l.5 .5l.5-.3l.5 .6l.5 .1l.5 1.1l.5 .1l.5 .8l.5 .1l.5 .5l.5-.6l.5 .3l.5-.9l.5-.2l.5-1l.5-.1l.5-.9l.5 .4l.5-.3l.5 1l.5 .1l.5 1.3l.5 .4l.5 1l.5-.2l.5 .7l.5-.7l.5 .2l.5-1.3l.5-.3l.5-1.2l.5 0l.5-.9l.5 .4l.5-1l.5 1.5l.5-.4l.5 1.9l.5-.7l.5 2.1l.5-.5l.5 .7l.5-.6l.5 0l.5-1.9l.5 .9l.5-2l.5 .2l.5-1.3l.5 1.2l.5-1.2l.5 1.6l.5 .2l.5 1.5l.5 .2l.5 1.8l.5-.1l.5 1.1l.5-1.6l.5 .6l.5-1.9l.5-.2l.5-2.6l.5-.5l.5-2.4l.5-.1l.5-1.7l.5 .7l.5-1.4l.5 1.7l.5 1l.5 4.5l.5 .9l.5 1.5l.5 3.7l.5 9.6l.5 10.5l.5 15l.5-79.4l.5 10.3l.5 6.9l.5 7.7l.5 5.4l.5 5.3l.5 1.3l.5 2.6l.5-.2l.5 3.1l.5 .5l.5 1.7l.5-.8l.5-.3l.5-1.5l.5-1l.5-1.9l.5-.9l.5-1.9l.5 0l.5-1.5l.5 1.7l.5-2.7l.5 5.1l.5-3.3l.5 4.7l.5-4.5l.5 6l.5-6.7l.5 5.9l.5-4.3l.5 3.6l.5-3l.5 5.4l.5-6.4l.5 4.4l.5-4.6l.5 5.7l.5-5.4l.5 5.3l.5-7.1l.5 7.7l.5-8.6l.5 8.6l.5-6.6l.5 5.9l.5-7.6l.5 8.1l.5-6.7l.5 6l.5-5l.5 4.8l.5-6.3l.5 6.3l.5-5.4l.5 6l.5-6.3l.5 4.8l.5-4.9l.5 5.8l.5-5.6l.5 5.6l.5-5.5l.5 7.4l.5-7.9l.5 7.1l.5-8.7l.5 9.7l.5-7.6l.5 6.7l.5-9.3l.5 11.5l.5-10.3l.5 8.6l.5-11.6l.5 13.3l.5-12.2l.5 9.6l.5-10.4l.5 14.6l.5-12.9l.5 12.2l.5-13.6l.5 11.7l.5-9.6l.5 10.8l.5-12.3l.5 12.2l.5-10l.5 12.2l.5-17.7l.5 17.6l.5-17.9l.5 18l.5-16.3l.5 14.6l.5-14l.5 11.6l.5-7.9l.5 7.7l.5-9.6l.5 10.4l.5-8.6l.5 6.5l.5-7l.5 7l.5-8.3l.5 8l.5-4.7l.5 6.6l.5-7.8l.5 7.9l.5-6.5l.5 7.6l.5-10l.5 9.1l.5-9.7l.5 9.1l.5-6.5l.5 4.6l.5-5.4l.5 6.3l.5-6.7l.5 6.1l.5-6.7l.5 8.6l.5-7.6l.5 4.7l.5-5.5l.5 6.7l.5-5.7l.5 5.4l.5-4.7l.5 5.8l.5-4.5l.5 3.1l.5-4.1l.5 5.8l.5-7.6l.5 6.2l.5-6.7l.5 7.9l.5-6.4l.5 7.5l.5-7.8l.5 6l.5-6.3l.5 6.5l.5-5.4l.5 6.6l.5-7l.5 7.8l.5-8.2l.5 7.8l.5-9.4l.5 9.3l.5-9.6l.5 9.5l.5-8.1l.5 6.3l.5-5.5l.5 4.6l.5-4.9l.5 5.5l.5-4.3l.5 4.5l.5-5.1l.5 5l.5-6.1l.5 5.8l.5-4.2l.5 4.5l.5-5.1l.5 3.6l.5-3.6l.5 4.9l.5-5.6l.5 6.1l.5-4.6l.5 4.6l.5-4.6l.5 3.4l.5-3.7l.5 3.9l.5-3.7l.5 3.8l.5-3.5l.5 3.3l.5-3.8l.5 4.5l.5-5.7l.5 5.6l.5-6.2l.5 5.9l.5-5.7l.5 6.4l.5-6.1l.5 5.9l.5-4.9l.5 5.5l.5-5.9l.5 4.5l.5-3.9l.5 4l.5-5.5l.5 5.3l.5-3.9l.5 4.7l.5-4.6l.5 4.8l.5-5.3l.5 5.9l.5-5.5l.5 5.6l.5-5.7l.5 5.2l.5-5.6l.5 4.3l.5-4.7l.5 5l.5-5.2l.5 5.2l.5-4.4l.5 4.6l.5-4.8l.5 6.2l.5-6.6l.5 5.8l.5-5.2l.5 5.5l.5-4.5l.5 3.3l.5-3.9l.5 4.4l.5-4.6l.5 3.2l.5-2.5l.5 2.8l.5-3.1l.5 4.5l.5-4.8l.5 4.5l.5-4.3l.5 4.1l.5-3.9l.5 3.6l.5-3.6l.5 4.2l.5-5l.5 5.2l.5-4.7l.5 3.8l.5-2.4l.5 2.2l.5-2.9l.5 2.6l.5-2l.5 1.9l.5-2.1l.5 2.1l.5-2.4l.5 2.4l.5-2.5l.5 2.7l.5-3l.5 2.5l.5-2.2l.5 2.2l.5-2.2l.5 3l.5-3.7l.5 3.8l.5-3.3l.5 2.9l.5-3.1l.5 3.7l.5-3.4l.5 3.2l.5-3.3l.5 2.6l.5-2.5l.5 2.6l.5-2.7l.5 2.6l.5-2.3l.5 2.5l.5-2.4l.5 2l.5-2l.5 1.8l.5-1.6l.5 2l.5-2.5l.5 2.6l.5-2.6l.5 2.4l.5-2.3l.5 2l.5-1.7l.5 1.9l.5-1.6l.5 1.4l.5-1.4l.5 2.2l.5-2.3l.5 2.1l.5-2.2l.5 2l.5-2.1l.5 1.6l.5-1.8l.5 1.9l.5-1.7l.5 1.9l.5-1.7l.5 1.6l.5-1.6l.5 1.4l.5-1.1l.5 1l.5-1l.5 1.5l.5-1.3l.5 1.6l.5-1.9l.5 1.6l.5-1.3l.5 1.1l.5-1l.5 1l.5-1.1l.5 .8l.5-1.2l.5 1.1l.5-1.2l.5 1l.5-1l.5 1l.5-1.2l.5 1.4l.5-1.2l.5 1.4l.5-1.3l.5 1.2l.5-.6l.5 1l.5-1l.5 .8l.5-.9l.5 .8l.5-1.1l.5 1.1l.5-.9l.5 .7l.5-.7l.5 .9l.5-.9l.5 .5l.5-.5l.5 .5l.5-.6l.5 1l.5-.8l.5 .8l.5-.6l.5 .7l.5-.7l.5 .7l.5-.9l.5 .6l.5-1l.5 .9l.5-.5l.5 .7l.5-.8l.5 .9l.5-.9l.5 .9l.5-.7l.5 .4l.5-.4l.5 .4l.5-.3l.5 .2l.5-.5l.5 .4l.5-.4l.5 .4l.5-.4l.5 .4l.5-.4l.5 .4l.5-.4l.5 .4l.5-.3l.5 .3l.5-.3l.5 .4l.5-.2l.5 .4l.5-.7l.5 .8l.5-.6l.5 .7l.5-.5l.5 .5l.5-.5l.5 .7l.5-1.3l.5 1.3l.5-.8l.5 .7l.5-.8l.5 .8l.5-1.1l.5 1.1l.5-.8l.5 .7l.5-1.1l.5 1l.5-1.2l.5 1.6l.5-1.2l.5 .6l.5-.6l.5 .5l.5-.6l.5 .7l.5-.4l.5 .6l.5-.5l.5 .4l.5-.6l.5 .8l.5-.6l.5 .5l.5-.6l.5 .6l.5-.3l.5 .5l.5-.9l.5 .5l.5-.5l.5 .3l.5-.6l.5 .4l.5-.5l.5 .7l.5-.5l.5 .4l.5-.2l.5 .5l.5-1l.5 1l.5-.7l.5 .5l.5-.4l.5 .3l.5-.9l.5 1.2l.5-.7l.5 .5l.5-.4l.5 1l.5-1l.5 1.1l.5-.9l.5 .6l.5-.6l.5 .8l.5-1.3l.5 1.5l.5-1l.5 1l.5-1.3l.5 .8l.5-.7l.5 .9l.5-.9l.5 .5l.5-.8l.5 .8l.5-.6l.5 .9l.5-.6l.5 .4l.5-.2l.5 .4l.5-.6l.5 .4l.5-.5l.5 .5l.5-.4l.5 .3l.5-.4l.5 .4l.5-.5l.5 .6l.5-.4l.5 .4l.5-.5l.5 .8l.5-.2l.5 .1l.5-.8l.5 .6l.5-.5l.5 .5l.5-.7l.5 .6l.5-.3l.5 .8l.5-.5l.5 .5l.5-.8l.5 .7l.5-1.1l.5 .5l.5-.4l.5 .3l.5-.4l.5 .5l.5-.2l.5 .4l.5-.6l.5 .8l.5-.3l.5 .5l.5-.9l.5 .6l.5-.6l.5 .6l.5-1l.5 1.2l.5-.8l.5 .6l.5-.5l.5 .5l.5-.7l.5 .7l.5-.6l.5 .7l.5-.7l.5 .7l.5-.6l.5 1.1l.5-1l.5 .6l.5-.8l.5 .8l.5-.6l.5 .8l.5-1.2l.5 .6l.5-.7l.5 1.1l.5-1.2l.5 .9l.5-.4l.5 .7l.5-1l.5 1.3l.5-1.2l.5 .8l.5-.7l.5 1.4l.5-1.7l.5 .7l.5-.6l.5 .7l.5-1.7l.5 1.9l.5-1l.5 1l.5-1.4l.5 1.5l.5-.9l.5 1.1l.5-.6l.5 .6l.5-.9l.5 .8l.5-.7l.5 .4l.5-.4l.5 .4l.5-.8l.5 1l.5-.8l.5 .5l.5-1.3l.5 .8l.5-2l.5 .8l.5-1.7l.5 3.6l.5 1.1l.5 .4l.5-1.7l.5-.1l.5-.7l.5 1.1l.5-.6l.5 .6l.5-.7l.5 .8l.5-.5l.5 .5l.5-.3l.5 .6l.5-.5l.5 .6l.5-.9l.5 .8l.5-.6l.5 .7l.5-1.1l.5 .9l.5-.5l.5 .6l.5-1l.5 .7l.5-.8l.5 1.5l.5-1.6l.5 .4l.5-.5l.5 .6l.5-.3l.5 .3l.5-.4l.5 .5l.5-.9l.5 .8l.5-1.2l.5 1.1l.5-.4l.5 .5l.5-1.1l.5 1.3l.5-1.9l.5 2.3l.5-1.5l.5 1.1l.5-.5l.5 2l.5-2.4l.5 .8l.5-.3l.5 2.3l.5-.2l.5-.2l.5-2.2l.5 0l.5-1l.5 1.3l.5-.7l.5 1.6l.5-1.3l.5 .8l.5-.7l.5 .5l.5-1l.5 1.6l.5-1l.5 .9l.5-1.4l.5 1.1l.5-.4l.5 .6l.5-1.2l.5-.3l.5-2l.5-.1l.5-1.4l.5 4.9l.5 3.3l.5-.1l.5-3.6l.5-.3l.5-.6l.5 1l.5-.8l.5 1.2l.5-1.3l.5 1.1l.5-1.3l.5 1.1l.5-1.1l.5 1.2l.5-.5l.5 1.1l.5-1.1l.5 .5l.5-.5l.5 .9l.5-.9l.5 1.1l.5-1.4l.5 1l.5-.6l.5 .6l.5-.7l.5 .3l.5-.4l.5 .5l.5-.7l.5 .8l.5-.5l.5 .6l.5-.8l.5 .9l.5-.5l.5 .5l.5-.5l.5 .3l.5-.3l.5 .5l.5-.7l.5 .5l.5-.4l.5 .5l.5-.5l.5 .5l.5-.4l.5 0l.5-1.3l.5-.9l.5-1.5l.5-.2l.5 3.2l.5 3.7l.5-1.4l.5-1.2l.5-1.2l.5 .3l.5-.2l.5 .7l.5-.3l.5 .6l.5-.7l.5 .2l.5-.2l.5 .6l.5-.9l.5 .6l.5-.3l.5 .8l.5-.3l.5 .3l.5-.4l.5 .4l.5-.4l.5 .2l.5-.5l.5 .3l.5-.2l.5 .4l.5-.2l.5 .5l.5-.6l.5 .9l.5-.4l.5 .3l.5-.4l.5 .2l.5-.8l.5 .8l.5-.8l.5 .8l.5-.8l.5 1.3l.5-1.2l.5 .8l.5-.5l.5 .7l.5-.8l.5 .6l.5-.8l.5 1.5l.5-1.6l.5 .9l.5-1l.5 .7l.5-.9l.5 1l.5-1.3l.5 1.7l.5-1.1l.5 1.4l.5-1.1l.5 .2l.5-.2l.5 .2l.5-.3l.5 .3l.5-.2l.5 .1l.5-.1l.5 .2l.5-.2l.5 .2l.5-.3l.5 .2l.5-.2l.5 .2l.5-.2l.5 .2l.5-.1l.5 .1l.5-.1l.5 .2l.5-.3l.5 .3l.5-.2l.5 .2l.5-.1l.5 .3l.5-.4l.5 .3l.5-.3l.5 .3l.5-.3l.5 .2l.5-.2l.5 .1l.5-.2l.5 .2l.5-.1l.5 .1l.5 0l.5 .2l.5-.3l.5 .2l.5-.2l.5 .2l.5-.2l.5 .1l.5-.1l.5 .1l.5-.1l.5 .1l.5-.2l.5 .2l.5-.1l.5 .1l.5-.1l.5 .1l.5 0l.5 .1l.5-.1l.5 .1l.5-.2l.5 .1l.5 0l.5 .1l.5-.2l.5 .1l.5-.1l.5 .1l.5-.1l.5 .2l.5-.2l.5 .1l.5-.1l.5 .2l.5-.1l.5 .1l.5-.2l.5 .1l.5-.1l.5 .2l.5-.1l.5 .1l.5-.1l.5 0l.5-.1l.5 .2l.5-.2l.5 .3l.5-.3l.5 .2l.5-.1l.5 .1l.5-.1l.5 .1l.5-.1l.5 .1l.5-.1l.5 .1l.5-.2l.5 .2l.5-.1l.5 .2l.5-.2l.5 .2l.5-.3l.5 .2l.5-.1l.5 .1l.5-.1l.5 .2l.5-.3l.5 .2l.5-.1l.5 .1l.5-.1l.5 .1l.5-.2l.5 .2l.5-.2l.5 .2l.5-.2l.5 .2l.5-.1l.5 0l.5-.1l.5 .2l.5-.1l.5 .1l.5-.1l.5 .1l.5-.2l.5 .1l.5 0l.5 .1l.5-.1l.5 .1l.5-.1l.5 .1l.5 0l.5 .1l.5-.1l.5 .1l.5-.1l.5 0l.5-.1l.5 .1l.5-.1l.5 .1l.5-.1l.5 .1l.5-.2l.5 .1l.5-.1l.5 .1l.5-.1l.5 .1l.5-.1l.5 .1l.5-.1l.5 .1l.5-.1l.5 .1l.5-.1l.5 .1l.5-.1l.5 .2l.5-.3l.5 .3l.5-.2l.5 .2l.5-.1l.5 .1l.5-.1l.5 .2l.5-.2l.5 .2l.5-.2l.5 .1l.5-.1l.5 .1l.5-.1l.5 0l.5-.1l.5 .1l.5-.2l.5 .2l.5-.1l.5 .1l.5-.1l.5 .2l.5-.2l.5 .1l.5-.1l.5 .1l.5-.1l.5 .1l.5-.1l.5 .1l.5-.1l.5 .1l.5 0l.5 .1l.5 0l.5 0l.5-.1l.5 .1l.5-.1l.5 .1l.5-.1l.5 .2l.5-.2l.5 .2l.5-.2l.5 .1l.5-.1l.5 .1l.5-.1l.5 .1l.5-.2l.5 .2l.5-.2l.5 .2l.5-.1l.5 .1l.5-.1l.5 .2l.5-.2l.5 .2l.5-.2l.5 .1l.5-.2l.5 .2l.5-.1l.5 .1l.5-.2l.5 .3l.5-.2l.5 .1l.5-.1l.5 .2l.5-.2l.5 .1l.5-.2l.5 .2l.5-.2l.5 .2l.5-.3l.5 .3l.5-.2l.5 .2l.5-.2l.5 .1l.5-.2l.5 .3l.5-.2l.5 .1l.5-.1l.5 .2l.5-.2l.5 .3l.5-.2l.5 .1l.5-.1l.5 .1l.5-.2l.5 .2l.5-.2l.5 .3l.5-.3l.5 .2l.5-.2l.5 .2l.5-.2l.5 .3l.5-.3l.5 .2l.5-.1l.5 .1l.5-.1l.5 .2l.5-.3l.5 .2l.5-.1l.5 0l.5-.1l.5 .1l.5-.1l.5 .1l.5-.1l.5 .3l.5-.3l.5 .2l.5-.3l.5 .2l.5-.2l.5 .4l.5-.3l.5 .1l.5-.1l.5 .1l.5-.1l.5 .1l.5-.1l.5 .1l.5-.2l.5 .2l.5-.1l.5 .2l.5-.2l.5 .3l.5-.3l.5 .2l.5-.1l.5 .3l.5-.5l.5 .3l.5-.4l.5 .3l.5-.2l.5 .4l.5-.2l.5 .1l.5-.2l.5 .2l.5-.1l.5 .1l.5-.2l.5 .2l.5-.3l.5 .3l.5-.4l.5 .6l.5-.3l.5 .2l.5-.5l.5 .6l.5-.5l.5 .3l.5-.2l.5 .1l.5-.1l.5 .3l.5-.4l.5 .3l.5-.4l.5 .4l.5-.1l.5 .2l.5-.4l.5 .5l.5-.3l.5 .2l.5-.3l.5 .3l.5-.3l.5 .1l.5-.2l.5 .2l.5-.2l.5 .2l.5-.1l.5 .2l.5-.1l.5 .1l.5-.1l.5 .1l.5-.1l.5 .1l.5-.1l.5 .1l.5 0l.5 .1l.5-.2l.5 .1l.5-.2l.5 .2l.5-.2l.5 .1l.5-.1l.5 .1l.5-.1l.5 .2l.5-.2l.5 .1l.5-.2l.5 .2l.5-.2l.5 .2l.5-.2l.5 .3l.5-.2l.5 .2l.5-.2l.5 .3l.5-.4l.5 .3l.5-.3l.5 .3l.5-.3l.5 .3l.5-.1l.5 .3l.5-.4l.5 .2l.5-.2l.5 .3l.5-.2l.5 .2l.5-.3l.5 .3l.5-.2l.5 .1l.5-.1l.5 .3l.5-.4l.5 .2l.5-.1l.5 .1l.5-.1l.5 .1l.5-.1l.5 .1l.5-.2l.5 .2l.5-.1l.5 .1l.5-.2l.5 .2l.5-.2l.5 .2l.5-.2l.5 .2l.5-.2l.5 .3l.5-.3l.5 .2l.5-.3l.5 .2l.5-.2l.5 .2l.5-.2l.5 .3l.5-.2l.5 .4l.5-.3l.5 .2l.5-.3l.5 .2l.5-.3l.5 .4l.5-.4l.5 .2l.5-.4l.5 .7l.5-.5l.5 .4l.5-.5l.5 .5l.5-.3l.5 .2l.5-.2l.5 .2l.5-.2l.5 .4l.5-.3l.5 .1l.5-.1l.5 .1l.5-.2l.5 .1l.5-.1l.5 .1l.5 0l.5 .1l.5-.1l.5 .1l.5-.1l.5 .1l.5-.2l.5 .1l.5 0l.5 .1l.5-.1l.5 .1l.5-.1l.5 .1l.5-.2l.5 .2l.5-.1l.5 .1l.5-.2l.5 .2l.5-.2l.5 .3l.5-.3l.5 .2l.5-.1l.5 .2l.5-.2l.5 .1l.5-.2l.5 .3l.5-.3l.5 .1l.5-.1l.5 .2l.5-.5l.5 .4l.5-.1l.5 .2l.5-.2l.5 .2l.5-.2l.5 .3l.5-.4l.5 .3l.5-.3l.5 .4l.5-.4l.5 .3l.5-.3l.5 .2l.5-.1l.5 .1l.5-.1l.5 .1l.5-.2l.5 .2l.5 0l.5 .2l.5-.3l.5 .3l.5-.3l.5 .2l.5-.2l.5 .3l.5-.2l.5 .1l.5-.2l.5 .3l.5-.2l.5 .1l.5-.1l.5 .3l.5-.3l.5 .3l.5-.3l.5 .2l.5-.3l.5 .2l.5-.2l.5 .2l.5-.2l.5 .2l.5-.2l.5 .1l.5-.2l.5 .2l.5-.1l.5 .2l.5-.2l.5 .3l.5-.3l.5 .1l.5-.1l.5 .2l.5-.1l.5 .1l.5-.1l.5 .1l.5-.1l.5 .1l.5-.1l.5 .1l.5-.2l.5 .1l.5-.1l.5 .2l.5-.2l.5 .1l.5-.1l.5 .1l.5 0l.5 .1l.5-.1l.5 .1l.5-.1l.5 .1l.5-.1l.5 0l.5-.1l.5 .1l.5-.1l.5 .1l.5-.1l.5 .2l.5-.1l.5 .1l.5-.1l.5 .1l.5-.2l.5 .2l.5-.1l.5 .1l.5-.1l.5 .1l.5-.2l.5 .3l.5-.3l.5 .2l.5-.1l.5 0l.5-.1l.5 .2l.5-.2l.5 .2l.5-.1l.5 .1l.5-.2l.5 .2l.5-.1l.5 .1l.5-.2l.5 .1l.5-.1l.5 .1l.5-.2l.5 .2l.5-.4l.5-.4l.5-.9l.5-.1l.5 1.7l.5 1.9l.5-1.9l.5-1.6l.5 .8l.5 1.2l.5-.5l.5 .1l.5-1.2l.5-.7l.5 1.8l.5 2.3l.5-2.2l.5-1.9l.5 1l.5 1.2l.5-.3l.5-.1l.5-1l.5-.7l.5 1.8l.5 2.2l.5-2.2l.5-1.9l.5 1l.5 1.2l.5-.3l.5-.1l.5-1l.5-.7l.5 1.9l.5 2.1l.5-1.8l.5-1.7l.5 .8l.5 .9l.5-.8l.5-.5l.5 1.2l.5 1.4l.5-1.2l.5-.7l.5 0l.5 .3l.5 0l.5 .1l.5-.2l.5 .1l.5-.1l.5 .1l.5-.1l.5 .1l.5-.2l.5 .3l.5-.2l.5 .1l.5-.1l.5 .1l.5-.1l.5 .1l.5-.1l.5 .1l.5-.1l.5 .2l.5-.2l.5 .1l.5-.1l.5 .1l.5-.1l.5 .1l.5-.1l.5 .1l.5-.2l.5 .2l.5-.1l.5 .2l.5 .1l.5 .2l.5 0l.5 .2l.5-.2l.5-.2l.5-.6l.5 0l.5-2.2l.5-4.2l.5-2.3l.5 18.1l.5-1.6l.5-3.5l.5-3.6l.5-1.3l.5 .1l.5 .7l.5 .3l.5 .3l.5-.2l.5 0l.5-.3l.5 .2l.5-.2l.5 .2l.5-.2l.5 .2l.5-.2l.5 .3l.5-.3l.5 .4l.5-.5l.5 .4l.5-.3l.5 .1l.5-.1l.5 .3l.5-.4l.5 .2l.5-.2l.5 .6l.5-.5l.5 .3l.5-.3l.5 .3l.5-.4l.5 .3l.5-.2l.5 .2l.5-.3l.5 .4l.5-.4l.5 .3l.5-.3l.5 .3l.5-.3l.5 .4l.5-.3l.5 .3l.5-.3l.5 .3l.5-.3l.5 .2l.5-.2l.5 .2l.5-.2l.5 .1l.5-.2l.5 .3l.5-.2l.5 .2l.5-.2l.5 .1l.5 0l.5 .1l.5-.2l.5 .2l.5-.2l.5 .2l.5-.2l.5 .1l.5-.1l.5 .1l.5 0"/>
</g>
<g font-size="16">
<text x="242.9" y="655.9" text-anchor="end">3</text>
<text x="242.9" y="690.6" text-anchor="end">2</text>
<text x="242.9" y="725.2" text-anchor="end">1</text>
<text x="242.9" y="759.9" text-anchor="end">0</text>
<text x="242.9" y="794.6" text-anchor="end">-1</text>
<text x="242.9" y="829.2" text-anchor="end">-2</text>
<text x="242.9" y="863.9" text-anchor="end">-3</text>
<text x="250.5" y="880.2" text-anchor="middle">13:15</text>
<text x="547.9" y="880.2" text-anchor="middle">13:16</text>
<text x="845.3" y="880.2" text-anchor="middle">13:17</text>
<text x="1142.7" y="880.2" text-anchor="middle">13:18</text>
<text x="1440.1" y="880.2" text-anchor="middle">13:19</text>
<text x="1737.5" y="880.2" text-anchor="middle">13:20</text>
<text class="mx" x="250.2" y="644.8" font-size="12.6">×</text><text x="262.9" y="645">10</text><text x="280.6" y="637.1" font-size="13.4">-3</text>
</g>
<text class="b k" x="994" y="642" text-anchor="middle"><tspan class="la" font-size="17.6">2025</tspan><tspan class="cj" font-size="18.5">年</tspan><tspan class="la" font-size="17.6">5</tspan><tspan class="cj" font-size="18.5">月</tspan><tspan class="la" font-size="17.6">29</tspan><tspan class="cj" font-size="18.5">日全光纤海底地震仪监测数据（第三组三分量）</tspan></text>
<text class="b" x="994.6" y="902.7" text-anchor="middle"><tspan class="cj" font-size="17.6" letter-spacing="1.2">时间</tspan></text>
<text class="b" transform="translate(221.5,753) rotate(-90)" text-anchor="middle"><tspan class="cj" font-size="18.2">加速度</tspan><tspan class="la" font-size="17.6">(g)</tspan></text>
<path d="M1608.5,672.5h40" stroke="#ff0000" stroke-width="2" fill="none"/>
<text class="b k" x="1651.6" y="678.5"><tspan class="cj" font-size="15.6" letter-spacing="1.15">东西向</tspan><tspan class="la" font-size="16">(X)</tspan></text>
<path d="M1608.5,694.5h40" stroke="#0000ff" stroke-width="2" fill="none"/>
<text class="b k" x="1651.6" y="700.5"><tspan class="cj" font-size="15.6" letter-spacing="1.15">南北向</tspan><tspan class="la" font-size="16">(Y)</tspan></text>
<path d="M1608.5,715.5h40" stroke="#ff8000" stroke-width="2" fill="none"/>
<text class="b k" x="1651.6" y="721.5"><tspan class="cj" font-size="15.6" letter-spacing="1.15">垂直向</tspan><tspan class="la" font-size="16">(Z)</tspan></text>
</g>
</svg>
</body>
</html>
